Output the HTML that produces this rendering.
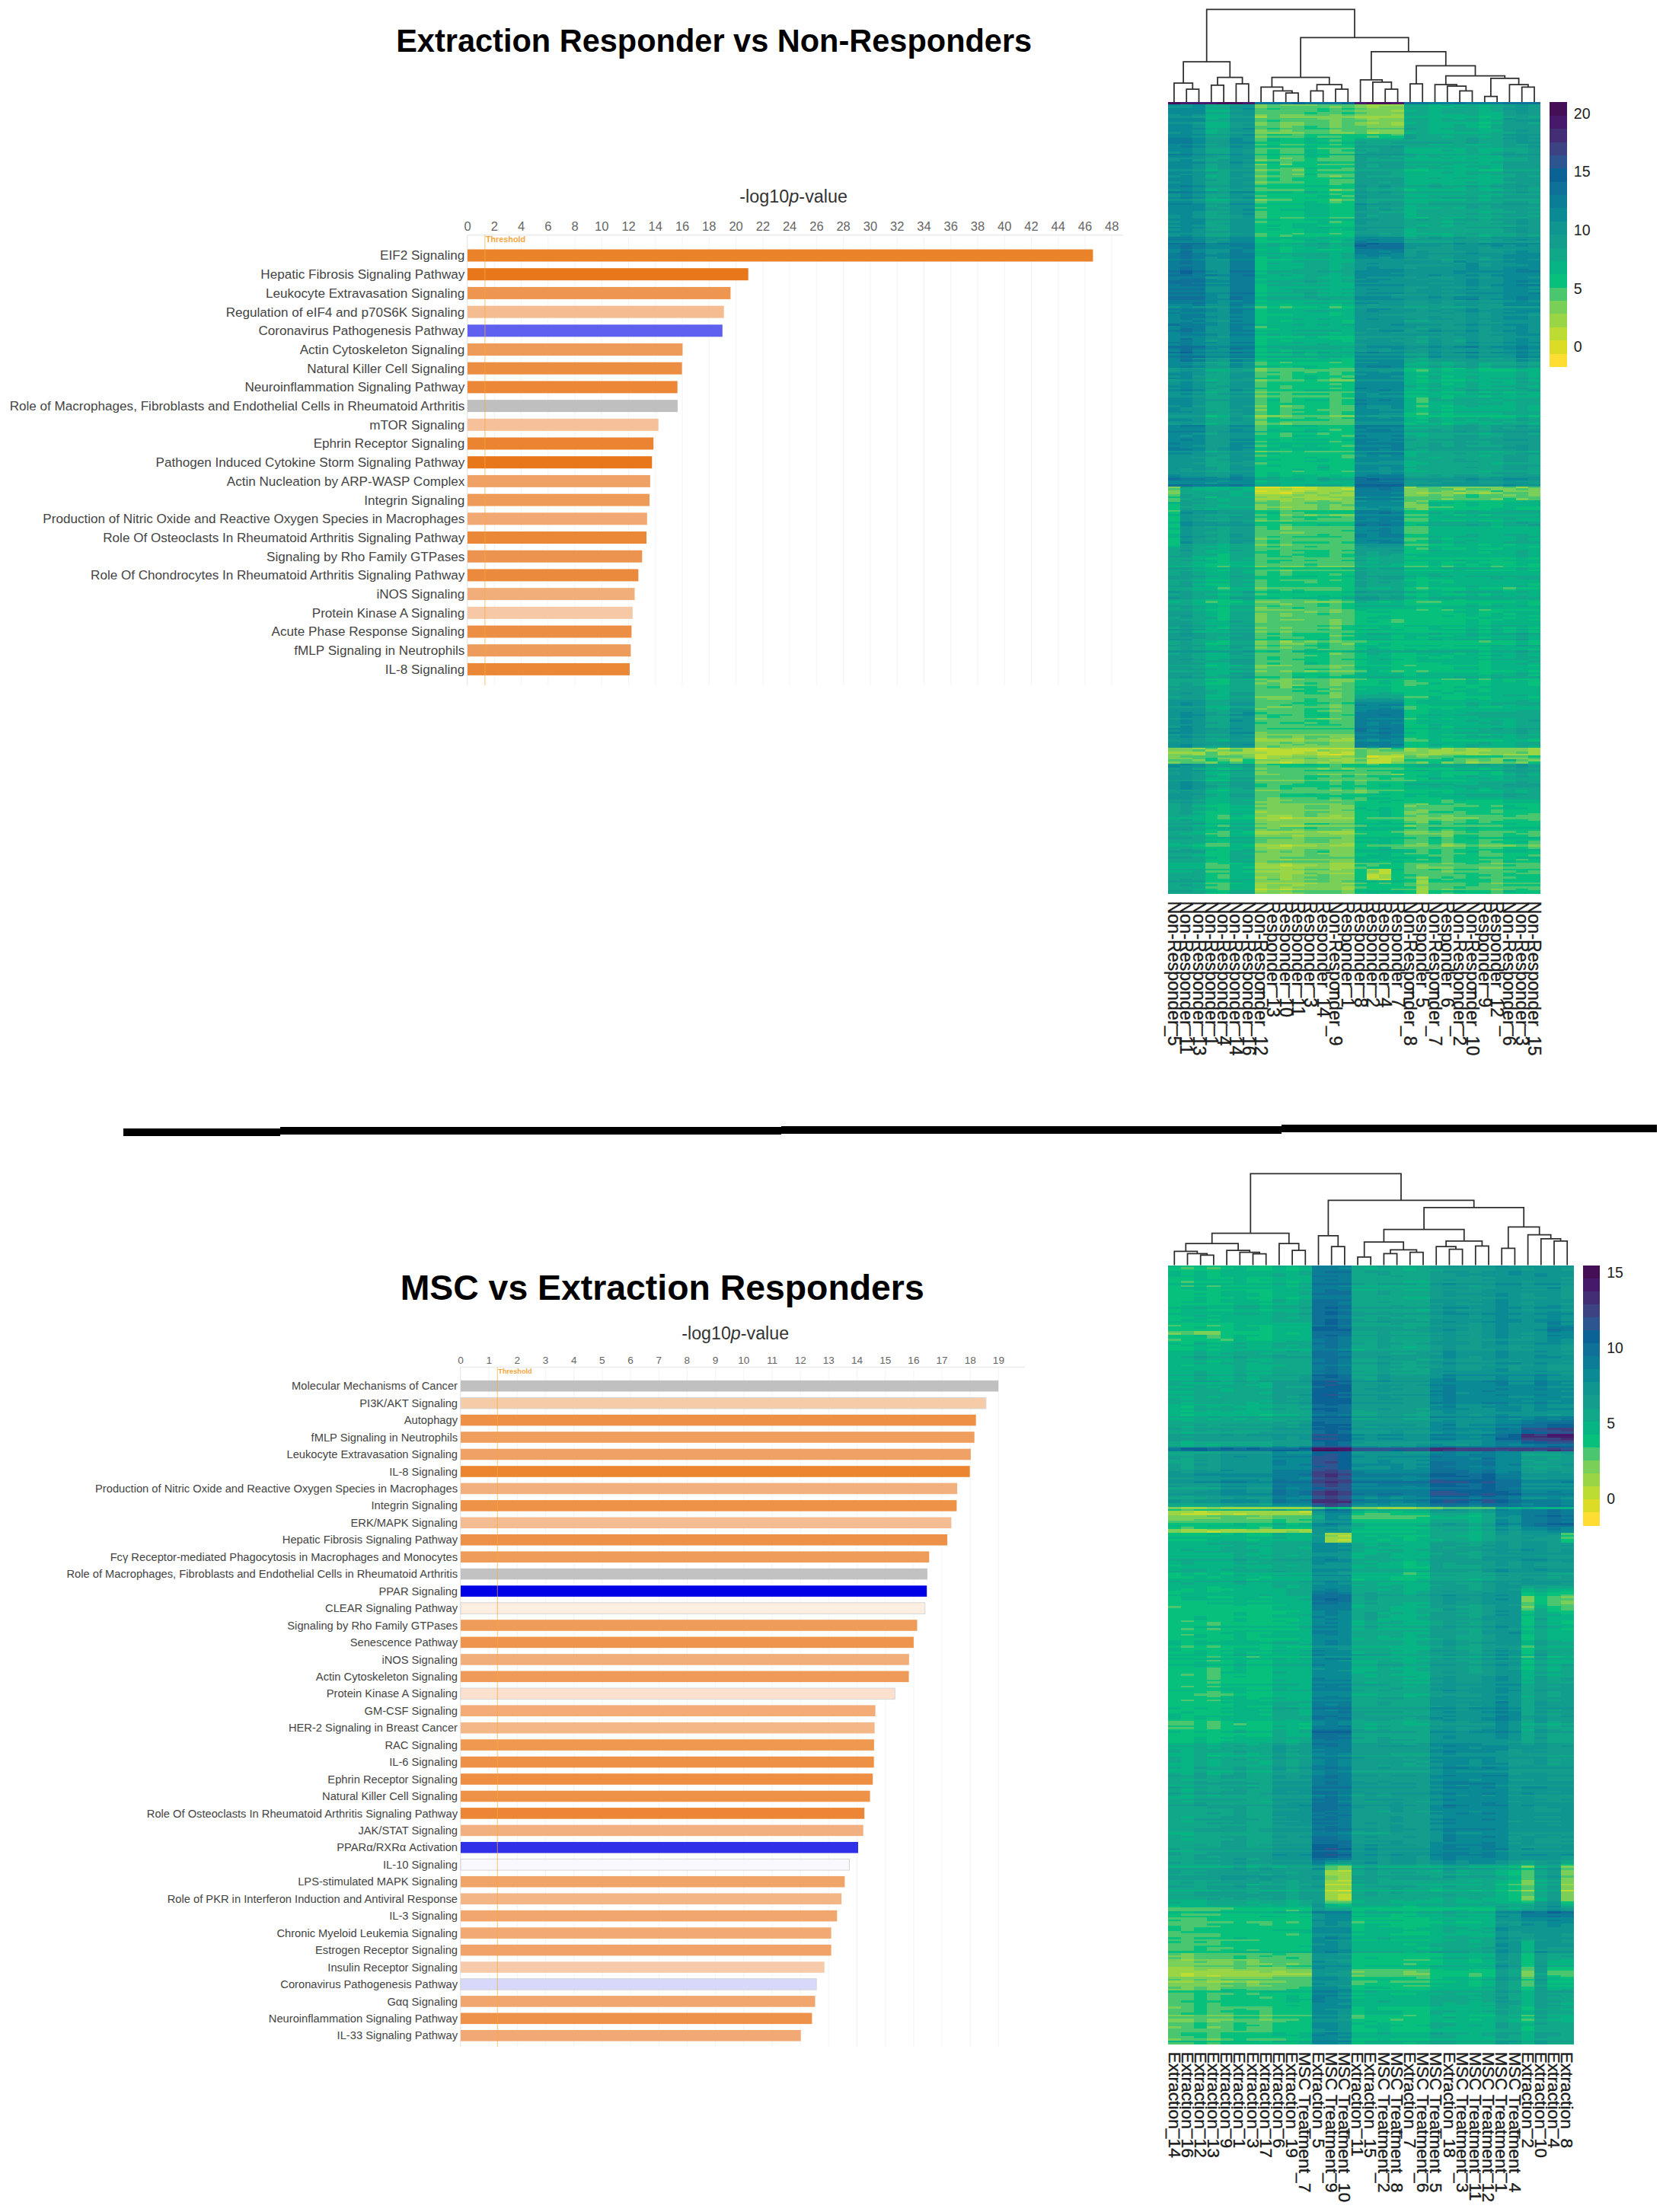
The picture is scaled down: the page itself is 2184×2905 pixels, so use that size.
<!DOCTYPE html><html><head><meta charset="utf-8"><title>Figure</title><style>html,body{margin:0;padding:0;background:#fff}svg{display:block}text{font-family:'Liberation Sans', sans-serif}</style></head><body><svg width="2184" height="2905" viewBox="0 0 2184 2905"><rect width="2184" height="2905" fill="#fff"/><line x1="614.0" y1="308.8" x2="614.0" y2="900.0" stroke="#f5f5f5" stroke-width="1.2"/><line x1="649.3" y1="308.8" x2="649.3" y2="900.0" stroke="#f5f5f5" stroke-width="1.2"/><line x1="684.5" y1="308.8" x2="684.5" y2="900.0" stroke="#f5f5f5" stroke-width="1.2"/><line x1="719.8" y1="308.8" x2="719.8" y2="900.0" stroke="#f5f5f5" stroke-width="1.2"/><line x1="755.0" y1="308.8" x2="755.0" y2="900.0" stroke="#f5f5f5" stroke-width="1.2"/><line x1="790.3" y1="308.8" x2="790.3" y2="900.0" stroke="#f5f5f5" stroke-width="1.2"/><line x1="825.6" y1="308.8" x2="825.6" y2="900.0" stroke="#f5f5f5" stroke-width="1.2"/><line x1="860.8" y1="308.8" x2="860.8" y2="900.0" stroke="#f5f5f5" stroke-width="1.2"/><line x1="896.1" y1="308.8" x2="896.1" y2="900.0" stroke="#f5f5f5" stroke-width="1.2"/><line x1="931.3" y1="308.8" x2="931.3" y2="900.0" stroke="#f5f5f5" stroke-width="1.2"/><line x1="966.6" y1="308.8" x2="966.6" y2="900.0" stroke="#f5f5f5" stroke-width="1.2"/><line x1="1001.9" y1="308.8" x2="1001.9" y2="900.0" stroke="#f5f5f5" stroke-width="1.2"/><line x1="1037.1" y1="308.8" x2="1037.1" y2="900.0" stroke="#f5f5f5" stroke-width="1.2"/><line x1="1072.4" y1="308.8" x2="1072.4" y2="900.0" stroke="#f5f5f5" stroke-width="1.2"/><line x1="1107.6" y1="308.8" x2="1107.6" y2="900.0" stroke="#f5f5f5" stroke-width="1.2"/><line x1="1142.9" y1="308.8" x2="1142.9" y2="900.0" stroke="#f5f5f5" stroke-width="1.2"/><line x1="1178.2" y1="308.8" x2="1178.2" y2="900.0" stroke="#f5f5f5" stroke-width="1.2"/><line x1="1213.4" y1="308.8" x2="1213.4" y2="900.0" stroke="#f5f5f5" stroke-width="1.2"/><line x1="1248.7" y1="308.8" x2="1248.7" y2="900.0" stroke="#f5f5f5" stroke-width="1.2"/><line x1="1283.9" y1="308.8" x2="1283.9" y2="900.0" stroke="#f5f5f5" stroke-width="1.2"/><line x1="1319.2" y1="308.8" x2="1319.2" y2="900.0" stroke="#f5f5f5" stroke-width="1.2"/><line x1="1354.5" y1="308.8" x2="1354.5" y2="900.0" stroke="#f5f5f5" stroke-width="1.2"/><line x1="1389.7" y1="308.8" x2="1389.7" y2="900.0" stroke="#f5f5f5" stroke-width="1.2"/><line x1="1425.0" y1="308.8" x2="1425.0" y2="900.0" stroke="#f5f5f5" stroke-width="1.2"/><line x1="1460.2" y1="308.8" x2="1460.2" y2="900.0" stroke="#f5f5f5" stroke-width="1.2"/><line x1="613.0" y1="308.8" x2="1475.0" y2="308.8" stroke="#ebebeb" stroke-width="1.5"/><line x1="613.5" y1="308.8" x2="613.5" y2="900.0" stroke="#e8e8e8" stroke-width="1.2"/><rect x="614.0" y="327.5" width="821.4" height="16.0" fill="#E98229"/><rect x="614.0" y="352.2" width="368.7" height="16.0" fill="#E8761A"/><rect x="614.0" y="376.9" width="345.4" height="16.0" fill="#EE9550"/><rect x="614.0" y="401.6" width="336.7" height="16.0" fill="#F4BC90"/><rect x="614.0" y="426.3" width="334.8" height="16.0" fill="#6060F0"/><rect x="614.0" y="451.0" width="282.4" height="16.0" fill="#EE9A58"/><rect x="614.0" y="475.7" width="281.6" height="16.0" fill="#EC8E42"/><rect x="614.0" y="500.4" width="275.7" height="16.0" fill="#EB8736"/><rect x="614.0" y="525.1" width="275.9" height="16.0" fill="#BFBFBF"/><rect x="614.0" y="549.8" width="250.7" height="16.0" fill="#F5C09A"/><rect x="614.0" y="574.5" width="244.2" height="16.0" fill="#EA8430"/><rect x="614.0" y="599.2" width="242.3" height="16.0" fill="#E8771C"/><rect x="614.0" y="623.9" width="239.9" height="16.0" fill="#F0A266"/><rect x="614.0" y="648.6" width="239.0" height="16.0" fill="#EE9A58"/><rect x="614.0" y="673.3" width="235.8" height="16.0" fill="#F1A872"/><rect x="614.0" y="698.0" width="235.0" height="16.0" fill="#EA8838"/><rect x="614.0" y="722.7" width="229.3" height="16.0" fill="#ED9350"/><rect x="614.0" y="747.4" width="224.4" height="16.0" fill="#EB8A3C"/><rect x="614.0" y="772.1" width="219.5" height="16.0" fill="#F2AE7A"/><rect x="614.0" y="796.8" width="216.8" height="16.0" fill="#F6C8A6"/><rect x="614.0" y="821.5" width="215.4" height="16.0" fill="#EC8E44"/><rect x="614.0" y="846.2" width="214.4" height="16.0" fill="#EE9C5C"/><rect x="614.0" y="870.9" width="213.0" height="16.0" fill="#EB8838"/><line x1="636.9" y1="308.8" x2="636.9" y2="900.0" stroke="#f7a93b" stroke-width="1.2" opacity="0.6"/><text x="637.9" y="318.4" font-size="10.8" font-weight="bold" fill="#f5a742">Threshold</text><g font-size="17.10" fill="#444" text-anchor="end"><text x="610.3" y="341.4">EIF2 Signaling</text><text x="610.3" y="366.1">Hepatic Fibrosis Signaling Pathway</text><text x="610.3" y="390.8">Leukocyte Extravasation Signaling</text><text x="610.3" y="415.5">Regulation of eIF4 and p70S6K Signaling</text><text x="610.3" y="440.2">Coronavirus Pathogenesis Pathway</text><text x="610.3" y="464.9">Actin Cytoskeleton Signaling</text><text x="610.3" y="489.6">Natural Killer Cell Signaling</text><text x="610.3" y="514.3">Neuroinflammation Signaling Pathway</text><text x="610.3" y="539.0">Role of Macrophages, Fibroblasts and Endothelial Cells in Rheumatoid Arthritis</text><text x="610.3" y="563.7">mTOR Signaling</text><text x="610.3" y="588.4">Ephrin Receptor Signaling</text><text x="610.3" y="613.1">Pathogen Induced Cytokine Storm Signaling Pathway</text><text x="610.3" y="637.8">Actin Nucleation by ARP-WASP Complex</text><text x="610.3" y="662.5">Integrin Signaling</text><text x="610.3" y="687.2">Production of Nitric Oxide and Reactive Oxygen Species in Macrophages</text><text x="610.3" y="711.9">Role Of Osteoclasts In Rheumatoid Arthritis Signaling Pathway</text><text x="610.3" y="736.6">Signaling by Rho Family GTPases</text><text x="610.3" y="761.3">Role Of Chondrocytes In Rheumatoid Arthritis Signaling Pathway</text><text x="610.3" y="786.0">iNOS Signaling</text><text x="610.3" y="810.7">Protein Kinase A Signaling</text><text x="610.3" y="835.4">Acute Phase Response Signaling</text><text x="610.3" y="860.1">fMLP Signaling in Neutrophils</text><text x="610.3" y="884.8">IL-8 Signaling</text></g><g font-size="16.50" fill="#666" text-anchor="middle"><text x="614.0" y="302.5">0</text><text x="649.3" y="302.5">2</text><text x="684.5" y="302.5">4</text><text x="719.8" y="302.5">6</text><text x="755.0" y="302.5">8</text><text x="790.3" y="302.5">10</text><text x="825.6" y="302.5">12</text><text x="860.8" y="302.5">14</text><text x="896.1" y="302.5">16</text><text x="931.3" y="302.5">18</text><text x="966.6" y="302.5">20</text><text x="1001.9" y="302.5">22</text><text x="1037.1" y="302.5">24</text><text x="1072.4" y="302.5">26</text><text x="1107.6" y="302.5">28</text><text x="1142.9" y="302.5">30</text><text x="1178.2" y="302.5">32</text><text x="1213.4" y="302.5">34</text><text x="1248.7" y="302.5">36</text><text x="1283.9" y="302.5">38</text><text x="1319.2" y="302.5">40</text><text x="1354.5" y="302.5">42</text><text x="1389.7" y="302.5">44</text><text x="1425.0" y="302.5">46</text><text x="1460.2" y="302.5">48</text></g><text x="971.3" y="265.9" font-size="23.0" fill="#333" textLength="141.8" lengthAdjust="spacingAndGlyphs">-log10<tspan font-style="italic">p</tspan>-value</text><text x="520.2" y="68.4" font-size="42.0" font-weight="bold" fill="#000" textLength="835.0" lengthAdjust="spacingAndGlyphs">Extraction Responder vs Non-Responders</text><line x1="605.0" y1="1795.6" x2="605.0" y2="2688.0" stroke="#f5f5f5" stroke-width="1.2"/><line x1="642.2" y1="1795.6" x2="642.2" y2="2688.0" stroke="#f5f5f5" stroke-width="1.2"/><line x1="679.4" y1="1795.6" x2="679.4" y2="2688.0" stroke="#f5f5f5" stroke-width="1.2"/><line x1="716.5" y1="1795.6" x2="716.5" y2="2688.0" stroke="#f5f5f5" stroke-width="1.2"/><line x1="753.7" y1="1795.6" x2="753.7" y2="2688.0" stroke="#f5f5f5" stroke-width="1.2"/><line x1="790.9" y1="1795.6" x2="790.9" y2="2688.0" stroke="#f5f5f5" stroke-width="1.2"/><line x1="828.1" y1="1795.6" x2="828.1" y2="2688.0" stroke="#f5f5f5" stroke-width="1.2"/><line x1="865.3" y1="1795.6" x2="865.3" y2="2688.0" stroke="#f5f5f5" stroke-width="1.2"/><line x1="902.4" y1="1795.6" x2="902.4" y2="2688.0" stroke="#f5f5f5" stroke-width="1.2"/><line x1="939.6" y1="1795.6" x2="939.6" y2="2688.0" stroke="#f5f5f5" stroke-width="1.2"/><line x1="976.8" y1="1795.6" x2="976.8" y2="2688.0" stroke="#f5f5f5" stroke-width="1.2"/><line x1="1014.0" y1="1795.6" x2="1014.0" y2="2688.0" stroke="#f5f5f5" stroke-width="1.2"/><line x1="1051.2" y1="1795.6" x2="1051.2" y2="2688.0" stroke="#f5f5f5" stroke-width="1.2"/><line x1="1088.3" y1="1795.6" x2="1088.3" y2="2688.0" stroke="#f5f5f5" stroke-width="1.2"/><line x1="1125.5" y1="1795.6" x2="1125.5" y2="2688.0" stroke="#f5f5f5" stroke-width="1.2"/><line x1="1162.7" y1="1795.6" x2="1162.7" y2="2688.0" stroke="#f5f5f5" stroke-width="1.2"/><line x1="1199.9" y1="1795.6" x2="1199.9" y2="2688.0" stroke="#f5f5f5" stroke-width="1.2"/><line x1="1237.1" y1="1795.6" x2="1237.1" y2="2688.0" stroke="#f5f5f5" stroke-width="1.2"/><line x1="1274.2" y1="1795.6" x2="1274.2" y2="2688.0" stroke="#f5f5f5" stroke-width="1.2"/><line x1="1311.4" y1="1795.6" x2="1311.4" y2="2688.0" stroke="#f5f5f5" stroke-width="1.2"/><line x1="604.0" y1="1795.6" x2="1346.0" y2="1795.6" stroke="#ebebeb" stroke-width="1.5"/><line x1="604.5" y1="1795.6" x2="604.5" y2="2688.0" stroke="#e8e8e8" stroke-width="1.2"/><rect x="605.0" y="1812.9" width="706.2" height="14.6" fill="#C0C0C0"/><rect x="605.0" y="1835.4" width="689.9" height="14.6" fill="#F6CBA8" stroke="#d6d6d6" stroke-width="1"/><rect x="605.0" y="1857.8" width="676.7" height="14.6" fill="#EE9045"/><rect x="605.0" y="1880.2" width="674.7" height="14.6" fill="#EF9E5E"/><rect x="605.0" y="1902.7" width="669.9" height="14.6" fill="#F0A266"/><rect x="605.0" y="1925.2" width="668.7" height="14.6" fill="#EC8530"/><rect x="605.0" y="1947.6" width="652.1" height="14.6" fill="#F2B07E"/><rect x="605.0" y="1970.1" width="651.4" height="14.6" fill="#EE9248"/><rect x="605.0" y="1992.5" width="644.4" height="14.6" fill="#F4BC92"/><rect x="605.0" y="2015.0" width="639.1" height="14.6" fill="#EE9148"/><rect x="605.0" y="2037.4" width="615.3" height="14.6" fill="#EF9C5A"/><rect x="605.0" y="2059.8" width="612.9" height="14.6" fill="#C2C2C2"/><rect x="605.0" y="2082.3" width="612.2" height="14.6" fill="#0000E6"/><rect x="605.0" y="2104.8" width="609.8" height="14.6" fill="#FDEEE2" stroke="#d6d6d6" stroke-width="1"/><rect x="605.0" y="2127.2" width="599.5" height="14.6" fill="#EF9C5A"/><rect x="605.0" y="2149.6" width="594.9" height="14.6" fill="#EE944C"/><rect x="605.0" y="2172.1" width="588.9" height="14.6" fill="#F2AE7A"/><rect x="605.0" y="2194.5" width="588.6" height="14.6" fill="#EF9A58"/><rect x="605.0" y="2217.0" width="570.3" height="14.6" fill="#FBE0CE" stroke="#d6d6d6" stroke-width="1"/><rect x="605.0" y="2239.4" width="544.6" height="14.6" fill="#F3AC78"/><rect x="605.0" y="2261.9" width="543.6" height="14.6" fill="#F4B888"/><rect x="605.0" y="2284.3" width="542.9" height="14.6" fill="#EF9850"/><rect x="605.0" y="2306.8" width="542.7" height="14.6" fill="#EE9045"/><rect x="605.0" y="2329.2" width="541.2" height="14.6" fill="#EE8E42"/><rect x="605.0" y="2351.7" width="537.6" height="14.6" fill="#EE9248"/><rect x="605.0" y="2374.1" width="530.2" height="14.6" fill="#EC8636"/><rect x="605.0" y="2396.6" width="528.7" height="14.6" fill="#F2B080"/><rect x="605.0" y="2419.0" width="522.0" height="14.6" fill="#3030E8"/><rect x="605.0" y="2441.5" width="510.5" height="14.6" fill="#F8F8FE" stroke="#d6d6d6" stroke-width="1"/><rect x="605.0" y="2463.9" width="504.4" height="14.6" fill="#F0A468"/><rect x="605.0" y="2486.4" width="500.1" height="14.6" fill="#F3B486"/><rect x="605.0" y="2508.8" width="494.3" height="14.6" fill="#F0A66C"/><rect x="605.0" y="2531.3" width="486.6" height="14.6" fill="#F1AA74"/><rect x="605.0" y="2553.8" width="486.6" height="14.6" fill="#F0A268"/><rect x="605.0" y="2576.2" width="477.7" height="14.6" fill="#F7CBAA"/><rect x="605.0" y="2598.6" width="467.2" height="14.6" fill="#D8D8FA" stroke="#d6d6d6" stroke-width="1"/><rect x="605.0" y="2621.1" width="465.5" height="14.6" fill="#F0A66C"/><rect x="605.0" y="2643.5" width="461.4" height="14.6" fill="#EE924A"/><rect x="605.0" y="2666.0" width="446.7" height="14.6" fill="#F1A874"/><line x1="653.3" y1="1795.6" x2="653.3" y2="2688.0" stroke="#f7a93b" stroke-width="1.2" opacity="0.6"/><text x="654.3" y="1803.6" font-size="9.2" font-weight="bold" fill="#f5a742">Threshold</text><g font-size="14.70" fill="#444" text-anchor="end"><text x="601.0" y="1825.3">Molecular Mechanisms of Cancer</text><text x="601.0" y="1847.7">PI3K/AKT Signaling</text><text x="601.0" y="1870.2">Autophagy</text><text x="601.0" y="1892.6">fMLP Signaling in Neutrophils</text><text x="601.0" y="1915.1">Leukocyte Extravasation Signaling</text><text x="601.0" y="1937.5">IL-8 Signaling</text><text x="601.0" y="1960.0">Production of Nitric Oxide and Reactive Oxygen Species in Macrophages</text><text x="601.0" y="1982.4">Integrin Signaling</text><text x="601.0" y="2004.9">ERK/MAPK Signaling</text><text x="601.0" y="2027.3">Hepatic Fibrosis Signaling Pathway</text><text x="601.0" y="2049.8">Fcγ Receptor-mediated Phagocytosis in Macrophages and Monocytes</text><text x="601.0" y="2072.2">Role of Macrophages, Fibroblasts and Endothelial Cells in Rheumatoid Arthritis</text><text x="601.0" y="2094.7">PPAR Signaling</text><text x="601.0" y="2117.1">CLEAR Signaling Pathway</text><text x="601.0" y="2139.6">Signaling by Rho Family GTPases</text><text x="601.0" y="2162.0">Senescence Pathway</text><text x="601.0" y="2184.5">iNOS Signaling</text><text x="601.0" y="2206.9">Actin Cytoskeleton Signaling</text><text x="601.0" y="2229.4">Protein Kinase A Signaling</text><text x="601.0" y="2251.8">GM-CSF Signaling</text><text x="601.0" y="2274.3">HER-2 Signaling in Breast Cancer</text><text x="601.0" y="2296.7">RAC Signaling</text><text x="601.0" y="2319.2">IL-6 Signaling</text><text x="601.0" y="2341.6">Ephrin Receptor Signaling</text><text x="601.0" y="2364.1">Natural Killer Cell Signaling</text><text x="601.0" y="2386.5">Role Of Osteoclasts In Rheumatoid Arthritis Signaling Pathway</text><text x="601.0" y="2409.0">JAK/STAT Signaling</text><text x="601.0" y="2431.4">PPARα/RXRα Activation</text><text x="601.0" y="2453.9">IL-10 Signaling</text><text x="601.0" y="2476.3">LPS-stimulated MAPK Signaling</text><text x="601.0" y="2498.8">Role of PKR in Interferon Induction and Antiviral Response</text><text x="601.0" y="2521.2">IL-3 Signaling</text><text x="601.0" y="2543.7">Chronic Myeloid Leukemia Signaling</text><text x="601.0" y="2566.1">Estrogen Receptor Signaling</text><text x="601.0" y="2588.6">Insulin Receptor Signaling</text><text x="601.0" y="2611.0">Coronavirus Pathogenesis Pathway</text><text x="601.0" y="2633.5">Gαq Signaling</text><text x="601.0" y="2655.9">Neuroinflammation Signaling Pathway</text><text x="601.0" y="2678.4">IL-33 Signaling Pathway</text></g><g font-size="13.60" fill="#666" text-anchor="middle"><text x="605.0" y="1790.9">0</text><text x="642.2" y="1790.9">1</text><text x="679.4" y="1790.9">2</text><text x="716.5" y="1790.9">3</text><text x="753.7" y="1790.9">4</text><text x="790.9" y="1790.9">5</text><text x="828.1" y="1790.9">6</text><text x="865.3" y="1790.9">7</text><text x="902.4" y="1790.9">8</text><text x="939.6" y="1790.9">9</text><text x="976.8" y="1790.9">10</text><text x="1014.0" y="1790.9">11</text><text x="1051.2" y="1790.9">12</text><text x="1088.3" y="1790.9">13</text><text x="1125.5" y="1790.9">14</text><text x="1162.7" y="1790.9">15</text><text x="1199.9" y="1790.9">16</text><text x="1237.1" y="1790.9">17</text><text x="1274.2" y="1790.9">18</text><text x="1311.4" y="1790.9">19</text></g><text x="895.3" y="1759.3" font-size="23.0" fill="#333" textLength="140.8" lengthAdjust="spacingAndGlyphs">-log10<tspan font-style="italic">p</tspan>-value</text><text x="525.7" y="1706.8" font-size="46.5" font-weight="bold" fill="#000" textLength="688.0" lengthAdjust="spacingAndGlyphs">MSC vs Extraction Responders</text><rect x="162" y="1482" width="206" height="10" fill="#000"/><rect x="368" y="1480" width="658" height="10" fill="#000"/><rect x="1026" y="1479" width="657" height="10" fill="#000"/><rect x="1683" y="1477" width="493" height="10" fill="#000"/><g shape-rendering="crispEdges"><rect x="1533.7" y="134" width="489.5" height="1040.3" fill="#10A888"/><path fill="#440F57" d="M1533.7 134h16.3v2.6h-16.3zM1794.8 134h32.6v2.6h-32.6zM1599 134h32.6v2.6h-32.6z"/><path fill="#46196A" d="M1778.5 134h16.3v2.6h-16.3zM1827.4 134h16.3v2.6h-16.3zM1631.6 134h16.3v2.6h-16.3zM1550 134h49v2.6h-49z"/><path fill="#0A6295" d="M1762.1 134h16.4v2.6h-16.4zM1696.9 134h16.3v2.6h-16.3zM1794.8 318.7h16.3v2.6h-16.3zM1778.5 321.3h16.3v2.6h-16.3zM1550 355.1h16.3v5.2h-16.3zM1550 461.7h16.3v2.6h-16.3zM1794.8 628.1h16.3v2.6h-16.3zM1778.5 635.9h65.2v2.6h-65.2z"/><path fill="#0F7098" d="M1843.7 134h32.6v2.6h-32.6zM1909 134h16.3v2.6h-16.3zM1647.9 134h49v2.6h-49zM1713.2 134h48.9v2.6h-48.9zM1974.2 134h49v2.6h-49zM1533.7 318.7h49v2.6h-49zM1811.1 318.7h32.6v2.6h-32.6zM1778.5 318.7h16.3v2.6h-16.3zM1794.8 321.3h48.9v2.6h-48.9zM1550 321.3h16.3v5.2h-16.3zM1778.5 323.9h65.2v2.6h-65.2zM1550 329.1h16.3v10.4h-16.3zM1550 342.1h16.3v5.2h-16.3zM1550 349.9h16.3v5.2h-16.3zM1615.3 355.1h32.6v2.6h-32.6zM1566.3 355.1h16.4v2.6h-16.4zM1533.7 355.1h16.3v2.6h-16.3zM1631.6 360.3h16.3v2.6h-16.3zM1533.7 360.3h32.6v2.6h-32.6zM1550 365.5h32.7v2.6h-32.7zM1533.7 368.1h49v2.6h-49zM1533.7 370.7h32.6v2.6h-32.6zM1550 373.3h32.7v2.6h-32.7zM1533.7 378.5h49v2.6h-49zM1615.3 383.7h32.6v2.6h-32.6zM1533.7 383.7h49v2.6h-49zM1533.7 388.9h49v5.2h-49zM1615.3 388.9h16.3v5.2h-16.3zM1566.3 396.7h16.4v2.6h-16.4zM1533.7 425.3h16.3v2.6h-16.3zM1550 430.5h16.3v5.2h-16.3zM1550 443.5h16.3v2.6h-16.3zM1533.7 453.9h49v2.6h-49zM1615.3 456.5h16.3v2.6h-16.3zM1550 456.5h16.3v5.2h-16.3zM1533.7 461.7h16.3v2.6h-16.3zM1615.3 461.7h16.3v2.6h-16.3zM1550 466.9h32.7v2.6h-32.7zM1550 472.1h16.3v2.6h-16.3zM1778.5 625.5h16.3v5.2h-16.3zM1533.7 628.1h16.3v2.6h-16.3zM1811.1 628.1h32.6v2.6h-32.6zM1778.5 630.7h32.6v2.6h-32.6zM1778.5 633.3h65.2v2.6h-65.2zM1533.7 635.9h32.6v2.6h-32.6zM1615.3 635.9h16.3v2.6h-16.3zM1778.5 638.5h48.9v2.6h-48.9zM1811.1 641.1h16.3v2.6h-16.3zM1811.1 672.4h16.3v2.6h-16.3zM1778.5 688h16.3v2.6h-16.3zM1811.1 688h16.3v2.6h-16.3zM1811.1 937.6h16.3v2.6h-16.3zM1811.1 955.8h16.3v2.6h-16.3zM1778.5 955.8h16.3v5.2h-16.3zM1811.1 961h16.3v2.6h-16.3z"/><path fill="#0C7D96" d="M1876.3 134h32.7v2.6h-32.7zM1925.3 134h48.9v2.6h-48.9zM1533.7 180.8h32.6v7.8h-32.6zM1550 191.2h16.3v2.6h-16.3zM1533.7 201.6h32.6v2.6h-32.6zM1550 243.2h16.3v2.6h-16.3zM1533.7 251h32.6v2.6h-32.6zM1550 258.8h16.3v2.6h-16.3zM1533.7 266.6h32.6v2.6h-32.6zM1533.7 310.9h32.6v5.2h-32.6zM1794.8 313.5h16.3v2.6h-16.3zM1778.5 316.1h16.3v2.6h-16.3zM1599 318.7h48.9v2.6h-48.9zM1615.3 321.3h32.6v2.6h-32.6zM1533.7 321.3h16.3v5.2h-16.3zM1566.3 321.3h16.4v5.2h-16.4zM1631.6 323.9h16.3v2.6h-16.3zM1550 326.5h16.3v2.6h-16.3zM1778.5 326.5h65.2v2.6h-65.2zM1615.3 326.5h16.3v5.2h-16.3zM1778.5 329.1h32.6v2.6h-32.6zM1827.4 329.1h16.3v2.6h-16.3zM1778.5 331.7h48.9v2.6h-48.9zM1794.8 334.3h16.3v2.6h-16.3zM1533.7 331.7h16.3v7.8h-16.3zM1615.3 331.7h32.6v7.8h-32.6zM1566.3 331.7h16.4v7.8h-16.4zM1550 339.5h16.3v2.6h-16.3zM1533.7 342.1h16.3v5.2h-16.3zM1566.3 342.1h16.4v5.2h-16.4zM1533.7 347.3h49v2.6h-49zM1615.3 342.1h32.6v13h-32.6zM1533.7 349.9h16.3v5.2h-16.3zM1566.3 349.9h16.4v5.2h-16.4zM1990.6 352.5h16.3v2.6h-16.3zM1990.6 355.1h32.6v2.6h-32.6zM1533.7 357.7h16.3v2.6h-16.3zM1615.3 357.7h32.6v2.6h-32.6zM1566.3 357.7h16.4v2.6h-16.4zM1566.3 360.3h32.7v2.6h-32.7zM1615.3 360.3h16.3v2.6h-16.3zM1533.7 362.9h49v2.6h-49zM1533.7 365.5h16.3v2.6h-16.3zM1990.6 368.1h16.3v2.6h-16.3zM1566.3 370.7h16.4v2.6h-16.4zM1990.6 373.3h32.6v2.6h-32.6zM1533.7 373.3h16.3v2.6h-16.3zM1533.7 375.9h49v2.6h-49zM1615.3 362.9h32.6v20.8h-32.6zM1533.7 381.1h49v2.6h-49zM2006.9 383.7h16.3v2.6h-16.3zM1533.7 386.3h49v2.6h-49zM1615.3 386.3h32.6v2.6h-32.6zM1990.6 388.9h16.3v5.2h-16.3zM1925.3 391.5h16.3v2.6h-16.3zM1631.6 388.9h16.3v7.8h-16.3zM1533.7 394.1h49v2.6h-49zM1533.7 396.7h32.6v2.6h-32.6zM1615.3 396.7h32.6v2.6h-32.6zM1615.3 399.3h16.3v2.6h-16.3zM1566.3 399.3h16.4v2.6h-16.4zM1533.7 404.5h49v2.6h-49zM1615.3 404.5h32.6v2.6h-32.6zM1550 407.1h32.7v2.6h-32.7zM1615.3 407.1h16.3v5.2h-16.3zM1533.7 409.7h16.3v2.6h-16.3zM1550 412.3h32.7v5.2h-32.7zM1615.3 414.9h16.3v2.6h-16.3zM1550 417.5h16.3v2.6h-16.3zM1615.3 420.1h16.3v2.6h-16.3zM1566.3 420.1h16.4v2.6h-16.4zM1550 422.7h16.3v2.6h-16.3zM1615.3 425.3h32.6v2.6h-32.6zM1550 425.3h32.7v5.2h-32.7zM1615.3 427.9h16.3v5.2h-16.3zM1566.3 430.5h16.4v5.2h-16.4zM1533.7 433.1h16.3v2.6h-16.3zM1615.3 433.1h32.6v2.6h-32.6zM1550 435.7h16.3v2.6h-16.3zM1550 438.3h32.7v2.6h-32.7zM1615.3 438.3h32.6v2.6h-32.6zM1550 446.1h16.3v2.6h-16.3zM1533.7 448.7h32.6v2.6h-32.6zM1615.3 448.7h32.6v2.6h-32.6zM1550 451.3h16.3v2.6h-16.3zM1925.3 453.9h16.3v2.6h-16.3zM1615.3 453.9h32.6v2.6h-32.6zM1990.6 453.9h16.3v5.2h-16.3zM1631.6 456.5h16.3v2.6h-16.3zM1533.7 456.5h16.3v2.6h-16.3zM1566.3 456.5h16.4v2.6h-16.4zM1990.6 461.7h16.3v2.6h-16.3zM1925.3 461.7h16.3v2.6h-16.3zM1794.8 461.7h16.3v2.6h-16.3zM1631.6 461.7h16.3v2.6h-16.3zM1566.3 461.7h16.4v2.6h-16.4zM1550 464.3h16.3v2.6h-16.3zM1990.6 466.9h16.3v2.6h-16.3zM1533.7 466.9h16.3v2.6h-16.3zM1615.3 466.9h32.6v2.6h-32.6zM1550 469.5h16.3v2.6h-16.3zM1566.3 472.1h16.4v2.6h-16.4zM1615.3 472.1h16.3v2.6h-16.3zM1550 479.9h16.3v2.6h-16.3zM1794.8 479.9h32.6v2.6h-32.6zM1778.5 508.5h16.3v2.6h-16.3zM1811.1 511.1h16.3v2.6h-16.3zM1550 511.1h16.3v2.6h-16.3zM1811.1 524.1h16.3v2.6h-16.3zM1778.5 524.1h16.3v2.6h-16.3zM1778.5 529.3h16.3v2.6h-16.3zM1550 557.9h32.7v2.6h-32.7zM1778.5 557.9h65.2v2.6h-65.2zM1778.5 560.5h16.3v2.6h-16.3zM1794.8 563.1h32.6v2.6h-32.6zM1533.7 565.7h49v2.6h-49zM1778.5 565.7h65.2v2.6h-65.2zM1827.4 570.9h16.3v2.6h-16.3zM1778.5 570.9h16.3v2.6h-16.3zM1778.5 576.1h32.6v2.6h-32.6zM1550 576.1h16.3v2.6h-16.3zM1827.4 576.1h16.3v2.6h-16.3zM1778.5 578.7h16.3v2.6h-16.3zM1533.7 581.3h16.3v2.6h-16.3zM1778.5 581.3h65.2v2.6h-65.2zM1827.4 583.9h16.3v2.6h-16.3zM1533.7 586.5h16.3v2.6h-16.3zM1778.5 586.5h65.2v2.6h-65.2zM1778.5 589.1h32.6v2.6h-32.6zM1533.7 589.1h32.6v2.6h-32.6zM1827.4 589.1h16.3v2.6h-16.3zM1794.8 594.3h48.9v2.6h-48.9zM1794.8 622.9h48.9v5.2h-48.9zM1533.7 625.5h16.3v2.6h-16.3zM1615.3 625.5h16.3v5.2h-16.3zM1550 628.1h32.7v2.6h-32.7zM1811.1 630.7h32.6v2.6h-32.6zM1566.3 635.9h49v2.6h-49zM1631.6 635.9h16.3v2.6h-16.3zM1827.4 638.5h16.3v5.2h-16.3zM1778.5 641.1h32.6v2.6h-32.6zM1778.5 643.7h65.2v2.6h-65.2zM1778.5 646.3h48.9v2.6h-48.9zM1778.5 648.9h65.2v2.6h-65.2zM1778.5 654.1h65.2v2.7h-65.2zM1778.5 669.8h48.9v2.6h-48.9zM1827.4 672.4h16.3v2.6h-16.3zM1778.5 672.4h32.6v2.6h-32.6zM1778.5 677.6h65.2v2.6h-65.2zM1811.1 680.2h32.6v2.6h-32.6zM1778.5 680.2h16.3v2.6h-16.3zM1811.1 682.8h16.3v2.6h-16.3zM1778.5 685.4h65.2v2.6h-65.2zM1794.8 688h16.3v2.6h-16.3zM1827.4 688h16.3v2.6h-16.3zM1811.1 693.2h16.3v2.6h-16.3zM1794.8 695.8h32.6v2.6h-32.6zM1811.1 698.4h16.3v2.6h-16.3zM1811.1 701h32.6v5.2h-32.6zM1778.5 701h16.3v5.2h-16.3zM1794.8 708.8h32.6v2.6h-32.6zM1811.1 711.4h32.6v2.6h-32.6zM1811.1 924.6h32.6v2.6h-32.6zM1778.5 924.6h16.3v2.6h-16.3zM1811.1 929.8h16.3v2.6h-16.3zM1794.8 932.4h48.9v2.6h-48.9zM1778.5 935h65.2v2.6h-65.2zM1778.5 937.6h32.6v2.6h-32.6zM1827.4 937.6h16.3v2.6h-16.3zM1778.5 940.2h65.2v2.6h-65.2zM1778.5 942.8h16.3v2.6h-16.3zM1778.5 945.4h65.2v2.6h-65.2zM1811.1 948h16.3v2.6h-16.3zM1778.5 948h16.3v5.2h-16.3zM1811.1 950.6h32.6v2.6h-32.6zM1778.5 953.2h65.2v2.6h-65.2zM1794.8 955.8h16.3v2.6h-16.3zM1827.4 955.8h16.3v2.6h-16.3zM1811.1 958.4h32.6v2.6h-32.6zM1827.4 961h16.3v2.6h-16.3zM1778.5 961h32.6v2.6h-32.6zM1811.1 963.6h16.3v2.6h-16.3zM1778.5 966.2h65.2v2.6h-65.2zM1811.1 968.8h16.3v2.6h-16.3zM1778.5 968.8h16.3v2.6h-16.3zM1778.5 974h48.9v2.6h-48.9zM1778.5 976.6h65.2v2.6h-65.2zM1811.1 979.2h16.3v2.6h-16.3zM1778.5 979.2h16.3v2.6h-16.3z"/><path fill="#0A8A94" d="M1533.7 136.6h16.3v2.6h-16.3zM1566.3 136.6h16.4v5.2h-16.4zM1631.6 141.8h16.3v2.6h-16.3zM1533.7 141.8h49v7.8h-49zM1550 149.6h16.3v2.6h-16.3zM1533.7 154.8h49v5.2h-49zM1533.7 162.6h32.6v5.2h-32.6zM1631.6 167.8h16.3v2.6h-16.3zM1533.7 167.8h49v2.6h-49zM1533.7 170.4h32.6v2.6h-32.6zM1550 173h16.3v2.6h-16.3zM1631.6 175.6h16.3v2.6h-16.3zM1533.7 175.6h49v2.6h-49zM1533.7 178.2h32.6v2.6h-32.6zM1615.3 180.8h16.3v5.2h-16.3zM1566.3 180.8h16.4v7.8h-16.4zM1615.3 186h32.6v2.6h-32.6zM1533.7 188.6h32.6v2.6h-32.6zM1615.3 191.2h16.3v2.6h-16.3zM1566.3 191.2h16.4v2.6h-16.4zM1533.7 191.2h16.3v2.6h-16.3zM1533.7 193.8h32.6v5.2h-32.6zM1550 199h16.3v2.6h-16.3zM1615.3 201.6h16.3v2.6h-16.3zM1566.3 201.6h16.4v2.6h-16.4zM1533.7 204.2h32.6v2.6h-32.6zM1550 209.4h16.3v2.6h-16.3zM1615.3 212h16.3v2.6h-16.3zM1533.7 212h49v2.6h-49zM1533.7 214.6h32.6v7.8h-32.6zM1533.7 225h32.6v2.6h-32.6zM1533.7 227.6h16.3v2.6h-16.3zM1550 230.2h16.3v2.6h-16.3zM1533.7 232.8h32.6v5.2h-32.6zM1550 238h16.3v2.6h-16.3zM1533.7 240.6h32.6v2.6h-32.6zM1533.7 243.2h16.3v2.6h-16.3zM1566.3 243.2h16.4v2.6h-16.4zM1533.7 245.8h32.6v2.6h-32.6zM1550 248.4h16.3v2.6h-16.3zM1615.3 251h32.6v2.6h-32.6zM1566.3 251h16.4v2.6h-16.4zM1550 253.6h16.3v5.2h-16.3zM1631.6 258.8h16.3v2.6h-16.3zM1566.3 258.8h16.4v2.6h-16.4zM1533.7 258.8h16.3v2.6h-16.3zM1533.7 264h32.6v2.6h-32.6zM1778.5 266.6h16.3v2.6h-16.3zM1615.3 266.6h32.6v2.6h-32.6zM1566.3 266.6h16.4v2.6h-16.4zM1533.7 269.2h49v7.8h-49zM1631.6 274.4h16.3v2.6h-16.3zM1533.7 277h32.6v5.2h-32.6zM1631.6 279.6h16.3v2.6h-16.3zM1550 282.2h16.3v5.2h-16.3zM1533.7 287.4h49v2.6h-49zM1550 290h32.7v2.6h-32.7zM1533.7 292.6h49v2.6h-49zM1550 295.2h16.3v2.6h-16.3zM1533.7 297.8h49v2.6h-49zM1550 300.4h16.3v2.6h-16.3zM1533.7 303h32.6v2.6h-32.6zM1550 308.3h16.3v2.6h-16.3zM1778.5 310.9h65.2v2.6h-65.2zM1566.3 310.9h16.4v5.2h-16.4zM1778.5 313.5h16.3v2.6h-16.3zM1990.6 313.5h16.3v2.6h-16.3zM1811.1 313.5h32.6v2.6h-32.6zM1615.3 310.9h32.6v7.8h-32.6zM1794.8 316.1h48.9v2.6h-48.9zM1533.7 316.1h49v2.6h-49zM1941.6 318.7h81.6v2.6h-81.6zM1582.7 318.7h16.3v2.6h-16.3zM1909 318.7h16.3v2.6h-16.3zM1582.7 321.3h32.6v2.6h-32.6zM1990.6 321.3h16.3v2.6h-16.3zM1957.9 321.3h16.3v2.6h-16.3zM1582.7 323.9h48.9v2.6h-48.9zM1631.6 326.5h16.3v5.2h-16.3zM1566.3 326.5h16.4v5.2h-16.4zM1533.7 326.5h16.3v5.2h-16.3zM1811.1 329.1h16.3v2.6h-16.3zM1990.6 329.1h16.3v2.6h-16.3zM1599 331.7h16.3v2.6h-16.3zM1925.3 331.7h16.3v2.6h-16.3zM1827.4 331.7h16.3v2.6h-16.3zM1990.6 331.7h32.6v2.6h-32.6zM1778.5 334.3h16.3v2.6h-16.3zM1811.1 334.3h32.6v2.6h-32.6zM1582.7 334.3h32.6v2.6h-32.6zM1974.2 334.3h49v5.2h-49zM1827.4 336.9h16.3v2.6h-16.3zM1599 336.9h16.3v2.6h-16.3zM1778.5 336.9h32.6v2.6h-32.6zM1615.3 339.5h32.6v2.6h-32.6zM1566.3 339.5h16.4v2.6h-16.4zM1990.6 339.5h16.3v2.6h-16.3zM1533.7 339.5h16.3v2.6h-16.3zM1909 342.1h16.3v2.6h-16.3zM1974.2 342.1h49v2.6h-49zM1990.6 344.7h32.6v2.6h-32.6zM1794.8 344.7h16.3v2.6h-16.3zM2006.9 347.3h16.3v2.6h-16.3zM1794.8 349.9h16.3v2.6h-16.3zM1974.2 349.9h49v2.6h-49zM1925.3 344.7h16.3v10.4h-16.3zM2006.9 352.5h16.3v2.6h-16.3zM1974.2 352.5h16.4v2.6h-16.4zM1794.8 352.5h48.9v2.6h-48.9zM1778.5 355.1h65.2v2.6h-65.2zM1582.7 355.1h16.3v2.6h-16.3zM1909 355.1h81.6v2.6h-81.6zM1778.5 357.7h48.9v2.6h-48.9zM1974.2 357.7h49v2.6h-49zM1909 357.7h16.3v2.6h-16.3zM1599 360.3h16.3v2.6h-16.3zM1925.3 360.3h16.3v2.6h-16.3zM1778.5 360.3h65.2v2.6h-65.2zM1876.3 360.3h16.4v2.6h-16.4zM1957.9 360.3h65.3v2.6h-65.3zM1778.5 362.9h16.3v2.6h-16.3zM1974.2 362.9h32.7v2.6h-32.7zM1974.2 365.5h49v2.6h-49zM1794.8 365.5h32.6v2.6h-32.6zM1582.7 365.5h16.3v2.6h-16.3zM1974.2 368.1h16.4v2.6h-16.4zM1582.7 368.1h32.6v2.6h-32.6zM1778.5 368.1h32.6v2.6h-32.6zM2006.9 368.1h16.3v2.6h-16.3zM1974.2 370.7h32.7v2.6h-32.7zM1925.3 365.5h16.3v10.4h-16.3zM1778.5 373.3h65.2v2.6h-65.2zM1582.7 373.3h32.6v2.6h-32.6zM1957.9 373.3h32.7v2.6h-32.7zM1974.2 375.9h32.7v2.6h-32.7zM1925.3 378.5h16.3v2.6h-16.3zM1794.8 378.5h16.3v2.6h-16.3zM1974.2 378.5h49v2.6h-49zM1974.2 381.1h32.7v2.6h-32.7zM1925.3 383.7h81.6v2.6h-81.6zM1582.7 383.7h32.6v2.6h-32.6zM1794.8 383.7h48.9v2.6h-48.9zM1974.2 386.3h49v2.6h-49zM1582.7 386.3h16.3v5.2h-16.3zM1974.2 388.9h16.4v2.6h-16.4zM1778.5 388.9h48.9v2.6h-48.9zM1909 388.9h32.6v2.6h-32.6zM1876.3 388.9h16.4v2.6h-16.4zM2006.9 388.9h16.3v5.2h-16.3zM1957.9 391.5h32.7v2.6h-32.7zM1778.5 391.5h65.2v2.6h-65.2zM1582.7 391.5h32.6v2.6h-32.6zM1909 391.5h16.3v2.6h-16.3zM1615.3 394.1h16.3v2.6h-16.3zM1990.6 394.1h16.3v2.6h-16.3zM1582.7 394.1h16.3v5.2h-16.3zM1778.5 396.7h32.6v2.6h-32.6zM1974.2 396.7h49v5.2h-49zM1631.6 399.3h16.3v2.6h-16.3zM1533.7 399.3h32.6v2.6h-32.6zM1615.3 401.9h16.3v2.6h-16.3zM1550 401.9h16.3v2.6h-16.3zM1794.8 404.5h32.6v2.6h-32.6zM1974.2 404.5h49v2.6h-49zM1925.3 404.5h16.3v5.2h-16.3zM1582.7 404.5h16.3v5.2h-16.3zM1990.6 407.1h32.6v2.6h-32.6zM1533.7 407.1h16.3v2.6h-16.3zM1794.8 407.1h16.3v2.6h-16.3zM1631.6 407.1h16.3v5.2h-16.3zM1550 409.7h32.7v2.6h-32.7zM1974.2 409.7h32.7v2.6h-32.7zM1615.3 412.3h32.6v2.6h-32.6zM1631.6 414.9h16.3v2.6h-16.3zM1582.7 414.9h16.3v2.6h-16.3zM1533.7 412.3h16.3v7.8h-16.3zM1974.2 414.9h32.7v5.2h-32.7zM1615.3 417.5h32.6v2.6h-32.6zM1566.3 417.5h16.4v2.6h-16.4zM1794.8 417.5h16.3v2.6h-16.3zM1631.6 420.1h16.3v2.6h-16.3zM1533.7 420.1h32.6v2.6h-32.6zM1566.3 422.7h32.7v2.6h-32.7zM1615.3 422.7h32.6v2.6h-32.6zM1533.7 422.7h16.3v2.6h-16.3zM1827.4 425.3h16.3v2.6h-16.3zM1974.2 425.3h32.7v2.6h-32.7zM1925.3 425.3h16.3v2.6h-16.3zM1582.7 425.3h16.3v2.6h-16.3zM1631.6 427.9h16.3v5.2h-16.3zM1990.6 427.9h16.3v5.2h-16.3zM1533.7 427.9h16.3v5.2h-16.3zM1876.3 433.1h16.4v2.6h-16.4zM1974.2 433.1h32.7v2.6h-32.7zM1925.3 433.1h16.3v2.6h-16.3zM1811.1 433.1h32.6v2.6h-32.6zM1615.3 435.7h32.6v2.6h-32.6zM1566.3 435.7h16.4v2.6h-16.4zM1990.6 435.7h16.3v2.6h-16.3zM1533.7 435.7h16.3v5.2h-16.3zM1582.7 438.3h16.3v2.6h-16.3zM1990.6 438.3h32.6v2.6h-32.6zM1533.7 440.9h49v2.6h-49zM1615.3 440.9h32.6v7.8h-32.6zM1566.3 443.5h16.4v5.2h-16.4zM1990.6 443.5h16.3v5.2h-16.3zM1533.7 443.5h16.3v5.2h-16.3zM1925.3 448.7h16.3v2.6h-16.3zM1566.3 448.7h32.7v2.6h-32.7zM1974.2 448.7h49v2.6h-49zM1533.7 451.3h16.3v2.6h-16.3zM1615.3 451.3h32.6v2.6h-32.6zM1566.3 451.3h16.4v2.6h-16.4zM1990.6 451.3h16.3v2.6h-16.3zM1957.9 453.9h32.7v2.6h-32.7zM1876.3 453.9h16.4v2.6h-16.4zM1582.7 453.9h32.6v2.6h-32.6zM1794.8 453.9h48.9v2.6h-48.9zM1909 453.9h16.3v2.6h-16.3zM2006.9 453.9h16.3v5.2h-16.3zM1974.2 456.5h16.4v2.6h-16.4zM1827.4 456.5h16.3v2.6h-16.3zM1582.7 456.5h16.3v2.6h-16.3zM1533.7 459.1h16.3v2.6h-16.3zM1615.3 459.1h32.6v2.6h-32.6zM1566.3 459.1h16.4v2.6h-16.4zM1990.6 459.1h16.3v2.6h-16.3zM1876.3 461.7h16.4v2.6h-16.4zM1582.7 461.7h32.6v2.6h-32.6zM1957.9 461.7h32.7v2.6h-32.7zM1909 461.7h16.3v2.6h-16.3zM1778.5 461.7h16.3v2.6h-16.3zM1811.1 461.7h32.6v2.6h-32.6zM2006.9 461.7h16.3v2.6h-16.3zM1615.3 464.3h32.6v2.6h-32.6zM1566.3 464.3h16.4v2.6h-16.4zM1990.6 464.3h16.3v2.6h-16.3zM1533.7 464.3h16.3v2.6h-16.3zM1925.3 466.9h16.3v2.6h-16.3zM1778.5 466.9h65.2v2.6h-65.2zM1876.3 466.9h16.4v2.6h-16.4zM1582.7 466.9h32.6v2.6h-32.6zM2006.9 466.9h16.3v2.6h-16.3zM1533.7 469.5h16.3v5.2h-16.3zM1778.5 472.1h65.2v2.6h-65.2zM1631.6 472.1h16.3v2.6h-16.3zM1990.6 472.1h16.3v2.6h-16.3zM1811.1 474.7h32.6v2.6h-32.6zM1533.7 474.7h32.6v5.2h-32.6zM1778.5 477.3h65.2v2.6h-65.2zM1615.3 477.3h16.3v5.2h-16.3zM1827.4 479.9h16.3v2.6h-16.3zM1533.7 479.9h16.3v2.6h-16.3zM1778.5 479.9h16.3v2.6h-16.3zM1566.3 479.9h16.4v2.6h-16.4zM1550 487.7h16.3v2.6h-16.3zM1827.4 487.7h16.3v2.6h-16.3zM1778.5 487.7h32.6v2.6h-32.6zM1794.8 490.3h48.9v2.6h-48.9zM1533.7 490.3h32.6v2.6h-32.6zM1550 492.9h16.3v2.6h-16.3zM1778.5 492.9h48.9v2.6h-48.9zM1778.5 495.5h65.2v2.6h-65.2zM1533.7 495.5h32.6v2.6h-32.6zM1550 500.7h16.3v5.2h-16.3zM1778.5 500.7h65.2v7.8h-65.2zM1533.7 505.9h32.6v2.6h-32.6zM1794.8 508.5h48.9v2.6h-48.9zM1550 508.5h16.3v2.6h-16.3zM1615.3 511.1h16.3v2.6h-16.3zM1827.4 511.1h16.3v2.6h-16.3zM1533.7 511.1h16.3v2.6h-16.3zM1566.3 511.1h16.4v2.6h-16.4zM1778.5 511.1h32.6v2.6h-32.6zM1794.8 513.7h16.3v2.6h-16.3zM1550 516.3h16.3v2.6h-16.3zM1811.1 516.3h32.6v2.6h-32.6zM1778.5 516.3h16.3v5.2h-16.3zM1778.5 521.5h65.2v2.6h-65.2zM1827.4 524.1h16.3v2.6h-16.3zM1794.8 524.1h16.3v2.6h-16.3zM1778.5 526.7h65.2v2.6h-65.2zM1533.7 521.5h32.6v10.4h-32.6zM1794.8 529.3h48.9v2.6h-48.9zM1550 531.9h16.3v2.6h-16.3zM1827.4 531.9h16.3v5.2h-16.3zM1778.5 531.9h16.3v5.2h-16.3zM1533.7 534.5h16.3v5.2h-16.3zM1778.5 537.1h32.6v2.6h-32.6zM1778.5 539.7h65.2v2.6h-65.2zM1533.7 539.7h32.6v2.6h-32.6zM1778.5 542.3h32.6v2.6h-32.6zM1827.4 547.5h16.3v2.6h-16.3zM1778.5 547.5h32.6v2.6h-32.6zM1778.5 550.1h65.2v2.6h-65.2zM1533.7 550.1h32.6v2.6h-32.6zM1615.3 557.9h32.6v2.6h-32.6zM1533.7 557.9h16.3v2.6h-16.3zM1794.8 560.5h48.9v2.6h-48.9zM1533.7 560.5h49v5.2h-49zM1615.3 563.1h16.3v2.6h-16.3zM1827.4 563.1h16.3v2.6h-16.3zM1778.5 563.1h16.3v2.6h-16.3zM1615.3 565.7h32.6v2.6h-32.6zM1778.5 568.3h65.2v2.6h-65.2zM1533.7 568.3h32.6v2.6h-32.6zM1533.7 570.9h16.3v2.6h-16.3zM1794.8 570.9h32.6v2.6h-32.6zM1566.3 570.9h16.4v2.6h-16.4zM1778.5 573.5h65.2v2.6h-65.2zM1533.7 573.5h49v2.6h-49zM1811.1 576.1h16.3v2.6h-16.3zM1533.7 576.1h16.3v2.6h-16.3zM1615.3 576.1h32.6v2.6h-32.6zM1566.3 576.1h16.4v2.6h-16.4zM1533.7 578.7h49v2.6h-49zM1794.8 578.7h48.9v2.6h-48.9zM1550 581.3h32.7v2.6h-32.7zM1615.3 581.3h32.6v2.6h-32.6zM1615.3 583.9h16.3v2.6h-16.3zM1533.7 583.9h32.6v2.6h-32.6zM1778.5 583.9h48.9v2.6h-48.9zM1550 586.5h32.7v2.6h-32.7zM1615.3 586.5h32.6v2.6h-32.6zM1615.3 589.1h16.3v2.6h-16.3zM1811.1 589.1h16.3v2.6h-16.3zM1566.3 589.1h16.4v2.6h-16.4zM1778.5 594.3h16.3v2.6h-16.3zM1533.7 594.3h32.6v2.6h-32.6zM1827.4 596.9h16.3v2.6h-16.3zM1794.8 596.9h16.3v2.6h-16.3zM1778.5 599.5h65.2v5.2h-65.2zM1778.5 604.7h32.6v2.6h-32.6zM1778.5 609.9h65.2v2.6h-65.2zM1827.4 612.5h16.3v5.2h-16.3zM1778.5 612.5h32.6v5.2h-32.6zM1827.4 620.3h16.3v2.6h-16.3zM1778.5 620.3h32.6v2.6h-32.6zM1615.3 622.9h16.3v2.6h-16.3zM1533.7 622.9h16.3v2.6h-16.3zM1778.5 622.9h16.3v2.6h-16.3zM1550 625.5h49v2.6h-49zM1631.6 625.5h16.3v5.2h-16.3zM1582.7 628.1h32.6v2.6h-32.6zM1974.2 628.1h32.7v2.6h-32.7zM1925.3 628.1h16.3v2.6h-16.3zM1533.7 630.7h65.3v2.6h-65.3zM1615.3 630.7h32.6v2.6h-32.6zM1599 633.3h48.9v2.6h-48.9zM1533.7 633.3h49v2.6h-49zM1974.2 635.9h16.4v2.6h-16.4zM1827.4 646.3h16.3v2.6h-16.3zM1794.8 651.5h32.6v2.6h-32.6zM1794.8 656.8h32.6v2.6h-32.6zM1778.5 659.4h65.2v5.2h-65.2zM1794.8 664.6h16.3v2.6h-16.3zM1811.1 667.2h16.3v2.6h-16.3zM1827.4 669.8h16.3v2.6h-16.3zM1550 672.4h16.3v2.6h-16.3zM1778.5 675h65.2v2.6h-65.2zM1794.8 680.2h16.3v2.6h-16.3zM1827.4 682.8h16.3v2.6h-16.3zM1778.5 682.8h32.6v2.6h-32.6zM1550 685.4h16.3v5.2h-16.3zM1778.5 690.6h65.2v2.6h-65.2zM1778.5 693.2h32.6v2.6h-32.6zM1778.5 695.8h16.3v2.6h-16.3zM1827.4 693.2h16.3v7.8h-16.3zM1778.5 698.4h32.6v2.6h-32.6zM1794.8 701h16.3v5.2h-16.3zM1550 703.6h16.3v2.6h-16.3zM1778.5 706.2h65.2v2.6h-65.2zM1827.4 708.8h16.3v2.6h-16.3zM1778.5 708.8h16.3v2.6h-16.3zM1550 711.4h16.3v2.6h-16.3zM1778.5 711.4h32.6v2.6h-32.6zM1778.5 922h65.2v2.6h-65.2zM1550 922h16.3v5.2h-16.3zM1794.8 924.6h16.3v2.6h-16.3zM1778.5 927.2h48.9v2.6h-48.9zM1827.4 929.8h16.3v2.6h-16.3zM1778.5 929.8h32.6v2.6h-32.6zM1778.5 932.4h16.3v2.6h-16.3zM1631.6 935h16.3v2.6h-16.3zM1550 935h16.3v2.6h-16.3zM1550 937.6h32.7v2.6h-32.7zM1615.3 937.6h32.6v2.6h-32.6zM1550 940.2h16.3v2.6h-16.3zM1794.8 942.8h48.9v2.6h-48.9zM1615.3 945.4h16.3v2.6h-16.3zM1550 945.4h16.3v5.2h-16.3zM1827.4 948h16.3v2.6h-16.3zM1794.8 948h16.3v5.2h-16.3zM1550 953.2h16.3v2.6h-16.3zM1615.3 955.8h16.3v2.6h-16.3zM1533.7 955.8h32.6v2.6h-32.6zM1550 958.4h16.3v2.6h-16.3zM1794.8 958.4h16.3v2.6h-16.3zM1615.3 961h32.6v2.6h-32.6zM1533.7 961h32.6v2.6h-32.6zM1827.4 963.6h16.3v2.6h-16.3zM1778.5 963.6h32.6v2.6h-32.6zM1550 966.2h16.3v2.6h-16.3zM1827.4 968.8h16.3v2.6h-16.3zM1794.8 968.8h16.3v2.6h-16.3zM1778.5 971.4h16.3v2.6h-16.3zM1811.1 971.4h32.6v2.6h-32.6zM1827.4 974h16.3v2.6h-16.3zM1631.6 976.6h16.3v2.6h-16.3zM1550 976.6h16.3v5.2h-16.3zM1827.4 979.2h16.3v2.6h-16.3zM1794.8 979.2h16.3v2.6h-16.3zM1550 1002.7h16.3v2.6h-16.3zM1533.7 1005.3h16.3v2.6h-16.3zM1550 1026.1h16.3v10.4h-16.3z"/><path fill="#0F9690" d="M1631.6 136.6h16.3v2.6h-16.3zM1550 136.6h16.3v2.6h-16.3zM1990.6 136.6h16.3v5.2h-16.3zM1615.3 139.2h32.6v2.6h-32.6zM1533.7 139.2h32.6v2.6h-32.6zM1974.2 141.8h32.7v2.6h-32.7zM1615.3 141.8h16.3v2.6h-16.3zM1631.6 144.4h16.3v2.6h-16.3zM1990.6 144.4h16.3v5.2h-16.3zM1615.3 147h32.6v2.6h-32.6zM1631.6 149.6h16.3v2.6h-16.3zM1533.7 149.6h16.3v2.6h-16.3zM1566.3 149.6h16.4v2.6h-16.4zM1533.7 152.2h32.6v2.6h-32.6zM1974.2 154.8h16.4v2.6h-16.4zM1615.3 154.8h32.6v5.2h-32.6zM1990.6 157.4h32.6v2.6h-32.6zM1533.7 160h32.6v2.6h-32.6zM1631.6 162.6h16.3v2.6h-16.3zM1566.3 162.6h16.4v5.2h-16.4zM1615.3 167.8h16.3v2.6h-16.3zM1615.3 170.4h32.6v2.6h-32.6zM1990.6 170.4h16.3v2.6h-16.3zM1566.3 170.4h16.4v5.2h-16.4zM1533.7 173h16.3v2.6h-16.3zM1974.2 175.6h49v2.6h-49zM1615.3 175.6h16.3v2.6h-16.3zM1566.3 178.2h16.4v2.6h-16.4zM1615.3 178.2h32.6v2.6h-32.6zM1990.6 178.2h16.3v2.6h-16.3zM1974.2 180.8h49v2.6h-49zM1631.6 180.8h16.3v5.2h-16.3zM1990.6 183.4h16.3v2.6h-16.3zM1990.6 186h32.6v2.6h-32.6zM1566.3 188.6h16.4v2.6h-16.4zM1615.3 188.6h32.6v2.6h-32.6zM1631.6 191.2h16.3v2.6h-16.3zM1827.4 191.2h16.3v2.6h-16.3zM2006.9 191.2h16.3v2.6h-16.3zM1615.3 193.8h32.6v2.6h-32.6zM1566.3 193.8h16.4v7.8h-16.4zM1615.3 196.4h16.3v5.2h-16.3zM1533.7 199h16.3v2.6h-16.3zM1631.6 201.6h16.3v2.6h-16.3zM1778.5 201.6h65.2v2.6h-65.2zM1582.7 201.6h32.6v2.6h-32.6zM1974.2 201.6h49v2.6h-49zM1566.3 204.2h16.4v2.6h-16.4zM1615.3 204.2h32.6v5.2h-32.6zM1533.7 206.8h49v2.6h-49zM1615.3 209.4h16.3v2.6h-16.3zM1533.7 209.4h16.3v2.6h-16.3zM1631.6 212h16.3v2.6h-16.3zM1615.3 214.6h16.3v5.2h-16.3zM1566.3 214.6h16.4v7.8h-16.4zM1615.3 219.8h32.6v2.6h-32.6zM1533.7 222.4h32.6v2.6h-32.6zM1566.3 225h16.4v2.6h-16.4zM1615.3 225h32.6v2.6h-32.6zM1550 227.6h32.7v2.6h-32.7zM1615.3 227.6h16.3v5.2h-16.3zM1533.7 230.2h16.3v2.6h-16.3zM1631.6 232.8h16.3v2.6h-16.3zM1615.3 235.4h32.6v2.6h-32.6zM1533.7 238h16.3v2.6h-16.3zM1566.3 230.2h16.4v13h-16.4zM1615.3 238h16.3v5.2h-16.3zM1778.5 243.2h16.3v2.6h-16.3zM1615.3 243.2h32.6v2.6h-32.6zM1990.6 243.2h16.3v2.6h-16.3zM1811.1 243.2h16.3v2.6h-16.3zM1615.3 245.8h16.3v2.6h-16.3zM1566.3 245.8h16.4v5.2h-16.4zM1533.7 248.4h16.3v2.6h-16.3zM1778.5 251h16.3v2.6h-16.3zM1990.6 251h16.3v2.6h-16.3zM1582.7 251h16.3v2.6h-16.3zM1811.1 251h16.3v2.6h-16.3zM1615.3 253.6h16.3v2.6h-16.3zM1566.3 253.6h16.4v5.2h-16.4zM1533.7 253.6h16.3v5.2h-16.3zM1615.3 256.2h32.6v2.6h-32.6zM1778.5 256.2h16.3v5.2h-16.3zM1615.3 258.8h16.3v2.6h-16.3zM1533.7 261.4h32.6v2.6h-32.6zM1566.3 264h16.4v2.6h-16.4zM1615.3 264h32.6v2.6h-32.6zM1794.8 266.6h32.6v2.6h-32.6zM1974.2 266.6h32.7v2.6h-32.7zM1615.3 269.2h32.6v5.2h-32.6zM1778.5 269.2h16.3v7.8h-16.3zM1615.3 274.4h16.3v2.6h-16.3zM1811.1 274.4h16.3v2.6h-16.3zM1615.3 277h32.6v2.6h-32.6zM1615.3 279.6h16.3v2.6h-16.3zM1778.5 279.6h16.3v5.2h-16.3zM1566.3 277h16.4v10.4h-16.4zM1631.6 282.2h16.3v5.2h-16.3zM1533.7 282.2h16.3v5.2h-16.3zM1778.5 287.4h32.6v2.6h-32.6zM1533.7 290h16.3v2.6h-16.3zM1990.6 287.4h16.3v7.8h-16.3zM1778.5 290h16.3v5.2h-16.3zM1566.3 295.2h16.4v2.6h-16.4zM1533.7 295.2h16.3v2.6h-16.3zM1778.5 297.8h65.2v2.6h-65.2zM1974.2 297.8h32.7v2.6h-32.7zM1533.7 300.4h16.3v2.6h-16.3zM1778.5 300.4h16.3v2.6h-16.3zM1615.3 287.4h32.6v18.2h-32.6zM1566.3 300.4h16.4v5.2h-16.4zM1990.6 300.4h16.3v5.2h-16.3zM1631.6 305.6h16.3v2.7h-16.3zM1533.7 305.6h49v2.7h-49zM1533.7 308.3h16.3v2.6h-16.3zM1566.3 308.3h16.4v2.6h-16.4zM1615.3 308.3h32.6v2.6h-32.6zM1778.5 308.3h32.6v2.6h-32.6zM1876.3 310.9h16.4v2.6h-16.4zM1582.7 310.9h32.6v2.6h-32.6zM1957.9 310.9h65.3v2.6h-65.3zM1909 310.9h16.3v2.6h-16.3zM1582.7 313.5h16.3v2.6h-16.3zM2006.9 313.5h16.3v2.6h-16.3zM1974.2 313.5h16.4v2.6h-16.4zM1599 316.1h16.3v2.6h-16.3zM1843.7 318.7h65.3v2.6h-65.3zM1925.3 318.7h16.3v2.6h-16.3zM1843.7 321.3h49v2.6h-49zM1909 321.3h48.9v2.6h-48.9zM2006.9 321.3h16.3v2.6h-16.3zM1974.2 321.3h16.4v2.6h-16.4zM1843.7 323.9h16.3v2.6h-16.3zM1957.9 323.9h65.3v2.6h-65.3zM1909 323.9h32.6v5.2h-32.6zM1990.6 326.5h32.6v2.6h-32.6zM1582.7 326.5h32.6v5.2h-32.6zM1860 329.1h16.3v2.6h-16.3zM1925.3 329.1h16.3v2.6h-16.3zM2006.9 329.1h16.3v2.6h-16.3zM1974.2 329.1h16.4v2.6h-16.4zM1582.7 331.7h16.3v2.6h-16.3zM1941.6 331.7h49v2.6h-49zM1860 331.7h65.3v2.6h-65.3zM1860 334.3h16.3v2.6h-16.3zM1909 334.3h65.2v2.6h-65.2zM1957.9 336.9h16.3v2.6h-16.3zM1909 336.9h32.6v2.6h-32.6zM1843.7 336.9h32.6v2.6h-32.6zM1811.1 336.9h16.3v2.6h-16.3zM1582.7 336.9h16.3v5.2h-16.3zM1974.2 339.5h16.4v2.6h-16.4zM1778.5 339.5h65.2v2.6h-65.2zM2006.9 339.5h16.3v2.6h-16.3zM1925.3 339.5h16.3v2.6h-16.3zM1925.3 342.1h48.9v2.6h-48.9zM1778.5 342.1h114.2v2.6h-114.2zM1957.9 344.7h32.7v2.6h-32.7zM1778.5 344.7h16.3v2.6h-16.3zM1811.1 344.7h97.9v2.6h-97.9zM1778.5 347.3h65.2v2.6h-65.2zM1957.9 347.3h49v2.6h-49zM1909 347.3h16.3v2.6h-16.3zM1811.1 349.9h32.6v2.6h-32.6zM1860 349.9h65.3v2.6h-65.3zM1582.7 342.1h32.6v13h-32.6zM1941.6 349.9h32.6v5.2h-32.6zM1778.5 349.9h16.3v5.2h-16.3zM1843.7 352.5h81.6v2.6h-81.6zM1843.7 355.1h65.3v2.6h-65.3zM1599 355.1h16.3v2.6h-16.3zM1925.3 357.7h48.9v2.6h-48.9zM1582.7 357.7h32.6v2.6h-32.6zM1827.4 357.7h81.6v2.6h-81.6zM1892.7 360.3h32.6v2.6h-32.6zM1843.7 360.3h32.6v2.6h-32.6zM1941.6 360.3h16.3v2.6h-16.3zM1909 362.9h32.6v2.6h-32.6zM1794.8 362.9h48.9v2.6h-48.9zM2006.9 362.9h16.3v2.6h-16.3zM1860 362.9h16.3v2.6h-16.3zM1957.9 362.9h16.3v2.6h-16.3zM1599 362.9h16.3v5.2h-16.3zM1909 365.5h16.3v2.6h-16.3zM1778.5 365.5h16.3v2.6h-16.3zM1827.4 365.5h32.6v2.6h-32.6zM1876.3 365.5h16.4v2.6h-16.4zM1811.1 368.1h114.2v2.6h-114.2zM1941.6 365.5h32.6v7.8h-32.6zM2006.9 370.7h16.3v2.6h-16.3zM1778.5 370.7h97.8v2.6h-97.8zM1582.7 370.7h32.6v2.6h-32.6zM1909 370.7h16.3v2.6h-16.3zM1843.7 373.3h81.6v2.6h-81.6zM1941.6 373.3h16.3v2.6h-16.3zM1778.5 375.9h65.2v2.6h-65.2zM2006.9 375.9h16.3v2.6h-16.3zM1876.3 375.9h16.4v2.6h-16.4zM1925.3 375.9h16.3v2.6h-16.3zM1957.9 375.9h16.3v2.6h-16.3zM1811.1 378.5h32.6v2.6h-32.6zM1941.6 378.5h32.6v2.6h-32.6zM1860 378.5h65.3v2.6h-65.3zM1778.5 378.5h16.3v2.6h-16.3zM1582.7 375.9h32.6v7.8h-32.6zM1778.5 381.1h65.2v2.6h-65.2zM2006.9 381.1h16.3v2.6h-16.3zM1860 381.1h32.7v2.6h-32.7zM1909 381.1h65.2v2.6h-65.2zM1843.7 383.7h81.6v2.6h-81.6zM1778.5 383.7h16.3v2.6h-16.3zM1778.5 386.3h48.9v2.6h-48.9zM1925.3 386.3h48.9v2.6h-48.9zM1876.3 386.3h16.4v2.6h-16.4zM1599 386.3h16.3v5.2h-16.3zM1827.4 388.9h48.9v2.6h-48.9zM1892.7 388.9h16.3v2.6h-16.3zM1941.6 388.9h32.6v2.6h-32.6zM1843.7 391.5h65.3v2.6h-65.3zM1941.6 391.5h16.3v2.6h-16.3zM1974.2 394.1h16.4v2.6h-16.4zM1778.5 394.1h65.2v2.6h-65.2zM2006.9 394.1h16.3v2.6h-16.3zM1925.3 394.1h16.3v2.6h-16.3zM1876.3 394.1h16.4v5.2h-16.4zM1599 394.1h16.3v5.2h-16.3zM1909 396.7h65.2v2.6h-65.2zM1811.1 396.7h32.6v5.2h-32.6zM1909 399.3h32.6v2.6h-32.6zM1582.7 399.3h32.6v2.6h-32.6zM1778.5 399.3h16.3v2.6h-16.3zM1631.6 401.9h16.3v2.6h-16.3zM1566.3 401.9h16.4v2.6h-16.4zM1533.7 401.9h16.3v2.6h-16.3zM1892.7 404.5h32.6v2.6h-32.6zM1827.4 404.5h32.6v2.6h-32.6zM1957.9 404.5h16.3v2.6h-16.3zM1599 404.5h16.3v5.2h-16.3zM1778.5 404.5h16.3v5.2h-16.3zM1941.6 407.1h49v2.6h-49zM1909 407.1h16.3v2.6h-16.3zM1876.3 407.1h16.4v2.6h-16.4zM1811.1 407.1h48.9v2.6h-48.9zM1778.5 409.7h65.2v2.6h-65.2zM2006.9 409.7h16.3v2.6h-16.3zM1892.7 409.7h16.3v2.6h-16.3zM1957.9 409.7h16.3v2.6h-16.3zM1582.7 409.7h32.6v5.2h-32.6zM1778.5 412.3h32.6v2.6h-32.6zM1957.9 412.3h49v2.6h-49zM1925.3 409.7h16.3v7.8h-16.3zM1778.5 414.9h65.2v2.6h-65.2zM1876.3 414.9h16.4v2.6h-16.4zM1599 414.9h16.3v2.6h-16.3zM1957.9 414.9h16.3v2.6h-16.3zM2006.9 414.9h16.3v5.2h-16.3zM1582.7 417.5h32.6v2.6h-32.6zM1778.5 417.5h16.3v2.6h-16.3zM1925.3 417.5h48.9v2.6h-48.9zM1876.3 417.5h32.7v2.6h-32.7zM1811.1 417.5h48.9v2.6h-48.9zM1582.7 420.1h16.3v2.6h-16.3zM1957.9 420.1h65.3v2.6h-65.3zM1778.5 420.1h65.2v5.2h-65.2zM1925.3 420.1h16.3v5.2h-16.3zM1974.2 422.7h49v2.6h-49zM1599 422.7h16.3v5.2h-16.3zM1843.7 425.3h49v2.6h-49zM1909 425.3h16.3v2.6h-16.3zM1778.5 425.3h48.9v2.6h-48.9zM1941.6 425.3h32.6v2.6h-32.6zM1778.5 427.9h81.5v2.6h-81.5zM1957.9 427.9h32.7v5.2h-32.7zM1925.3 427.9h16.3v5.2h-16.3zM1778.5 430.5h16.3v2.6h-16.3zM1811.1 430.5h32.6v2.6h-32.6zM1876.3 430.5h16.4v2.6h-16.4zM1892.7 433.1h32.6v2.6h-32.6zM1860 433.1h16.3v2.6h-16.3zM1957.9 433.1h16.3v2.6h-16.3zM1778.5 433.1h32.6v2.6h-32.6zM2006.9 425.3h16.3v13h-16.3zM1582.7 427.9h32.6v10.4h-32.6zM1794.8 435.7h32.6v2.6h-32.6zM1974.2 435.7h16.4v2.6h-16.4zM1925.3 435.7h16.3v2.6h-16.3zM1909 438.3h32.6v2.6h-32.6zM1778.5 438.3h114.2v2.6h-114.2zM1957.9 438.3h32.7v2.6h-32.7zM1599 438.3h16.3v2.6h-16.3zM1582.7 440.9h16.3v2.6h-16.3zM1974.2 440.9h49v2.6h-49zM1582.7 443.5h32.6v2.6h-32.6zM1794.8 443.5h48.9v2.6h-48.9zM1925.3 440.9h16.3v7.8h-16.3zM2006.9 443.5h16.3v5.2h-16.3zM1974.2 443.5h16.4v5.2h-16.4zM1778.5 446.1h48.9v2.6h-48.9zM1599 446.1h16.3v5.2h-16.3zM1778.5 448.7h65.2v2.6h-65.2zM1941.6 448.7h32.6v2.6h-32.6zM1876.3 443.5h16.4v10.4h-16.4zM1582.7 451.3h32.6v2.6h-32.6zM1925.3 451.3h16.3v2.6h-16.3zM2006.9 451.3h16.3v2.6h-16.3zM1974.2 451.3h16.4v2.6h-16.4zM1794.8 451.3h48.9v2.6h-48.9zM1892.7 453.9h16.3v2.6h-16.3zM1843.7 453.9h32.6v2.6h-32.6zM1941.6 453.9h16.3v2.6h-16.3zM1778.5 453.9h16.3v2.6h-16.3zM1843.7 456.5h16.3v2.6h-16.3zM1599 456.5h16.3v2.6h-16.3zM1778.5 456.5h48.9v2.6h-48.9zM1876.3 456.5h97.9v2.6h-97.9zM1827.4 459.1h16.3v2.6h-16.3zM1582.7 459.1h32.6v2.6h-32.6zM1925.3 459.1h16.3v2.6h-16.3zM2006.9 459.1h16.3v2.6h-16.3zM1794.8 459.1h16.3v2.6h-16.3zM1974.2 459.1h16.4v2.6h-16.4zM1876.3 459.1h16.4v2.6h-16.4zM1843.7 461.7h16.3v2.6h-16.3zM1892.7 461.7h16.3v2.6h-16.3zM1941.6 461.7h16.3v2.6h-16.3zM1974.2 464.3h16.4v2.6h-16.4zM1778.5 464.3h65.2v2.6h-65.2zM2006.9 464.3h16.3v2.6h-16.3zM1876.3 464.3h16.4v2.6h-16.4zM1582.7 464.3h32.6v2.6h-32.6zM1925.3 464.3h16.3v2.6h-16.3zM1892.7 466.9h32.6v2.6h-32.6zM1941.6 466.9h49v2.6h-49zM1843.7 466.9h16.3v2.6h-16.3zM1566.3 469.5h16.4v2.6h-16.4zM1615.3 469.5h32.6v2.6h-32.6zM1778.5 469.5h65.2v2.6h-65.2zM1990.6 469.5h16.3v2.6h-16.3zM1925.3 469.5h16.3v2.6h-16.3zM1582.7 472.1h16.3v2.6h-16.3zM2006.9 472.1h16.3v2.6h-16.3zM1778.5 474.7h32.6v2.6h-32.6zM1615.3 474.7h16.3v2.6h-16.3zM1566.3 474.7h16.4v5.2h-16.4zM1631.6 477.3h16.3v5.2h-16.3zM1990.6 479.9h16.3v2.6h-16.3zM1778.5 482.5h65.2v2.6h-65.2zM1550 482.5h16.3v2.6h-16.3zM1778.5 485.1h32.6v2.6h-32.6zM1550 485.1h32.7v2.6h-32.7zM1631.6 487.7h16.3v2.6h-16.3zM1533.7 487.7h16.3v2.6h-16.3zM1811.1 487.7h16.3v2.6h-16.3zM1566.3 487.7h16.4v5.2h-16.4zM1778.5 490.3h16.3v2.6h-16.3zM1615.3 490.3h32.6v5.2h-32.6zM1827.4 492.9h16.3v2.6h-16.3zM1533.7 492.9h16.3v2.6h-16.3zM1566.3 495.5h16.4v2.6h-16.4zM1615.3 495.5h16.3v2.6h-16.3zM1778.5 498.1h65.2v2.6h-65.2zM1550 498.1h16.3v2.6h-16.3zM1533.7 500.7h16.3v5.2h-16.3zM1615.3 500.7h32.6v7.8h-32.6zM1566.3 500.7h16.4v10.4h-16.4zM1533.7 508.5h16.3v2.6h-16.3zM1615.3 508.5h16.3v2.6h-16.3zM1631.6 511.1h16.3v2.6h-16.3zM1778.5 513.7h16.3v2.6h-16.3zM1811.1 513.7h32.6v2.6h-32.6zM1533.7 513.7h32.6v2.6h-32.6zM1533.7 516.3h16.3v2.6h-16.3zM1566.3 516.3h16.4v2.6h-16.4zM1615.3 516.3h32.6v2.6h-32.6zM1794.8 516.3h16.3v2.6h-16.3zM1794.8 518.9h48.9v2.6h-48.9zM1533.7 518.9h32.6v2.6h-32.6zM1566.3 521.5h16.4v10.4h-16.4zM1615.3 521.5h32.6v10.4h-32.6zM1533.7 531.9h16.3v2.6h-16.3zM1615.3 531.9h16.3v2.6h-16.3zM1794.8 531.9h32.6v5.2h-32.6zM1615.3 534.5h32.6v2.6h-32.6zM1550 534.5h32.7v5.2h-32.7zM1631.6 537.1h16.3v2.6h-16.3zM1811.1 537.1h32.6v2.6h-32.6zM1566.3 539.7h16.4v2.6h-16.4zM1615.3 539.7h32.6v2.6h-32.6zM1631.6 542.3h16.3v2.6h-16.3zM1533.7 542.3h49v2.6h-49zM1811.1 542.3h32.6v2.6h-32.6zM1778.5 544.9h16.3v2.6h-16.3zM1533.7 547.5h49v2.6h-49zM1811.1 547.5h16.3v2.6h-16.3zM1615.3 547.5h16.3v5.2h-16.3zM1566.3 550.1h16.4v2.6h-16.4zM1533.7 552.7h49v2.6h-49zM1778.5 552.7h65.2v5.2h-65.2zM1550 555.3h16.3v2.6h-16.3zM1990.6 557.9h16.3v2.6h-16.3zM1615.3 560.5h32.6v2.6h-32.6zM1631.6 563.1h16.3v2.6h-16.3zM1599 565.7h16.3v2.6h-16.3zM1957.9 565.7h65.3v2.6h-65.3zM1909 565.7h16.3v2.6h-16.3zM1566.3 568.3h16.4v2.6h-16.4zM1550 570.9h16.3v2.6h-16.3zM1615.3 568.3h32.6v7.8h-32.6zM1974.2 576.1h32.7v2.6h-32.7zM1615.3 578.7h32.6v2.6h-32.6zM1631.6 583.9h16.3v2.6h-16.3zM1566.3 583.9h16.4v2.6h-16.4zM1990.6 583.9h16.3v2.6h-16.3zM1974.2 586.5h32.7v2.6h-32.7zM1599 586.5h16.3v5.2h-16.3zM1631.6 589.1h16.3v2.6h-16.3zM1990.6 589.1h16.3v2.6h-16.3zM1778.5 591.7h65.2v2.6h-65.2zM1533.7 591.7h49v2.6h-49zM1566.3 594.3h16.4v2.6h-16.4zM1615.3 594.3h32.6v2.6h-32.6zM1615.3 596.9h16.3v2.6h-16.3zM1811.1 596.9h16.3v2.6h-16.3zM1533.7 596.9h49v2.6h-49zM1778.5 596.9h16.3v2.6h-16.3zM1533.7 599.5h32.6v2.6h-32.6zM1615.3 599.5h32.6v5.2h-32.6zM1533.7 602.1h49v5.2h-49zM1615.3 604.7h16.3v2.6h-16.3zM1811.1 604.7h32.6v2.6h-32.6zM1778.5 607.3h65.2v2.6h-65.2zM1533.7 607.3h32.6v2.6h-32.6zM1615.3 609.9h16.3v2.6h-16.3zM1533.7 609.9h49v5.2h-49zM1811.1 612.5h16.3v5.2h-16.3zM1615.3 612.5h32.6v5.2h-32.6zM1566.3 615.1h16.4v2.6h-16.4zM1533.7 615.1h16.3v5.2h-16.3zM1778.5 617.7h65.2v2.6h-65.2zM1811.1 620.3h16.3v2.6h-16.3zM1615.3 620.3h32.6v2.6h-32.6zM1533.7 620.3h49v2.6h-49zM1631.6 622.9h16.3v2.6h-16.3zM1550 622.9h32.7v2.6h-32.7zM1909 625.5h32.6v2.6h-32.6zM1599 625.5h16.3v2.6h-16.3zM1957.9 625.5h65.3v2.6h-65.3zM1843.7 628.1h81.6v2.6h-81.6zM1941.6 628.1h32.6v2.6h-32.6zM2006.9 628.1h16.3v2.6h-16.3zM1974.2 630.7h16.4v2.6h-16.4zM1876.3 630.7h16.4v2.6h-16.4zM1599 630.7h16.3v2.6h-16.3zM1925.3 630.7h16.3v2.6h-16.3zM1892.7 633.3h48.9v2.6h-48.9zM1582.7 633.3h16.3v2.6h-16.3zM1974.2 633.3h32.7v2.6h-32.7zM1860 635.9h114.2v2.6h-114.2zM1990.6 635.9h32.6v2.6h-32.6zM1827.4 651.5h16.3v2.6h-16.3zM1778.5 651.5h16.3v2.6h-16.3zM1827.4 656.8h16.3v2.6h-16.3zM1778.5 656.8h16.3v2.6h-16.3zM1811.1 664.6h32.6v2.6h-32.6zM1778.5 664.6h16.3v2.6h-16.3zM1827.4 667.2h16.3v2.6h-16.3zM1778.5 667.2h32.6v2.6h-32.6zM1550 669.8h49v2.6h-49zM1566.3 672.4h32.7v2.6h-32.7zM1550 675h16.3v2.6h-16.3zM1615.3 677.6h16.3v2.6h-16.3zM1550 677.6h32.7v2.6h-32.7zM1550 680.2h16.3v5.2h-16.3zM1615.3 685.4h16.3v2.6h-16.3zM1566.3 685.4h32.7v2.6h-32.7zM1566.3 688h81.6v2.6h-81.6zM1550 690.6h16.3v13h-16.3zM1615.3 701h16.3v5.2h-16.3zM1566.3 703.6h16.4v2.6h-16.4zM1550 706.2h16.3v5.2h-16.3zM1615.3 708.8h32.6v2.6h-32.6zM1615.3 711.4h16.3v2.6h-16.3zM1778.5 714h65.2v2.6h-65.2zM1794.8 716.6h48.9v2.6h-48.9zM1827.4 721.8h16.3v2.6h-16.3zM1550 721.8h16.3v2.6h-16.3zM1533.7 776.4h16.3v2.6h-16.3zM1778.5 776.4h16.3v2.6h-16.3zM1778.5 784.2h32.6v2.6h-32.6zM1533.7 784.2h16.3v2.6h-16.3zM1550 807.6h16.3v2.6h-16.3zM1550 820.6h16.3v2.6h-16.3zM1533.7 825.8h32.6v2.6h-32.6zM1550 831h16.3v5.2h-16.3zM1533.7 838.8h32.6v2.6h-32.6zM1631.6 854.4h16.3v2.6h-16.3zM1533.7 854.4h49v2.6h-49zM1550 864.8h16.3v2.6h-16.3zM1631.6 888.2h16.3v2.6h-16.3zM1550 888.2h16.3v2.6h-16.3zM1550 909h16.3v2.6h-16.3zM1794.8 916.8h32.6v2.6h-32.6zM1778.5 919.4h65.2v2.6h-65.2zM1533.7 919.4h49v2.6h-49zM1566.3 922h16.4v5.2h-16.4zM1615.3 922h32.6v5.2h-32.6zM1533.7 922h16.3v5.2h-16.3zM1827.4 927.2h16.3v2.6h-16.3zM1615.3 929.8h16.3v2.6h-16.3zM1533.7 929.8h49v5.2h-49zM1615.3 932.4h32.6v2.6h-32.6zM1566.3 935h16.4v2.6h-16.4zM1533.7 935h16.3v7.8h-16.3zM1631.6 940.2h16.3v2.6h-16.3zM1566.3 940.2h16.4v2.6h-16.4zM1615.3 942.8h32.6v2.6h-32.6zM1550 942.8h32.7v2.6h-32.7zM1631.6 945.4h16.3v2.6h-16.3zM1566.3 945.4h16.4v5.2h-16.4zM1533.7 945.4h16.3v5.2h-16.3zM1533.7 950.6h49v2.6h-49zM1615.3 948h32.6v7.8h-32.6zM1566.3 953.2h16.4v2.6h-16.4zM1631.6 955.8h16.3v2.6h-16.3zM1566.3 955.8h32.7v2.6h-32.7zM1615.3 958.4h32.6v2.6h-32.6zM1533.7 958.4h16.3v2.6h-16.3zM1566.3 958.4h16.4v5.2h-16.4zM1615.3 963.6h16.3v2.6h-16.3zM1550 963.6h16.3v2.6h-16.3zM1566.3 966.2h16.4v2.6h-16.4zM1615.3 966.2h32.6v2.6h-32.6zM1533.7 966.2h16.3v2.6h-16.3zM1533.7 968.8h32.6v2.6h-32.6zM1615.3 968.8h16.3v2.6h-16.3zM1550 971.4h16.3v2.6h-16.3zM1794.8 971.4h16.3v2.6h-16.3zM1615.3 974h32.6v2.6h-32.6zM1533.7 974h32.6v2.6h-32.6zM1615.3 976.6h16.3v2.6h-16.3zM1566.3 976.6h16.4v2.6h-16.4zM1533.7 976.6h16.3v5.2h-16.3zM1615.3 979.2h32.6v2.6h-32.6zM1533.7 1002.7h16.3v2.6h-16.3zM1566.3 1002.7h16.4v2.6h-16.4zM1990.6 1002.7h16.3v5.2h-16.3zM1550 1005.3h32.7v2.6h-32.7zM1550 1007.9h16.3v2.6h-16.3zM1533.7 1010.5h49v2.6h-49zM1550 1013.1h16.3v5.2h-16.3zM1533.7 1018.3h32.6v5.2h-32.6zM1566.3 1026.1h16.4v10.4h-16.4zM1533.7 1026.1h16.3v10.4h-16.3zM1550 1039.1h16.3v2.6h-16.3zM1533.7 1041.7h49v2.6h-49zM1533.7 1044.3h32.6v5.2h-32.6zM1550 1052.1h16.3v2.6h-16.3z"/><path fill="#129D8C" d="M1615.3 136.6h16.3v2.6h-16.3zM1974.2 136.6h16.4v5.2h-16.4zM1615.3 144.4h16.3v2.6h-16.3zM2006.9 136.6h16.3v13h-16.3zM1974.2 144.4h16.4v5.2h-16.4zM1615.3 149.6h16.3v2.6h-16.3zM1974.2 149.6h49v2.6h-49zM1990.6 152.2h16.3v2.6h-16.3zM1615.3 152.2h32.6v2.6h-32.6zM1566.3 152.2h16.4v2.6h-16.4zM1990.6 154.8h32.6v2.6h-32.6zM1974.2 157.4h16.4v2.6h-16.4zM1974.2 160h32.7v2.6h-32.7zM1615.3 160h32.6v2.6h-32.6zM1566.3 160h16.4v2.6h-16.4zM1615.3 162.6h16.3v2.6h-16.3zM1615.3 165.2h32.6v2.6h-32.6zM1974.2 162.6h49v7.8h-49zM1843.7 167.8h16.3v2.6h-16.3zM2006.9 170.4h16.3v2.6h-16.3zM1974.2 170.4h16.4v2.6h-16.4zM1990.6 173h32.6v2.6h-32.6zM1615.3 173h32.6v2.6h-32.6zM1582.7 175.6h32.6v2.6h-32.6zM2006.9 178.2h16.3v2.6h-16.3zM1974.2 178.2h16.4v2.6h-16.4zM1843.7 175.6h16.3v7.8h-16.3zM2006.9 183.4h16.3v2.6h-16.3zM1925.3 180.8h16.3v7.8h-16.3zM1582.7 180.8h32.6v7.8h-32.6zM1778.5 186h16.3v2.6h-16.3zM1827.4 186h81.6v2.6h-81.6zM1974.2 183.4h16.4v7.8h-16.4zM2006.9 188.6h16.3v2.6h-16.3zM1599 188.6h16.3v2.6h-16.3zM1778.5 191.2h48.9v2.6h-48.9zM1974.2 191.2h32.7v2.6h-32.7zM1582.7 191.2h32.6v2.6h-32.6zM1811.1 193.8h32.6v5.2h-32.6zM1778.5 196.4h16.3v2.6h-16.3zM2006.9 193.8h16.3v7.8h-16.3zM1631.6 196.4h16.3v5.2h-16.3zM1974.2 199h16.4v2.6h-16.4zM1794.8 199h48.9v2.6h-48.9zM1843.7 201.6h16.3v2.6h-16.3zM1957.9 201.6h16.3v2.6h-16.3zM1582.7 204.2h16.3v2.6h-16.3zM1974.2 204.2h49v2.6h-49zM1778.5 204.2h48.9v2.6h-48.9zM1811.1 206.8h32.6v2.6h-32.6zM2006.9 206.8h16.3v5.2h-16.3zM1778.5 206.8h16.3v5.2h-16.3zM1631.6 209.4h16.3v2.6h-16.3zM1599 209.4h16.3v2.6h-16.3zM1566.3 209.4h16.4v2.6h-16.4zM1778.5 212h65.2v2.6h-65.2zM1582.7 212h32.6v2.6h-32.6zM1778.5 214.6h16.3v5.2h-16.3zM1811.1 214.6h32.6v5.2h-32.6zM1631.6 214.6h16.3v5.2h-16.3zM1974.2 212h49v10.4h-49zM1599 214.6h16.3v7.8h-16.3zM1778.5 219.8h65.2v2.6h-65.2zM1615.3 222.4h32.6v2.6h-32.6zM1566.3 222.4h16.4v2.6h-16.4zM1582.7 225h16.3v2.6h-16.3zM1974.2 225h49v2.6h-49zM1778.5 225h48.9v5.2h-48.9zM1990.6 227.6h32.6v2.6h-32.6zM1631.6 227.6h16.3v5.2h-16.3zM1778.5 230.2h16.3v2.6h-16.3zM1990.6 230.2h16.3v2.6h-16.3zM1615.3 232.8h16.3v2.6h-16.3zM1974.2 232.8h49v5.2h-49zM1778.5 232.8h65.2v5.2h-65.2zM1582.7 235.4h16.3v2.6h-16.3zM1778.5 238h32.6v2.6h-32.6zM1827.4 238h16.3v2.6h-16.3zM1990.6 238h32.6v2.6h-32.6zM1631.6 238h16.3v5.2h-16.3zM1974.2 240.6h49v2.6h-49zM1778.5 240.6h65.2v2.6h-65.2zM1925.3 243.2h16.3v2.6h-16.3zM2006.9 243.2h16.3v2.6h-16.3zM1794.8 243.2h16.3v2.6h-16.3zM1876.3 243.2h16.4v2.6h-16.4zM1827.4 243.2h16.3v2.6h-16.3zM1582.7 243.2h32.6v2.6h-32.6zM1957.9 243.2h32.7v2.6h-32.7zM1811.1 245.8h16.3v2.6h-16.3zM1631.6 245.8h16.3v2.6h-16.3zM1974.2 245.8h32.7v2.6h-32.7zM1778.5 245.8h16.3v5.2h-16.3zM1615.3 248.4h32.6v2.6h-32.6zM1990.6 248.4h16.3v2.6h-16.3zM2006.9 251h16.3v2.6h-16.3zM1794.8 251h16.3v2.6h-16.3zM1827.4 251h16.3v2.6h-16.3zM1957.9 251h32.7v2.6h-32.7zM1599 251h16.3v2.6h-16.3zM1631.6 253.6h16.3v2.6h-16.3zM1778.5 253.6h48.9v2.6h-48.9zM1974.2 256.2h49v2.6h-49zM1794.8 256.2h48.9v5.2h-48.9zM1599 258.8h16.3v2.6h-16.3zM1957.9 258.8h65.3v2.6h-65.3zM1892.7 258.8h48.9v2.6h-48.9zM1615.3 261.4h32.6v2.6h-32.6zM1566.3 261.4h16.4v2.6h-16.4zM1778.5 261.4h16.3v5.2h-16.3zM1811.1 264h32.6v2.6h-32.6zM1974.2 264h32.7v2.6h-32.7zM1876.3 266.6h97.9v2.6h-97.9zM2006.9 266.6h16.3v2.6h-16.3zM1827.4 266.6h16.3v2.6h-16.3zM1582.7 266.6h32.6v2.6h-32.6zM1794.8 269.2h48.9v2.6h-48.9zM1599 269.2h16.3v2.6h-16.3zM1957.9 269.2h65.3v2.6h-65.3zM1925.3 269.2h16.3v5.2h-16.3zM1582.7 271.8h16.3v2.6h-16.3zM1957.9 271.8h49v2.6h-49zM1811.1 271.8h16.3v2.6h-16.3zM1974.2 274.4h49v2.6h-49zM1794.8 274.4h16.3v2.6h-16.3zM1827.4 274.4h16.3v2.6h-16.3zM1582.7 274.4h32.6v2.6h-32.6zM1778.5 277h32.6v2.6h-32.6zM1990.6 277h16.3v2.6h-16.3zM1794.8 279.6h48.9v2.6h-48.9zM1599 279.6h16.3v2.6h-16.3zM1925.3 279.6h16.3v2.6h-16.3zM1957.9 279.6h65.3v2.6h-65.3zM1811.1 282.2h32.6v2.6h-32.6zM1974.2 282.2h32.7v2.6h-32.7zM1615.3 282.2h16.3v5.2h-16.3zM1778.5 284.8h65.2v2.6h-65.2zM1860 287.4h16.3v2.6h-16.3zM1957.9 287.4h32.7v2.6h-32.7zM1811.1 287.4h32.6v2.6h-32.6zM1909 287.4h32.6v2.6h-32.6zM1582.7 287.4h32.6v2.6h-32.6zM1974.2 290h16.4v2.6h-16.4zM2006.9 284.8h16.3v10.4h-16.3zM1794.8 290h48.9v5.2h-48.9zM1909 292.6h16.3v2.6h-16.3zM1957.9 292.6h32.7v2.6h-32.7zM1599 292.6h16.3v2.6h-16.3zM1778.5 295.2h65.2v2.6h-65.2zM1990.6 295.2h32.6v2.6h-32.6zM1925.3 297.8h48.9v2.6h-48.9zM1582.7 297.8h16.3v2.6h-16.3zM1860 297.8h16.3v2.6h-16.3zM1794.8 300.4h48.9v2.6h-48.9zM2006.9 297.8h16.3v7.8h-16.3zM1974.2 300.4h16.4v5.2h-16.4zM1778.5 303h65.2v2.6h-65.2zM1582.7 303h32.6v2.6h-32.6zM1778.5 305.6h32.6v2.7h-32.6zM1925.3 305.6h16.3v2.7h-16.3zM1827.4 305.6h16.3v2.7h-16.3zM1615.3 305.6h16.3v2.7h-16.3zM1990.6 305.6h32.6v2.7h-32.6zM1811.1 308.3h32.6v2.6h-32.6zM1990.6 308.3h16.3v2.6h-16.3zM1860 310.9h16.3v2.6h-16.3zM1925.3 310.9h32.6v2.6h-32.6zM1892.7 310.9h16.3v2.6h-16.3zM1843.7 313.5h130.5v2.6h-130.5zM1599 313.5h16.3v2.6h-16.3zM1582.7 316.1h16.3v2.6h-16.3zM1957.9 316.1h65.3v2.6h-65.3zM1909 316.1h32.6v2.6h-32.6zM1729.5 318.7h16.3v2.6h-16.3zM1892.7 321.3h16.3v2.6h-16.3zM1860 323.9h49v2.6h-49zM1941.6 323.9h16.3v2.6h-16.3zM1843.7 326.5h65.3v2.6h-65.3zM1941.6 326.5h49v2.6h-49zM1941.6 329.1h32.6v2.6h-32.6zM1876.3 329.1h49v2.6h-49zM1843.7 329.1h16.3v7.8h-16.3zM1876.3 334.3h32.7v5.2h-32.7zM1941.6 336.9h16.3v2.6h-16.3zM1909 339.5h16.3v2.6h-16.3zM1599 339.5h16.3v2.6h-16.3zM1843.7 339.5h49v2.6h-49zM1957.9 339.5h16.3v2.6h-16.3zM1892.7 342.1h16.3v2.6h-16.3zM1909 344.7h16.3v2.6h-16.3zM1941.6 344.7h16.3v5.2h-16.3zM1843.7 347.3h65.3v2.6h-65.3zM1843.7 349.9h16.3v2.6h-16.3zM1729.5 355.1h16.3v2.6h-16.3zM1582.7 362.9h16.3v2.6h-16.3zM1843.7 362.9h16.3v2.6h-16.3zM1941.6 362.9h16.3v2.6h-16.3zM1876.3 362.9h32.7v2.6h-32.7zM1860 365.5h16.3v2.6h-16.3zM1892.7 365.5h16.3v2.6h-16.3zM1713.2 368.1h16.3v2.6h-16.3zM1876.3 370.7h32.7v2.6h-32.7zM1892.7 375.9h32.6v2.6h-32.6zM1941.6 375.9h16.3v2.6h-16.3zM1843.7 375.9h32.6v2.6h-32.6zM1843.7 378.5h16.3v5.2h-16.3zM1892.7 381.1h16.3v2.6h-16.3zM1713.2 383.7h16.3v2.6h-16.3zM1892.7 386.3h32.6v2.6h-32.6zM1827.4 386.3h48.9v2.6h-48.9zM1713.2 388.9h16.3v2.6h-16.3zM1729.5 391.5h16.3v2.6h-16.3zM1892.7 394.1h32.6v2.6h-32.6zM1941.6 394.1h32.6v2.6h-32.6zM1843.7 394.1h32.6v5.2h-32.6zM1892.7 396.7h16.3v2.6h-16.3zM1843.7 399.3h65.3v2.6h-65.3zM1941.6 399.3h32.6v2.6h-32.6zM1794.8 399.3h16.3v2.6h-16.3zM1876.3 401.9h16.4v2.6h-16.4zM1925.3 401.9h97.9v2.6h-97.9zM1778.5 401.9h65.2v2.6h-65.2zM1582.7 401.9h32.6v2.6h-32.6zM1941.6 404.5h16.3v2.6h-16.3zM1860 404.5h32.7v2.6h-32.7zM1860 407.1h16.3v2.6h-16.3zM1892.7 407.1h16.3v2.6h-16.3zM1909 409.7h16.3v2.6h-16.3zM1843.7 409.7h49v2.6h-49zM2006.9 412.3h16.3v2.6h-16.3zM1811.1 412.3h114.2v2.6h-114.2zM1941.6 409.7h16.3v7.8h-16.3zM1892.7 414.9h32.6v2.6h-32.6zM1843.7 414.9h32.6v2.6h-32.6zM1860 417.5h16.3v2.6h-16.3zM1909 417.5h16.3v2.6h-16.3zM1941.6 420.1h16.3v2.6h-16.3zM1599 420.1h16.3v2.6h-16.3zM1876.3 420.1h49v2.6h-49zM1843.7 422.7h81.6v2.6h-81.6zM1941.6 422.7h32.6v2.6h-32.6zM1892.7 425.3h16.3v2.6h-16.3zM1860 427.9h65.3v2.6h-65.3zM1794.8 430.5h16.3v2.6h-16.3zM1892.7 430.5h32.6v2.6h-32.6zM1941.6 427.9h16.3v7.8h-16.3zM1843.7 430.5h16.3v5.2h-16.3zM1827.4 435.7h97.9v2.6h-97.9zM1941.6 435.7h32.6v2.6h-32.6zM1778.5 435.7h16.3v2.6h-16.3zM1941.6 438.3h16.3v2.6h-16.3zM1892.7 438.3h16.3v2.6h-16.3zM1599 440.9h16.3v2.6h-16.3zM1876.3 440.9h49v2.6h-49zM1778.5 440.9h81.5v2.6h-81.5zM1892.7 443.5h32.6v2.6h-32.6zM1843.7 443.5h32.6v2.6h-32.6zM1778.5 443.5h16.3v2.6h-16.3zM1941.6 440.9h32.6v7.8h-32.6zM1827.4 446.1h32.6v2.6h-32.6zM1892.7 446.1h16.3v2.6h-16.3zM1582.7 446.1h16.3v2.6h-16.3zM1843.7 448.7h16.3v2.6h-16.3zM1892.7 448.7h32.6v5.2h-32.6zM1941.6 451.3h32.6v2.6h-32.6zM1843.7 451.3h32.6v2.6h-32.6zM1778.5 451.3h16.3v2.6h-16.3zM1860 456.5h16.3v2.6h-16.3zM1941.6 459.1h32.6v2.6h-32.6zM1843.7 459.1h32.6v2.6h-32.6zM1811.1 459.1h16.3v2.6h-16.3zM1892.7 459.1h32.6v2.6h-32.6zM1778.5 459.1h16.3v2.6h-16.3zM1860 461.7h16.3v2.6h-16.3zM1729.5 461.7h16.3v2.6h-16.3zM1696.9 461.7h16.3v2.6h-16.3zM1892.7 464.3h32.6v2.6h-32.6zM1941.6 464.3h32.6v2.6h-32.6zM1860 466.9h16.3v2.6h-16.3zM2006.9 469.5h16.3v2.6h-16.3zM1974.2 469.5h16.4v2.6h-16.4zM1876.3 469.5h49v2.6h-49zM1582.7 469.5h32.6v2.6h-32.6zM1876.3 472.1h114.3v2.6h-114.3zM1599 472.1h16.3v2.6h-16.3zM1631.6 474.7h16.3v2.6h-16.3zM1925.3 474.7h16.3v5.2h-16.3zM1990.6 474.7h16.3v5.2h-16.3zM1582.7 477.3h16.3v2.6h-16.3zM1909 479.9h32.6v2.6h-32.6zM2006.9 479.9h16.3v2.6h-16.3zM1876.3 479.9h16.4v2.6h-16.4zM1582.7 479.9h32.6v2.6h-32.6zM1957.9 479.9h32.7v2.6h-32.7zM1615.3 482.5h32.6v2.6h-32.6zM1566.3 482.5h16.4v2.6h-16.4zM1533.7 482.5h16.3v5.2h-16.3zM1811.1 485.1h32.6v2.6h-32.6zM1615.3 485.1h16.3v5.2h-16.3zM1582.7 487.7h16.3v2.6h-16.3zM1566.3 492.9h16.4v2.6h-16.4zM1631.6 495.5h16.3v2.6h-16.3zM1990.6 495.5h16.3v2.6h-16.3zM1566.3 498.1h16.4v2.6h-16.4zM1533.7 498.1h16.3v2.6h-16.3zM1615.3 498.1h32.6v2.6h-32.6zM1582.7 500.7h16.3v2.6h-16.3zM1990.6 500.7h16.3v2.6h-16.3zM1599 505.9h16.3v2.6h-16.3zM1582.7 508.5h16.3v2.6h-16.3zM1631.6 508.5h16.3v2.6h-16.3zM1990.6 508.5h16.3v2.6h-16.3zM1925.3 511.1h16.3v2.6h-16.3zM2006.9 511.1h16.3v2.6h-16.3zM1615.3 513.7h16.3v2.6h-16.3zM1566.3 513.7h16.4v2.6h-16.4zM1599 516.3h16.3v2.6h-16.3zM1615.3 518.9h32.6v2.6h-32.6zM1566.3 518.9h16.4v2.6h-16.4zM1582.7 524.1h32.6v2.6h-32.6zM1631.6 531.9h16.3v2.6h-16.3zM1566.3 531.9h16.4v2.6h-16.4zM1615.3 537.1h16.3v2.6h-16.3zM1582.7 539.7h16.3v2.6h-16.3zM1615.3 542.3h16.3v5.2h-16.3zM1794.8 544.9h48.9v2.6h-48.9zM1533.7 544.9h49v2.6h-49zM1631.6 547.5h16.3v5.2h-16.3zM1990.6 547.5h16.3v5.2h-16.3zM1615.3 552.7h32.6v5.2h-32.6zM1533.7 555.3h16.3v2.6h-16.3zM1566.3 555.3h16.4v2.6h-16.4zM2006.9 557.9h16.3v2.6h-16.3zM1957.9 557.9h32.7v2.6h-32.7zM1957.9 560.5h16.3v2.6h-16.3zM1990.6 560.5h16.3v2.6h-16.3zM1909 557.9h32.6v7.8h-32.6zM1582.7 557.9h32.6v7.8h-32.6zM1876.3 563.1h16.4v2.6h-16.4zM1957.9 563.1h65.3v2.6h-65.3zM1843.7 565.7h65.3v2.6h-65.3zM1582.7 565.7h16.3v2.6h-16.3zM1925.3 565.7h32.6v2.6h-32.6zM1599 568.3h16.3v2.6h-16.3zM1974.2 568.3h32.7v2.6h-32.7zM1974.2 570.9h49v2.6h-49zM1909 570.9h32.6v5.2h-32.6zM1957.9 573.5h65.3v2.6h-65.3zM2006.9 576.1h16.3v2.6h-16.3zM1876.3 576.1h97.9v2.6h-97.9zM1843.7 576.1h16.3v2.6h-16.3zM1909 578.7h16.3v2.6h-16.3zM1957.9 578.7h65.3v5.2h-65.3zM1909 581.3h32.6v2.6h-32.6zM1582.7 570.9h32.6v15.6h-32.6zM1876.3 581.3h16.4v5.2h-16.4zM1974.2 583.9h16.4v2.6h-16.4zM1909 583.9h16.3v2.6h-16.3zM1860 586.5h114.2v2.6h-114.2zM2006.9 583.9h16.3v7.8h-16.3zM1582.7 586.5h16.3v5.2h-16.3zM1843.7 589.1h16.3v2.6h-16.3zM1876.3 589.1h114.3v2.6h-114.3zM1615.3 591.7h32.6v2.6h-32.6zM1909 594.3h16.3v2.6h-16.3zM1582.7 594.3h32.6v2.6h-32.6zM1990.6 594.3h32.6v2.6h-32.6zM1582.7 596.9h16.3v2.6h-16.3zM1631.6 596.9h16.3v2.6h-16.3zM1566.3 599.5h16.4v2.6h-16.4zM1909 602.1h16.3v2.6h-16.3zM1599 602.1h16.3v2.6h-16.3zM1974.2 596.9h32.7v10.4h-32.7zM1909 604.7h32.6v2.6h-32.6zM1631.6 604.7h16.3v2.6h-16.3zM1615.3 607.3h32.6v2.6h-32.6zM1566.3 607.3h16.4v2.6h-16.4zM1974.2 609.9h49v2.6h-49zM1631.6 609.9h16.3v2.6h-16.3zM1925.3 612.5h16.3v2.6h-16.3zM1582.7 612.5h16.3v5.2h-16.3zM1974.2 612.5h32.7v5.2h-32.7zM1550 615.1h16.3v2.6h-16.3zM1550 617.7h32.7v2.6h-32.7zM1615.3 617.7h32.6v2.6h-32.6zM1957.9 620.3h49v2.6h-49zM1582.7 620.3h32.6v5.2h-32.6zM1909 622.9h32.6v2.6h-32.6zM1876.3 622.9h16.4v2.6h-16.4zM1974.2 622.9h49v2.6h-49zM1843.7 625.5h65.3v2.6h-65.3zM1941.6 625.5h16.3v2.6h-16.3zM1729.5 628.1h16.3v2.6h-16.3zM1892.7 630.7h32.6v2.6h-32.6zM1843.7 630.7h32.6v2.6h-32.6zM1990.6 630.7h32.6v2.6h-32.6zM1941.6 630.7h32.6v5.2h-32.6zM2006.9 633.3h16.3v2.6h-16.3zM1843.7 633.3h49v2.6h-49zM1843.7 635.9h16.3v2.6h-16.3zM1550 638.5h16.3v2.6h-16.3zM1550 648.9h16.3v5.2h-16.3zM1566.3 654.1h16.4v2.7h-16.4zM1550 656.8h16.3v2.6h-16.3zM1550 659.4h32.7v2.6h-32.7zM1550 662h16.3v2.6h-16.3zM1550 667.2h16.3v2.6h-16.3zM1599 669.8h48.9v5.2h-48.9zM1566.3 675h16.4v2.6h-16.4zM1631.6 675h16.3v5.2h-16.3zM1582.7 677.6h32.6v2.6h-32.6zM1566.3 680.2h32.7v2.6h-32.7zM1615.3 680.2h32.6v2.6h-32.6zM1615.3 682.8h16.3v2.6h-16.3zM1566.3 682.8h16.4v2.6h-16.4zM1631.6 685.4h16.3v2.6h-16.3zM1599 685.4h16.3v2.6h-16.3zM1990.6 685.4h16.3v2.6h-16.3zM1925.3 688h16.3v2.6h-16.3zM2006.9 688h16.3v2.6h-16.3zM1566.3 690.6h16.4v2.6h-16.4zM1566.3 693.2h32.7v5.2h-32.7zM1615.3 690.6h32.6v10.4h-32.6zM1566.3 698.4h16.4v2.6h-16.4zM1566.3 701h32.7v2.6h-32.7zM1631.6 701h16.3v5.2h-16.3zM1582.7 703.6h16.3v2.6h-16.3zM1615.3 706.2h32.6v2.6h-32.6zM1566.3 706.2h16.4v2.6h-16.4zM1566.3 708.8h32.7v5.2h-32.7zM1631.6 711.4h16.3v2.6h-16.3zM1778.5 716.6h16.3v2.6h-16.3zM1550 714h16.3v7.8h-16.3zM1778.5 719.2h65.2v2.6h-65.2zM1615.3 721.8h16.3v2.6h-16.3zM1778.5 721.8h48.9v2.6h-48.9zM1811.1 724.4h32.6v2.6h-32.6zM1550 724.4h16.3v5.2h-16.3zM1778.5 724.4h16.3v5.2h-16.3zM1811.1 727h16.3v2.6h-16.3zM1533.7 729.6h32.6v2.6h-32.6zM1550 734.8h16.3v2.6h-16.3zM1778.5 734.8h16.3v2.6h-16.3zM1533.7 745.2h32.6v2.6h-32.6zM1778.5 745.2h16.3v2.6h-16.3zM1811.1 745.2h32.6v2.6h-32.6zM1550 750.4h16.3v5.2h-16.3zM1778.5 750.4h16.3v5.2h-16.3zM1533.7 755.6h49v2.6h-49zM1615.3 755.6h16.3v2.6h-16.3zM1778.5 755.6h65.2v2.6h-65.2zM1533.7 758.2h32.6v2.6h-32.6zM1778.5 758.2h16.3v2.6h-16.3zM1811.1 758.2h32.6v2.6h-32.6zM1811.1 763.4h16.3v2.6h-16.3zM1550 763.4h16.3v5.2h-16.3zM1778.5 763.4h16.3v7.8h-16.3zM1533.7 768.6h32.6v2.6h-32.6zM1794.8 776.4h48.9v2.6h-48.9zM1631.6 776.4h16.3v2.6h-16.3zM1550 776.4h16.3v5.2h-16.3zM1778.5 781.6h32.6v2.6h-32.6zM1533.7 781.6h32.6v2.6h-32.6zM1827.4 781.6h16.3v2.6h-16.3zM1550 784.2h16.3v2.6h-16.3zM1811.1 784.2h32.6v2.6h-32.6zM1615.3 784.2h32.6v2.6h-32.6zM1778.5 786.8h32.6v2.6h-32.6zM1533.7 794.6h32.6v2.6h-32.6zM1550 797.2h16.3v2.6h-16.3zM1533.7 802.4h32.6v5.2h-32.6zM1533.7 807.6h16.3v2.6h-16.3zM1550 810.2h16.3v2.6h-16.3zM1533.7 812.8h16.3v2.6h-16.3zM1615.3 815.4h16.3v2.6h-16.3zM1533.7 815.4h32.6v5.2h-32.6zM1533.7 820.6h16.3v2.6h-16.3zM1566.3 820.6h16.4v2.6h-16.4zM1615.3 820.6h32.6v2.6h-32.6zM1550 823.2h16.3v2.6h-16.3zM1615.3 825.8h32.6v2.6h-32.6zM1566.3 825.8h16.4v2.6h-16.4zM1550 828.4h16.3v2.6h-16.3zM1990.6 831h16.3v2.6h-16.3zM1615.3 831h32.6v2.6h-32.6zM1533.7 831h16.3v5.2h-16.3zM1566.3 831h16.4v5.2h-16.4zM1631.6 833.6h16.3v2.6h-16.3zM1533.7 836.2h49v2.6h-49zM1615.3 836.2h32.6v5.2h-32.6zM1990.6 838.8h16.3v2.6h-16.3zM1550 841.4h16.3v5.2h-16.3zM1533.7 846.6h49v2.6h-49zM1615.3 846.6h32.6v2.6h-32.6zM1990.6 846.6h16.3v2.6h-16.3zM1615.3 849.2h16.3v2.6h-16.3zM1550 849.2h16.3v5.2h-16.3zM1582.7 854.4h48.9v2.6h-48.9zM1990.6 854.4h16.3v2.6h-16.3zM1615.3 857h16.3v2.6h-16.3zM1550 857h16.3v2.6h-16.3zM1631.6 859.6h16.3v2.6h-16.3zM1533.7 859.6h32.6v5.2h-32.6zM1533.7 864.8h16.3v2.6h-16.3zM1566.3 864.8h16.4v2.6h-16.4zM1533.7 867.4h32.6v2.6h-32.6zM1615.3 864.8h32.6v7.8h-32.6zM1533.7 870h49v2.6h-49zM1533.7 875.2h32.6v2.6h-32.6zM1533.7 877.8h49v2.6h-49zM1615.3 877.8h32.6v2.6h-32.6zM1533.7 883h49v2.6h-49zM1615.3 883h32.6v2.6h-32.6zM1533.7 885.6h32.6v2.6h-32.6zM1631.6 885.6h16.3v2.6h-16.3zM1533.7 888.2h16.3v2.6h-16.3zM1615.3 888.2h16.3v2.6h-16.3zM1566.3 888.2h16.4v2.6h-16.4zM1550 896h16.3v5.2h-16.3zM1533.7 901.2h49v2.6h-49zM1550 903.8h32.7v2.6h-32.7zM1533.7 906.4h49v2.6h-49zM1533.7 909h16.3v2.6h-16.3zM1566.3 909h16.4v2.6h-16.4zM1615.3 909h32.6v5.2h-32.6zM1533.7 911.6h49v2.6h-49zM1550 914.2h32.7v2.6h-32.7zM1533.7 916.8h49v2.6h-49zM1778.5 916.8h16.3v2.6h-16.3zM1827.4 916.8h16.3v2.6h-16.3zM1615.3 916.8h32.6v5.2h-32.6zM1533.7 927.2h49v2.6h-49zM1631.6 929.8h16.3v2.6h-16.3zM1582.7 935h16.3v2.6h-16.3zM1615.3 935h16.3v2.6h-16.3zM1582.7 937.6h32.6v2.6h-32.6zM1615.3 940.2h16.3v2.6h-16.3zM1533.7 942.8h16.3v2.6h-16.3zM2006.9 945.4h16.3v2.6h-16.3zM1582.7 948h16.3v2.6h-16.3zM1533.7 953.2h16.3v2.6h-16.3zM1599 955.8h16.3v2.6h-16.3zM1957.9 955.8h16.3v2.6h-16.3zM1990.6 955.8h32.6v2.6h-32.6zM1990.6 958.4h16.3v5.2h-16.3zM1582.7 958.4h32.6v5.2h-32.6zM1533.7 963.6h16.3v2.6h-16.3zM1631.6 963.6h16.3v2.6h-16.3zM1566.3 963.6h16.4v2.6h-16.4zM1582.7 966.2h32.6v2.6h-32.6zM1631.6 968.8h16.3v2.6h-16.3zM1566.3 968.8h16.4v5.2h-16.4zM1533.7 971.4h16.3v2.6h-16.3zM1615.3 971.4h32.6v2.6h-32.6zM1566.3 974h49v2.6h-49zM1582.7 976.6h32.6v2.6h-32.6zM1566.3 979.2h16.4v2.6h-16.4zM1941.6 1002.7h16.3v2.6h-16.3zM1615.3 1002.7h32.6v2.6h-32.6zM2006.9 1005.3h16.3v2.6h-16.3zM1631.6 1005.3h16.3v2.6h-16.3zM1974.2 1005.3h16.4v2.6h-16.4zM1533.7 1007.9h16.3v2.6h-16.3zM1990.6 1007.9h16.3v2.6h-16.3zM1974.2 1010.5h49v2.6h-49zM1615.3 1010.5h32.6v2.6h-32.6zM1990.6 1013.1h16.3v2.6h-16.3zM1533.7 1013.1h16.3v5.2h-16.3zM1990.6 1018.3h16.3v2.6h-16.3zM1566.3 1013.1h16.4v10.4h-16.4zM1615.3 1020.9h32.6v2.6h-32.6zM1533.7 1023.5h32.6v2.6h-32.6zM1990.6 1026.1h16.3v2.6h-16.3zM1615.3 1026.1h32.6v7.8h-32.6zM1974.2 1028.7h49v5.2h-49zM1582.7 1031.3h16.3v2.6h-16.3zM1631.6 1033.9h16.3v2.6h-16.3zM1533.7 1036.5h49v2.6h-49zM1533.7 1039.1h16.3v2.6h-16.3zM1566.3 1039.1h16.4v2.6h-16.4zM1974.2 1041.7h32.7v2.6h-32.7zM1615.3 1041.7h32.6v5.2h-32.6zM1974.2 1044.3h16.4v2.6h-16.4zM1566.3 1044.3h16.4v5.2h-16.4zM1533.7 1049.5h32.6v2.6h-32.6zM1533.7 1052.1h16.3v2.6h-16.3zM1566.3 1052.1h16.4v2.6h-16.4zM1550 1054.7h16.3v15.6h-16.3zM1550 1075.5h16.3v2.6h-16.3zM1533.7 1080.7h49v2.6h-49zM1533.7 1085.9h32.6v5.2h-32.6zM1533.7 1098.9h32.6v2.6h-32.6zM1550 1114.5h16.3v2.6h-16.3zM1533.7 1117.1h49v2.6h-49zM1533.7 1124.9h32.6v2.6h-32.6zM1550 1153.5h16.3v2.6h-16.3zM1533.7 1156.1h49v2.6h-49zM1550 1161.3h16.3v2.6h-16.3zM1533.7 1169.1h32.6v2.6h-32.6z"/><path fill="#10A888" d="M1925.3 136.6h16.3v2.6h-16.3zM1892.7 136.6h16.3v2.6h-16.3zM1909 139.2h32.6v2.6h-32.6zM1582.7 136.6h32.6v7.8h-32.6zM1843.7 136.6h32.6v7.8h-32.6zM1957.9 136.6h16.3v10.4h-16.3zM1860 144.4h16.3v2.6h-16.3zM1892.7 141.8h48.9v7.8h-48.9zM1582.7 147h32.6v2.6h-32.6zM1843.7 147h32.6v5.2h-32.6zM1925.3 149.6h16.3v2.6h-16.3zM1974.2 152.2h16.4v2.6h-16.4zM2006.9 152.2h16.3v2.6h-16.3zM1925.3 154.8h16.3v2.6h-16.3zM1892.7 154.8h16.3v2.6h-16.3zM1599 154.8h16.3v2.6h-16.3zM1843.7 154.8h32.6v5.2h-32.6zM1957.9 157.4h16.3v2.6h-16.3zM1892.7 157.4h48.9v2.6h-48.9zM1582.7 157.4h32.6v2.6h-32.6zM1860 160h16.3v2.6h-16.3zM2006.9 160h16.3v2.6h-16.3zM1909 162.6h16.3v5.2h-16.3zM1843.7 162.6h32.6v5.2h-32.6zM1957.9 162.6h16.3v7.8h-16.3zM1892.7 167.8h48.9v2.6h-48.9zM1582.7 167.8h32.6v2.6h-32.6zM1860 167.8h16.3v2.6h-16.3zM1909 170.4h32.6v2.6h-32.6zM1843.7 170.4h32.6v2.6h-32.6zM1599 170.4h16.3v5.2h-16.3zM1957.9 173h32.7v2.6h-32.7zM1860 173h16.3v2.6h-16.3zM1860 175.6h114.2v2.6h-114.2zM1860 178.2h32.7v2.6h-32.7zM1582.7 178.2h32.6v2.6h-32.6zM1957.9 178.2h16.3v2.6h-16.3zM1909 178.2h32.6v2.6h-32.6zM1860 180.8h65.3v2.6h-65.3zM1778.5 183.4h146.8v2.6h-146.8zM1941.6 180.8h32.6v7.8h-32.6zM1794.8 186h32.6v2.6h-32.6zM1909 186h16.3v5.2h-16.3zM1778.5 188.6h97.8v2.6h-97.8zM1990.6 188.6h16.3v2.6h-16.3zM1957.9 188.6h16.3v2.6h-16.3zM1582.7 188.6h16.3v2.6h-16.3zM1843.7 191.2h130.5v2.6h-130.5zM1778.5 193.8h32.6v2.6h-32.6zM1974.2 193.8h32.7v5.2h-32.7zM1794.8 196.4h16.3v2.6h-16.3zM1892.7 196.4h16.3v2.6h-16.3zM1925.3 193.8h16.3v7.8h-16.3zM1582.7 193.8h32.6v7.8h-32.6zM1778.5 199h16.3v2.6h-16.3zM1990.6 199h16.3v2.6h-16.3zM1957.9 199h16.3v2.6h-16.3zM1860 201.6h97.9v2.6h-97.9zM1876.3 204.2h16.4v2.6h-16.4zM1827.4 204.2h32.6v2.6h-32.6zM1599 204.2h16.3v2.6h-16.3zM1794.8 206.8h16.3v2.6h-16.3zM1582.7 206.8h32.6v2.6h-32.6zM1925.3 206.8h16.3v2.6h-16.3zM1892.7 206.8h16.3v2.6h-16.3zM1974.2 206.8h32.7v5.2h-32.7zM1582.7 209.4h16.3v2.6h-16.3zM1794.8 209.4h48.9v2.6h-48.9zM1843.7 212h97.9v2.6h-97.9zM1957.9 212h16.3v2.6h-16.3zM1892.7 214.6h16.3v2.6h-16.3zM1794.8 214.6h16.3v5.2h-16.3zM1925.3 217.2h32.6v2.6h-32.6zM1843.7 217.2h49v2.6h-49zM1582.7 214.6h16.3v7.8h-16.3zM1941.6 219.8h16.3v2.6h-16.3zM1843.7 219.8h16.3v2.6h-16.3zM1876.3 219.8h32.7v2.6h-32.7zM1974.2 222.4h49v2.6h-49zM1778.5 222.4h65.2v2.6h-65.2zM1599 222.4h16.3v5.2h-16.3zM1892.7 225h16.3v2.6h-16.3zM1925.3 225h48.9v2.6h-48.9zM1827.4 225h16.3v5.2h-16.3zM1925.3 227.6h16.3v2.6h-16.3zM1582.7 227.6h32.6v2.6h-32.6zM1957.9 227.6h32.7v2.6h-32.7zM1974.2 230.2h16.4v2.6h-16.4zM1794.8 230.2h48.9v2.6h-48.9zM1599 230.2h16.3v2.6h-16.3zM2006.9 230.2h16.3v2.6h-16.3zM1957.9 232.8h16.3v2.6h-16.3zM1909 232.8h32.6v2.6h-32.6zM1582.7 232.8h32.6v2.6h-32.6zM1876.3 232.8h16.4v2.6h-16.4zM1599 235.4h16.3v2.6h-16.3zM1925.3 238h16.3v2.6h-16.3zM1974.2 238h16.4v2.6h-16.4zM1811.1 238h16.3v2.6h-16.3zM1582.7 238h32.6v5.2h-32.6zM1957.9 240.6h16.3v2.6h-16.3zM1876.3 240.6h16.4v2.6h-16.4zM1941.6 243.2h16.3v2.6h-16.3zM1892.7 243.2h32.6v2.6h-32.6zM1843.7 243.2h32.6v2.6h-32.6zM1794.8 245.8h16.3v2.6h-16.3zM1827.4 245.8h16.3v2.6h-16.3zM1582.7 245.8h32.6v2.6h-32.6zM1957.9 245.8h16.3v2.6h-16.3zM1876.3 245.8h32.7v2.6h-32.7zM1925.3 245.8h16.3v5.2h-16.3zM2006.9 245.8h16.3v5.2h-16.3zM1974.2 248.4h16.4v2.6h-16.4zM1794.8 248.4h48.9v2.6h-48.9zM1599 248.4h16.3v2.6h-16.3zM1843.7 251h114.2v2.6h-114.2zM1713.2 251h16.3v2.6h-16.3zM1974.2 253.6h49v2.6h-49zM1827.4 253.6h16.3v2.6h-16.3zM1925.3 253.6h32.6v2.6h-32.6zM1582.7 253.6h32.6v5.2h-32.6zM1957.9 256.2h16.3v2.6h-16.3zM1876.3 256.2h65.3v2.6h-65.3zM1843.7 258.8h49v2.6h-49zM1941.6 258.8h16.3v2.6h-16.3zM1582.7 258.8h16.3v2.6h-16.3zM1957.9 261.4h65.3v2.6h-65.3zM1925.3 261.4h16.3v2.6h-16.3zM1794.8 261.4h48.9v2.6h-48.9zM1794.8 264h16.3v2.6h-16.3zM2006.9 264h16.3v2.6h-16.3zM1876.3 264h97.9v2.6h-97.9zM1582.7 264h32.6v2.6h-32.6zM1843.7 266.6h32.6v2.6h-32.6zM1860 269.2h65.3v2.6h-65.3zM1582.7 269.2h16.3v2.6h-16.3zM1941.6 269.2h16.3v5.2h-16.3zM1794.8 271.8h16.3v2.6h-16.3zM1827.4 271.8h16.3v2.6h-16.3zM1599 271.8h16.3v2.6h-16.3zM1892.7 271.8h16.3v2.6h-16.3zM2006.9 271.8h16.3v2.6h-16.3zM1860 274.4h114.2v2.6h-114.2zM1811.1 277h32.6v2.6h-32.6zM1957.9 277h32.7v2.6h-32.7zM2006.9 277h16.3v2.6h-16.3zM1582.7 277h32.6v2.6h-32.6zM1860 277h81.6v2.6h-81.6zM1941.6 279.6h16.3v2.6h-16.3zM1860 279.6h65.3v2.6h-65.3zM1582.7 279.6h16.3v2.6h-16.3zM1794.8 282.2h16.3v2.6h-16.3zM1860 282.2h114.2v2.6h-114.2zM2006.9 282.2h16.3v2.6h-16.3zM1582.7 282.2h32.6v5.2h-32.6zM1876.3 284.8h16.4v2.6h-16.4zM1925.3 284.8h16.3v2.6h-16.3zM1957.9 284.8h49v2.6h-49zM1941.6 287.4h16.3v2.6h-16.3zM1876.3 287.4h32.7v2.6h-32.7zM1843.7 287.4h16.3v2.6h-16.3zM1843.7 290h49v2.6h-49zM1909 290h65.2v2.6h-65.2zM1582.7 290h32.6v2.6h-32.6zM1925.3 292.6h32.6v2.6h-32.6zM1843.7 292.6h65.3v2.6h-65.3zM1582.7 292.6h16.3v2.6h-16.3zM1909 295.2h81.6v2.6h-81.6zM1582.7 295.2h32.6v2.6h-32.6zM1876.3 295.2h16.4v2.6h-16.4zM1843.7 295.2h16.3v5.2h-16.3zM1876.3 297.8h49v2.6h-49zM1729.5 297.8h16.3v2.6h-16.3zM1599 297.8h16.3v2.6h-16.3zM1582.7 300.4h32.6v2.6h-32.6zM1860 300.4h114.2v5.2h-114.2zM1909 305.6h16.3v2.7h-16.3zM1811.1 305.6h16.3v2.7h-16.3zM1941.6 305.6h49v2.7h-49zM1582.7 305.6h32.6v5.3h-32.6zM1860 308.3h32.7v2.6h-32.7zM1957.9 308.3h32.7v2.6h-32.7zM1909 308.3h32.6v2.6h-32.6zM2006.9 308.3h16.3v2.6h-16.3zM1729.5 310.9h16.3v2.6h-16.3zM1843.7 310.9h16.3v2.6h-16.3zM1762.1 313.5h16.4v2.6h-16.4zM1713.2 313.5h16.3v2.6h-16.3zM1941.6 316.1h16.3v2.6h-16.3zM1843.7 316.1h65.3v2.6h-65.3zM1745.8 318.7h32.7v2.6h-32.7zM1696.9 318.7h32.6v2.6h-32.6zM1664.2 318.7h16.3v5.2h-16.3zM1762.1 321.3h16.4v2.6h-16.4zM1713.2 321.3h32.6v2.6h-32.6zM1729.5 323.9h16.3v2.6h-16.3zM1664.2 331.7h81.6v2.6h-81.6zM1696.9 334.3h48.9v2.6h-48.9zM1762.1 331.7h16.4v7.8h-16.4zM1664.2 336.9h16.3v2.6h-16.3zM1713.2 336.9h32.6v2.6h-32.6zM1892.7 339.5h16.3v2.6h-16.3zM1941.6 339.5h16.3v2.6h-16.3zM1696.9 342.1h48.9v2.6h-48.9zM1664.2 344.7h16.3v2.6h-16.3zM1713.2 344.7h32.6v7.8h-32.6zM1762.1 344.7h16.4v10.4h-16.4zM1696.9 352.5h48.9v2.6h-48.9zM1745.8 355.1h32.7v2.6h-32.7zM1664.2 355.1h65.3v2.6h-65.3zM1664.2 357.7h16.3v2.6h-16.3zM1696.9 357.7h48.9v2.6h-48.9zM1762.1 357.7h16.4v5.2h-16.4zM1713.2 360.3h32.6v2.6h-32.6zM1680.5 360.3h16.4v2.6h-16.4zM1713.2 362.9h16.3v2.6h-16.3zM1696.9 365.5h48.9v2.6h-48.9zM1762.1 365.5h16.4v5.2h-16.4zM1664.2 368.1h49v2.6h-49zM1729.5 368.1h16.3v2.6h-16.3zM1713.2 370.7h16.3v2.6h-16.3zM1680.5 370.7h16.4v2.6h-16.4zM1664.2 373.3h81.6v2.6h-81.6zM1762.1 378.5h16.4v2.6h-16.4zM1680.5 378.5h65.3v2.6h-65.3zM1696.9 381.1h32.6v2.6h-32.6zM1664.2 383.7h49v2.6h-49zM1762.1 383.7h16.4v2.6h-16.4zM1729.5 383.7h16.3v2.6h-16.3zM1713.2 386.3h16.3v2.6h-16.3zM1664.2 388.9h49v2.6h-49zM1729.5 388.9h49v2.6h-49zM1745.8 391.5h32.7v2.6h-32.7zM1664.2 391.5h65.3v2.6h-65.3zM1762.1 396.7h16.4v2.6h-16.4zM1713.2 396.7h32.6v2.6h-32.6zM1843.7 401.9h32.6v2.6h-32.6zM1892.7 401.9h32.6v2.6h-32.6zM1713.2 407.1h32.6v2.6h-32.6zM1696.9 417.5h16.3v2.6h-16.3zM1729.5 417.5h16.3v2.6h-16.3zM1843.7 420.1h32.6v2.6h-32.6zM1762.1 425.3h16.4v2.6h-16.4zM1696.9 425.3h16.3v2.6h-16.3zM1729.5 425.3h16.3v2.6h-16.3zM1860 430.5h16.3v2.6h-16.3zM1696.9 433.1h65.2v2.6h-65.2zM1664.2 438.3h16.3v2.6h-16.3zM1696.9 438.3h48.9v2.6h-48.9zM1860 440.9h16.3v2.6h-16.3zM1909 446.1h16.3v2.6h-16.3zM1860 446.1h16.3v5.2h-16.3zM1696.9 448.7h16.3v2.6h-16.3zM1729.5 451.3h16.3v2.6h-16.3zM1664.2 453.9h114.3v2.6h-114.3zM1680.5 456.5h81.6v2.6h-81.6zM1664.2 461.7h32.7v2.6h-32.7zM1745.8 461.7h32.7v2.6h-32.7zM1713.2 461.7h16.3v2.6h-16.3zM1843.7 464.3h32.6v2.6h-32.6zM1664.2 466.9h97.9v2.6h-97.9zM1941.6 469.5h32.6v2.6h-32.6zM1843.7 469.5h16.3v2.6h-16.3zM1843.7 472.1h32.6v2.6h-32.6zM1941.6 474.7h49v2.6h-49zM1582.7 474.7h32.6v2.6h-32.6zM1843.7 474.7h16.3v2.6h-16.3zM1876.3 474.7h16.4v5.2h-16.4zM1909 474.7h16.3v5.2h-16.3zM2006.9 474.7h16.3v5.2h-16.3zM1957.9 477.3h32.7v2.6h-32.7zM1599 477.3h16.3v2.6h-16.3zM1941.6 479.9h16.3v2.6h-16.3zM1892.7 479.9h16.3v2.6h-16.3zM1843.7 479.9h32.6v2.6h-32.6zM1582.7 482.5h32.6v2.6h-32.6zM1925.3 482.5h16.3v2.6h-16.3zM1990.6 482.5h16.3v2.6h-16.3zM1631.6 485.1h16.3v2.6h-16.3zM1876.3 487.7h16.4v2.6h-16.4zM1599 487.7h16.3v2.6h-16.3zM1925.3 487.7h16.3v2.6h-16.3zM1990.6 487.7h16.3v7.8h-16.3zM1582.7 490.3h32.6v7.8h-32.6zM1876.3 492.9h16.4v5.2h-16.4zM1925.3 492.9h16.3v5.2h-16.3zM1957.9 495.5h32.7v2.6h-32.7zM2006.9 495.5h16.3v2.6h-16.3zM1990.6 498.1h16.3v2.6h-16.3zM1599 498.1h16.3v5.2h-16.3zM1957.9 500.7h16.3v2.6h-16.3zM2006.9 500.7h16.3v2.6h-16.3zM1990.6 503.3h32.6v2.6h-32.6zM1582.7 503.3h32.6v2.6h-32.6zM1925.3 500.7h16.3v7.8h-16.3zM1876.3 503.3h16.4v5.2h-16.4zM1582.7 505.9h16.3v2.6h-16.3zM1843.7 505.9h16.3v2.6h-16.3zM1957.9 505.9h49v2.6h-49zM1599 508.5h16.3v2.6h-16.3zM1909 508.5h32.6v2.6h-32.6zM2006.9 508.5h16.3v2.6h-16.3zM1876.3 511.1h16.4v2.6h-16.4zM1582.7 511.1h32.6v2.6h-32.6zM1909 511.1h16.3v2.6h-16.3zM1941.6 511.1h65.3v2.6h-65.3zM1631.6 513.7h16.3v2.6h-16.3zM1599 513.7h16.3v2.6h-16.3zM1925.3 516.3h48.9v2.6h-48.9zM1990.6 516.3h16.3v2.6h-16.3zM1582.7 516.3h16.3v2.6h-16.3zM1582.7 518.9h32.6v5.2h-32.6zM1909 521.5h65.2v2.6h-65.2zM1876.3 521.5h16.4v2.6h-16.4zM1990.6 521.5h32.6v2.6h-32.6zM1974.2 524.1h49v2.6h-49zM1876.3 524.1h81.6v2.6h-81.6zM1957.9 526.7h16.3v2.6h-16.3zM1909 526.7h32.6v2.6h-32.6zM1990.6 526.7h32.6v5.2h-32.6zM1909 529.3h65.2v2.6h-65.2zM1925.3 531.9h16.3v2.6h-16.3zM1582.7 526.7h32.6v13h-32.6zM1990.6 531.9h16.3v7.8h-16.3zM1909 539.7h114.2v2.6h-114.2zM1876.3 539.7h16.4v2.6h-16.4zM1599 539.7h16.3v2.6h-16.3zM1974.2 542.3h49v2.6h-49zM1582.7 542.3h32.6v2.6h-32.6zM1631.6 544.9h16.3v2.6h-16.3zM1909 547.5h48.9v2.6h-48.9zM2006.9 547.5h16.3v5.2h-16.3zM1909 550.1h16.3v2.6h-16.3zM1941.6 550.1h49v2.6h-49zM1876.3 547.5h16.4v7.8h-16.4zM1582.7 547.5h32.6v7.8h-32.6zM1957.9 552.7h16.3v2.6h-16.3zM1990.6 552.7h32.6v2.6h-32.6zM1599 555.3h16.3v2.6h-16.3zM1974.2 555.3h32.7v2.6h-32.7zM1925.3 555.3h16.3v2.6h-16.3zM1843.7 557.9h65.3v2.6h-65.3zM1876.3 560.5h32.7v2.6h-32.7zM1974.2 560.5h16.4v2.6h-16.4zM2006.9 560.5h16.3v2.6h-16.3zM1941.6 557.9h16.3v7.8h-16.3zM1892.7 563.1h16.3v2.6h-16.3zM1843.7 563.1h32.6v2.6h-32.6zM1713.2 565.7h16.3v2.6h-16.3zM1957.9 568.3h16.3v2.6h-16.3zM2006.9 568.3h16.3v2.6h-16.3zM1876.3 568.3h65.3v2.6h-65.3zM1582.7 568.3h16.3v2.6h-16.3zM1843.7 570.9h16.3v2.6h-16.3zM1941.6 570.9h32.6v2.6h-32.6zM1876.3 570.9h32.7v2.6h-32.7zM1941.6 573.5h16.3v2.6h-16.3zM1843.7 573.5h65.3v2.6h-65.3zM1860 576.1h16.3v2.6h-16.3zM1925.3 578.7h32.6v2.6h-32.6zM1843.7 578.7h65.3v2.6h-65.3zM1941.6 581.3h16.3v2.6h-16.3zM1892.7 581.3h16.3v5.2h-16.3zM1843.7 581.3h32.6v5.2h-32.6zM1925.3 583.9h48.9v2.6h-48.9zM1843.7 586.5h16.3v2.6h-16.3zM1860 589.1h16.3v2.6h-16.3zM1974.2 591.7h32.7v2.6h-32.7zM1876.3 591.7h65.3v2.6h-65.3zM1599 591.7h16.3v2.6h-16.3zM1860 594.3h49v2.6h-49zM1925.3 594.3h65.3v2.6h-65.3zM1860 596.9h81.6v2.6h-81.6zM1957.9 596.9h16.3v2.6h-16.3zM1599 596.9h16.3v2.6h-16.3zM1892.7 599.5h81.5v2.6h-81.5zM1582.7 599.5h32.6v2.6h-32.6zM1843.7 599.5h32.6v2.6h-32.6zM1843.7 602.1h65.3v2.6h-65.3zM1582.7 602.1h16.3v2.6h-16.3zM1925.3 602.1h48.9v2.6h-48.9zM2006.9 596.9h16.3v10.4h-16.3zM1941.6 604.7h32.6v2.6h-32.6zM1860 604.7h49v2.6h-49zM1974.2 607.3h49v2.6h-49zM1876.3 607.3h81.6v2.6h-81.6zM1582.7 604.7h32.6v7.8h-32.6zM1860 609.9h114.2v2.6h-114.2zM1941.6 612.5h32.6v2.6h-32.6zM1843.7 612.5h81.6v2.6h-81.6zM1729.5 612.5h16.3v2.6h-16.3zM2006.9 612.5h16.3v5.2h-16.3zM1599 612.5h16.3v5.2h-16.3zM1860 615.1h114.2v2.6h-114.2zM1957.9 617.7h65.3v2.6h-65.3zM1582.7 617.7h32.6v2.6h-32.6zM1876.3 617.7h65.3v2.6h-65.3zM1843.7 620.3h114.2v2.6h-114.2zM2006.9 620.3h16.3v2.6h-16.3zM1941.6 622.9h32.6v2.6h-32.6zM1892.7 622.9h16.3v2.6h-16.3zM1843.7 622.9h32.6v2.6h-32.6zM1664.2 625.5h16.3v2.6h-16.3zM1729.5 625.5h16.3v2.6h-16.3zM1696.9 628.1h16.3v2.6h-16.3zM1647.9 628.1h32.6v2.6h-32.6zM1745.8 628.1h32.7v2.6h-32.7zM1729.5 630.7h16.3v2.6h-16.3zM1664.2 633.3h16.3v2.6h-16.3zM1713.2 635.9h48.9v2.6h-48.9zM1647.9 635.9h32.6v2.6h-32.6zM1566.3 638.5h16.4v2.6h-16.4zM1615.3 641.1h16.3v2.6h-16.3zM1550 641.1h16.3v2.6h-16.3zM1550 643.7h32.7v2.6h-32.7zM1599 643.7h16.3v2.6h-16.3zM1550 646.3h65.3v2.6h-65.3zM1631.6 646.3h16.3v5.2h-16.3zM1566.3 648.9h49v2.6h-49zM1599 651.5h32.6v2.6h-32.6zM1566.3 651.5h16.4v2.6h-16.4zM1550 654.1h16.3v2.7h-16.3zM1582.7 654.1h16.3v2.7h-16.3zM1615.3 654.1h32.6v5.3h-32.6zM1566.3 656.8h32.7v2.6h-32.7zM1582.7 659.4h65.2v2.6h-65.2zM1566.3 662h32.7v2.6h-32.7zM1615.3 662h32.6v2.6h-32.6zM1550 664.6h49v2.6h-49zM1599 667.2h48.9v2.6h-48.9zM1566.3 667.2h16.4v2.6h-16.4zM1974.2 669.8h49v2.6h-49zM1925.3 669.8h16.3v2.6h-16.3zM1909 672.4h114.2v2.6h-114.2zM1876.3 672.4h16.4v2.6h-16.4zM1582.7 675h48.9v2.6h-48.9zM1892.7 677.6h130.5v2.6h-130.5zM1974.2 680.2h16.4v2.6h-16.4zM1599 680.2h16.3v2.6h-16.3zM1631.6 682.8h16.3v2.6h-16.3zM1582.7 682.8h32.6v2.6h-32.6zM1974.2 685.4h16.4v2.6h-16.4zM2006.9 685.4h16.3v2.6h-16.3zM1876.3 685.4h81.6v2.6h-81.6zM1941.6 688h16.3v2.6h-16.3zM1876.3 688h49v2.6h-49zM1974.2 688h32.7v2.6h-32.7zM1582.7 690.6h32.6v2.6h-32.6zM1599 693.2h16.3v5.2h-16.3zM1582.7 698.4h32.6v2.6h-32.6zM1925.3 701h16.3v2.6h-16.3zM1974.2 701h32.7v2.6h-32.7zM1599 701h16.3v5.2h-16.3zM1876.3 703.6h16.4v2.6h-16.4zM1990.6 703.6h32.6v2.6h-32.6zM1909 703.6h32.6v2.6h-32.6zM1582.7 706.2h32.6v2.6h-32.6zM1990.6 706.2h16.3v5.2h-16.3zM1925.3 708.8h16.3v2.6h-16.3zM1876.3 708.8h16.4v5.2h-16.4zM1599 708.8h16.3v5.2h-16.3zM1974.2 711.4h49v2.6h-49zM1909 711.4h16.3v2.6h-16.3zM1566.3 714h32.7v2.6h-32.7zM1566.3 716.6h16.4v2.6h-16.4zM1615.3 714h32.6v7.8h-32.6zM1566.3 719.2h32.7v2.6h-32.7zM1876.3 721.8h16.4v2.6h-16.4zM1631.6 721.8h16.3v2.6h-16.3zM1566.3 721.8h16.4v5.2h-16.4zM1533.7 719.2h16.3v10.4h-16.3zM1794.8 724.4h16.3v5.2h-16.3zM1566.3 727h32.7v2.6h-32.7zM1827.4 727h16.3v2.6h-16.3zM1990.6 721.8h16.3v10.4h-16.3zM1615.3 724.4h32.6v7.8h-32.6zM1778.5 729.6h65.2v2.6h-65.2zM1778.5 732.2h16.3v2.6h-16.3zM1811.1 732.2h32.6v2.6h-32.6zM1615.3 732.2h16.3v2.6h-16.3zM1533.7 732.2h32.6v2.6h-32.6zM1794.8 734.8h48.9v2.6h-48.9zM1533.7 734.8h16.3v2.6h-16.3zM1909 734.8h16.3v2.6h-16.3zM1566.3 734.8h16.4v2.6h-16.4zM1615.3 734.8h32.6v2.6h-32.6zM1778.5 737.4h16.3v2.6h-16.3zM1811.1 737.4h32.6v2.6h-32.6zM1533.7 737.4h32.6v5.2h-32.6zM1778.5 740h48.9v2.6h-48.9zM1794.8 745.2h16.3v2.6h-16.3zM1566.3 745.2h16.4v2.6h-16.4zM1615.3 745.2h32.6v2.6h-32.6zM1990.6 745.2h16.3v2.6h-16.3zM1892.7 745.2h65.2v2.6h-65.2zM1778.5 747.8h65.2v2.6h-65.2zM1533.7 747.8h32.6v2.6h-32.6zM1615.3 747.8h16.3v5.2h-16.3zM1566.3 750.4h16.4v5.2h-16.4zM1794.8 750.4h48.9v5.2h-48.9zM1533.7 750.4h16.3v5.2h-16.3zM1615.3 753h32.6v2.6h-32.6zM1876.3 753h16.4v2.6h-16.4zM1925.3 755.6h97.9v2.6h-97.9zM1876.3 755.6h32.7v2.6h-32.7zM1631.6 755.6h16.3v2.6h-16.3zM1582.7 755.6h16.3v2.6h-16.3zM1843.7 755.6h16.3v2.6h-16.3zM1794.8 758.2h16.3v2.6h-16.3zM1957.9 758.2h16.3v2.6h-16.3zM1566.3 758.2h16.4v2.6h-16.4zM1615.3 758.2h32.6v2.6h-32.6zM1990.6 758.2h32.6v2.6h-32.6zM1615.3 760.8h16.3v2.6h-16.3zM1778.5 760.8h65.2v2.6h-65.2zM1533.7 760.8h32.6v2.6h-32.6zM1794.8 763.4h16.3v2.6h-16.3zM1827.4 763.4h16.3v2.6h-16.3zM1566.3 763.4h16.4v2.6h-16.4zM1615.3 763.4h32.6v2.6h-32.6zM1533.7 763.4h16.3v5.2h-16.3zM1615.3 766h16.3v2.6h-16.3zM1794.8 766h48.9v5.2h-48.9zM1925.3 768.6h16.3v2.6h-16.3zM1566.3 768.6h16.4v2.6h-16.4zM1615.3 768.6h32.6v2.6h-32.6zM1990.6 768.6h16.3v2.6h-16.3zM1778.5 771.2h16.3v2.6h-16.3zM1827.4 771.2h16.3v2.6h-16.3zM1533.7 771.2h32.6v5.2h-32.6zM1778.5 773.8h65.2v2.6h-65.2zM1909 776.4h65.2v2.6h-65.2zM1615.3 776.4h16.3v2.6h-16.3zM1566.3 776.4h32.7v2.6h-32.7zM1843.7 776.4h16.3v2.6h-16.3zM1990.6 776.4h16.3v2.6h-16.3zM1631.6 779h16.3v2.6h-16.3zM1566.3 779h16.4v2.6h-16.4zM1778.5 779h65.2v2.6h-65.2zM1533.7 779h16.3v2.6h-16.3zM1811.1 781.6h16.3v2.6h-16.3zM1615.3 781.6h32.6v2.6h-32.6zM1990.6 781.6h16.3v2.6h-16.3zM1925.3 781.6h16.3v2.6h-16.3zM1957.9 781.6h16.3v2.6h-16.3zM1566.3 781.6h32.7v5.2h-32.7zM1762.1 784.2h16.4v2.6h-16.4zM1876.3 784.2h146.9v2.6h-146.9zM1843.7 784.2h16.3v2.6h-16.3zM1811.1 786.8h32.6v2.6h-32.6zM1631.6 786.8h16.3v2.6h-16.3zM1533.7 786.8h32.6v2.6h-32.6zM1550 789.4h16.3v2.6h-16.3zM1778.5 789.4h16.3v2.6h-16.3zM1533.7 792h32.6v2.6h-32.6zM1925.3 794.6h16.3v2.6h-16.3zM1957.9 794.6h16.3v2.6h-16.3zM1778.5 794.6h65.2v2.6h-65.2zM1990.6 794.6h16.3v2.6h-16.3zM1566.3 794.6h16.4v5.2h-16.4zM1615.3 794.6h32.6v5.2h-32.6zM1533.7 797.2h16.3v2.6h-16.3zM1533.7 799.8h32.6v2.6h-32.6zM1566.3 802.4h16.4v7.8h-16.4zM1566.3 810.2h32.7v2.6h-32.7zM1533.7 810.2h16.3v2.6h-16.3zM1615.3 802.4h32.6v13h-32.6zM1550 812.8h32.7v2.6h-32.7zM1631.6 815.4h16.3v2.6h-16.3zM1566.3 815.4h16.4v5.2h-16.4zM1615.3 818h32.6v2.6h-32.6zM1582.7 820.6h16.3v2.6h-16.3zM1957.9 820.6h49v2.6h-49zM1533.7 823.2h16.3v2.6h-16.3zM1566.3 823.2h16.4v2.6h-16.4zM1615.3 823.2h32.6v2.6h-32.6zM1794.8 825.8h16.3v2.6h-16.3zM1599 825.8h16.3v2.6h-16.3zM1990.6 825.8h16.3v2.6h-16.3zM1925.3 825.8h16.3v2.6h-16.3zM1957.9 825.8h16.3v2.6h-16.3zM1615.3 828.4h32.6v2.6h-32.6zM1533.7 828.4h16.3v2.6h-16.3zM1876.3 831h16.4v2.6h-16.4zM1582.7 831h32.6v2.6h-32.6zM1957.9 831h32.7v2.6h-32.7zM1794.8 831h32.6v2.6h-32.6zM2006.9 831h16.3v2.6h-16.3zM1925.3 831h16.3v5.2h-16.3zM1582.7 833.6h48.9v2.6h-48.9zM1990.6 833.6h16.3v5.2h-16.3zM1582.7 836.2h16.3v2.6h-16.3zM1794.8 838.8h32.6v2.6h-32.6zM1566.3 838.8h49v2.6h-49zM1876.3 838.8h16.4v2.6h-16.4zM1909 838.8h81.6v2.6h-81.6zM1533.7 841.4h16.3v5.2h-16.3zM1566.3 841.4h16.4v5.2h-16.4zM1615.3 841.4h32.6v5.2h-32.6zM1599 846.6h16.3v2.6h-16.3zM1957.9 846.6h16.3v2.6h-16.3zM2006.9 846.6h16.3v2.6h-16.3zM1631.6 849.2h16.3v2.6h-16.3zM1566.3 849.2h16.4v5.2h-16.4zM1533.7 849.2h16.3v5.2h-16.3zM1794.8 851.8h16.3v2.6h-16.3zM1615.3 851.8h32.6v2.6h-32.6zM1778.5 854.4h163.1v2.6h-163.1zM2006.9 854.4h16.3v2.6h-16.3zM1957.9 854.4h32.7v2.6h-32.7zM1794.8 857h16.3v2.6h-16.3zM1631.6 857h16.3v2.6h-16.3zM1533.7 857h16.3v2.6h-16.3zM1990.6 857h16.3v5.2h-16.3zM1957.9 859.6h16.3v2.6h-16.3zM1615.3 859.6h16.3v2.6h-16.3zM1566.3 857h16.4v7.8h-16.4zM1990.6 862.2h32.6v2.6h-32.6zM1615.3 862.2h32.6v2.6h-32.6zM1811.1 864.8h16.3v2.6h-16.3zM1599 864.8h16.3v2.6h-16.3zM1957.9 864.8h49v2.6h-49zM1566.3 867.4h49v2.6h-49zM2006.9 867.4h16.3v2.6h-16.3zM1990.6 870h16.3v2.6h-16.3zM1533.7 872.6h49v2.6h-49zM1631.6 872.6h16.3v2.6h-16.3zM1566.3 875.2h16.4v2.6h-16.4zM1615.3 875.2h32.6v2.6h-32.6zM1582.7 877.8h16.3v2.6h-16.3zM1631.6 880.4h16.3v2.6h-16.3zM1533.7 880.4h49v2.6h-49zM1990.6 883h16.3v5.2h-16.3zM1957.9 885.6h16.3v2.6h-16.3zM1599 885.6h32.6v2.6h-32.6zM1566.3 885.6h16.4v2.6h-16.4zM1957.9 888.2h65.3v2.6h-65.3zM1909 888.2h32.6v2.6h-32.6zM1582.7 888.2h32.6v2.6h-32.6zM1794.8 888.2h48.9v2.6h-48.9zM1615.3 890.8h16.3v2.6h-16.3zM1533.7 890.8h49v5.2h-49zM1533.7 896h16.3v5.2h-16.3zM1566.3 896h16.4v5.2h-16.4zM1533.7 903.8h16.3v2.6h-16.3zM1615.3 893.4h32.6v15.6h-32.6zM1582.7 906.4h16.3v5.2h-16.3zM1811.1 909h16.3v2.6h-16.3zM1974.2 911.6h32.7v2.6h-32.7zM1778.5 911.6h65.2v5.2h-65.2zM1615.3 914.2h32.6v2.6h-32.6zM1533.7 914.2h16.3v2.6h-16.3zM1990.6 919.4h16.3v2.6h-16.3zM1957.9 922h65.3v2.6h-65.3zM1582.7 919.4h32.6v7.8h-32.6zM1925.3 922h16.3v5.2h-16.3zM1990.6 924.6h32.6v2.6h-32.6zM1957.9 924.6h16.3v2.6h-16.3zM1615.3 927.2h32.6v2.6h-32.6zM1582.7 929.8h16.3v2.6h-16.3zM1582.7 932.4h32.6v2.6h-32.6zM1990.6 932.4h32.6v2.6h-32.6zM1925.3 935h97.9v2.6h-97.9zM1599 935h16.3v2.6h-16.3zM1876.3 937.6h16.4v2.6h-16.4zM1909 937.6h114.2v2.6h-114.2zM1941.6 940.2h81.6v2.6h-81.6zM1990.6 942.8h32.6v2.6h-32.6zM1582.7 940.2h32.6v7.8h-32.6zM1925.3 945.4h16.3v2.6h-16.3zM1957.9 945.4h16.3v2.6h-16.3zM1990.6 945.4h16.3v2.6h-16.3zM1599 948h16.3v2.6h-16.3zM1941.6 948h32.6v2.6h-32.6zM1957.9 950.6h16.3v2.6h-16.3zM1876.3 950.6h16.4v2.6h-16.4zM1990.6 948h32.6v7.8h-32.6zM1582.7 950.6h32.6v5.2h-32.6zM1909 955.8h48.9v2.6h-48.9zM1974.2 955.8h16.4v2.6h-16.4zM1876.3 955.8h16.4v2.6h-16.4zM1941.6 958.4h49v2.6h-49zM2006.9 958.4h16.3v5.2h-16.3zM1909 961h81.6v2.6h-81.6zM1582.7 963.6h32.6v2.6h-32.6zM1990.6 963.6h16.3v2.6h-16.3zM1925.3 966.2h48.9v2.6h-48.9zM1990.6 966.2h32.6v2.6h-32.6zM1582.7 968.8h32.6v2.6h-32.6zM1990.6 968.8h16.3v2.6h-16.3zM1582.7 971.4h16.3v2.6h-16.3zM1941.6 974h16.3v2.6h-16.3zM1990.6 974h32.6v5.2h-32.6zM1925.3 976.6h32.6v2.6h-32.6zM1876.3 976.6h16.4v2.6h-16.4zM1582.7 979.2h32.6v2.6h-32.6zM1990.6 979.2h16.3v2.6h-16.3zM1925.3 979.2h16.3v2.6h-16.3zM1876.3 1002.7h16.4v2.6h-16.4zM1582.7 1002.7h32.6v2.6h-32.6zM1957.9 1002.7h32.7v2.6h-32.7zM1909 1002.7h32.6v2.6h-32.6zM2006.9 1002.7h16.3v2.6h-16.3zM1860 1005.3h114.2v2.6h-114.2zM1582.7 1005.3h48.9v2.6h-48.9zM1974.2 1007.9h16.4v2.6h-16.4zM1631.6 1007.9h16.3v2.6h-16.3zM1566.3 1007.9h16.4v2.6h-16.4zM2006.9 1007.9h16.3v2.6h-16.3zM1909 1010.5h65.2v2.6h-65.2zM1582.7 1010.5h32.6v2.6h-32.6zM1860 1010.5h16.3v2.6h-16.3zM1974.2 1013.1h16.4v2.6h-16.4zM2006.9 1013.1h16.3v2.6h-16.3zM1990.6 1015.7h16.3v2.6h-16.3zM1615.3 1013.1h32.6v7.8h-32.6zM1974.2 1018.3h16.4v2.6h-16.4zM1925.3 1018.3h16.3v2.6h-16.3zM1582.7 1018.3h16.3v2.6h-16.3zM2006.9 1018.3h16.3v2.6h-16.3zM1974.2 1020.9h49v2.6h-49zM1876.3 1020.9h16.4v2.6h-16.4zM1941.6 1020.9h16.3v2.6h-16.3zM1566.3 1023.5h16.4v2.6h-16.4zM1615.3 1023.5h32.6v2.6h-32.6zM1990.6 1023.5h32.6v2.6h-32.6zM1941.6 1026.1h49v2.6h-49zM1582.7 1026.1h32.6v2.6h-32.6zM2006.9 1026.1h16.3v2.6h-16.3zM1843.7 1028.7h65.3v2.6h-65.3zM1941.6 1028.7h32.6v2.6h-32.6zM1582.7 1028.7h16.3v2.6h-16.3zM1909 1031.3h65.2v2.6h-65.2zM1876.3 1031.3h16.4v2.6h-16.4zM1599 1031.3h16.3v2.6h-16.3zM1615.3 1033.9h16.3v2.6h-16.3zM1957.9 1033.9h65.3v2.6h-65.3zM1925.3 1033.9h16.3v2.6h-16.3zM1582.7 1033.9h16.3v2.6h-16.3zM1974.2 1036.5h16.4v5.2h-16.4zM1615.3 1036.5h32.6v5.2h-32.6zM2006.9 1036.5h16.3v7.8h-16.3zM1909 1041.7h65.2v2.6h-65.2zM1582.7 1041.7h16.3v5.2h-16.3zM1925.3 1044.3h48.9v2.6h-48.9zM1990.6 1044.3h32.6v2.6h-32.6zM1974.2 1046.9h49v2.6h-49zM1615.3 1046.9h32.6v2.6h-32.6zM1615.3 1049.5h16.3v2.6h-16.3zM1566.3 1049.5h16.4v2.6h-16.4zM1615.3 1052.1h32.6v5.2h-32.6zM1566.3 1054.7h16.4v2.6h-16.4zM1566.3 1059.9h16.4v5.2h-16.4zM1533.7 1054.7h16.3v15.6h-16.3zM1615.3 1067.7h16.3v2.6h-16.3zM1566.3 1067.7h16.4v2.6h-16.4zM1533.7 1070.3h32.6v2.6h-32.6zM1533.7 1075.5h16.3v2.6h-16.3zM1533.7 1078.1h49v2.6h-49zM1615.3 1080.7h32.6v2.6h-32.6zM1533.7 1083.3h32.6v2.6h-32.6zM1615.3 1085.9h32.6v2.6h-32.6zM1566.3 1085.9h16.4v5.2h-16.4zM1631.6 1088.5h16.3v2.6h-16.3zM1533.7 1091.1h32.6v2.6h-32.6zM1533.7 1093.7h16.3v2.6h-16.3zM1533.7 1096.3h49v2.6h-49zM1566.3 1098.9h16.4v2.6h-16.4zM1615.3 1098.9h32.6v2.6h-32.6zM1533.7 1101.5h49v5.2h-49zM1615.3 1104.1h32.6v2.6h-32.6zM1550 1106.7h16.3v2.6h-16.3zM1533.7 1111.9h32.6v2.6h-32.6zM1811.1 1114.5h16.3v2.6h-16.3zM1631.6 1114.5h16.3v2.6h-16.3zM1533.7 1114.5h16.3v2.6h-16.3zM1566.3 1114.5h16.4v2.6h-16.4zM1615.3 1117.1h32.6v2.6h-32.6zM1533.7 1119.7h49v2.6h-49zM1615.3 1119.7h16.3v2.6h-16.3zM1533.7 1122.3h32.6v2.6h-32.6zM1615.3 1122.3h32.6v5.2h-32.6zM1566.3 1124.9h16.4v2.6h-16.4zM1615.3 1127.5h16.3v2.6h-16.3zM1533.7 1127.5h49v5.2h-49zM1615.3 1130.1h32.6v2.6h-32.6zM1631.6 1140.5h16.3v2.6h-16.3zM1533.7 1140.5h49v2.6h-49zM1566.3 1143.1h16.4v2.6h-16.4zM1533.7 1145.7h49v7.8h-49zM1631.6 1153.5h16.3v2.6h-16.3zM1533.7 1153.5h16.3v2.6h-16.3zM1566.3 1153.5h16.4v2.6h-16.4zM1615.3 1156.1h16.3v2.6h-16.3zM1533.7 1158.7h32.6v2.6h-32.6zM1566.3 1161.3h16.4v2.6h-16.4zM1533.7 1161.3h16.3v2.6h-16.3zM1533.7 1163.9h49v2.6h-49zM1533.7 1166.5h32.6v2.6h-32.6zM1566.3 1169.1h16.4v2.6h-16.4zM1615.3 1169.1h32.6v5.2h-32.6zM1533.7 1171.7h49v2.6h-49z"/><path fill="#06B583" d="M1909 136.6h16.3v2.6h-16.3zM1876.3 136.6h16.4v2.6h-16.4zM1876.3 139.2h32.7v2.6h-32.7zM1941.6 136.6h16.3v10.4h-16.3zM1582.7 144.4h32.6v2.6h-32.6zM1843.7 144.4h16.3v2.6h-16.3zM1876.3 141.8h16.4v7.8h-16.4zM1941.6 147h32.6v5.2h-32.6zM1876.3 149.6h49v2.6h-49zM1582.7 149.6h32.6v5.2h-32.6zM1957.9 152.2h16.3v2.6h-16.3zM1843.7 152.2h97.9v2.6h-97.9zM1582.7 154.8h16.3v2.6h-16.3zM1941.6 154.8h32.6v2.6h-32.6zM1909 154.8h16.3v2.6h-16.3zM1876.3 154.8h16.4v5.2h-16.4zM1941.6 157.4h16.3v2.6h-16.3zM1843.7 160h16.3v2.6h-16.3zM1957.9 160h16.3v2.6h-16.3zM1876.3 160h65.3v2.6h-65.3zM1925.3 162.6h32.6v2.6h-32.6zM1582.7 160h32.6v7.8h-32.6zM1876.3 162.6h32.7v5.2h-32.7zM1925.3 165.2h16.3v2.6h-16.3zM1876.3 167.8h16.4v2.6h-16.4zM1941.6 167.8h16.3v2.6h-16.3zM1941.6 170.4h32.6v2.6h-32.6zM1876.3 170.4h32.7v2.6h-32.7zM1582.7 170.4h16.3v5.2h-16.3zM1876.3 173h81.6v2.6h-81.6zM1843.7 173h16.3v2.6h-16.3zM1892.7 178.2h16.3v2.6h-16.3zM1941.6 178.2h16.3v2.6h-16.3zM1778.5 180.8h65.2v2.6h-65.2zM1713.2 180.8h32.6v2.6h-32.6zM1664.2 180.8h16.3v5.2h-16.3zM1713.2 183.4h16.3v2.6h-16.3zM1713.2 186h32.6v2.6h-32.6zM1762.1 186h16.4v2.6h-16.4zM1876.3 188.6h32.7v2.6h-32.7zM1925.3 188.6h32.6v2.6h-32.6zM1664.2 191.2h16.3v2.6h-16.3zM1713.2 191.2h16.3v2.6h-16.3zM1843.7 193.8h81.6v2.6h-81.6zM1941.6 193.8h32.6v5.2h-32.6zM1843.7 196.4h49v2.6h-49zM1909 196.4h16.3v2.6h-16.3zM1713.2 196.4h16.3v5.2h-16.3zM1843.7 199h81.6v2.6h-81.6zM1941.6 199h16.3v2.6h-16.3zM1664.2 201.6h16.3v2.6h-16.3zM1713.2 201.6h65.3v2.6h-65.3zM1713.2 204.2h16.3v2.6h-16.3zM1892.7 204.2h81.5v2.6h-81.5zM1860 204.2h16.3v2.6h-16.3zM1843.7 206.8h49v2.6h-49zM1909 206.8h16.3v2.6h-16.3zM1941.6 206.8h32.6v2.6h-32.6zM1843.7 209.4h130.5v2.6h-130.5zM1664.2 212h16.3v2.6h-16.3zM1941.6 212h16.3v2.6h-16.3zM1729.5 212h16.3v2.6h-16.3zM1843.7 214.6h49v2.6h-49zM1909 214.6h65.2v2.6h-65.2zM1892.7 217.2h32.6v2.6h-32.6zM1957.9 217.2h16.3v5.2h-16.3zM1860 219.8h16.3v2.6h-16.3zM1909 219.8h32.6v2.6h-32.6zM1713.2 219.8h16.3v2.6h-16.3zM1876.3 222.4h65.3v2.6h-65.3zM1582.7 222.4h16.3v2.6h-16.3zM1843.7 225h49v2.6h-49zM1909 225h16.3v2.6h-16.3zM1713.2 227.6h16.3v2.6h-16.3zM1843.7 227.6h81.6v2.6h-81.6zM1941.6 227.6h16.3v2.6h-16.3zM1582.7 230.2h16.3v2.6h-16.3zM1843.7 230.2h130.5v2.6h-130.5zM1892.7 232.8h16.3v2.6h-16.3zM1941.6 232.8h16.3v2.6h-16.3zM1843.7 232.8h32.6v2.6h-32.6zM1843.7 235.4h130.5v2.6h-130.5zM1843.7 238h81.6v2.6h-81.6zM1941.6 238h32.6v2.6h-32.6zM1892.7 240.6h65.2v2.6h-65.2zM1843.7 240.6h32.6v2.6h-32.6zM1713.2 243.2h32.6v2.6h-32.6zM1909 245.8h16.3v2.6h-16.3zM1843.7 245.8h32.6v2.6h-32.6zM1941.6 245.8h16.3v2.6h-16.3zM1941.6 248.4h32.6v2.6h-32.6zM1582.7 248.4h16.3v2.6h-16.3zM1860 248.4h65.3v2.6h-65.3zM1664.2 251h32.7v2.6h-32.7zM1729.5 251h16.3v2.6h-16.3zM1957.9 253.6h16.3v2.6h-16.3zM1843.7 253.6h81.6v2.6h-81.6zM1941.6 256.2h16.3v2.6h-16.3zM1729.5 256.2h16.3v2.6h-16.3zM1843.7 256.2h32.6v2.6h-32.6zM1713.2 258.8h32.6v2.6h-32.6zM1843.7 261.4h81.6v2.6h-81.6zM1582.7 261.4h32.6v2.6h-32.6zM1941.6 261.4h16.3v2.6h-16.3zM1713.2 264h16.3v2.6h-16.3zM1843.7 264h32.6v2.6h-32.6zM1664.2 266.6h81.6v2.6h-81.6zM1843.7 269.2h16.3v2.6h-16.3zM1713.2 269.2h32.6v5.2h-32.6zM1843.7 271.8h49v2.6h-49zM1909 271.8h16.3v2.6h-16.3zM1680.5 274.4h65.3v2.6h-65.3zM1941.6 277h16.3v2.6h-16.3zM1713.2 277h32.6v7.8h-32.6zM1843.7 274.4h16.3v13h-16.3zM1892.7 284.8h32.6v2.6h-32.6zM1941.6 284.8h16.3v2.6h-16.3zM1664.2 287.4h16.3v2.6h-16.3zM1713.2 287.4h65.3v2.6h-65.3zM1892.7 290h16.3v2.6h-16.3zM1729.5 290h16.3v2.6h-16.3zM1696.9 292.6h48.9v2.6h-48.9zM1664.2 295.2h16.3v2.6h-16.3zM1892.7 295.2h16.3v2.6h-16.3zM1860 295.2h16.3v2.6h-16.3zM1696.9 295.2h32.6v5.2h-32.6zM1745.8 297.8h32.7v2.6h-32.7zM1664.2 300.4h16.3v2.6h-16.3zM1762.1 300.4h16.4v2.6h-16.4zM1713.2 300.4h32.6v5.2h-32.6zM1843.7 300.4h16.3v5.2h-16.3zM1843.7 305.6h65.3v2.7h-65.3zM1843.7 308.3h16.3v2.6h-16.3zM1892.7 308.3h16.3v2.6h-16.3zM1941.6 308.3h16.3v2.6h-16.3zM1664.2 310.9h65.3v2.6h-65.3zM1745.8 310.9h32.7v2.6h-32.7zM1696.9 313.5h16.3v2.6h-16.3zM1729.5 313.5h32.6v2.6h-32.6zM1664.2 313.5h16.3v2.6h-16.3zM1713.2 316.1h32.6v2.6h-32.6zM1762.1 316.1h16.4v2.6h-16.4zM1680.5 318.7h16.4v2.6h-16.4zM1647.9 318.7h16.3v5.2h-16.3zM1680.5 321.3h32.7v2.6h-32.7zM1745.8 321.3h16.3v2.6h-16.3zM1647.9 323.9h32.6v2.6h-32.6zM1745.8 323.9h32.7v2.6h-32.7zM1696.9 323.9h32.6v5.2h-32.6zM1664.2 326.5h16.3v2.6h-16.3zM1762.1 326.5h16.4v2.6h-16.4zM1647.9 329.1h32.6v2.6h-32.6zM1696.9 329.1h81.6v2.6h-81.6zM1647.9 331.7h16.3v2.6h-16.3zM1647.9 334.3h49v2.6h-49zM1745.8 331.7h16.3v7.8h-16.3zM1680.5 336.9h32.7v2.6h-32.7zM1696.9 339.5h81.6v2.6h-81.6zM1664.2 342.1h32.7v2.6h-32.7zM1745.8 342.1h32.7v2.6h-32.7zM1680.5 344.7h32.7v2.6h-32.7zM1664.2 347.3h49v5.2h-49zM1745.8 344.7h16.3v10.4h-16.3zM1664.2 352.5h32.7v2.6h-32.7zM1647.9 355.1h16.3v2.6h-16.3zM1680.5 357.7h16.4v2.6h-16.4zM1745.8 357.7h16.3v5.2h-16.3zM1696.9 360.3h16.3v2.6h-16.3zM1647.9 360.3h32.6v2.6h-32.6zM1729.5 362.9h49v2.6h-49zM1647.9 362.9h65.3v2.6h-65.3zM1664.2 365.5h32.7v2.6h-32.7zM1745.8 365.5h16.3v5.2h-16.3zM1647.9 368.1h16.3v2.6h-16.3zM1729.5 370.7h49v2.6h-49zM1696.9 370.7h16.3v2.6h-16.3zM1647.9 370.7h32.6v2.6h-32.6zM1745.8 373.3h32.7v2.6h-32.7zM1664.2 375.9h114.3v2.6h-114.3zM1664.2 378.5h16.3v2.6h-16.3zM1745.8 378.5h16.3v2.6h-16.3zM1664.2 381.1h32.7v2.6h-32.7zM1729.5 381.1h49v2.6h-49zM1745.8 383.7h16.3v2.6h-16.3zM1647.9 383.7h16.3v2.6h-16.3zM1729.5 386.3h49v2.6h-49zM1664.2 386.3h49v2.6h-49zM1647.9 388.9h16.3v5.2h-16.3zM1664.2 394.1h114.3v2.6h-114.3zM1647.9 396.7h65.3v2.6h-65.3zM1745.8 396.7h16.3v2.6h-16.3zM1664.2 399.3h16.3v2.6h-16.3zM1696.9 399.3h48.9v2.6h-48.9zM1762.1 399.3h16.4v2.6h-16.4zM1729.5 401.9h16.3v2.6h-16.3zM1664.2 404.5h114.3v2.6h-114.3zM1745.8 407.1h32.7v2.6h-32.7zM1664.2 407.1h49v2.6h-49zM1664.2 409.7h81.6v2.6h-81.6zM1762.1 409.7h16.4v5.2h-16.4zM1696.9 412.3h48.9v2.6h-48.9zM1664.2 414.9h114.3v2.6h-114.3zM1664.2 417.5h32.7v2.6h-32.7zM1745.8 417.5h32.7v2.6h-32.7zM1713.2 417.5h16.3v2.6h-16.3zM1664.2 420.1h16.3v2.6h-16.3zM1696.9 420.1h65.2v2.6h-65.2zM1664.2 422.7h97.9v2.6h-97.9zM1713.2 425.3h16.3v2.6h-16.3zM1647.9 425.3h49v2.6h-49zM1745.8 425.3h16.3v2.6h-16.3zM1664.2 427.9h114.3v2.6h-114.3zM1680.5 430.5h98v2.6h-98zM1647.9 433.1h49v2.6h-49zM1762.1 433.1h16.4v5.2h-16.4zM1664.2 435.7h81.6v2.6h-81.6zM1680.5 438.3h16.4v2.6h-16.4zM1745.8 438.3h32.7v2.6h-32.7zM1647.9 438.3h16.3v2.6h-16.3zM1713.2 440.9h16.3v2.6h-16.3zM1664.2 443.5h81.6v2.6h-81.6zM1696.9 446.1h65.2v2.6h-65.2zM1664.2 446.1h16.3v2.6h-16.3zM1664.2 448.7h32.7v2.6h-32.7zM1713.2 448.7h65.3v2.6h-65.3zM1664.2 451.3h65.3v2.6h-65.3zM1745.8 451.3h32.7v2.6h-32.7zM1647.9 453.9h16.3v2.6h-16.3zM1762.1 456.5h16.4v2.6h-16.4zM1664.2 456.5h16.3v5.2h-16.3zM1696.9 459.1h81.6v2.6h-81.6zM1647.9 461.7h16.3v2.6h-16.3zM1729.5 464.3h49v2.6h-49zM1696.9 464.3h16.3v2.6h-16.3zM1762.1 466.9h16.4v2.6h-16.4zM1647.9 466.9h16.3v2.6h-16.3zM1729.5 469.5h16.3v2.6h-16.3zM1860 469.5h16.3v2.6h-16.3zM1664.2 472.1h97.9v2.6h-97.9zM1860 474.7h16.3v2.6h-16.3zM1892.7 474.7h16.3v5.2h-16.3zM1941.6 477.3h16.3v2.6h-16.3zM1843.7 477.3h32.6v2.6h-32.6zM1696.9 479.9h32.6v2.6h-32.6zM1664.2 479.9h16.3v2.6h-16.3zM2006.9 482.5h16.3v2.6h-16.3zM1957.9 482.5h32.7v2.6h-32.7zM1876.3 482.5h16.4v5.2h-16.4zM1909 485.1h32.6v2.6h-32.6zM1582.7 485.1h32.6v2.6h-32.6zM1990.6 485.1h32.6v2.6h-32.6zM1941.6 487.7h49v2.6h-49zM1892.7 487.7h32.6v2.6h-32.6zM1843.7 487.7h16.3v2.6h-16.3zM1843.7 490.3h146.9v2.6h-146.9zM2006.9 487.7h16.3v7.8h-16.3zM1941.6 492.9h49v2.6h-49zM1843.7 492.9h16.3v2.6h-16.3zM1909 492.9h16.3v2.6h-16.3zM1713.2 492.9h16.3v5.2h-16.3zM1892.7 495.5h32.6v2.6h-32.6zM1843.7 495.5h32.6v2.6h-32.6zM1941.6 495.5h16.3v2.6h-16.3zM1925.3 498.1h65.3v2.6h-65.3zM1582.7 498.1h16.3v2.6h-16.3zM2006.9 498.1h16.3v2.6h-16.3zM1876.3 498.1h16.4v2.6h-16.4zM1843.7 498.1h16.3v5.2h-16.3zM1876.3 500.7h49v2.6h-49zM1941.6 500.7h16.3v2.6h-16.3zM1974.2 500.7h16.4v2.6h-16.4zM1941.6 503.3h49v2.6h-49zM1843.7 503.3h32.6v2.6h-32.6zM1909 503.3h16.3v2.6h-16.3zM1892.7 505.9h32.6v2.6h-32.6zM2006.9 505.9h16.3v2.6h-16.3zM1941.6 505.9h16.3v2.6h-16.3zM1860 505.9h16.3v2.6h-16.3zM1941.6 508.5h49v2.6h-49zM1843.7 508.5h16.3v2.6h-16.3zM1876.3 508.5h32.7v2.6h-32.7zM1713.2 511.1h32.6v2.6h-32.6zM1892.7 511.1h16.3v2.6h-16.3zM1843.7 511.1h32.6v2.6h-32.6zM1925.3 513.7h16.3v2.6h-16.3zM1957.9 513.7h16.3v2.6h-16.3zM1582.7 513.7h16.3v2.6h-16.3zM1876.3 513.7h16.4v2.6h-16.4zM1990.6 513.7h32.6v2.6h-32.6zM1843.7 516.3h81.6v2.6h-81.6zM2006.9 516.3h16.3v2.6h-16.3zM1974.2 516.3h16.4v2.6h-16.4zM1909 518.9h32.6v2.6h-32.6zM1876.3 518.9h16.4v2.6h-16.4zM1957.9 518.9h65.3v2.6h-65.3zM1974.2 521.5h16.4v2.6h-16.4zM1713.2 524.1h32.6v2.6h-32.6zM1957.9 524.1h16.3v2.6h-16.3zM1664.2 524.1h16.3v2.6h-16.3zM1941.6 526.7h16.3v2.6h-16.3zM1876.3 526.7h32.7v5.2h-32.7zM1974.2 526.7h16.4v5.2h-16.4zM1941.6 531.9h49v2.6h-49zM1909 531.9h16.3v2.6h-16.3zM1876.3 531.9h16.4v2.6h-16.4zM1876.3 534.5h114.3v2.6h-114.3zM2006.9 531.9h16.3v7.8h-16.3zM1909 537.1h81.6v2.6h-81.6zM1876.3 537.1h16.4v2.6h-16.4zM1843.7 521.5h16.3v20.8h-16.3zM1892.7 539.7h16.3v2.6h-16.3zM1876.3 542.3h16.4v2.6h-16.4zM1909 542.3h65.2v2.6h-65.2zM1990.6 544.9h16.3v2.6h-16.3zM1599 544.9h16.3v2.6h-16.3zM1843.7 547.5h16.3v2.6h-16.3zM1957.9 547.5h32.7v2.6h-32.7zM1892.7 547.5h16.3v5.2h-16.3zM1843.7 550.1h32.6v2.6h-32.6zM1925.3 550.1h16.3v2.6h-16.3zM1892.7 552.7h65.2v2.6h-65.2zM1843.7 552.7h16.3v2.6h-16.3zM1974.2 552.7h16.4v2.6h-16.4zM1909 555.3h16.3v2.6h-16.3zM1941.6 555.3h32.6v2.6h-32.6zM1582.7 555.3h16.3v2.6h-16.3zM2006.9 555.3h16.3v2.6h-16.3zM1860 555.3h32.7v2.6h-32.7zM1696.9 557.9h32.6v2.6h-32.6zM1843.7 560.5h32.6v2.6h-32.6zM1713.2 563.1h16.3v2.6h-16.3zM1664.2 563.1h16.3v2.6h-16.3zM1729.5 565.7h16.3v2.6h-16.3zM1647.9 565.7h65.3v2.6h-65.3zM1941.6 568.3h16.3v2.6h-16.3zM1843.7 568.3h32.6v2.6h-32.6zM1860 570.9h16.3v2.6h-16.3zM1696.9 570.9h32.6v2.6h-32.6zM1696.9 576.1h48.9v2.6h-48.9zM1664.2 576.1h16.3v2.6h-16.3zM1762.1 576.1h16.4v2.6h-16.4zM1664.2 581.3h81.6v2.6h-81.6zM1680.5 583.9h16.4v2.6h-16.4zM1713.2 583.9h16.3v2.6h-16.3zM1664.2 586.5h81.6v2.6h-81.6zM1696.9 589.1h48.9v2.6h-48.9zM1664.2 589.1h16.3v2.6h-16.3zM1582.7 591.7h16.3v2.6h-16.3zM2006.9 591.7h16.3v2.6h-16.3zM1941.6 591.7h32.6v2.6h-32.6zM1843.7 591.7h32.6v2.6h-32.6zM1664.2 594.3h16.3v2.6h-16.3zM1843.7 594.3h16.3v5.2h-16.3zM1941.6 596.9h16.3v2.6h-16.3zM1713.2 599.5h16.3v2.6h-16.3zM1876.3 599.5h16.4v2.6h-16.4zM1664.2 602.1h16.3v2.6h-16.3zM1729.5 602.1h16.3v2.6h-16.3zM1713.2 604.7h32.6v2.6h-32.6zM1843.7 604.7h16.3v2.6h-16.3zM1647.9 604.7h16.3v2.6h-16.3zM1957.9 607.3h16.3v2.6h-16.3zM1843.7 607.3h32.6v2.6h-32.6zM1664.2 609.9h16.3v2.6h-16.3zM1729.5 609.9h16.3v2.6h-16.3zM1843.7 609.9h16.3v2.6h-16.3zM1696.9 615.1h16.3v2.6h-16.3zM1729.5 615.1h16.3v2.6h-16.3zM1843.7 615.1h16.3v2.6h-16.3zM1941.6 617.7h16.3v2.6h-16.3zM1843.7 617.7h32.6v2.6h-32.6zM1664.2 620.3h16.3v5.2h-16.3zM1696.9 622.9h32.6v2.6h-32.6zM1745.8 622.9h16.3v2.6h-16.3zM1680.5 625.5h49v2.6h-49zM1745.8 625.5h32.7v2.6h-32.7zM1647.9 625.5h16.3v2.6h-16.3zM1680.5 628.1h16.4v2.6h-16.4zM1713.2 628.1h16.3v2.6h-16.3zM1664.2 630.7h65.3v2.6h-65.3zM1745.8 630.7h32.7v2.6h-32.7zM1680.5 633.3h98v2.6h-98zM1647.9 633.3h16.3v2.6h-16.3zM1762.1 635.9h16.4v2.6h-16.4zM1680.5 635.9h32.7v2.6h-32.7zM1582.7 638.5h65.2v2.6h-65.2zM1631.6 641.1h16.3v2.6h-16.3zM1566.3 641.1h49v2.6h-49zM1615.3 643.7h32.6v2.6h-32.6zM1582.7 643.7h16.3v2.6h-16.3zM1615.3 646.3h16.3v5.2h-16.3zM1631.6 651.5h16.3v2.6h-16.3zM1599 654.1h16.3v5.3h-16.3zM1990.6 656.8h32.6v2.6h-32.6zM1876.3 659.4h32.7v2.6h-32.7zM1533.7 659.4h16.3v2.6h-16.3zM1974.2 659.4h49v5.2h-49zM1925.3 659.4h16.3v5.2h-16.3zM1876.3 662h16.4v2.6h-16.4zM1599 662h16.3v2.6h-16.3zM1974.2 664.6h16.4v2.6h-16.4zM1599 664.6h48.9v2.6h-48.9zM1582.7 667.2h16.3v2.6h-16.3zM1957.9 667.2h32.7v2.6h-32.7zM1876.3 669.8h49v2.6h-49zM1941.6 669.8h32.6v2.6h-32.6zM1664.2 672.4h16.3v2.6h-16.3zM1892.7 672.4h16.3v2.6h-16.3zM1533.7 675h16.3v2.6h-16.3zM1957.9 675h65.3v2.6h-65.3zM1925.3 675h16.3v2.6h-16.3zM1876.3 675h32.7v2.6h-32.7zM1876.3 677.6h16.4v2.6h-16.4zM1876.3 680.2h97.9v2.6h-97.9zM1990.6 680.2h32.6v2.6h-32.6zM1925.3 682.8h16.3v2.6h-16.3zM1876.3 682.8h16.4v2.6h-16.4zM1974.2 682.8h49v2.6h-49zM1533.7 685.4h16.3v2.6h-16.3zM1957.9 685.4h16.3v5.2h-16.3zM1860 688h16.3v2.6h-16.3zM1729.5 688h16.3v2.6h-16.3zM1876.3 690.6h81.6v2.6h-81.6zM1974.2 690.6h49v2.6h-49zM1533.7 693.2h16.3v2.6h-16.3zM1876.3 693.2h146.9v7.8h-146.9zM1876.3 701h49v2.6h-49zM2006.9 701h16.3v2.6h-16.3zM1941.6 701h32.6v2.6h-32.6zM1533.7 701h16.3v5.2h-16.3zM1941.6 703.6h49v2.6h-49zM1892.7 703.6h16.3v2.6h-16.3zM1876.3 706.2h16.4v2.6h-16.4zM1909 706.2h81.6v2.6h-81.6zM2006.9 706.2h16.3v5.2h-16.3zM1941.6 708.8h49v2.6h-49zM1892.7 708.8h32.6v2.6h-32.6zM1925.3 711.4h48.9v2.6h-48.9zM1892.7 711.4h16.3v2.6h-16.3zM1957.9 714h16.3v2.6h-16.3zM1909 714h32.6v2.6h-32.6zM1990.6 714h32.6v2.6h-32.6zM1599 714h16.3v2.6h-16.3zM1876.3 716.6h130.6v2.6h-130.6zM1582.7 716.6h32.6v2.6h-32.6zM1533.7 716.6h16.3v2.6h-16.3zM1925.3 719.2h16.3v2.6h-16.3zM1876.3 719.2h16.4v2.6h-16.4zM1974.2 719.2h49v2.6h-49zM1599 719.2h16.3v2.6h-16.3zM1892.7 721.8h97.9v2.6h-97.9zM1582.7 721.8h32.6v5.2h-32.6zM1876.3 724.4h65.3v2.6h-65.3zM1957.9 724.4h32.7v2.6h-32.7zM1843.7 727h146.9v2.6h-146.9zM2006.9 721.8h16.3v10.4h-16.3zM1860 729.6h130.6v2.6h-130.6zM1566.3 729.6h32.7v2.6h-32.7zM1631.6 732.2h16.3v2.6h-16.3zM1566.3 732.2h16.4v2.6h-16.4zM1990.6 732.2h16.3v2.6h-16.3zM1794.8 732.2h16.3v2.6h-16.3zM1582.7 734.8h16.3v2.6h-16.3zM1925.3 734.8h32.6v2.6h-32.6zM1843.7 734.8h65.3v2.6h-65.3zM1974.2 734.8h49v2.6h-49zM1990.6 737.4h32.6v2.6h-32.6zM1925.3 737.4h16.3v2.6h-16.3zM1794.8 737.4h16.3v2.6h-16.3zM1566.3 737.4h32.7v2.6h-32.7zM1615.3 737.4h32.6v5.2h-32.6zM1876.3 737.4h16.4v5.2h-16.4zM1827.4 740h16.3v2.6h-16.3zM1566.3 740h16.4v2.6h-16.4zM1941.6 740h16.3v2.6h-16.3zM1990.6 740h16.3v2.6h-16.3zM1909 740h16.3v2.6h-16.3zM1778.5 742.6h65.2v2.6h-65.2zM1533.7 742.6h49v2.6h-49zM1615.3 742.6h16.3v2.6h-16.3zM2006.9 745.2h16.3v2.6h-16.3zM1582.7 745.2h32.6v2.6h-32.6zM1957.9 745.2h32.7v2.6h-32.7zM1843.7 745.2h49v2.6h-49zM1762.1 745.2h16.4v2.6h-16.4zM1990.6 747.8h16.3v2.6h-16.3zM1909 747.8h16.3v2.6h-16.3zM1566.3 747.8h32.7v2.6h-32.7zM1631.6 747.8h16.3v5.2h-16.3zM1843.7 750.4h179.5v2.6h-179.5zM1582.7 750.4h32.6v5.2h-32.6zM1892.7 753h130.5v2.6h-130.5zM1843.7 753h32.6v2.6h-32.6zM1762.1 755.6h16.4v2.6h-16.4zM1860 755.6h16.3v2.6h-16.3zM1599 755.6h16.3v2.6h-16.3zM1909 755.6h16.3v2.6h-16.3zM1696.9 755.6h32.6v2.6h-32.6zM1876.3 758.2h81.6v2.6h-81.6zM1582.7 758.2h32.6v2.6h-32.6zM1843.7 758.2h16.3v2.6h-16.3zM1974.2 758.2h16.4v2.6h-16.4zM1631.6 760.8h16.3v2.6h-16.3zM1566.3 760.8h16.4v2.6h-16.4zM1909 760.8h114.2v5.2h-114.2zM1582.7 763.4h32.6v2.6h-32.6zM1876.3 763.4h16.4v2.6h-16.4zM1631.6 766h16.3v2.6h-16.3zM1876.3 766h130.6v2.6h-130.6zM1566.3 766h16.4v2.6h-16.4zM1843.7 763.4h16.3v7.8h-16.3zM1876.3 768.6h49v2.6h-49zM1941.6 768.6h49v2.6h-49zM1582.7 768.6h16.3v2.6h-16.3zM2006.9 768.6h16.3v2.6h-16.3zM1925.3 771.2h16.3v2.6h-16.3zM1794.8 771.2h32.6v2.6h-32.6zM1615.3 771.2h32.6v5.2h-32.6zM1566.3 771.2h32.7v5.2h-32.7zM1925.3 773.8h48.9v2.6h-48.9zM1876.3 773.8h16.4v2.6h-16.4zM1990.6 773.8h32.6v2.6h-32.6zM1696.9 776.4h16.3v2.6h-16.3zM1599 776.4h16.3v2.6h-16.3zM1860 776.4h49v2.6h-49zM2006.9 776.4h16.3v2.6h-16.3zM1974.2 776.4h16.4v2.6h-16.4zM1664.2 776.4h16.3v2.6h-16.3zM1762.1 776.4h16.4v2.6h-16.4zM1582.7 779h16.3v2.6h-16.3zM1876.3 779h16.4v2.6h-16.4zM1925.3 779h16.3v2.6h-16.3zM1957.9 779h65.3v2.6h-65.3zM1615.3 779h16.3v2.6h-16.3zM1876.3 781.6h49v2.6h-49zM1843.7 781.6h16.3v2.6h-16.3zM2006.9 781.6h16.3v2.6h-16.3zM1729.5 781.6h16.3v2.6h-16.3zM1974.2 781.6h16.4v2.6h-16.4zM1941.6 781.6h16.3v2.6h-16.3zM1762.1 781.6h16.4v2.6h-16.4zM1599 781.6h16.3v5.2h-16.3zM1664.2 784.2h16.3v2.6h-16.3zM1696.9 784.2h65.2v2.6h-65.2zM1860 784.2h16.3v2.6h-16.3zM1876.3 786.8h32.7v2.6h-32.7zM1925.3 786.8h97.9v2.6h-97.9zM1615.3 786.8h16.3v2.6h-16.3zM1566.3 786.8h16.4v5.2h-16.4zM1631.6 789.4h16.3v2.6h-16.3zM1827.4 789.4h16.3v2.6h-16.3zM1533.7 789.4h16.3v2.6h-16.3zM1990.6 789.4h16.3v2.6h-16.3zM1794.8 789.4h16.3v2.6h-16.3zM1615.3 792h32.6v2.6h-32.6zM1778.5 792h65.2v2.6h-65.2zM1566.3 792h32.7v2.6h-32.7zM1957.9 792h49v2.6h-49zM1925.3 792h16.3v2.6h-16.3zM2006.9 794.6h16.3v2.6h-16.3zM1843.7 794.6h81.6v2.6h-81.6zM1582.7 794.6h32.6v2.6h-32.6zM1941.6 794.6h16.3v2.6h-16.3zM1974.2 794.6h16.4v2.6h-16.4zM1778.5 797.2h81.5v2.6h-81.5zM1582.7 797.2h16.3v2.6h-16.3zM1892.7 797.2h130.5v2.6h-130.5zM1615.3 799.8h32.6v2.6h-32.6zM1778.5 799.8h16.3v2.6h-16.3zM1566.3 799.8h16.4v2.6h-16.4zM1925.3 799.8h16.3v2.6h-16.3zM1909 802.4h32.6v2.6h-32.6zM1794.8 802.4h32.6v2.6h-32.6zM1974.2 802.4h49v2.6h-49zM1957.9 805h16.3v2.6h-16.3zM1990.6 805h32.6v2.6h-32.6zM1582.7 802.4h16.3v7.8h-16.3zM1925.3 805h16.3v5.2h-16.3zM1892.7 807.6h16.3v2.6h-16.3zM1957.9 807.6h49v2.6h-49zM1811.1 807.6h16.3v2.6h-16.3zM1794.8 810.2h32.6v2.6h-32.6zM1941.6 810.2h32.6v2.6h-32.6zM1990.6 810.2h32.6v2.6h-32.6zM1974.2 812.8h32.7v2.6h-32.7zM1582.7 812.8h16.3v2.6h-16.3zM1794.8 815.4h16.3v2.6h-16.3zM1925.3 812.8h16.3v7.8h-16.3zM1582.7 815.4h32.6v5.2h-32.6zM1957.9 815.4h65.3v5.2h-65.3zM1778.5 820.6h48.9v2.6h-48.9zM2006.9 820.6h16.3v2.6h-16.3zM1843.7 820.6h114.2v2.6h-114.2zM1599 820.6h16.3v2.6h-16.3zM1990.6 823.2h16.3v2.6h-16.3zM1925.3 823.2h16.3v2.6h-16.3zM1957.9 823.2h16.3v2.6h-16.3zM1811.1 823.2h16.3v2.6h-16.3zM1876.3 823.2h16.4v2.6h-16.4zM1582.7 823.2h16.3v5.2h-16.3zM1876.3 825.8h49v2.6h-49zM1778.5 825.8h16.3v2.6h-16.3zM1811.1 825.8h32.6v2.6h-32.6zM2006.9 825.8h16.3v2.6h-16.3zM1974.2 825.8h16.4v2.6h-16.4zM1941.6 825.8h16.3v2.6h-16.3zM1957.9 828.4h16.3v2.6h-16.3zM1990.6 828.4h16.3v2.6h-16.3zM1925.3 828.4h16.3v2.6h-16.3zM1566.3 828.4h49v2.6h-49zM1827.4 831h48.9v2.6h-48.9zM1892.7 831h32.6v2.6h-32.6zM1778.5 831h16.3v2.6h-16.3zM1941.6 831h16.3v2.6h-16.3zM1941.6 833.6h49v2.6h-49zM1843.7 833.6h32.6v2.6h-32.6zM1909 833.6h16.3v2.6h-16.3zM1778.5 833.6h48.9v5.2h-48.9zM1843.7 836.2h16.3v2.6h-16.3zM1957.9 836.2h32.7v2.6h-32.7zM1599 836.2h16.3v2.6h-16.3zM1876.3 836.2h65.3v2.6h-65.3zM2006.9 833.6h16.3v7.8h-16.3zM1778.5 838.8h16.3v2.6h-16.3zM1827.4 838.8h48.9v2.6h-48.9zM1892.7 838.8h16.3v2.6h-16.3zM1729.5 838.8h16.3v2.6h-16.3zM1582.7 841.4h16.3v2.6h-16.3zM1990.6 841.4h16.3v5.2h-16.3zM1811.1 844h16.3v2.6h-16.3zM1909 846.6h48.9v2.6h-48.9zM1843.7 846.6h49v2.6h-49zM1778.5 846.6h48.9v2.6h-48.9zM1582.7 846.6h16.3v2.6h-16.3zM1729.5 846.6h16.3v2.6h-16.3zM1974.2 846.6h16.4v2.6h-16.4zM1957.9 849.2h65.3v2.6h-65.3zM1794.8 849.2h16.3v2.6h-16.3zM1582.7 849.2h32.6v5.2h-32.6zM1811.1 851.8h16.3v2.6h-16.3zM1876.3 851.8h65.3v2.6h-65.3zM1957.9 851.8h49v2.6h-49zM1843.7 851.8h16.3v2.6h-16.3zM1664.2 854.4h16.3v2.6h-16.3zM1696.9 854.4h48.9v2.6h-48.9zM1941.6 854.4h16.3v2.6h-16.3zM1762.1 854.4h16.4v2.6h-16.4zM1957.9 857h32.7v2.6h-32.7zM1925.3 857h16.3v2.6h-16.3zM1860 857h49v2.6h-49zM1811.1 857h16.3v2.6h-16.3zM2006.9 857h16.3v5.2h-16.3zM1876.3 859.6h16.4v2.6h-16.4zM1909 859.6h48.9v2.6h-48.9zM1974.2 859.6h16.4v2.6h-16.4zM1582.7 857h32.6v7.8h-32.6zM1794.8 859.6h32.6v5.2h-32.6zM1909 862.2h32.6v2.6h-32.6zM1860 862.2h16.3v2.6h-16.3zM1957.9 862.2h32.7v2.6h-32.7zM1827.4 864.8h16.3v2.6h-16.3zM1860 864.8h97.9v2.6h-97.9zM1778.5 864.8h32.6v2.6h-32.6zM1582.7 864.8h16.3v2.6h-16.3zM2006.9 864.8h16.3v2.6h-16.3zM1957.9 867.4h49v2.6h-49zM1860 867.4h81.6v2.6h-81.6zM1794.8 867.4h32.6v5.2h-32.6zM1892.7 870h48.9v2.6h-48.9zM1713.2 870h16.3v2.6h-16.3zM2006.9 870h16.3v2.6h-16.3zM1582.7 870h32.6v2.6h-32.6zM1957.9 870h32.7v2.6h-32.7zM1599 872.6h32.6v2.6h-32.6zM1957.9 872.6h49v2.6h-49zM1778.5 875.2h48.9v2.6h-48.9zM1582.7 875.2h32.6v2.6h-32.6zM1909 875.2h32.6v5.2h-32.6zM1957.9 875.2h65.3v5.2h-65.3zM1599 877.8h16.3v2.6h-16.3zM1794.8 877.8h32.6v2.6h-32.6zM1990.6 880.4h16.3v2.6h-16.3zM1582.7 880.4h48.9v2.6h-48.9zM1794.8 880.4h16.3v2.6h-16.3zM2006.9 883h16.3v2.6h-16.3zM1582.7 883h32.6v2.6h-32.6zM1860 883h81.6v2.6h-81.6zM1957.9 883h32.7v2.6h-32.7zM1778.5 883h65.2v5.2h-65.2zM1582.7 885.6h16.3v2.6h-16.3zM1860 885.6h97.9v2.6h-97.9zM1974.2 885.6h16.4v2.6h-16.4zM1696.9 888.2h16.3v2.6h-16.3zM1843.7 888.2h65.3v2.6h-65.3zM1941.6 888.2h16.3v2.6h-16.3zM1729.5 888.2h16.3v2.6h-16.3zM1762.1 888.2h32.7v2.6h-32.7zM1631.6 890.8h16.3v2.6h-16.3zM1957.9 890.8h16.3v5.2h-16.3zM1990.6 893.4h16.3v2.6h-16.3zM1582.7 893.4h16.3v2.6h-16.3zM1925.3 893.4h16.3v5.2h-16.3zM1811.1 893.4h16.3v5.2h-16.3zM1876.3 896h16.4v2.6h-16.4zM1957.9 896h49v5.2h-49zM1778.5 901.2h48.9v2.6h-48.9zM1909 901.2h16.3v2.6h-16.3zM1941.6 901.2h81.6v2.6h-81.6zM1582.7 898.6h32.6v7.8h-32.6zM1794.8 903.8h32.6v2.6h-32.6zM1925.3 903.8h16.3v2.6h-16.3zM1957.9 903.8h65.3v5.2h-65.3zM1778.5 906.4h48.9v2.6h-48.9zM1909 906.4h32.6v2.6h-32.6zM1876.3 906.4h16.4v2.6h-16.4zM1599 906.4h16.3v5.2h-16.3zM1827.4 909h16.3v2.6h-16.3zM1892.7 909h16.3v2.6h-16.3zM1778.5 909h32.6v2.6h-32.6zM1925.3 909h97.9v2.6h-97.9zM1925.3 911.6h48.9v2.6h-48.9zM2006.9 911.6h16.3v2.6h-16.3zM1957.9 914.2h49v2.6h-49zM1582.7 911.6h32.6v7.8h-32.6zM1876.3 914.2h16.4v5.2h-16.4zM1925.3 916.8h16.3v2.6h-16.3zM1957.9 916.8h65.3v2.6h-65.3zM2006.9 919.4h16.3v2.6h-16.3zM1860 919.4h130.6v2.6h-130.6zM1860 922h65.3v2.6h-65.3zM1941.6 922h16.3v5.2h-16.3zM1876.3 924.6h49v2.6h-49zM1974.2 924.6h16.4v2.6h-16.4zM1582.7 927.2h32.6v2.6h-32.6zM1974.2 927.2h49v2.6h-49zM1925.3 927.2h16.3v2.6h-16.3zM1876.3 929.8h16.4v2.6h-16.4zM1599 929.8h16.3v2.6h-16.3zM1909 929.8h114.2v2.6h-114.2zM1876.3 932.4h114.3v2.6h-114.3zM1876.3 935h49v2.6h-49zM1860 937.6h16.3v2.6h-16.3zM1892.7 937.6h16.3v2.6h-16.3zM1729.5 937.6h16.3v2.6h-16.3zM1860 940.2h81.6v2.6h-81.6zM1876.3 942.8h16.4v2.6h-16.4zM1909 942.8h81.6v2.6h-81.6zM1941.6 945.4h16.3v2.6h-16.3zM1860 945.4h65.3v2.6h-65.3zM1860 948h81.6v2.6h-81.6zM1974.2 945.4h16.4v7.8h-16.4zM1892.7 950.6h65.2v2.6h-65.2zM1876.3 953.2h16.4v2.6h-16.4zM1909 953.2h81.6v2.6h-81.6zM1892.7 955.8h16.3v2.6h-16.3zM1843.7 955.8h32.6v2.6h-32.6zM1876.3 958.4h65.3v2.6h-65.3zM1876.3 961h32.7v2.6h-32.7zM1843.7 961h16.3v2.6h-16.3zM1925.3 963.6h16.3v2.6h-16.3zM2006.9 963.6h16.3v2.6h-16.3zM1876.3 963.6h16.4v2.6h-16.4zM1957.9 963.6h32.7v2.6h-32.7zM1876.3 966.2h49v2.6h-49zM1974.2 966.2h16.4v2.6h-16.4zM1909 968.8h81.6v2.6h-81.6zM2006.9 968.8h16.3v2.6h-16.3zM1876.3 968.8h16.4v5.2h-16.4zM1974.2 971.4h32.7v2.6h-32.7zM1599 971.4h16.3v2.6h-16.3zM1876.3 974h65.3v2.6h-65.3zM1957.9 974h32.7v5.2h-32.7zM1892.7 976.6h32.6v2.6h-32.6zM1941.6 979.2h49v2.6h-49zM1909 979.2h16.3v2.6h-16.3zM2006.9 979.2h16.3v2.6h-16.3zM1876.3 979.2h16.4v2.6h-16.4zM1892.7 997.4h16.3v2.6h-16.3zM1974.2 997.4h16.4v2.6h-16.4zM1713.2 1002.7h16.3v2.6h-16.3zM1892.7 1002.7h16.3v2.6h-16.3zM1843.7 1002.7h32.6v2.6h-32.6zM1843.7 1005.3h16.3v2.6h-16.3zM1957.9 1007.9h16.3v2.6h-16.3zM1909 1007.9h32.6v2.6h-32.6zM1582.7 1007.9h16.3v2.6h-16.3zM1615.3 1007.9h16.3v2.6h-16.3zM1876.3 1010.5h32.7v2.6h-32.7zM1843.7 1010.5h16.3v2.6h-16.3zM1582.7 1013.1h32.6v2.6h-32.6zM1876.3 1013.1h16.4v5.2h-16.4zM1941.6 1013.1h16.3v5.2h-16.3zM1582.7 1015.7h16.3v2.6h-16.3zM2006.9 1015.7h16.3v2.6h-16.3zM1974.2 1015.7h16.4v2.6h-16.4zM1599 1018.3h16.3v2.6h-16.3zM1909 1018.3h16.3v2.6h-16.3zM1941.6 1018.3h32.6v2.6h-32.6zM1860 1018.3h32.7v2.6h-32.7zM1892.7 1020.9h48.9v2.6h-48.9zM1957.9 1020.9h16.3v2.6h-16.3zM1582.7 1020.9h32.6v2.6h-32.6zM1925.3 1023.5h65.3v2.6h-65.3zM1843.7 1026.1h97.9v2.6h-97.9zM1599 1028.7h16.3v2.6h-16.3zM1909 1028.7h32.6v2.6h-32.6zM1811.1 1028.7h16.3v5.2h-16.3zM1892.7 1031.3h16.3v2.6h-16.3zM1843.7 1031.3h32.6v2.6h-32.6zM1599 1033.9h16.3v2.6h-16.3zM1843.7 1033.9h81.6v2.6h-81.6zM1941.6 1033.9h16.3v2.6h-16.3zM1957.9 1036.5h16.3v2.6h-16.3zM1909 1036.5h32.6v2.6h-32.6zM1582.7 1036.5h16.3v2.6h-16.3zM1990.6 1036.5h16.3v5.2h-16.3zM1876.3 1039.1h16.4v2.6h-16.4zM1582.7 1039.1h32.6v2.6h-32.6zM1909 1039.1h65.2v2.6h-65.2zM1713.2 1041.7h16.3v2.6h-16.3zM1843.7 1041.7h65.3v2.6h-65.3zM1794.8 1041.7h32.6v2.6h-32.6zM1599 1041.7h16.3v5.2h-16.3zM1876.3 1044.3h49v2.6h-49zM1843.7 1044.3h16.3v2.6h-16.3zM1892.7 1046.9h81.5v2.6h-81.5zM1794.8 1046.9h32.6v2.6h-32.6zM1631.6 1049.5h16.3v2.6h-16.3zM1827.4 1049.5h16.3v2.6h-16.3zM1909 1049.5h16.3v2.6h-16.3zM1582.7 1046.9h32.6v7.8h-32.6zM1974.2 1049.5h49v5.2h-49zM1811.1 1052.1h16.3v2.6h-16.3zM1582.7 1054.7h16.3v2.6h-16.3zM1566.3 1057.3h16.4v2.6h-16.4zM1974.2 1057.3h16.4v2.6h-16.4zM1974.2 1059.9h32.7v2.6h-32.7zM1778.5 1059.9h16.3v2.6h-16.3zM1811.1 1059.9h16.3v2.6h-16.3zM1582.7 1059.9h16.3v5.2h-16.3zM1794.8 1062.5h32.6v2.6h-32.6zM1615.3 1057.3h32.6v10.4h-32.6zM1566.3 1065.1h16.4v2.6h-16.4zM1631.6 1067.7h16.3v2.6h-16.3zM1811.1 1065.1h16.3v7.8h-16.3zM1566.3 1070.3h16.4v2.6h-16.4zM1615.3 1070.3h16.3v2.6h-16.3zM1533.7 1072.9h49v2.6h-49zM1566.3 1075.5h16.4v2.6h-16.4zM1615.3 1075.5h32.6v5.2h-32.6zM1811.1 1078.1h16.3v2.6h-16.3zM1778.5 1080.7h65.2v2.6h-65.2zM1876.3 1080.7h16.4v2.6h-16.4zM1582.7 1080.7h32.6v2.6h-32.6zM1925.3 1080.7h16.3v2.6h-16.3zM1974.2 1080.7h16.4v2.6h-16.4zM1615.3 1083.3h32.6v2.6h-32.6zM1566.3 1083.3h16.4v2.6h-16.4zM1582.7 1085.9h32.6v2.6h-32.6zM1876.3 1085.9h16.4v2.6h-16.4zM1974.2 1085.9h49v2.6h-49zM1778.5 1085.9h65.2v5.2h-65.2zM1925.3 1085.9h16.3v5.2h-16.3zM1599 1088.5h32.6v2.6h-32.6zM1566.3 1091.1h16.4v2.6h-16.4zM1615.3 1091.1h16.3v5.2h-16.3zM1550 1093.7h32.7v2.6h-32.7zM1615.3 1096.3h32.6v2.6h-32.6zM1778.5 1098.9h65.2v2.6h-65.2zM1582.7 1098.9h32.6v2.6h-32.6zM1876.3 1098.9h16.4v2.6h-16.4zM1974.2 1098.9h49v2.6h-49zM1925.3 1098.9h16.3v2.6h-16.3zM1615.3 1101.5h32.6v2.6h-32.6zM1811.1 1101.5h16.3v2.6h-16.3zM1778.5 1104.1h48.9v2.6h-48.9zM1582.7 1104.1h16.3v2.6h-16.3zM1990.6 1104.1h16.3v2.6h-16.3zM1533.7 1106.7h16.3v2.6h-16.3zM1615.3 1106.7h32.6v2.6h-32.6zM1566.3 1106.7h16.4v2.6h-16.4zM1811.1 1106.7h16.3v2.6h-16.3zM1533.7 1109.3h32.6v2.6h-32.6zM1615.3 1109.3h16.3v2.6h-16.3zM1615.3 1111.9h32.6v2.6h-32.6zM1811.1 1111.9h16.3v2.6h-16.3zM1566.3 1111.9h16.4v2.6h-16.4zM1827.4 1114.5h16.3v2.6h-16.3zM1778.5 1114.5h32.6v2.6h-32.6zM1582.7 1114.5h16.3v2.6h-16.3zM1615.3 1114.5h16.3v2.6h-16.3zM1974.2 1114.5h49v2.6h-49zM1974.2 1117.1h32.7v2.6h-32.7zM1778.5 1117.1h81.5v2.6h-81.5zM1925.3 1117.1h16.3v2.6h-16.3zM1631.6 1119.7h16.3v2.6h-16.3zM1811.1 1119.7h16.3v2.6h-16.3zM1566.3 1122.3h16.4v2.6h-16.4zM1794.8 1122.3h32.6v2.6h-32.6zM1778.5 1124.9h81.5v2.6h-81.5zM1582.7 1124.9h16.3v2.6h-16.3zM1876.3 1124.9h16.4v2.6h-16.4zM1990.6 1124.9h32.6v2.6h-32.6zM1631.6 1127.5h16.3v2.6h-16.3zM1778.5 1127.5h16.3v2.6h-16.3zM1811.1 1127.5h16.3v2.6h-16.3zM1827.4 1130.1h16.3v2.6h-16.3zM1778.5 1130.1h32.6v2.6h-32.6zM1974.2 1130.1h16.4v2.6h-16.4zM1631.6 1132.7h16.3v2.6h-16.3zM1615.3 1135.3h32.6v2.6h-32.6zM1533.7 1132.7h49v7.8h-49zM1827.4 1140.5h16.3v2.6h-16.3zM1615.3 1137.9h16.3v7.8h-16.3zM1533.7 1143.1h32.6v2.6h-32.6zM1615.3 1145.7h32.6v7.8h-32.6zM1615.3 1153.5h16.3v2.6h-16.3zM1778.5 1156.1h65.2v2.6h-65.2zM1631.6 1156.1h16.3v5.2h-16.3zM1566.3 1158.7h16.4v2.6h-16.4zM1615.3 1161.3h32.6v7.8h-32.6zM1566.3 1166.5h16.4v2.6h-16.4zM1778.5 1169.1h65.2v2.6h-65.2zM1582.7 1169.1h16.3v2.6h-16.3zM1909 1169.1h16.3v2.6h-16.3zM1974.2 1169.1h16.4v2.6h-16.4zM1827.4 1171.7h16.3v2.6h-16.3zM1794.8 1171.7h16.3v2.6h-16.3z"/><path fill="#07C07C" d="M1664.2 141.8h16.3v2.6h-16.3zM1762.1 141.8h16.4v2.6h-16.4zM1729.5 141.8h16.3v5.2h-16.3zM1762.1 147h16.4v2.6h-16.4zM1713.2 147h16.3v2.6h-16.3zM1941.6 152.2h16.3v2.6h-16.3zM1664.2 157.4h16.3v2.6h-16.3zM1941.6 160h16.3v2.6h-16.3zM1713.2 165.2h16.3v2.6h-16.3zM1941.6 165.2h16.3v2.6h-16.3zM1664.2 167.8h16.3v2.6h-16.3zM1713.2 167.8h32.6v2.6h-32.6zM1664.2 175.6h32.7v2.6h-32.7zM1713.2 175.6h114.2v2.6h-114.2zM1762.1 178.2h32.7v2.6h-32.7zM1811.1 178.2h32.6v2.6h-32.6zM1713.2 178.2h16.3v2.6h-16.3zM1745.8 180.8h32.7v2.6h-32.7zM1680.5 180.8h32.7v5.2h-32.7zM1729.5 183.4h16.3v2.6h-16.3zM1762.1 183.4h16.4v2.6h-16.4zM1745.8 186h16.3v2.6h-16.3zM1647.9 186h65.3v2.6h-65.3zM1664.2 188.6h16.3v2.6h-16.3zM1762.1 188.6h16.4v2.6h-16.4zM1713.2 188.6h32.6v2.6h-32.6zM1729.5 191.2h49v2.6h-49zM1680.5 191.2h32.7v2.6h-32.7zM1647.9 191.2h16.3v2.6h-16.3zM1713.2 193.8h16.3v2.6h-16.3zM1762.1 196.4h16.4v2.6h-16.4zM1729.5 196.4h16.3v5.2h-16.3zM1664.2 196.4h16.3v5.2h-16.3zM1680.5 201.6h32.7v2.6h-32.7zM1647.9 201.6h16.3v2.6h-16.3zM1729.5 204.2h16.3v2.6h-16.3zM1664.2 204.2h16.3v5.2h-16.3zM1713.2 206.8h16.3v5.2h-16.3zM1745.8 212h32.7v2.6h-32.7zM1647.9 212h16.3v2.6h-16.3zM1696.9 212h32.6v5.2h-32.6zM1664.2 214.6h16.3v2.6h-16.3zM1664.2 217.2h114.3v2.6h-114.3zM1664.2 219.8h16.3v2.6h-16.3zM1729.5 219.8h32.6v2.6h-32.6zM1713.2 222.4h16.3v2.6h-16.3zM1843.7 222.4h32.6v2.6h-32.6zM1941.6 222.4h32.6v2.6h-32.6zM1713.2 225h65.3v2.6h-65.3zM1664.2 225h16.3v5.2h-16.3zM1713.2 230.2h16.3v2.6h-16.3zM1696.9 232.8h81.6v2.6h-81.6zM1664.2 232.8h16.3v5.2h-16.3zM1696.9 235.4h48.9v2.6h-48.9zM1713.2 238h32.6v2.6h-32.6zM1762.1 240.6h16.4v2.6h-16.4zM1664.2 240.6h81.6v2.6h-81.6zM1745.8 243.2h32.7v2.6h-32.7zM1647.9 243.2h65.3v2.6h-65.3zM1664.2 245.8h114.3v2.6h-114.3zM1713.2 248.4h32.6v2.6h-32.6zM1843.7 248.4h16.3v2.6h-16.3zM1745.8 251h32.7v2.6h-32.7zM1647.9 251h16.3v2.6h-16.3zM1696.9 251h16.3v2.6h-16.3zM1647.9 253.6h97.9v2.6h-97.9zM1762.1 253.6h16.4v2.6h-16.4zM1745.8 256.2h16.3v2.6h-16.3zM1664.2 256.2h65.3v2.6h-65.3zM1745.8 258.8h32.7v2.6h-32.7zM1647.9 258.8h65.3v2.6h-65.3zM1696.9 261.4h48.9v2.6h-48.9zM1664.2 264h49v2.6h-49zM1729.5 264h16.3v2.6h-16.3zM1762.1 264h16.4v2.6h-16.4zM1647.9 266.6h16.3v2.6h-16.3zM1647.9 269.2h65.3v2.6h-65.3zM1664.2 271.8h49v2.6h-49zM1647.9 274.4h32.6v2.6h-32.6zM1745.8 266.6h32.7v18.2h-32.7zM1664.2 277h49v7.8h-49zM1860 284.8h16.3v2.6h-16.3zM1664.2 284.8h16.3v2.6h-16.3zM1713.2 284.8h32.6v2.6h-32.6zM1680.5 287.4h32.7v2.6h-32.7zM1647.9 287.4h16.3v2.6h-16.3zM1762.1 290h16.4v2.6h-16.4zM1664.2 290h65.3v2.6h-65.3zM1647.9 292.6h49v2.6h-49zM1745.8 292.6h32.7v2.6h-32.7zM1729.5 295.2h49v2.6h-49zM1680.5 295.2h16.4v2.6h-16.4zM1647.9 295.2h16.3v2.6h-16.3zM1647.9 297.8h49v2.6h-49zM1745.8 300.4h16.3v2.6h-16.3zM1680.5 300.4h32.7v2.6h-32.7zM1647.9 300.4h16.3v2.6h-16.3zM1745.8 303h32.7v2.6h-32.7zM1647.9 303h65.3v2.6h-65.3zM1664.2 305.6h32.7v2.7h-32.7zM1762.1 305.6h16.4v2.7h-16.4zM1713.2 305.6h32.6v2.7h-32.6zM1664.2 308.3h16.3v2.6h-16.3zM1696.9 308.3h81.6v2.6h-81.6zM1647.9 310.9h16.3v5.2h-16.3zM1680.5 313.5h16.4v2.6h-16.4zM1745.8 316.1h16.3v2.6h-16.3zM1647.9 316.1h65.3v2.6h-65.3zM1647.9 326.5h16.3v2.6h-16.3zM1729.5 326.5h32.6v2.6h-32.6zM1680.5 323.9h16.4v7.8h-16.4zM1647.9 336.9h16.3v2.6h-16.3zM1647.9 339.5h49v2.6h-49zM1647.9 342.1h16.3v13h-16.3zM1647.9 357.7h16.3v2.6h-16.3zM1647.9 365.5h16.3v2.6h-16.3zM1647.9 373.3h16.3v10.4h-16.3zM1647.9 386.3h16.3v2.6h-16.3zM1647.9 394.1h16.3v2.6h-16.3zM1680.5 399.3h16.4v2.6h-16.4zM1745.8 399.3h16.3v2.6h-16.3zM1647.9 399.3h16.3v2.6h-16.3zM1696.9 401.9h32.6v2.6h-32.6zM1664.2 401.9h16.3v2.6h-16.3zM1762.1 401.9h16.4v2.6h-16.4zM1647.9 404.5h16.3v7.8h-16.3zM1745.8 409.7h16.3v5.2h-16.3zM1647.9 412.3h49v2.6h-49zM1680.5 420.1h16.4v2.6h-16.4zM1647.9 414.9h16.3v10.4h-16.3zM1762.1 420.1h16.4v5.2h-16.4zM1647.9 430.5h32.6v2.6h-32.6zM1745.8 435.7h16.3v2.6h-16.3zM1647.9 435.7h16.3v2.6h-16.3zM1729.5 440.9h49v2.6h-49zM1647.9 440.9h65.3v2.6h-65.3zM1745.8 443.5h32.7v2.6h-32.7zM1680.5 446.1h16.4v2.6h-16.4zM1762.1 446.1h16.4v2.6h-16.4zM1647.9 443.5h16.3v10.4h-16.3zM1647.9 456.5h16.3v5.2h-16.3zM1680.5 459.1h16.4v2.6h-16.4zM1647.9 464.3h49v2.6h-49zM1713.2 464.3h16.3v2.6h-16.3zM1745.8 469.5h32.7v2.6h-32.7zM1647.9 469.5h81.6v2.6h-81.6zM1647.9 472.1h16.3v2.6h-16.3zM1762.1 472.1h16.4v5.2h-16.4zM1664.2 474.7h16.3v2.6h-16.3zM1696.9 474.7h48.9v2.6h-48.9zM1664.2 477.3h114.3v2.6h-114.3zM1680.5 479.9h16.4v2.6h-16.4zM1647.9 479.9h16.3v2.6h-16.3zM1729.5 479.9h49v2.6h-49zM1843.7 482.5h32.6v2.6h-32.6zM1892.7 482.5h32.6v2.6h-32.6zM1941.6 482.5h16.3v2.6h-16.3zM1713.2 482.5h32.6v2.6h-32.6zM1941.6 485.1h49v2.6h-49zM1892.7 485.1h16.3v2.6h-16.3zM1843.7 485.1h16.3v2.6h-16.3zM1860 487.7h16.3v2.6h-16.3zM1729.5 487.7h16.3v2.6h-16.3zM1664.2 487.7h16.3v2.6h-16.3zM1696.9 487.7h16.3v2.6h-16.3zM1762.1 487.7h16.4v5.2h-16.4zM1696.9 490.3h48.9v2.6h-48.9zM1860 492.9h16.3v2.6h-16.3zM1892.7 492.9h16.3v2.6h-16.3zM1664.2 492.9h16.3v2.6h-16.3zM1729.5 492.9h32.6v2.6h-32.6zM1696.9 492.9h16.3v5.2h-16.3zM1729.5 495.5h16.3v2.6h-16.3zM1762.1 495.5h16.4v2.6h-16.4zM1647.9 495.5h32.6v2.6h-32.6zM1713.2 498.1h16.3v2.6h-16.3zM1892.7 498.1h32.6v2.6h-32.6zM1860 498.1h16.3v5.2h-16.3zM1664.2 500.7h114.3v2.6h-114.3zM1892.7 503.3h16.3v2.6h-16.3zM1762.1 503.3h16.4v2.6h-16.4zM1664.2 503.3h81.6v2.6h-81.6zM1696.9 505.9h81.6v2.6h-81.6zM1664.2 505.9h16.3v2.6h-16.3zM1860 508.5h16.3v2.6h-16.3zM1762.1 508.5h16.4v2.6h-16.4zM1696.9 508.5h48.9v2.6h-48.9zM1647.9 508.5h32.6v2.6h-32.6zM1745.8 511.1h32.7v2.6h-32.7zM1664.2 511.1h49v2.6h-49zM1843.7 513.7h32.6v2.6h-32.6zM1974.2 513.7h16.4v2.6h-16.4zM1941.6 513.7h16.3v2.6h-16.3zM1892.7 513.7h32.6v2.6h-32.6zM1664.2 516.3h16.3v2.6h-16.3zM1696.9 516.3h48.9v2.6h-48.9zM1762.1 516.3h16.4v5.2h-16.4zM1843.7 518.9h32.6v2.6h-32.6zM1941.6 518.9h16.3v2.6h-16.3zM1892.7 518.9h16.3v5.2h-16.3zM1696.9 521.5h48.9v2.6h-48.9zM1664.2 521.5h16.3v2.6h-16.3zM1696.9 524.1h16.3v2.6h-16.3zM1664.2 526.7h16.3v2.6h-16.3zM1696.9 526.7h48.9v2.6h-48.9zM1762.1 524.1h16.4v7.8h-16.4zM1860 529.3h16.3v2.6h-16.3zM1664.2 529.3h81.6v2.6h-81.6zM1892.7 531.9h16.3v2.6h-16.3zM1713.2 531.9h32.6v5.2h-32.6zM1696.9 537.1h32.6v2.6h-32.6zM1892.7 537.1h16.3v2.6h-16.3zM1860 534.5h16.3v7.8h-16.3zM1713.2 539.7h32.6v2.6h-32.6zM1664.2 531.9h16.3v13h-16.3zM1762.1 539.7h16.4v5.2h-16.4zM1696.9 542.3h48.9v2.6h-48.9zM1892.7 542.3h16.3v2.6h-16.3zM1843.7 542.3h16.3v2.6h-16.3zM1843.7 544.9h146.9v2.6h-146.9zM2006.9 544.9h16.3v2.6h-16.3zM1582.7 544.9h16.3v2.6h-16.3zM1860 547.5h16.3v2.6h-16.3zM1713.2 547.5h16.3v2.6h-16.3zM1664.2 547.5h16.3v2.6h-16.3zM1762.1 547.5h16.4v2.6h-16.4zM1664.2 550.1h81.6v2.6h-81.6zM1860 552.7h16.3v2.6h-16.3zM1664.2 552.7h16.3v2.6h-16.3zM1892.7 555.3h16.3v2.6h-16.3zM1843.7 555.3h16.3v2.6h-16.3zM1729.5 557.9h49v2.6h-49zM1664.2 557.9h32.7v2.6h-32.7zM1664.2 560.5h114.3v2.6h-114.3zM1729.5 563.1h16.3v2.6h-16.3zM1680.5 563.1h32.7v2.6h-32.7zM1762.1 563.1h16.4v2.6h-16.4zM1745.8 565.7h32.7v5.2h-32.7zM1696.9 568.3h32.6v2.6h-32.6zM1664.2 568.3h16.3v2.6h-16.3zM1647.9 570.9h32.6v2.6h-32.6zM1729.5 570.9h32.6v2.6h-32.6zM1647.9 573.5h130.6v2.6h-130.6zM1680.5 576.1h16.4v2.6h-16.4zM1647.9 576.1h16.3v2.6h-16.3zM1745.8 576.1h16.3v2.6h-16.3zM1762.1 578.7h16.4v2.6h-16.4zM1664.2 578.7h81.6v2.6h-81.6zM1745.8 581.3h32.7v2.6h-32.7zM1647.9 581.3h16.3v2.6h-16.3zM1664.2 583.9h16.3v2.6h-16.3zM1696.9 583.9h16.3v2.6h-16.3zM1729.5 583.9h32.6v2.6h-32.6zM1745.8 586.5h32.7v5.2h-32.7zM1647.9 586.5h16.3v5.2h-16.3zM1680.5 589.1h16.4v2.6h-16.4zM1696.9 591.7h16.3v2.6h-16.3zM1680.5 594.3h98v2.6h-98zM1647.9 594.3h16.3v2.6h-16.3zM1664.2 596.9h97.9v2.6h-97.9zM1647.9 599.5h65.3v2.6h-65.3zM1729.5 599.5h32.6v2.6h-32.6zM1680.5 602.1h49v2.6h-49zM1647.9 602.1h16.3v2.6h-16.3zM1745.8 602.1h32.7v5.2h-32.7zM1664.2 604.7h49v2.6h-49zM1664.2 607.3h114.3v2.6h-114.3zM1680.5 609.9h49v2.6h-49zM1647.9 609.9h16.3v2.6h-16.3zM1647.9 612.5h81.6v2.6h-81.6zM1745.8 609.9h32.7v7.8h-32.7zM1713.2 615.1h16.3v2.6h-16.3zM1647.9 615.1h49v5.2h-49zM1713.2 617.7h48.9v2.6h-48.9zM1680.5 620.3h98v2.6h-98zM1647.9 620.3h16.3v5.2h-16.3zM1680.5 622.9h16.4v2.6h-16.4zM1729.5 622.9h16.3v2.6h-16.3zM1762.1 622.9h16.4v2.6h-16.4zM1647.9 630.7h16.3v2.6h-16.3zM1957.9 643.7h16.3v2.6h-16.3zM1925.3 648.9h16.3v5.2h-16.3zM1533.7 651.5h16.3v2.6h-16.3zM1582.7 651.5h16.3v2.6h-16.3zM1974.2 654.1h16.4v2.7h-16.4zM1876.3 656.8h114.3v2.6h-114.3zM1909 659.4h16.3v2.6h-16.3zM1941.6 659.4h32.6v5.2h-32.6zM1892.7 662h32.6v2.6h-32.6zM1909 664.6h65.2v2.6h-65.2zM1533.7 662h16.3v7.8h-16.3zM1990.6 664.6h32.6v5.2h-32.6zM1876.3 667.2h81.6v2.6h-81.6zM1647.9 669.8h32.6v2.6h-32.6zM1696.9 669.8h81.6v2.6h-81.6zM1843.7 669.8h32.6v5.2h-32.6zM1533.7 672.4h16.3v2.6h-16.3zM1647.9 672.4h16.3v2.6h-16.3zM1713.2 672.4h65.3v2.6h-65.3zM1664.2 675h16.3v2.6h-16.3zM1941.6 675h16.3v2.6h-16.3zM1909 675h16.3v2.6h-16.3zM1843.7 677.6h32.6v2.6h-32.6zM1696.9 677.6h65.2v2.6h-65.2zM1647.9 677.6h32.6v2.6h-32.6zM1713.2 680.2h16.3v2.6h-16.3zM1664.2 680.2h16.3v2.6h-16.3zM1533.7 677.6h16.3v7.8h-16.3zM1941.6 682.8h32.6v2.6h-32.6zM1892.7 682.8h32.6v2.6h-32.6zM1647.9 685.4h130.6v2.6h-130.6zM1843.7 685.4h32.6v2.6h-32.6zM1745.8 688h32.7v2.6h-32.7zM1696.9 688h32.6v2.6h-32.6zM1647.9 688h32.6v2.6h-32.6zM1843.7 688h16.3v2.6h-16.3zM1533.7 688h16.3v5.2h-16.3zM1957.9 690.6h16.3v2.6h-16.3zM1664.2 690.6h16.3v5.2h-16.3zM1762.1 695.8h16.4v2.6h-16.4zM1533.7 695.8h16.3v5.2h-16.3zM1729.5 701h16.3v2.6h-16.3zM1843.7 701h32.6v5.2h-32.6zM1696.9 703.6h65.2v2.6h-65.2zM1664.2 703.6h16.3v2.6h-16.3zM1892.7 706.2h16.3v2.6h-16.3zM1860 708.8h16.3v2.6h-16.3zM1664.2 708.8h16.3v5.2h-16.3zM1843.7 711.4h32.6v2.6h-32.6zM1762.1 711.4h16.4v2.6h-16.4zM1696.9 711.4h48.9v2.6h-48.9zM1533.7 706.2h16.3v10.4h-16.3zM1941.6 714h16.3v2.6h-16.3zM1974.2 714h16.4v2.6h-16.4zM1876.3 714h32.7v2.6h-32.7zM1843.7 716.6h32.6v2.6h-32.6zM2006.9 716.6h16.3v2.6h-16.3zM1664.2 716.6h16.3v2.6h-16.3zM1713.2 716.6h16.3v2.6h-16.3zM1892.7 719.2h32.6v2.6h-32.6zM1843.7 719.2h16.3v2.6h-16.3zM1941.6 719.2h32.6v2.6h-32.6zM1664.2 721.8h16.3v2.6h-16.3zM1762.1 721.8h16.4v2.6h-16.4zM1696.9 721.8h48.9v2.6h-48.9zM1843.7 721.8h32.6v5.2h-32.6zM1647.9 724.4h32.6v2.6h-32.6zM1941.6 724.4h16.3v2.6h-16.3zM1713.2 724.4h32.6v2.6h-32.6zM1696.9 727h48.9v2.6h-48.9zM1664.2 727h16.3v2.6h-16.3zM1599 727h16.3v5.2h-16.3zM1762.1 727h16.4v5.2h-16.4zM1843.7 729.6h16.3v2.6h-16.3zM1664.2 729.6h32.7v2.6h-32.7zM1713.2 729.6h32.6v2.6h-32.6zM1582.7 732.2h32.6v2.6h-32.6zM1843.7 732.2h146.9v2.6h-146.9zM2006.9 732.2h16.3v2.6h-16.3zM1957.9 734.8h16.3v2.6h-16.3zM1713.2 734.8h16.3v2.6h-16.3zM1762.1 734.8h16.4v2.6h-16.4zM1664.2 734.8h32.7v2.6h-32.7zM1599 734.8h16.3v5.2h-16.3zM1941.6 737.4h49v2.6h-49zM1892.7 737.4h32.6v2.6h-32.6zM1664.2 737.4h16.3v2.6h-16.3zM1843.7 737.4h32.6v5.2h-32.6zM1582.7 740h32.6v2.6h-32.6zM1892.7 740h16.3v2.6h-16.3zM1957.9 740h32.7v2.6h-32.7zM2006.9 740h16.3v2.6h-16.3zM1925.3 740h16.3v2.6h-16.3zM1713.2 740h16.3v2.6h-16.3zM1876.3 742.6h16.4v2.6h-16.4zM1974.2 742.6h49v2.6h-49zM1909 742.6h48.9v2.6h-48.9zM1582.7 742.6h16.3v2.6h-16.3zM1631.6 742.6h16.3v2.6h-16.3zM1647.9 745.2h114.2v2.6h-114.2zM1843.7 747.8h65.3v2.6h-65.3zM2006.9 747.8h16.3v2.6h-16.3zM1599 747.8h16.3v2.6h-16.3zM1925.3 747.8h65.3v2.6h-65.3zM1696.9 750.4h81.6v2.6h-81.6zM1664.2 750.4h16.3v5.2h-16.3zM1696.9 753h48.9v2.6h-48.9zM1762.1 753h16.4v2.6h-16.4zM1647.9 755.6h49v2.6h-49zM1729.5 755.6h32.6v2.6h-32.6zM1860 758.2h16.3v2.6h-16.3zM1647.9 758.2h130.6v2.6h-130.6zM1582.7 760.8h32.6v2.6h-32.6zM1843.7 760.8h65.3v2.6h-65.3zM1729.5 760.8h16.3v2.6h-16.3zM1664.2 760.8h16.3v2.6h-16.3zM1762.1 760.8h16.4v2.6h-16.4zM1729.5 763.4h49v2.6h-49zM1892.7 763.4h16.3v2.6h-16.3zM1664.2 763.4h49v2.6h-49zM1582.7 766h32.6v2.6h-32.6zM2006.9 766h16.3v2.6h-16.3zM1860 763.4h16.3v7.8h-16.3zM1664.2 766h114.3v5.2h-114.3zM1599 768.6h16.3v2.6h-16.3zM1990.6 771.2h32.6v2.6h-32.6zM1843.7 771.2h16.3v2.6h-16.3zM1941.6 771.2h32.6v2.6h-32.6zM1876.3 771.2h49v2.6h-49zM1762.1 771.2h16.4v5.2h-16.4zM1892.7 773.8h32.6v2.6h-32.6zM1843.7 773.8h32.6v2.6h-32.6zM1696.9 773.8h16.3v2.6h-16.3zM1974.2 773.8h16.4v2.6h-16.4zM1599 773.8h16.3v2.6h-16.3zM1664.2 773.8h16.3v2.6h-16.3zM1680.5 776.4h16.4v2.6h-16.4zM1647.9 776.4h16.3v2.6h-16.3zM1713.2 776.4h48.9v2.6h-48.9zM1843.7 779h32.6v2.6h-32.6zM1892.7 779h32.6v2.6h-32.6zM1941.6 779h16.3v2.6h-16.3zM1599 779h16.3v2.6h-16.3zM1664.2 779h114.3v2.6h-114.3zM1860 781.6h16.3v2.6h-16.3zM1647.9 781.6h81.6v2.6h-81.6zM1745.8 781.6h16.3v2.6h-16.3zM1680.5 784.2h16.4v2.6h-16.4zM1647.9 784.2h16.3v2.6h-16.3zM1582.7 786.8h32.6v2.6h-32.6zM1843.7 786.8h32.6v2.6h-32.6zM1729.5 786.8h16.3v2.6h-16.3zM1909 786.8h16.3v2.6h-16.3zM1762.1 786.8h16.4v2.6h-16.4zM1892.7 789.4h97.9v2.6h-97.9zM1599 789.4h32.6v2.6h-32.6zM1811.1 789.4h16.3v2.6h-16.3zM1843.7 789.4h16.3v2.6h-16.3zM2006.9 789.4h16.3v5.2h-16.3zM1843.7 792h81.6v2.6h-81.6zM1941.6 792h16.3v2.6h-16.3zM1599 792h16.3v2.6h-16.3zM1729.5 792h16.3v5.2h-16.3zM1664.2 794.6h16.3v2.6h-16.3zM1762.1 792h16.4v7.8h-16.4zM1860 797.2h32.7v2.6h-32.7zM1599 797.2h16.3v2.6h-16.3zM1696.9 797.2h16.3v2.6h-16.3zM1876.3 799.8h16.4v2.6h-16.4zM1582.7 799.8h32.6v2.6h-32.6zM1957.9 799.8h65.3v2.6h-65.3zM1909 799.8h16.3v2.6h-16.3zM1794.8 799.8h65.2v2.6h-65.2zM1941.6 802.4h32.6v2.6h-32.6zM1827.4 802.4h81.6v2.6h-81.6zM1778.5 802.4h16.3v2.6h-16.3zM1729.5 805h16.3v2.6h-16.3zM1974.2 805h16.4v2.6h-16.4zM1778.5 805h146.8v2.6h-146.8zM1941.6 805h16.3v5.2h-16.3zM1827.4 807.6h65.3v2.6h-65.3zM1778.5 807.6h32.6v2.6h-32.6zM2006.9 807.6h16.3v2.6h-16.3zM1909 807.6h16.3v2.6h-16.3zM1827.4 810.2h114.2v2.6h-114.2zM1778.5 810.2h16.3v2.6h-16.3zM1974.2 810.2h16.4v2.6h-16.4zM1599 802.4h16.3v13h-16.3zM2006.9 812.8h16.3v2.6h-16.3zM1941.6 812.8h32.6v2.6h-32.6zM1778.5 812.8h48.9v2.6h-48.9zM1843.7 812.8h81.6v5.2h-81.6zM1811.1 815.4h16.3v2.6h-16.3zM1778.5 815.4h16.3v2.6h-16.3zM1941.6 815.4h16.3v5.2h-16.3zM1778.5 818h146.8v2.6h-146.8zM1729.5 820.6h16.3v2.6h-16.3zM1762.1 820.6h16.4v2.6h-16.4zM1827.4 820.6h16.3v2.6h-16.3zM2006.9 823.2h16.3v2.6h-16.3zM1974.2 823.2h16.4v2.6h-16.4zM1941.6 823.2h16.3v2.6h-16.3zM1762.1 823.2h49v2.6h-49zM1827.4 823.2h48.9v2.6h-48.9zM1892.7 823.2h32.6v2.6h-32.6zM1599 823.2h16.3v2.6h-16.3zM1843.7 825.8h32.6v2.6h-32.6zM1729.5 825.8h16.3v2.6h-16.3zM1762.1 825.8h16.4v2.6h-16.4zM2006.9 828.4h16.3v2.6h-16.3zM1941.6 828.4h16.3v2.6h-16.3zM1974.2 828.4h16.4v2.6h-16.4zM1778.5 828.4h146.8v2.6h-146.8zM1664.2 831h16.3v2.6h-16.3zM1762.1 831h16.4v2.6h-16.4zM1696.9 831h48.9v5.2h-48.9zM1876.3 833.6h32.7v2.6h-32.7zM1827.4 833.6h16.3v5.2h-16.3zM1860 836.2h16.3v2.6h-16.3zM1664.2 836.2h16.3v2.6h-16.3zM1941.6 836.2h16.3v2.6h-16.3zM1713.2 836.2h32.6v2.6h-32.6zM1762.1 836.2h16.4v5.2h-16.4zM1647.9 838.8h81.6v2.6h-81.6zM1794.8 841.4h146.8v2.6h-146.8zM1957.9 841.4h32.7v2.6h-32.7zM1599 841.4h16.3v2.6h-16.3zM2006.9 841.4h16.3v5.2h-16.3zM1827.4 844h163.2v2.6h-163.2zM1582.7 844h32.6v2.6h-32.6zM1778.5 844h32.6v2.6h-32.6zM1729.5 844h16.3v2.6h-16.3zM1713.2 846.6h16.3v2.6h-16.3zM1892.7 846.6h16.3v2.6h-16.3zM1664.2 846.6h16.3v2.6h-16.3zM1827.4 846.6h16.3v2.6h-16.3zM1729.5 849.2h16.3v2.6h-16.3zM1811.1 849.2h146.8v2.6h-146.8zM1778.5 849.2h16.3v5.2h-16.3zM2006.9 851.8h16.3v2.6h-16.3zM1860 851.8h16.3v2.6h-16.3zM1941.6 851.8h16.3v2.6h-16.3zM1713.2 851.8h16.3v2.6h-16.3zM1827.4 851.8h16.3v2.6h-16.3zM1745.8 854.4h16.3v2.6h-16.3zM1647.9 854.4h16.3v2.6h-16.3zM1827.4 857h32.6v2.6h-32.6zM1941.6 857h16.3v2.6h-16.3zM1713.2 857h32.6v2.6h-32.6zM1909 857h16.3v2.6h-16.3zM1892.7 859.6h16.3v2.6h-16.3zM1729.5 859.6h16.3v2.6h-16.3zM1827.4 859.6h48.9v2.6h-48.9zM1778.5 857h16.3v7.8h-16.3zM1827.4 862.2h32.6v2.6h-32.6zM1941.6 862.2h16.3v2.6h-16.3zM1876.3 862.2h32.7v2.6h-32.7zM1713.2 862.2h32.6v2.6h-32.6zM1664.2 862.2h16.3v5.2h-16.3zM1762.1 864.8h16.4v2.6h-16.4zM1696.9 864.8h48.9v2.6h-48.9zM1843.7 864.8h16.3v2.6h-16.3zM1827.4 867.4h32.6v2.6h-32.6zM1713.2 867.4h32.6v2.6h-32.6zM1941.6 867.4h16.3v5.2h-16.3zM1778.5 867.4h16.3v5.2h-16.3zM1729.5 870h16.3v2.6h-16.3zM1664.2 870h16.3v2.6h-16.3zM1827.4 870h65.3v2.6h-65.3zM2006.9 872.6h16.3v2.6h-16.3zM1860 872.6h97.9v2.6h-97.9zM1778.5 872.6h65.2v2.6h-65.2zM1582.7 872.6h16.3v2.6h-16.3zM1941.6 875.2h16.3v5.2h-16.3zM1827.4 875.2h81.6v5.2h-81.6zM1778.5 877.8h16.3v2.6h-16.3zM1713.2 877.8h32.6v2.6h-32.6zM2006.9 880.4h16.3v2.6h-16.3zM1811.1 880.4h16.3v2.6h-16.3zM1876.3 880.4h114.3v2.6h-114.3zM1941.6 883h16.3v2.6h-16.3zM1843.7 880.4h16.3v7.8h-16.3zM1696.9 883h48.9v5.2h-48.9zM2006.9 885.6h16.3v2.6h-16.3zM1762.1 885.6h16.4v2.6h-16.4zM1713.2 888.2h16.3v2.6h-16.3zM1745.8 888.2h16.3v2.6h-16.3zM1647.9 888.2h32.6v2.6h-32.6zM1582.7 890.8h32.6v2.6h-32.6zM1794.8 890.8h97.9v2.6h-97.9zM1974.2 890.8h49v2.6h-49zM1925.3 890.8h16.3v2.6h-16.3zM1974.2 893.4h16.4v2.6h-16.4zM1860 893.4h65.3v2.6h-65.3zM1599 893.4h16.3v2.6h-16.3zM1778.5 893.4h32.6v5.2h-32.6zM1941.6 893.4h16.3v5.2h-16.3zM1827.4 893.4h16.3v5.2h-16.3zM1713.2 896h16.3v2.6h-16.3zM1582.7 896h32.6v2.6h-32.6zM1892.7 896h32.6v2.6h-32.6zM2006.9 893.4h16.3v7.8h-16.3zM1860 898.6h97.9v2.6h-97.9zM1778.5 898.6h65.2v2.6h-65.2zM1696.9 901.2h32.6v2.6h-32.6zM1664.2 901.2h16.3v2.6h-16.3zM1827.4 901.2h81.6v2.6h-81.6zM1925.3 901.2h16.3v2.6h-16.3zM1827.4 903.8h97.9v2.6h-97.9zM1778.5 903.8h16.3v2.6h-16.3zM1713.2 903.8h32.6v2.6h-32.6zM1941.6 903.8h16.3v5.2h-16.3zM1892.7 906.4h16.3v2.6h-16.3zM1696.9 906.4h32.6v2.6h-32.6zM1827.4 906.4h48.9v2.6h-48.9zM1843.7 909h49v2.6h-49zM1909 909h16.3v2.6h-16.3zM1713.2 909h32.6v2.6h-32.6zM1843.7 911.6h81.6v2.6h-81.6zM2006.9 914.2h16.3v2.6h-16.3zM1892.7 914.2h65.2v2.6h-65.2zM1892.7 916.8h32.6v2.6h-32.6zM1843.7 916.8h32.6v2.6h-32.6zM1941.6 916.8h16.3v2.6h-16.3zM1713.2 916.8h16.3v5.2h-16.3zM1843.7 919.4h16.3v5.2h-16.3zM1696.9 922h48.9v2.6h-48.9zM1762.1 922h16.4v2.6h-16.4zM1680.5 924.6h16.4v2.6h-16.4zM1713.2 924.6h16.3v2.6h-16.3zM1843.7 924.6h32.6v2.6h-32.6zM1941.6 927.2h32.6v2.6h-32.6zM1860 927.2h65.3v2.6h-65.3zM1892.7 929.8h16.3v2.6h-16.3zM1860 929.8h16.3v2.6h-16.3zM1713.2 929.8h32.6v2.6h-32.6zM1713.2 932.4h16.3v2.6h-16.3zM1843.7 932.4h32.6v5.2h-32.6zM1713.2 935h32.6v2.6h-32.6zM1647.9 935h16.3v2.6h-16.3zM1713.2 937.6h16.3v2.6h-16.3zM1762.1 937.6h16.4v2.6h-16.4zM1664.2 937.6h32.7v2.6h-32.7zM1843.7 937.6h16.3v5.2h-16.3zM1713.2 940.2h32.6v2.6h-32.6zM1664.2 940.2h16.3v2.6h-16.3zM1892.7 942.8h16.3v2.6h-16.3zM1860 942.8h16.3v2.6h-16.3zM1713.2 945.4h32.6v2.6h-32.6zM1843.7 945.4h16.3v5.2h-16.3zM1647.9 948h16.3v2.6h-16.3zM1729.5 948h16.3v2.6h-16.3zM1680.5 948h32.7v2.6h-32.7zM1713.2 950.6h48.9v2.6h-48.9zM1843.7 950.6h32.6v5.2h-32.6zM1892.7 953.2h16.3v2.6h-16.3zM1664.2 955.8h114.3v2.6h-114.3zM1843.7 958.4h32.6v2.6h-32.6zM1860 961h16.3v2.6h-16.3zM1892.7 963.6h32.6v2.6h-32.6zM1941.6 963.6h16.3v2.6h-16.3zM1843.7 963.6h32.6v5.2h-32.6zM1860 968.8h16.3v2.6h-16.3zM1892.7 968.8h16.3v2.6h-16.3zM2006.9 971.4h16.3v2.6h-16.3zM1892.7 971.4h81.5v2.6h-81.5zM1843.7 974h32.6v7.8h-32.6zM1892.7 979.2h16.3v2.6h-16.3zM1827.4 981.8h16.3v2.6h-16.3zM2006.9 992.2h16.3v2.6h-16.3zM1909 992.2h65.2v2.6h-65.2zM1892.7 994.8h16.3v2.6h-16.3zM1582.7 994.8h16.3v5.2h-16.3zM1843.7 997.4h49v2.6h-49zM1631.6 997.4h16.3v5.3h-16.3zM2006.9 1000h16.3v2.7h-16.3zM1876.3 1000h16.4v2.7h-16.4zM1599 1000h16.3v2.7h-16.3zM1762.1 1002.7h32.7v2.6h-32.7zM1811.1 1002.7h32.6v2.6h-32.6zM1729.5 1002.7h16.3v2.6h-16.3zM1664.2 1002.7h49v2.6h-49zM1680.5 1005.3h65.3v2.6h-65.3zM1762.1 1005.3h81.6v2.6h-81.6zM1843.7 1007.9h65.3v2.6h-65.3zM1941.6 1007.9h16.3v2.6h-16.3zM1599 1007.9h16.3v2.6h-16.3zM1794.8 1010.5h48.9v2.6h-48.9zM1713.2 1010.5h65.3v2.6h-65.3zM1827.4 1013.1h48.9v2.6h-48.9zM1957.9 1013.1h16.3v5.2h-16.3zM1892.7 1013.1h48.9v5.2h-48.9zM1843.7 1015.7h32.6v2.6h-32.6zM1599 1015.7h16.3v2.6h-16.3zM1892.7 1018.3h16.3v2.6h-16.3zM1762.1 1018.3h16.4v2.6h-16.4zM1713.2 1018.3h32.6v2.6h-32.6zM1794.8 1018.3h65.2v2.6h-65.2zM1811.1 1020.9h16.3v2.6h-16.3zM1713.2 1020.9h16.3v2.6h-16.3zM1843.7 1020.9h32.6v2.6h-32.6zM1582.7 1023.5h32.6v2.6h-32.6zM1860 1023.5h65.3v2.6h-65.3zM1794.8 1026.1h48.9v2.6h-48.9zM1713.2 1026.1h32.6v2.6h-32.6zM1762.1 1026.1h16.4v5.2h-16.4zM1794.8 1028.7h16.3v2.6h-16.3zM1696.9 1028.7h48.9v2.6h-48.9zM1647.9 1028.7h16.3v5.2h-16.3zM1827.4 1028.7h16.3v5.2h-16.3zM1680.5 1031.3h130.6v2.6h-130.6zM1680.5 1033.9h16.4v2.6h-16.4zM1729.5 1033.9h16.3v2.6h-16.3zM1794.8 1033.9h48.9v2.6h-48.9zM1762.1 1033.9h16.4v2.6h-16.4zM1843.7 1036.5h65.3v2.6h-65.3zM1941.6 1036.5h16.3v2.6h-16.3zM1599 1036.5h16.3v2.6h-16.3zM1892.7 1039.1h16.3v2.6h-16.3zM1811.1 1039.1h65.2v2.6h-65.2zM1729.5 1041.7h16.3v2.6h-16.3zM1680.5 1041.7h32.7v2.6h-32.7zM1762.1 1041.7h32.7v2.6h-32.7zM1827.4 1041.7h16.3v2.6h-16.3zM1680.5 1044.3h163.2v2.6h-163.2zM1860 1044.3h16.3v2.6h-16.3zM1827.4 1046.9h65.3v2.6h-65.3zM1729.5 1046.9h16.3v2.6h-16.3zM1762.1 1046.9h16.4v2.6h-16.4zM1843.7 1049.5h49v2.6h-49zM1794.8 1049.5h32.6v2.6h-32.6zM1925.3 1049.5h48.9v2.6h-48.9zM1778.5 1052.1h32.6v2.6h-32.6zM1909 1052.1h65.2v2.6h-65.2zM1827.4 1052.1h65.3v2.6h-65.3zM1599 1054.7h16.3v2.6h-16.3zM1925.3 1054.7h97.9v2.6h-97.9zM1876.3 1054.7h32.7v2.6h-32.7zM1778.5 1054.7h65.2v5.2h-65.2zM1582.7 1057.3h32.6v2.6h-32.6zM1990.6 1057.3h32.6v2.6h-32.6zM1941.6 1057.3h16.3v2.6h-16.3zM2006.9 1059.9h16.3v2.6h-16.3zM1794.8 1059.9h16.3v2.6h-16.3zM1909 1059.9h65.2v2.6h-65.2zM1599 1059.9h16.3v5.2h-16.3zM1909 1062.5h48.9v2.6h-48.9zM1778.5 1062.5h16.3v2.6h-16.3zM1974.2 1062.5h49v5.2h-49zM1876.3 1065.1h32.7v2.6h-32.7zM1925.3 1065.1h32.6v2.6h-32.6zM1582.7 1065.1h32.6v5.2h-32.6zM1925.3 1067.7h81.6v2.6h-81.6zM1827.4 1059.9h16.3v13h-16.3zM1778.5 1065.1h32.6v7.8h-32.6zM1974.2 1070.3h16.4v2.6h-16.4zM1631.6 1070.3h16.3v2.6h-16.3zM1582.7 1070.3h16.3v5.2h-16.3zM1778.5 1072.9h16.3v2.6h-16.3zM1615.3 1072.9h32.6v2.6h-32.6zM1974.2 1075.5h32.7v2.6h-32.7zM1778.5 1075.5h65.2v2.6h-65.2zM1582.7 1075.5h32.6v5.2h-32.6zM1925.3 1075.5h16.3v5.2h-16.3zM1876.3 1078.1h16.4v2.6h-16.4zM1778.5 1078.1h32.6v2.6h-32.6zM1957.9 1078.1h65.3v2.6h-65.3zM1827.4 1078.1h16.3v2.6h-16.3zM1990.6 1080.7h32.6v2.6h-32.6zM1843.7 1080.7h16.3v2.6h-16.3zM1909 1080.7h16.3v2.6h-16.3zM1941.6 1080.7h32.6v2.6h-32.6zM1713.2 1080.7h32.6v2.6h-32.6zM1794.8 1083.3h48.9v2.6h-48.9zM1974.2 1083.3h49v2.6h-49zM1582.7 1083.3h16.3v2.6h-16.3zM1892.7 1085.9h32.6v2.6h-32.6zM1843.7 1085.9h16.3v2.6h-16.3zM1941.6 1085.9h32.6v2.6h-32.6zM1713.2 1085.9h16.3v2.6h-16.3zM1876.3 1088.5h16.4v2.6h-16.4zM1909 1088.5h16.3v2.6h-16.3zM1941.6 1088.5h81.6v2.6h-81.6zM1582.7 1088.5h16.3v5.2h-16.3zM1990.6 1091.1h16.3v2.6h-16.3zM1925.3 1091.1h16.3v2.6h-16.3zM1778.5 1091.1h48.9v2.6h-48.9zM1631.6 1091.1h16.3v5.2h-16.3zM1794.8 1093.7h48.9v2.6h-48.9zM1974.2 1093.7h16.4v2.6h-16.4zM1974.2 1096.3h32.7v2.6h-32.7zM1778.5 1096.3h65.2v2.6h-65.2zM1909 1096.3h32.6v2.6h-32.6zM1582.7 1096.3h16.3v2.6h-16.3zM1843.7 1098.9h16.3v2.6h-16.3zM1909 1098.9h16.3v2.6h-16.3zM1941.6 1098.9h32.6v2.6h-32.6zM1582.7 1101.5h32.6v2.6h-32.6zM1778.5 1101.5h32.6v2.6h-32.6zM1974.2 1101.5h49v2.6h-49zM1909 1101.5h32.6v5.2h-32.6zM1957.9 1104.1h32.7v2.6h-32.7zM1599 1104.1h16.3v2.6h-16.3zM1876.3 1101.5h16.4v7.8h-16.4zM1827.4 1101.5h16.3v7.8h-16.3zM1925.3 1106.7h16.3v2.6h-16.3zM1778.5 1106.7h32.6v2.6h-32.6zM1974.2 1106.7h32.7v2.6h-32.7zM1566.3 1109.3h16.4v2.6h-16.4zM1631.6 1109.3h16.3v2.6h-16.3zM1778.5 1109.3h16.3v2.6h-16.3zM1582.7 1111.9h32.6v2.6h-32.6zM1778.5 1111.9h32.6v2.6h-32.6zM1925.3 1111.9h16.3v2.6h-16.3zM1974.2 1111.9h32.7v2.6h-32.7zM1909 1114.5h65.2v2.6h-65.2zM1843.7 1114.5h16.3v2.6h-16.3zM1599 1114.5h16.3v2.6h-16.3zM1957.9 1117.1h16.3v2.6h-16.3zM2006.9 1117.1h16.3v2.6h-16.3zM1729.5 1117.1h16.3v2.6h-16.3zM1909 1117.1h16.3v2.6h-16.3zM1876.3 1114.5h16.4v7.8h-16.4zM1778.5 1119.7h32.6v2.6h-32.6zM1974.2 1119.7h49v2.6h-49zM1925.3 1119.7h16.3v2.6h-16.3zM1827.4 1119.7h16.3v2.6h-16.3zM1582.7 1117.1h32.6v7.8h-32.6zM1909 1122.3h32.6v2.6h-32.6zM1778.5 1122.3h16.3v2.6h-16.3zM1974.2 1122.3h32.7v2.6h-32.7zM1827.4 1122.3h48.9v2.6h-48.9zM1909 1124.9h81.6v2.6h-81.6zM1860 1124.9h16.3v2.6h-16.3zM1599 1124.9h16.3v2.6h-16.3zM1827.4 1127.5h32.6v2.6h-32.6zM1909 1127.5h32.6v2.6h-32.6zM2006.9 1127.5h16.3v2.6h-16.3zM1794.8 1127.5h16.3v2.6h-16.3zM1974.2 1127.5h16.4v2.6h-16.4zM1876.3 1127.5h16.4v2.6h-16.4zM1582.7 1127.5h32.6v5.2h-32.6zM1811.1 1130.1h16.3v2.6h-16.3zM1990.6 1130.1h32.6v2.6h-32.6zM1843.7 1130.1h49v2.6h-49zM1909 1130.1h48.9v2.6h-48.9zM1925.3 1132.7h16.3v2.6h-16.3zM1827.4 1132.7h16.3v2.6h-16.3zM1599 1132.7h32.6v2.6h-32.6zM1974.2 1135.3h16.4v2.6h-16.4zM1778.5 1135.3h16.3v2.6h-16.3zM1811.1 1135.3h32.6v2.6h-32.6zM1794.8 1137.9h48.9v2.6h-48.9zM1631.6 1137.9h16.3v2.6h-16.3zM1909 1140.5h32.6v2.6h-32.6zM1876.3 1140.5h16.4v2.6h-16.4zM1974.2 1140.5h49v2.6h-49zM1582.7 1140.5h32.6v2.6h-32.6zM1990.6 1143.1h16.3v2.6h-16.3zM1631.6 1143.1h16.3v2.6h-16.3zM1827.4 1143.1h16.3v5.2h-16.3zM1582.7 1145.7h32.6v2.6h-32.6zM1974.2 1145.7h16.4v2.6h-16.4zM1909 1145.7h32.6v2.6h-32.6zM1827.4 1148.3h32.6v2.6h-32.6zM1974.2 1148.3h49v2.6h-49zM1925.3 1148.3h32.6v2.6h-32.6zM1582.7 1148.3h16.3v5.2h-16.3zM1925.3 1150.9h16.3v2.6h-16.3zM1892.7 1150.9h16.3v2.6h-16.3zM1990.6 1150.9h32.6v2.6h-32.6zM1827.4 1150.9h16.3v2.6h-16.3zM1778.5 1140.5h16.3v15.6h-16.3zM1827.4 1153.5h32.6v2.6h-32.6zM1876.3 1153.5h16.4v2.6h-16.4zM1909 1153.5h48.9v2.6h-48.9zM1974.2 1153.5h49v5.2h-49zM1582.7 1153.5h32.6v5.2h-32.6zM1843.7 1156.1h16.3v2.6h-16.3zM1876.3 1156.1h81.6v2.6h-81.6zM1794.8 1158.7h16.3v2.6h-16.3zM1615.3 1158.7h16.3v2.6h-16.3zM1827.4 1158.7h16.3v2.6h-16.3zM1925.3 1158.7h16.3v5.2h-16.3zM1974.2 1161.3h49v2.6h-49zM1778.5 1161.3h65.2v2.6h-65.2zM1582.7 1161.3h16.3v2.6h-16.3zM1909 1163.9h16.3v2.6h-16.3zM1794.8 1163.9h65.2v2.6h-65.2zM1990.6 1166.5h16.3v2.6h-16.3zM1582.7 1166.5h16.3v2.6h-16.3zM1778.5 1166.5h48.9v2.6h-48.9zM1990.6 1169.1h32.6v2.6h-32.6zM1599 1169.1h16.3v2.6h-16.3zM1876.3 1169.1h32.7v2.6h-32.7zM1925.3 1169.1h32.6v2.6h-32.6zM1843.7 1169.1h16.3v5.2h-16.3zM1811.1 1171.7h16.3v2.6h-16.3zM1876.3 1171.7h16.4v2.6h-16.4zM1974.2 1171.7h49v2.6h-49zM1582.7 1171.7h32.6v2.6h-32.6zM1909 1171.7h48.9v2.6h-48.9zM1778.5 1171.7h16.3v2.6h-16.3z"/><path fill="#4AC76E" d="M1664.2 136.6h16.3v2.6h-16.3zM1729.5 136.6h49v2.6h-49zM1664.2 139.2h81.6v2.6h-81.6zM1762.1 139.2h16.4v2.6h-16.4zM1745.8 141.8h16.3v2.6h-16.3zM1778.5 141.8h16.3v2.6h-16.3zM1680.5 141.8h49v2.6h-49zM1647.9 141.8h16.3v2.6h-16.3zM1647.9 144.4h81.6v2.6h-81.6zM1745.8 144.4h32.7v2.6h-32.7zM1647.9 147h65.3v2.6h-65.3zM1778.5 147h16.3v2.6h-16.3zM1729.5 147h32.6v2.6h-32.6zM1762.1 149.6h16.4v2.6h-16.4zM1713.2 149.6h32.6v2.6h-32.6zM1664.2 149.6h16.3v5.2h-16.3zM1647.9 154.8h81.6v2.6h-81.6zM1762.1 154.8h16.4v2.6h-16.4zM1647.9 157.4h16.3v2.6h-16.3zM1762.1 157.4h32.7v2.6h-32.7zM1680.5 157.4h65.3v2.6h-65.3zM1664.2 160h16.3v5.2h-16.3zM1762.1 160h16.4v5.2h-16.4zM1713.2 160h32.6v5.2h-32.6zM1696.9 165.2h16.3v2.6h-16.3zM1647.9 165.2h32.6v2.6h-32.6zM1762.1 165.2h32.7v2.6h-32.7zM1729.5 165.2h16.3v2.6h-16.3zM1745.8 167.8h97.9v2.6h-97.9zM1647.9 167.8h16.3v2.6h-16.3zM1680.5 167.8h32.7v2.6h-32.7zM1664.2 170.4h16.3v2.6h-16.3zM1696.9 170.4h48.9v2.6h-48.9zM1762.1 170.4h32.7v2.6h-32.7zM1778.5 173h16.3v2.6h-16.3zM1713.2 173h32.6v2.6h-32.6zM1647.9 175.6h16.3v2.6h-16.3zM1827.4 175.6h16.3v2.6h-16.3zM1696.9 175.6h16.3v2.6h-16.3zM1794.8 178.2h16.3v2.6h-16.3zM1664.2 178.2h49v2.6h-49zM1729.5 178.2h32.6v2.6h-32.6zM1647.9 180.8h16.3v5.2h-16.3zM1745.8 183.4h16.3v2.6h-16.3zM1680.5 188.6h32.7v2.6h-32.7zM1745.8 188.6h16.3v2.6h-16.3zM1647.9 188.6h16.3v2.6h-16.3zM1647.9 193.8h65.3v2.6h-65.3zM1729.5 193.8h49v2.6h-49zM1745.8 196.4h16.3v2.6h-16.3zM1680.5 196.4h32.7v5.2h-32.7zM1647.9 196.4h16.3v5.2h-16.3zM1745.8 199h32.7v2.6h-32.7zM1745.8 204.2h32.7v2.6h-32.7zM1680.5 204.2h32.7v2.6h-32.7zM1647.9 204.2h16.3v5.2h-16.3zM1696.9 206.8h16.3v2.6h-16.3zM1729.5 206.8h49v5.2h-49zM1664.2 209.4h49v2.6h-49zM1680.5 212h16.4v2.6h-16.4zM1729.5 214.6h49v2.6h-49zM1647.9 217.2h16.3v5.2h-16.3zM1680.5 219.8h32.7v2.6h-32.7zM1762.1 219.8h16.4v2.6h-16.4zM1664.2 222.4h32.7v2.6h-32.7zM1729.5 222.4h49v2.6h-49zM1680.5 225h32.7v2.6h-32.7zM1647.9 225h16.3v5.2h-16.3zM1680.5 227.6h16.4v2.6h-16.4zM1729.5 227.6h49v2.6h-49zM1664.2 230.2h49v2.6h-49zM1762.1 230.2h16.4v2.6h-16.4zM1729.5 230.2h16.3v2.6h-16.3zM1647.9 232.8h16.3v5.2h-16.3zM1680.5 232.8h16.4v5.2h-16.4zM1745.8 235.4h32.7v5.2h-32.7zM1664.2 238h49v2.6h-49zM1745.8 240.6h16.3v2.6h-16.3zM1647.9 240.6h16.3v2.6h-16.3zM1647.9 245.8h16.3v2.6h-16.3zM1762.1 248.4h16.4v2.6h-16.4zM1647.9 248.4h65.3v2.6h-65.3zM1745.8 253.6h16.3v2.6h-16.3zM1647.9 256.2h16.3v2.6h-16.3zM1762.1 256.2h16.4v2.6h-16.4zM1762.1 261.4h16.4v2.6h-16.4zM1664.2 261.4h32.7v2.6h-32.7zM1745.8 264h16.3v2.6h-16.3zM1647.9 264h16.3v2.6h-16.3zM1647.9 271.8h16.3v2.6h-16.3zM1647.9 277h16.3v10.4h-16.3zM1680.5 284.8h32.7v2.6h-32.7zM1745.8 284.8h32.7v2.6h-32.7zM1745.8 290h16.3v2.6h-16.3zM1647.9 290h16.3v2.6h-16.3zM1745.8 305.6h16.3v2.7h-16.3zM1696.9 305.6h16.3v2.7h-16.3zM1647.9 305.6h16.3v5.3h-16.3zM1680.5 308.3h16.4v2.6h-16.4zM1745.8 401.9h16.3v2.6h-16.3zM1647.9 401.9h16.3v2.6h-16.3zM1680.5 401.9h16.4v2.6h-16.4zM1647.9 427.9h16.3v2.6h-16.3zM1745.8 474.7h16.3v2.6h-16.3zM1680.5 474.7h16.4v2.6h-16.4zM1647.9 474.7h16.3v5.2h-16.3zM1664.2 482.5h49v2.6h-49zM1745.8 482.5h32.7v2.6h-32.7zM1860 485.1h16.3v2.6h-16.3zM1664.2 485.1h114.3v2.6h-114.3zM1680.5 487.7h16.4v2.6h-16.4zM1647.9 487.7h16.3v2.6h-16.3zM1713.2 487.7h16.3v2.6h-16.3zM1745.8 487.7h16.3v5.2h-16.3zM1647.9 490.3h49v2.6h-49zM1762.1 492.9h16.4v2.6h-16.4zM1647.9 492.9h16.3v2.6h-16.3zM1680.5 492.9h16.4v5.2h-16.4zM1745.8 495.5h16.3v2.6h-16.3zM1664.2 498.1h49v2.6h-49zM1729.5 498.1h16.3v2.6h-16.3zM1745.8 503.3h16.3v2.6h-16.3zM1647.9 500.7h16.3v7.8h-16.3zM1680.5 505.9h16.4v5.2h-16.4zM1745.8 508.5h16.3v2.6h-16.3zM1647.9 511.1h16.3v2.6h-16.3zM1664.2 513.7h114.3v2.6h-114.3zM1745.8 516.3h16.3v2.6h-16.3zM1680.5 516.3h16.4v2.6h-16.4zM1647.9 516.3h16.3v2.6h-16.3zM1664.2 518.9h97.9v2.6h-97.9zM1745.8 521.5h32.7v2.6h-32.7zM1860 521.5h16.3v7.8h-16.3zM1680.5 521.5h16.4v7.8h-16.4zM1647.9 521.5h16.3v10.4h-16.3zM1745.8 524.1h16.3v7.8h-16.3zM1696.9 531.9h16.3v2.6h-16.3zM1860 531.9h16.3v2.6h-16.3zM1745.8 531.9h32.7v5.2h-32.7zM1647.9 534.5h16.3v2.6h-16.3zM1680.5 534.5h32.7v2.6h-32.7zM1729.5 537.1h49v2.6h-49zM1680.5 537.1h16.4v2.6h-16.4zM1680.5 539.7h32.7v2.6h-32.7zM1745.8 539.7h16.3v5.2h-16.3zM1647.9 539.7h16.3v5.2h-16.3zM1860 542.3h16.3v2.6h-16.3zM1680.5 542.3h16.4v2.6h-16.4zM1696.9 544.9h48.9v2.6h-48.9zM1680.5 547.5h32.7v2.6h-32.7zM1729.5 547.5h32.6v2.6h-32.6zM1745.8 550.1h32.7v2.6h-32.7zM1647.9 550.1h16.3v2.6h-16.3zM1680.5 552.7h98v2.6h-98zM1664.2 555.3h16.3v2.6h-16.3zM1696.9 555.3h81.6v2.6h-81.6zM1647.9 557.9h16.3v7.8h-16.3zM1745.8 563.1h16.3v2.6h-16.3zM1647.9 568.3h16.3v2.6h-16.3zM1729.5 568.3h16.3v2.6h-16.3zM1680.5 568.3h16.4v5.2h-16.4zM1762.1 570.9h16.4v2.6h-16.4zM1745.8 578.7h16.3v2.6h-16.3zM1647.9 578.7h16.3v2.6h-16.3zM1762.1 583.9h16.4v2.6h-16.4zM1647.9 583.9h16.3v2.6h-16.3zM1664.2 591.7h32.7v2.6h-32.7zM1713.2 591.7h65.3v2.6h-65.3zM1647.9 596.9h16.3v2.6h-16.3zM1762.1 596.9h16.4v5.2h-16.4zM1647.9 607.3h16.3v2.6h-16.3zM1762.1 617.7h16.4v2.6h-16.4zM1696.9 617.7h16.3v2.6h-16.3zM1860 638.5h32.7v2.6h-32.7zM1974.2 638.5h16.4v2.6h-16.4zM2006.9 638.5h16.3v2.6h-16.3zM1925.3 641.1h32.6v2.6h-32.6zM1533.7 641.1h16.3v2.6h-16.3zM1990.6 641.1h16.3v2.6h-16.3zM1876.3 641.1h32.7v2.6h-32.7zM1909 643.7h16.3v2.6h-16.3zM1876.3 643.7h16.4v2.6h-16.4zM1974.2 646.3h32.7v2.6h-32.7zM1876.3 648.9h16.4v2.6h-16.4zM1533.7 648.9h16.3v2.6h-16.3zM1909 648.9h16.3v2.6h-16.3zM1990.6 648.9h16.3v2.6h-16.3zM1941.6 648.9h32.6v2.6h-32.6zM1941.6 651.5h81.6v2.6h-81.6zM1843.7 651.5h81.6v2.6h-81.6zM1843.7 654.1h49v2.7h-49zM1909 654.1h48.9v2.7h-48.9zM2006.9 654.1h16.3v2.7h-16.3zM1533.7 654.1h16.3v5.3h-16.3zM1843.7 656.8h16.3v2.6h-16.3zM1664.2 656.8h16.3v2.6h-16.3zM1729.5 656.8h16.3v2.6h-16.3zM1860 659.4h16.3v2.6h-16.3zM1713.2 659.4h48.9v2.6h-48.9zM1647.9 659.4h32.6v2.6h-32.6zM1762.1 662h16.4v2.6h-16.4zM1664.2 662h16.3v2.6h-16.3zM1876.3 664.6h32.7v2.6h-32.7zM1729.5 662h16.3v7.8h-16.3zM1843.7 667.2h16.3v2.6h-16.3zM1664.2 667.2h16.3v2.6h-16.3zM1533.7 669.8h16.3v2.6h-16.3zM1680.5 669.8h16.4v2.6h-16.4zM1680.5 672.4h32.7v2.6h-32.7zM1696.9 675h16.3v2.6h-16.3zM1647.9 675h16.3v2.6h-16.3zM1729.5 675h16.3v2.6h-16.3zM1843.7 675h32.6v2.6h-32.6zM1762.1 677.6h16.4v2.6h-16.4zM1680.5 677.6h16.4v2.6h-16.4zM1647.9 680.2h16.3v2.6h-16.3zM1680.5 680.2h32.7v2.6h-32.7zM1729.5 680.2h49v2.6h-49zM1843.7 680.2h32.6v5.2h-32.6zM1664.2 682.8h16.3v2.6h-16.3zM1696.9 682.8h81.6v2.6h-81.6zM1680.5 688h16.4v2.6h-16.4zM1696.9 690.6h81.6v5.2h-81.6zM1647.9 690.6h16.3v5.2h-16.3zM1647.9 695.8h114.2v2.6h-114.2zM1843.7 690.6h32.6v10.4h-32.6zM1713.2 698.4h65.3v2.6h-65.3zM1647.9 698.4h32.6v2.6h-32.6zM1647.9 701h81.6v2.6h-81.6zM1745.8 701h32.7v2.6h-32.7zM1762.1 703.6h16.4v2.6h-16.4zM1680.5 703.6h16.4v2.6h-16.4zM1647.9 703.6h16.3v2.6h-16.3zM1664.2 706.2h114.3v2.6h-114.3zM1843.7 706.2h32.6v2.6h-32.6zM1680.5 708.8h98v2.6h-98zM1843.7 708.8h16.3v2.6h-16.3zM1647.9 708.8h16.3v5.2h-16.3zM1745.8 711.4h16.3v2.6h-16.3zM1680.5 711.4h16.4v2.6h-16.4zM1696.9 714h81.6v2.6h-81.6zM1664.2 714h16.3v2.6h-16.3zM1843.7 714h32.6v2.6h-32.6zM1647.9 716.6h16.3v2.6h-16.3zM1680.5 716.6h32.7v2.6h-32.7zM1729.5 716.6h49v2.6h-49zM1860 719.2h16.3v2.6h-16.3zM1647.9 719.2h130.6v2.6h-130.6zM1745.8 721.8h16.3v2.6h-16.3zM1680.5 721.8h16.4v2.6h-16.4zM1647.9 721.8h16.3v2.6h-16.3zM1745.8 724.4h32.7v2.6h-32.7zM1680.5 724.4h32.7v2.6h-32.7zM1680.5 727h16.4v2.6h-16.4zM1745.8 727h16.3v5.2h-16.3zM1647.9 727h16.3v5.2h-16.3zM1696.9 729.6h16.3v2.6h-16.3zM1647.9 732.2h130.6v2.6h-130.6zM1696.9 734.8h16.3v2.6h-16.3zM1729.5 734.8h32.6v2.6h-32.6zM1647.9 734.8h16.3v5.2h-16.3zM1680.5 737.4h98v2.6h-98zM1647.9 740h65.3v2.6h-65.3zM1729.5 740h49v2.6h-49zM1599 742.6h16.3v2.6h-16.3zM1843.7 742.6h32.6v2.6h-32.6zM1957.9 742.6h16.3v2.6h-16.3zM1664.2 742.6h16.3v2.6h-16.3zM1713.2 742.6h16.3v2.6h-16.3zM1892.7 742.6h16.3v2.6h-16.3zM1696.9 747.8h81.6v2.6h-81.6zM1647.9 747.8h32.6v2.6h-32.6zM1647.9 750.4h16.3v5.2h-16.3zM1680.5 750.4h16.4v5.2h-16.4zM1745.8 753h16.3v2.6h-16.3zM1745.8 760.8h16.3v2.6h-16.3zM1680.5 760.8h49v2.6h-49zM1713.2 763.4h16.3v2.6h-16.3zM1647.9 760.8h16.3v10.4h-16.3zM1599 771.2h16.3v2.6h-16.3zM1860 771.2h16.3v2.6h-16.3zM1664.2 771.2h97.9v2.6h-97.9zM1974.2 771.2h16.4v2.6h-16.4zM1713.2 773.8h48.9v2.6h-48.9zM1647.9 773.8h16.3v2.6h-16.3zM1680.5 773.8h16.4v2.6h-16.4zM1647.9 779h16.3v2.6h-16.3zM1745.8 786.8h16.3v2.6h-16.3zM1647.9 786.8h81.6v2.6h-81.6zM1680.5 789.4h32.7v2.6h-32.7zM1860 789.4h32.7v2.6h-32.7zM1762.1 789.4h16.4v2.6h-16.4zM1582.7 789.4h16.3v2.6h-16.3zM1696.9 792h32.6v2.6h-32.6zM1647.9 792h32.6v2.6h-32.6zM1745.8 792h16.3v5.2h-16.3zM1647.9 794.6h16.3v2.6h-16.3zM1680.5 794.6h49v2.6h-49zM1713.2 797.2h48.9v2.6h-48.9zM1664.2 797.2h32.7v2.6h-32.7zM1860 799.8h16.3v2.6h-16.3zM1713.2 799.8h32.6v2.6h-32.6zM1892.7 799.8h16.3v2.6h-16.3zM1941.6 799.8h16.3v2.6h-16.3zM1762.1 799.8h16.4v5.2h-16.4zM1647.9 802.4h65.3v2.6h-65.3zM1729.5 802.4h16.3v2.6h-16.3zM1696.9 805h32.6v2.6h-32.6zM1745.8 805h32.7v2.6h-32.7zM1664.2 805h16.3v5.2h-16.3zM1696.9 807.6h81.6v2.6h-81.6zM1664.2 810.2h114.3v2.6h-114.3zM1664.2 812.8h16.3v2.6h-16.3zM1713.2 812.8h32.6v2.6h-32.6zM1827.4 812.8h16.3v5.2h-16.3zM1664.2 815.4h81.6v2.6h-81.6zM1762.1 812.8h16.4v7.8h-16.4zM1647.9 818h97.9v2.6h-97.9zM1745.8 820.6h16.3v2.6h-16.3zM1647.9 820.6h81.6v2.6h-81.6zM1664.2 823.2h16.3v2.6h-16.3zM1696.9 823.2h48.9v2.6h-48.9zM1647.9 825.8h81.6v2.6h-81.6zM1745.8 825.8h16.3v2.6h-16.3zM1696.9 828.4h81.6v2.6h-81.6zM1664.2 828.4h16.3v2.6h-16.3zM1745.8 831h16.3v2.6h-16.3zM1680.5 831h16.4v2.6h-16.4zM1647.9 831h16.3v2.6h-16.3zM1762.1 833.6h16.4v2.6h-16.4zM1647.9 833.6h49v2.6h-49zM1680.5 836.2h32.7v2.6h-32.7zM1647.9 836.2h16.3v2.6h-16.3zM1745.8 836.2h16.3v5.2h-16.3zM1941.6 841.4h16.3v2.6h-16.3zM1696.9 841.4h16.3v2.6h-16.3zM1762.1 841.4h32.7v2.6h-32.7zM1729.5 841.4h16.3v2.6h-16.3zM1664.2 841.4h16.3v5.2h-16.3zM1745.8 844h16.3v2.6h-16.3zM1713.2 844h16.3v2.6h-16.3zM1680.5 846.6h32.7v2.6h-32.7zM1647.9 846.6h16.3v2.6h-16.3zM1745.8 846.6h32.7v5.2h-32.7zM1696.9 849.2h32.6v2.6h-32.6zM1664.2 849.2h16.3v2.6h-16.3zM1647.9 851.8h65.3v2.6h-65.3zM1729.5 851.8h49v2.6h-49zM1680.5 854.4h16.4v2.6h-16.4zM1762.1 857h16.4v2.6h-16.4zM1647.9 857h65.3v2.6h-65.3zM1647.9 859.6h81.6v2.6h-81.6zM1745.8 859.6h32.7v5.2h-32.7zM1680.5 862.2h32.7v2.6h-32.7zM1647.9 862.2h16.3v5.2h-16.3zM1745.8 864.8h16.3v2.6h-16.3zM1680.5 864.8h16.4v2.6h-16.4zM1647.9 867.4h65.3v2.6h-65.3zM1745.8 867.4h32.7v5.2h-32.7zM1647.9 870h16.3v2.6h-16.3zM1680.5 870h32.7v2.6h-32.7zM1843.7 872.6h16.3v2.6h-16.3zM1696.9 872.6h48.9v2.6h-48.9zM1762.1 875.2h16.4v2.6h-16.4zM1664.2 875.2h81.6v2.6h-81.6zM1647.9 877.8h65.3v2.6h-65.3zM1745.8 877.8h32.7v2.6h-32.7zM1664.2 880.4h16.3v2.6h-16.3zM1827.4 880.4h16.3v2.6h-16.3zM1696.9 880.4h16.3v2.6h-16.3zM1778.5 880.4h16.3v2.6h-16.3zM1860 880.4h16.3v2.6h-16.3zM1729.5 880.4h16.3v2.6h-16.3zM1745.8 883h32.7v2.6h-32.7zM1647.9 883h49v5.2h-49zM1745.8 885.6h16.3v2.6h-16.3zM1680.5 888.2h16.4v2.6h-16.4zM1664.2 890.8h16.3v2.6h-16.3zM1778.5 890.8h16.3v2.6h-16.3zM1892.7 890.8h32.6v2.6h-32.6zM1713.2 890.8h32.6v2.6h-32.6zM1941.6 890.8h16.3v2.6h-16.3zM1843.7 893.4h16.3v2.6h-16.3zM1696.9 893.4h48.9v2.6h-48.9zM1647.9 893.4h16.3v2.6h-16.3zM1664.2 896h16.3v2.6h-16.3zM1696.9 896h16.3v2.6h-16.3zM1729.5 896h16.3v2.6h-16.3zM1843.7 896h32.6v2.6h-32.6zM1762.1 896h16.4v5.2h-16.4zM1843.7 898.6h16.3v2.6h-16.3zM1713.2 898.6h32.6v2.6h-32.6zM1647.9 898.6h32.6v2.6h-32.6zM1647.9 901.2h16.3v2.6h-16.3zM1729.5 901.2h49v2.6h-49zM1647.9 903.8h65.3v2.6h-65.3zM1762.1 903.8h16.4v2.6h-16.4zM1729.5 906.4h49v2.6h-49zM1647.9 906.4h49v2.6h-49zM1647.9 909h65.3v2.6h-65.3zM1647.9 911.6h97.9v2.6h-97.9zM1762.1 909h16.4v7.8h-16.4zM1696.9 914.2h48.9v2.6h-48.9zM1843.7 914.2h32.6v2.6h-32.6zM1647.9 916.8h16.3v2.6h-16.3zM1696.9 916.8h16.3v2.6h-16.3zM1729.5 916.8h49v5.2h-49zM1647.9 919.4h65.3v2.6h-65.3zM1745.8 922h16.3v2.6h-16.3zM1647.9 922h49v2.6h-49zM1696.9 924.6h16.3v2.6h-16.3zM1647.9 924.6h32.6v2.6h-32.6zM1729.5 924.6h16.3v2.6h-16.3zM1762.1 924.6h16.4v5.2h-16.4zM1647.9 927.2h16.3v2.6h-16.3zM1696.9 927.2h48.9v2.6h-48.9zM1843.7 927.2h16.3v5.2h-16.3zM1664.2 929.8h49v2.6h-49zM1745.8 929.8h32.7v2.6h-32.7zM1647.9 932.4h65.3v2.6h-65.3zM1762.1 932.4h16.4v2.6h-16.4zM1729.5 932.4h16.3v2.6h-16.3zM1664.2 935h49v2.6h-49zM1745.8 935h32.7v2.6h-32.7zM1745.8 937.6h16.3v2.6h-16.3zM1696.9 937.6h16.3v2.6h-16.3zM1647.9 937.6h16.3v5.2h-16.3zM1745.8 940.2h32.7v2.6h-32.7zM1680.5 940.2h32.7v2.6h-32.7zM1762.1 942.8h16.4v2.6h-16.4zM1843.7 942.8h16.3v2.6h-16.3zM1664.2 942.8h65.3v2.6h-65.3zM1647.9 945.4h65.3v2.6h-65.3zM1745.8 945.4h32.7v5.2h-32.7zM1664.2 948h16.3v2.6h-16.3zM1713.2 948h16.3v2.6h-16.3zM1647.9 950.6h65.3v2.6h-65.3zM1762.1 950.6h16.4v2.6h-16.4zM1647.9 953.2h130.6v2.6h-130.6zM1647.9 955.8h16.3v2.6h-16.3zM1647.9 958.4h130.6v2.6h-130.6zM1664.2 961h114.3v2.6h-114.3zM1664.2 966.2h32.7v2.6h-32.7zM1713.2 966.2h32.6v2.6h-32.6zM1843.7 968.8h16.3v2.6h-16.3zM1713.2 968.8h16.3v2.6h-16.3zM1843.7 971.4h32.6v2.6h-32.6zM1713.2 974h32.6v2.6h-32.6zM1680.5 974h16.4v2.6h-16.4zM1696.9 976.6h16.3v2.6h-16.3zM1729.5 976.6h16.3v2.6h-16.3zM1664.2 979.2h16.3v2.6h-16.3zM1794.8 981.8h16.3v2.6h-16.3zM1876.3 981.8h16.4v2.6h-16.4zM1582.7 981.8h16.3v2.6h-16.3zM1615.3 984.4h16.3v2.6h-16.3zM1566.3 984.4h16.4v2.6h-16.4zM1811.1 984.4h32.6v2.6h-32.6zM1990.6 987h16.3v2.6h-16.3zM1582.7 987h16.3v5.2h-16.3zM1778.5 984.4h16.3v10.4h-16.3zM1876.3 992.2h32.7v2.6h-32.7zM1974.2 992.2h32.7v2.6h-32.7zM1550 992.2h81.6v2.6h-81.6zM1843.7 992.2h16.3v2.6h-16.3zM1631.6 994.8h16.3v2.6h-16.3zM1843.7 994.8h49v2.6h-49zM1909 994.8h48.9v2.6h-48.9zM1566.3 994.8h16.4v2.6h-16.4zM1713.2 994.8h16.3v2.6h-16.3zM2006.9 994.8h16.3v2.6h-16.3zM1941.6 997.4h16.3v2.6h-16.3zM1599 997.4h16.3v2.6h-16.3zM1778.5 997.4h16.3v2.6h-16.3zM1990.6 997.4h16.3v2.6h-16.3zM1533.7 997.4h32.6v2.6h-32.6zM1909 997.4h16.3v5.3h-16.3zM1974.2 1000h16.4v2.7h-16.4zM1615.3 1000h16.3v2.7h-16.3zM1843.7 1000h16.3v2.7h-16.3zM1550 1000h32.7v2.7h-32.7zM1794.8 1002.7h16.3v2.6h-16.3zM1647.9 1002.7h16.3v2.6h-16.3zM1647.9 1005.3h32.6v2.6h-32.6zM1745.8 1002.7h16.3v7.8h-16.3zM1778.5 1007.9h65.2v2.6h-65.2zM1664.2 1007.9h65.3v2.6h-65.3zM1647.9 1010.5h65.3v2.6h-65.3zM1778.5 1010.5h16.3v2.6h-16.3zM1664.2 1013.1h163.2v2.6h-163.2zM1762.1 1015.7h16.4v2.6h-16.4zM1794.8 1015.7h32.6v2.6h-32.6zM1680.5 1015.7h49v2.6h-49zM1745.8 1018.3h16.3v2.6h-16.3zM1778.5 1018.3h16.3v2.6h-16.3zM1647.9 1018.3h65.3v5.2h-65.3zM1827.4 1020.9h16.3v2.6h-16.3zM1729.5 1020.9h81.6v2.6h-81.6zM1762.1 1023.5h16.4v2.6h-16.4zM1794.8 1023.5h65.2v2.6h-65.2zM1713.2 1023.5h32.6v2.6h-32.6zM1647.9 1026.1h65.3v2.6h-65.3zM1745.8 1026.1h16.3v5.2h-16.3zM1778.5 1026.1h16.3v5.2h-16.3zM1664.2 1028.7h32.7v2.6h-32.7zM1664.2 1031.3h16.3v2.6h-16.3zM1745.8 1033.9h16.3v2.6h-16.3zM1647.9 1033.9h32.6v2.6h-32.6zM1778.5 1033.9h16.3v2.6h-16.3zM1696.9 1033.9h32.6v2.6h-32.6zM1762.1 1036.5h16.4v2.6h-16.4zM1794.8 1036.5h48.9v2.6h-48.9zM1680.5 1036.5h65.3v2.6h-65.3zM1794.8 1039.1h16.3v2.6h-16.3zM1647.9 1039.1h130.6v2.6h-130.6zM1745.8 1041.7h16.3v2.6h-16.3zM1647.9 1041.7h32.6v5.2h-32.6zM1745.8 1046.9h16.3v2.6h-16.3zM1778.5 1046.9h16.3v2.6h-16.3zM1680.5 1046.9h49v2.6h-49zM1647.9 1046.9h16.3v5.2h-16.3zM1762.1 1049.5h32.7v2.6h-32.7zM1696.9 1049.5h48.9v2.6h-48.9zM1892.7 1049.5h16.3v5.2h-16.3zM1680.5 1052.1h98v2.6h-98zM1909 1054.7h16.3v2.6h-16.3zM1647.9 1054.7h16.3v2.6h-16.3zM1762.1 1054.7h16.4v2.6h-16.4zM1843.7 1054.7h16.3v2.6h-16.3zM1957.9 1057.3h16.3v2.6h-16.3zM1860 1057.3h81.6v2.6h-81.6zM1713.2 1057.3h32.6v5.2h-32.6zM1647.9 1059.9h16.3v2.6h-16.3zM1843.7 1059.9h65.3v2.6h-65.3zM1762.1 1062.5h16.4v2.6h-16.4zM1843.7 1062.5h16.3v2.6h-16.3zM1876.3 1062.5h32.7v2.6h-32.7zM1957.9 1062.5h16.3v5.2h-16.3zM1909 1065.1h16.3v2.6h-16.3zM1713.2 1065.1h32.6v2.6h-32.6zM1860 1067.7h65.3v2.6h-65.3zM2006.9 1067.7h16.3v2.6h-16.3zM1713.2 1067.7h16.3v5.2h-16.3zM1909 1070.3h65.2v2.6h-65.2zM1876.3 1070.3h16.4v2.6h-16.4zM1990.6 1070.3h32.6v2.6h-32.6zM1843.7 1070.3h16.3v2.6h-16.3zM1599 1070.3h16.3v5.2h-16.3zM1941.6 1072.9h81.6v2.6h-81.6zM1794.8 1072.9h48.9v2.6h-48.9zM1909 1075.5h16.3v2.6h-16.3zM2006.9 1075.5h16.3v2.6h-16.3zM1876.3 1075.5h16.4v2.6h-16.4zM1941.6 1075.5h32.6v2.6h-32.6zM1892.7 1078.1h32.6v2.6h-32.6zM1941.6 1078.1h16.3v2.6h-16.3zM1843.7 1078.1h16.3v2.6h-16.3zM1860 1080.7h16.3v2.6h-16.3zM1745.8 1080.7h32.7v2.6h-32.7zM1647.9 1080.7h16.3v2.6h-16.3zM1892.7 1080.7h16.3v2.6h-16.3zM1599 1083.3h16.3v2.6h-16.3zM1860 1083.3h114.2v2.6h-114.2zM1778.5 1083.3h16.3v2.6h-16.3zM1860 1085.9h16.3v2.6h-16.3zM1647.9 1085.9h16.3v2.6h-16.3zM1680.5 1085.9h32.7v2.6h-32.7zM1729.5 1085.9h49v2.6h-49zM1713.2 1088.5h48.9v2.6h-48.9zM1843.7 1088.5h32.6v2.6h-32.6zM1664.2 1088.5h32.7v2.6h-32.7zM1892.7 1088.5h16.3v2.6h-16.3zM1876.3 1091.1h16.4v2.6h-16.4zM1827.4 1091.1h16.3v2.6h-16.3zM1941.6 1091.1h49v2.6h-49zM1599 1091.1h16.3v2.6h-16.3zM1909 1091.1h16.3v2.6h-16.3zM2006.9 1091.1h16.3v2.6h-16.3zM1778.5 1093.7h16.3v2.6h-16.3zM1909 1093.7h65.2v2.6h-65.2zM1582.7 1093.7h32.6v2.6h-32.6zM1990.6 1093.7h32.6v2.6h-32.6zM1599 1096.3h16.3v2.6h-16.3zM1843.7 1096.3h49v2.6h-49zM2006.9 1096.3h16.3v2.6h-16.3zM1941.6 1096.3h32.6v2.6h-32.6zM1860 1098.9h16.3v2.6h-16.3zM1713.2 1098.9h48.9v2.6h-48.9zM1647.9 1098.9h49v2.6h-49zM1941.6 1101.5h32.6v2.6h-32.6zM1892.7 1098.9h16.3v7.8h-16.3zM1647.9 1101.5h16.3v5.2h-16.3zM1713.2 1101.5h32.6v5.2h-32.6zM1843.7 1101.5h32.6v5.2h-32.6zM1941.6 1104.1h16.3v2.6h-16.3zM2006.9 1104.1h16.3v5.2h-16.3zM1843.7 1106.7h16.3v2.6h-16.3zM1909 1106.7h16.3v2.6h-16.3zM1941.6 1106.7h32.6v2.6h-32.6zM1582.7 1106.7h32.6v5.2h-32.6zM1876.3 1109.3h16.4v2.6h-16.4zM1794.8 1109.3h48.9v2.6h-48.9zM1990.6 1109.3h16.3v2.6h-16.3zM1925.3 1109.3h16.3v2.6h-16.3zM1827.4 1111.9h97.9v2.6h-97.9zM2006.9 1111.9h16.3v2.6h-16.3zM1941.6 1111.9h32.6v2.6h-32.6zM1713.2 1114.5h32.6v2.6h-32.6zM1860 1114.5h16.3v5.2h-16.3zM1892.7 1114.5h16.3v5.2h-16.3zM1941.6 1117.1h16.3v2.6h-16.3zM1680.5 1117.1h16.4v2.6h-16.4zM1647.9 1117.1h16.3v2.6h-16.3zM1713.2 1117.1h16.3v5.2h-16.3zM1892.7 1119.7h32.6v2.6h-32.6zM1843.7 1119.7h32.6v2.6h-32.6zM1941.6 1119.7h32.6v5.2h-32.6zM1876.3 1122.3h32.7v2.6h-32.7zM1713.2 1122.3h32.6v2.6h-32.6zM2006.9 1122.3h16.3v2.6h-16.3zM1680.5 1124.9h98v2.6h-98zM1990.6 1127.5h16.3v2.6h-16.3zM1941.6 1127.5h32.6v2.6h-32.6zM1860 1127.5h16.3v2.6h-16.3zM1892.7 1124.9h16.3v7.8h-16.3zM1957.9 1130.1h16.3v2.6h-16.3zM1664.2 1130.1h81.6v2.6h-81.6zM1843.7 1132.7h49v2.6h-49zM1909 1132.7h16.3v2.6h-16.3zM1974.2 1132.7h49v2.6h-49zM1778.5 1132.7h48.9v2.6h-48.9zM1582.7 1132.7h16.3v2.6h-16.3zM1941.6 1132.7h16.3v2.6h-16.3zM1794.8 1135.3h16.3v2.6h-16.3zM1876.3 1135.3h97.9v2.6h-97.9zM1990.6 1135.3h32.6v2.6h-32.6zM1582.7 1135.3h32.6v5.2h-32.6zM1843.7 1135.3h16.3v5.2h-16.3zM1974.2 1137.9h49v2.6h-49zM1778.5 1137.9h16.3v2.6h-16.3zM1909 1137.9h32.6v2.6h-32.6zM1713.2 1140.5h32.6v2.6h-32.6zM1941.6 1140.5h32.6v2.6h-32.6zM1892.7 1140.5h16.3v2.6h-16.3zM1843.7 1140.5h32.6v2.6h-32.6zM1909 1143.1h81.6v2.6h-81.6zM1843.7 1143.1h49v2.6h-49zM2006.9 1143.1h16.3v2.6h-16.3zM1582.7 1143.1h32.6v2.6h-32.6zM1713.2 1145.7h16.3v2.6h-16.3zM1843.7 1145.7h65.3v2.6h-65.3zM1990.6 1145.7h32.6v2.6h-32.6zM1941.6 1145.7h32.6v2.6h-32.6zM1860 1148.3h65.3v2.6h-65.3zM1957.9 1148.3h16.3v2.6h-16.3zM1729.5 1148.3h16.3v2.6h-16.3zM1599 1148.3h16.3v5.2h-16.3zM1876.3 1150.9h16.4v2.6h-16.4zM1713.2 1150.9h32.6v2.6h-32.6zM1941.6 1150.9h49v2.6h-49zM1843.7 1150.9h16.3v2.6h-16.3zM1909 1150.9h16.3v2.6h-16.3zM1664.2 1153.5h16.3v2.6h-16.3zM1892.7 1153.5h16.3v2.6h-16.3zM1729.5 1153.5h16.3v2.6h-16.3zM1957.9 1153.5h16.3v5.2h-16.3zM1762.1 1156.1h16.4v2.6h-16.4zM1713.2 1156.1h32.6v2.6h-32.6zM1811.1 1158.7h16.3v2.6h-16.3zM1941.6 1158.7h16.3v2.6h-16.3zM1974.2 1158.7h49v2.6h-49zM1582.7 1158.7h32.6v2.6h-32.6zM1778.5 1158.7h16.3v2.6h-16.3zM1876.3 1158.7h49v5.2h-49zM1843.7 1158.7h16.3v5.2h-16.3zM1599 1161.3h16.3v2.6h-16.3zM1941.6 1161.3h32.6v2.6h-32.6zM1925.3 1163.9h97.9v2.6h-97.9zM1778.5 1163.9h16.3v2.6h-16.3zM1876.3 1163.9h32.7v2.6h-32.7zM1582.7 1163.9h32.6v2.6h-32.6zM1974.2 1166.5h16.4v2.6h-16.4zM1876.3 1166.5h16.4v2.6h-16.4zM1599 1166.5h16.3v2.6h-16.3zM1909 1166.5h48.9v2.6h-48.9zM1827.4 1166.5h32.6v2.6h-32.6zM2006.9 1166.5h16.3v2.6h-16.3zM1696.9 1169.1h65.2v2.6h-65.2zM1957.9 1169.1h16.3v5.2h-16.3zM1713.2 1171.7h48.9v2.6h-48.9zM1892.7 1171.7h16.3v2.6h-16.3z"/><path fill="#7ACF58" d="M1680.5 136.6h49v2.6h-49zM1778.5 136.6h16.3v5.2h-16.3zM1647.9 136.6h16.3v5.2h-16.3zM1811.1 139.2h32.6v2.6h-32.6zM1745.8 139.2h16.3v2.6h-16.3zM1794.8 141.8h48.9v2.6h-48.9zM1778.5 144.4h48.9v2.6h-48.9zM1794.8 147h48.9v2.6h-48.9zM1778.5 149.6h48.9v2.6h-48.9zM1647.9 149.6h16.3v2.6h-16.3zM1680.5 149.6h32.7v2.6h-32.7zM1745.8 149.6h16.3v2.6h-16.3zM1680.5 152.2h98v2.6h-98zM1729.5 154.8h32.6v2.6h-32.6zM1811.1 154.8h32.6v2.6h-32.6zM1778.5 154.8h16.3v2.6h-16.3zM1794.8 157.4h48.9v2.6h-48.9zM1778.5 160h16.3v2.6h-16.3zM1811.1 160h16.3v2.6h-16.3zM1647.9 160h16.3v5.2h-16.3zM1680.5 160h32.7v5.2h-32.7zM1778.5 162.6h48.9v2.6h-48.9zM1745.8 157.4h16.3v10.4h-16.3zM1680.5 165.2h16.4v2.6h-16.4zM1794.8 165.2h48.9v2.6h-48.9zM1680.5 170.4h16.4v2.6h-16.4zM1647.9 170.4h16.3v2.6h-16.3zM1745.8 170.4h16.3v2.6h-16.3zM1794.8 170.4h48.9v2.6h-48.9zM1745.8 173h32.7v2.6h-32.7zM1647.9 173h65.3v2.6h-65.3zM1811.1 173h32.6v2.6h-32.6zM1647.9 178.2h16.3v2.6h-16.3zM1680.5 206.8h16.4v2.6h-16.4zM1647.9 209.4h16.3v2.6h-16.3zM1647.9 214.6h16.3v2.6h-16.3zM1680.5 214.6h16.4v2.6h-16.4zM1647.9 222.4h16.3v2.6h-16.3zM1696.9 222.4h16.3v2.6h-16.3zM1696.9 227.6h16.3v2.6h-16.3zM1647.9 230.2h16.3v2.6h-16.3zM1745.8 230.2h16.3v2.6h-16.3zM1647.9 238h16.3v2.6h-16.3zM1745.8 248.4h16.3v2.6h-16.3zM1647.9 261.4h16.3v2.6h-16.3zM1745.8 261.4h16.3v2.6h-16.3zM1647.9 482.5h16.3v5.2h-16.3zM1745.8 498.1h32.7v2.6h-32.7zM1647.9 498.1h16.3v2.6h-16.3zM1647.9 513.7h16.3v2.6h-16.3zM1647.9 518.9h16.3v2.6h-16.3zM1680.5 531.9h16.4v2.6h-16.4zM1647.9 531.9h16.3v2.6h-16.3zM1647.9 537.1h16.3v2.6h-16.3zM1745.8 544.9h32.7v2.6h-32.7zM1664.2 544.9h32.7v2.6h-32.7zM1647.9 547.5h16.3v2.6h-16.3zM1647.9 552.7h16.3v5.2h-16.3zM1680.5 555.3h16.4v2.6h-16.4zM1647.9 591.7h16.3v2.6h-16.3zM1892.7 638.5h81.5v2.6h-81.5zM1533.7 638.5h16.3v2.6h-16.3zM1957.9 641.1h32.7v2.6h-32.7zM2006.9 641.1h16.3v2.6h-16.3zM1843.7 641.1h32.6v5.2h-32.6zM1762.1 643.7h16.4v2.6h-16.4zM1892.7 643.7h16.3v2.6h-16.3zM1925.3 643.7h32.6v2.6h-32.6zM1974.2 643.7h49v2.6h-49zM1533.7 643.7h16.3v5.2h-16.3zM1843.7 646.3h16.3v2.6h-16.3zM1925.3 646.3h16.3v2.6h-16.3zM1957.9 646.3h16.3v2.6h-16.3zM1713.2 646.3h16.3v2.6h-16.3zM1876.3 646.3h32.7v2.6h-32.7zM1745.8 646.3h16.3v2.6h-16.3zM2006.9 646.3h16.3v5.2h-16.3zM1696.9 648.9h16.3v2.6h-16.3zM1892.7 648.9h16.3v2.6h-16.3zM1729.5 648.9h16.3v2.6h-16.3zM1843.7 648.9h32.6v2.6h-32.6zM1974.2 648.9h16.4v2.6h-16.4zM1647.9 651.5h16.3v2.6h-16.3zM1680.5 651.5h16.4v2.6h-16.4zM1745.8 651.5h32.7v2.6h-32.7zM1762.1 654.1h16.4v2.7h-16.4zM1957.9 654.1h16.3v2.7h-16.3zM1696.9 654.1h16.3v2.7h-16.3zM1892.7 654.1h16.3v2.7h-16.3zM1990.6 654.1h16.3v2.7h-16.3zM1647.9 656.8h16.3v2.6h-16.3zM1745.8 656.8h32.7v2.6h-32.7zM1860 656.8h16.3v2.6h-16.3zM1696.9 656.8h32.6v2.6h-32.6zM1762.1 659.4h16.4v2.6h-16.4zM1843.7 659.4h16.3v2.6h-16.3zM1680.5 659.4h32.7v2.6h-32.7zM1647.9 662h16.3v2.6h-16.3zM1745.8 662h16.3v2.6h-16.3zM1680.5 662h49v2.6h-49zM1843.7 662h32.6v5.2h-32.6zM1647.9 664.6h32.6v2.6h-32.6zM1696.9 664.6h32.6v2.6h-32.6zM1745.8 664.6h32.7v5.2h-32.7zM1647.9 667.2h16.3v2.6h-16.3zM1860 667.2h16.3v2.6h-16.3zM1680.5 667.2h49v2.6h-49zM1680.5 675h16.4v2.6h-16.4zM1745.8 675h32.7v2.6h-32.7zM1713.2 675h16.3v2.6h-16.3zM1680.5 682.8h16.4v2.6h-16.4zM1647.9 682.8h16.3v2.6h-16.3zM1680.5 690.6h16.4v5.2h-16.4zM1680.5 698.4h32.7v2.6h-32.7zM1647.9 706.2h16.3v2.6h-16.3zM1647.9 714h16.3v2.6h-16.3zM1680.5 714h16.4v2.6h-16.4zM1647.9 742.6h16.3v2.6h-16.3zM1729.5 742.6h49v2.6h-49zM1680.5 742.6h32.7v2.6h-32.7zM1680.5 747.8h16.4v2.6h-16.4zM1647.9 771.2h16.3v2.6h-16.3zM1647.9 789.4h32.6v2.6h-32.6zM1713.2 789.4h48.9v2.6h-48.9zM1680.5 792h16.4v2.6h-16.4zM1647.9 797.2h16.3v2.6h-16.3zM1647.9 799.8h65.3v2.6h-65.3zM1745.8 799.8h16.3v5.2h-16.3zM1713.2 802.4h16.3v2.6h-16.3zM1680.5 805h16.4v5.2h-16.4zM1680.5 812.8h32.7v2.6h-32.7zM1647.9 805h16.3v13h-16.3zM1745.8 812.8h16.3v7.8h-16.3zM1680.5 823.2h16.4v2.6h-16.4zM1647.9 823.2h16.3v2.6h-16.3zM1745.8 823.2h16.3v2.6h-16.3zM1647.9 828.4h16.3v2.6h-16.3zM1680.5 828.4h16.4v2.6h-16.4zM1745.8 833.6h16.3v2.6h-16.3zM1713.2 841.4h16.3v2.6h-16.3zM1745.8 841.4h16.3v2.6h-16.3zM1647.9 841.4h16.3v5.2h-16.3zM1762.1 844h16.4v2.6h-16.4zM1680.5 844h32.7v2.6h-32.7zM1647.9 849.2h16.3v2.6h-16.3zM1680.5 849.2h16.4v2.6h-16.4zM1745.8 857h16.3v2.6h-16.3zM1745.8 872.6h32.7v2.6h-32.7zM1647.9 872.6h49v2.6h-49zM1647.9 875.2h16.3v2.6h-16.3zM1745.8 875.2h16.3v2.6h-16.3zM1680.5 880.4h16.4v2.6h-16.4zM1745.8 880.4h32.7v2.6h-32.7zM1647.9 880.4h16.3v2.6h-16.3zM1713.2 880.4h16.3v2.6h-16.3zM1647.9 890.8h16.3v2.6h-16.3zM1680.5 890.8h32.7v2.6h-32.7zM1745.8 890.8h32.7v5.2h-32.7zM1664.2 893.4h32.7v2.6h-32.7zM1680.5 896h16.4v2.6h-16.4zM1647.9 896h16.3v2.6h-16.3zM1745.8 896h16.3v5.2h-16.3zM1680.5 898.6h32.7v2.6h-32.7zM1680.5 901.2h16.4v2.6h-16.4zM1745.8 903.8h16.3v2.6h-16.3zM1745.8 909h16.3v7.8h-16.3zM1647.9 914.2h49v2.6h-49zM1664.2 916.8h32.7v2.6h-32.7zM1745.8 924.6h16.3v5.2h-16.3zM1664.2 927.2h32.7v2.6h-32.7zM1647.9 929.8h16.3v2.6h-16.3zM1745.8 932.4h16.3v2.6h-16.3zM1647.9 942.8h16.3v2.6h-16.3zM1729.5 942.8h32.6v2.6h-32.6zM1647.9 961h16.3v2.6h-16.3zM1647.9 963.6h130.6v2.6h-130.6zM1647.9 966.2h16.3v2.6h-16.3zM1696.9 966.2h16.3v2.6h-16.3zM1745.8 966.2h32.7v2.6h-32.7zM1664.2 968.8h32.7v2.6h-32.7zM1729.5 968.8h32.6v2.6h-32.6zM1713.2 971.4h32.6v2.6h-32.6zM1696.9 974h16.3v2.6h-16.3zM1647.9 974h32.6v2.6h-32.6zM1745.8 974h32.7v5.2h-32.7zM1713.2 976.6h16.3v2.6h-16.3zM1647.9 976.6h49v2.6h-49zM1680.5 979.2h98v2.6h-98zM1647.9 979.2h16.3v2.6h-16.3zM1778.5 981.8h16.3v2.6h-16.3zM1941.6 981.8h65.3v2.6h-65.3zM1615.3 981.8h16.3v2.6h-16.3zM1811.1 981.8h16.3v2.6h-16.3zM1909 981.8h16.3v5.2h-16.3zM1860 981.8h16.3v5.2h-16.3zM1533.7 981.8h32.6v5.2h-32.6zM1599 984.4h16.3v2.6h-16.3zM1957.9 984.4h49v2.6h-49zM1729.5 984.4h16.3v2.6h-16.3zM1794.8 984.4h16.3v2.6h-16.3zM1941.6 987h49v2.6h-49zM1794.8 987h81.5v2.6h-81.5zM1892.7 989.6h32.6v2.6h-32.6zM1843.7 989.6h16.3v2.6h-16.3zM1794.8 989.6h32.6v2.6h-32.6zM1615.3 989.6h32.6v2.6h-32.6zM1957.9 989.6h16.3v2.6h-16.3zM1533.7 989.6h32.6v2.6h-32.6zM1762.1 992.2h16.4v2.6h-16.4zM1631.6 992.2h16.3v2.6h-16.3zM1696.9 992.2h32.6v2.6h-32.6zM1533.7 992.2h16.3v2.6h-16.3zM1860 992.2h16.3v2.6h-16.3zM1778.5 994.8h16.3v2.6h-16.3zM1729.5 994.8h32.6v2.6h-32.6zM1599 994.8h32.6v2.6h-32.6zM1533.7 994.8h32.6v2.6h-32.6zM1957.9 994.8h49v2.6h-49zM1680.5 994.8h32.7v2.6h-32.7zM1713.2 997.4h32.6v2.6h-32.6zM1647.9 997.4h32.6v2.6h-32.6zM1566.3 997.4h16.4v2.6h-16.4zM1925.3 997.4h16.3v2.6h-16.3zM1957.9 997.4h16.3v2.6h-16.3zM2006.9 997.4h16.3v2.6h-16.3zM1827.4 1000h16.3v2.7h-16.3zM1533.7 1000h16.3v2.7h-16.3zM1778.5 1000h16.3v2.7h-16.3zM1990.6 1000h16.3v2.7h-16.3zM1860 1000h16.3v2.7h-16.3zM1941.6 1000h32.6v2.7h-32.6zM1713.2 1000h16.3v2.7h-16.3zM1582.7 1000h16.3v2.7h-16.3zM1892.7 1000h16.3v2.7h-16.3zM1745.8 1000h16.3v2.7h-16.3zM1762.1 1007.9h16.4v2.6h-16.4zM1647.9 1007.9h16.3v2.6h-16.3zM1729.5 1007.9h16.3v2.6h-16.3zM1647.9 1013.1h16.3v2.6h-16.3zM1827.4 1015.7h16.3v2.6h-16.3zM1647.9 1015.7h32.6v2.6h-32.6zM1778.5 1015.7h16.3v2.6h-16.3zM1729.5 1015.7h32.6v2.6h-32.6zM1745.8 1023.5h16.3v2.6h-16.3zM1647.9 1023.5h65.3v2.6h-65.3zM1778.5 1023.5h16.3v2.6h-16.3zM1745.8 1036.5h16.3v2.6h-16.3zM1647.9 1036.5h32.6v2.6h-32.6zM1778.5 1036.5h16.3v5.2h-16.3zM1664.2 1046.9h16.3v2.6h-16.3zM1664.2 1049.5h32.7v2.6h-32.7zM1745.8 1049.5h16.3v2.6h-16.3zM1647.9 1052.1h32.6v2.6h-32.6zM1860 1054.7h16.3v2.6h-16.3zM1664.2 1054.7h97.9v2.6h-97.9zM1843.7 1057.3h16.3v2.6h-16.3zM1647.9 1057.3h65.3v2.6h-65.3zM1745.8 1057.3h32.7v5.2h-32.7zM1664.2 1059.9h49v2.6h-49zM1647.9 1062.5h114.2v2.6h-114.2zM1860 1062.5h16.3v2.6h-16.3zM1664.2 1065.1h49v2.6h-49zM1745.8 1065.1h32.7v2.6h-32.7zM1843.7 1065.1h32.6v2.6h-32.6zM1729.5 1067.7h49v2.6h-49zM1843.7 1067.7h16.3v2.6h-16.3zM1647.9 1067.7h65.3v2.6h-65.3zM1762.1 1070.3h16.4v2.6h-16.4zM1696.9 1070.3h16.3v2.6h-16.3zM1860 1070.3h16.3v2.6h-16.3zM1647.9 1070.3h16.3v2.6h-16.3zM1892.7 1070.3h16.3v2.6h-16.3zM1729.5 1070.3h16.3v2.6h-16.3zM1843.7 1072.9h97.9v2.6h-97.9zM1647.9 1075.5h16.3v2.6h-16.3zM1892.7 1075.5h16.3v2.6h-16.3zM1680.5 1075.5h98v2.6h-98zM1843.7 1075.5h32.6v2.6h-32.6zM1647.9 1078.1h130.6v2.6h-130.6zM1860 1078.1h16.3v2.6h-16.3zM1664.2 1080.7h49v2.6h-49zM1713.2 1083.3h65.3v2.6h-65.3zM1647.9 1083.3h32.6v2.6h-32.6zM1843.7 1083.3h16.3v2.6h-16.3zM1664.2 1085.9h16.3v2.6h-16.3zM1647.9 1088.5h16.3v2.6h-16.3zM1762.1 1088.5h16.4v2.6h-16.4zM1696.9 1088.5h16.3v2.6h-16.3zM1713.2 1091.1h16.3v2.6h-16.3zM1892.7 1091.1h16.3v2.6h-16.3zM1843.7 1091.1h32.6v2.6h-32.6zM1843.7 1093.7h65.3v2.6h-65.3zM1680.5 1093.7h65.3v2.6h-65.3zM1713.2 1096.3h65.3v2.6h-65.3zM1892.7 1096.3h16.3v2.6h-16.3zM1647.9 1096.3h49v2.6h-49zM1762.1 1098.9h16.4v2.6h-16.4zM1696.9 1098.9h16.3v2.6h-16.3zM1745.8 1101.5h32.7v5.2h-32.7zM1664.2 1101.5h49v5.2h-49zM1860 1106.7h16.3v2.6h-16.3zM1892.7 1106.7h16.3v2.6h-16.3zM1647.9 1106.7h114.2v2.6h-114.2zM1941.6 1109.3h49v2.6h-49zM1909 1109.3h16.3v2.6h-16.3zM2006.9 1109.3h16.3v2.6h-16.3zM1729.5 1109.3h16.3v2.6h-16.3zM1843.7 1109.3h32.6v2.6h-32.6zM1647.9 1111.9h16.3v2.6h-16.3zM1696.9 1111.9h81.6v2.6h-81.6zM1647.9 1114.5h65.3v2.6h-65.3zM1745.8 1114.5h32.7v5.2h-32.7zM1696.9 1117.1h16.3v2.6h-16.3zM1664.2 1117.1h16.3v2.6h-16.3zM1729.5 1119.7h49v2.6h-49zM1647.9 1119.7h65.3v5.2h-65.3zM1745.8 1122.3h32.7v2.6h-32.7zM1647.9 1124.9h32.6v5.2h-32.6zM1696.9 1127.5h81.6v2.6h-81.6zM1647.9 1130.1h16.3v2.6h-16.3zM1745.8 1130.1h32.7v2.6h-32.7zM1892.7 1132.7h16.3v2.6h-16.3zM1696.9 1132.7h48.9v2.6h-48.9zM1957.9 1132.7h16.3v2.6h-16.3zM1664.2 1132.7h16.3v2.6h-16.3zM1729.5 1135.3h16.3v2.6h-16.3zM1860 1135.3h16.3v2.6h-16.3zM1713.2 1137.9h32.6v2.6h-32.6zM1941.6 1137.9h32.6v2.6h-32.6zM1860 1137.9h49v2.6h-49zM1762.1 1140.5h16.4v2.6h-16.4zM1696.9 1140.5h16.3v2.6h-16.3zM1647.9 1140.5h32.6v2.6h-32.6zM1713.2 1143.1h65.3v2.6h-65.3zM1892.7 1143.1h16.3v2.6h-16.3zM1794.8 1143.1h16.3v2.6h-16.3zM1729.5 1145.7h16.3v2.6h-16.3zM1647.9 1145.7h32.6v5.2h-32.6zM1696.9 1148.3h32.6v2.6h-32.6zM1696.9 1150.9h16.3v2.6h-16.3zM1664.2 1150.9h16.3v2.6h-16.3zM1745.8 1148.3h32.7v7.8h-32.7zM1860 1153.5h16.3v2.6h-16.3zM1696.9 1153.5h32.6v2.6h-32.6zM1647.9 1153.5h16.3v2.6h-16.3zM1745.8 1156.1h16.3v2.6h-16.3zM1647.9 1156.1h65.3v2.6h-65.3zM1729.5 1158.7h32.6v2.6h-32.6zM1957.9 1158.7h16.3v2.6h-16.3zM1664.2 1161.3h32.7v2.6h-32.7zM1713.2 1161.3h65.3v2.6h-65.3zM1860 1161.3h16.3v2.6h-16.3zM1696.9 1163.9h65.2v2.6h-65.2zM1664.2 1163.9h16.3v2.6h-16.3zM1957.9 1166.5h16.3v2.6h-16.3zM1892.7 1166.5h16.3v2.6h-16.3zM1713.2 1166.5h48.9v2.6h-48.9zM1664.2 1169.1h32.7v2.6h-32.7zM1762.1 1169.1h16.4v5.2h-16.4zM1696.9 1171.7h16.3v2.6h-16.3zM1647.9 1171.7h32.6v2.6h-32.6z"/><path fill="#9AD546" d="M1794.8 136.6h48.9v2.6h-48.9zM1794.8 139.2h16.3v2.6h-16.3zM1827.4 144.4h16.3v2.6h-16.3zM1827.4 149.6h16.3v2.6h-16.3zM1778.5 152.2h65.2v2.6h-65.2zM1647.9 152.2h16.3v2.6h-16.3zM1794.8 154.8h16.3v2.6h-16.3zM1794.8 160h16.3v2.6h-16.3zM1827.4 160h16.3v5.2h-16.3zM1794.8 173h16.3v2.6h-16.3zM1647.9 544.9h16.3v2.6h-16.3zM1729.5 638.5h49v2.6h-49zM1843.7 638.5h16.3v2.6h-16.3zM1990.6 638.5h16.3v2.6h-16.3zM1680.5 641.1h16.4v2.6h-16.4zM1729.5 641.1h32.6v2.6h-32.6zM1909 641.1h16.3v2.6h-16.3zM1713.2 643.7h48.9v2.6h-48.9zM1860 646.3h16.3v2.6h-16.3zM1729.5 646.3h16.3v2.6h-16.3zM1941.6 646.3h16.3v2.6h-16.3zM1762.1 646.3h16.4v2.6h-16.4zM1696.9 646.3h16.3v2.6h-16.3zM1909 646.3h16.3v2.6h-16.3zM1745.8 648.9h32.7v2.6h-32.7zM1713.2 648.9h16.3v2.6h-16.3zM1647.9 648.9h49v2.6h-49zM1696.9 651.5h48.9v2.6h-48.9zM1664.2 651.5h16.3v2.6h-16.3zM1647.9 654.1h49v2.7h-49zM1713.2 654.1h48.9v2.7h-48.9zM1680.5 656.8h16.4v2.6h-16.4zM1680.5 664.6h16.4v2.6h-16.4zM1680.5 841.4h16.4v2.6h-16.4zM1647.9 968.8h16.3v2.6h-16.3zM1762.1 968.8h16.4v2.6h-16.4zM1696.9 968.8h16.3v2.6h-16.3zM1647.9 971.4h65.3v2.6h-65.3zM1745.8 971.4h32.7v2.6h-32.7zM1680.5 981.8h16.4v2.6h-16.4zM1925.3 981.8h16.3v2.6h-16.3zM1892.7 981.8h16.3v2.6h-16.3zM1566.3 981.8h16.4v2.6h-16.4zM1631.6 981.8h16.3v5.2h-16.3zM1843.7 981.8h16.3v5.2h-16.3zM1745.8 984.4h32.7v2.6h-32.7zM1876.3 984.4h32.7v2.6h-32.7zM1582.7 984.4h16.3v2.6h-16.3zM1925.3 984.4h32.6v2.6h-32.6zM2006.9 981.8h16.3v7.8h-16.3zM1745.8 987h16.3v2.6h-16.3zM1533.7 987h49v2.6h-49zM1599 987h65.2v2.6h-65.2zM1713.2 987h16.3v2.6h-16.3zM1876.3 987h65.3v2.6h-65.3zM1696.9 989.6h32.6v2.6h-32.6zM1925.3 989.6h32.6v2.6h-32.6zM1860 989.6h32.7v2.6h-32.7zM1974.2 989.6h49v2.6h-49zM1827.4 989.6h16.3v2.6h-16.3zM1599 989.6h16.3v2.6h-16.3zM1566.3 989.6h16.4v2.6h-16.4zM1729.5 992.2h32.6v2.6h-32.6zM1664.2 992.2h32.7v2.6h-32.7zM1794.8 994.8h16.3v2.6h-16.3zM1664.2 994.8h16.3v2.6h-16.3zM1762.1 994.8h16.4v2.6h-16.4zM1827.4 994.8h16.3v5.2h-16.3zM1745.8 997.4h32.7v2.6h-32.7zM1680.5 997.4h32.7v2.6h-32.7zM1615.3 997.4h16.3v2.6h-16.3zM1925.3 1000h16.3v2.7h-16.3zM1729.5 1000h16.3v2.7h-16.3zM1762.1 1000h16.4v2.7h-16.4zM1696.9 1000h16.3v2.7h-16.3zM1647.9 1000h32.6v2.7h-32.6zM1647.9 1065.1h16.3v2.6h-16.3zM1745.8 1070.3h16.3v2.6h-16.3zM1664.2 1070.3h32.7v2.6h-32.7zM1647.9 1072.9h32.6v2.6h-32.6zM1696.9 1072.9h81.6v2.6h-81.6zM1664.2 1075.5h16.3v2.6h-16.3zM1680.5 1083.3h32.7v2.6h-32.7zM1729.5 1091.1h49v2.6h-49zM1647.9 1091.1h65.3v2.6h-65.3zM1647.9 1093.7h32.6v2.6h-32.6zM1745.8 1093.7h32.7v2.6h-32.7zM1696.9 1096.3h16.3v2.6h-16.3zM1762.1 1106.7h16.4v2.6h-16.4zM1745.8 1109.3h32.7v2.6h-32.7zM1696.9 1109.3h32.6v2.6h-32.6zM1892.7 1109.3h16.3v2.6h-16.3zM1647.9 1109.3h32.6v2.6h-32.6zM1664.2 1111.9h32.7v2.6h-32.7zM1680.5 1127.5h16.4v2.6h-16.4zM1680.5 1132.7h16.4v2.6h-16.4zM1647.9 1132.7h16.3v2.6h-16.3zM1647.9 1135.3h32.6v2.6h-32.6zM1696.9 1135.3h32.6v2.6h-32.6zM1745.8 1132.7h32.7v7.8h-32.7zM1647.9 1137.9h65.3v2.6h-65.3zM1680.5 1140.5h16.4v2.6h-16.4zM1794.8 1140.5h16.3v2.6h-16.3zM1745.8 1140.5h16.3v2.6h-16.3zM1647.9 1143.1h65.3v2.6h-65.3zM1745.8 1145.7h32.7v2.6h-32.7zM1794.8 1145.7h16.3v2.6h-16.3zM1680.5 1145.7h32.7v2.6h-32.7zM1811.1 1148.3h16.3v5.2h-16.3zM1860 1150.9h16.3v2.6h-16.3zM1647.9 1150.9h16.3v2.6h-16.3zM1680.5 1148.3h16.4v7.8h-16.4zM1794.8 1153.5h16.3v2.6h-16.3zM1860 1156.1h16.3v5.2h-16.3zM1647.9 1158.7h81.6v2.6h-81.6zM1762.1 1158.7h16.4v2.6h-16.4zM1696.9 1161.3h16.3v2.6h-16.3zM1647.9 1161.3h16.3v5.2h-16.3zM1680.5 1163.9h16.4v2.6h-16.4zM1762.1 1163.9h16.4v5.2h-16.4zM1664.2 1166.5h16.3v2.6h-16.3zM1696.9 1166.5h16.3v2.6h-16.3zM1647.9 1169.1h16.3v2.6h-16.3zM1860 1163.9h16.3v10.4h-16.3zM1680.5 1171.7h16.4v2.6h-16.4z"/><path fill="#BCDB33" d="M1713.2 638.5h16.3v2.6h-16.3zM1680.5 638.5h16.4v2.6h-16.4zM1762.1 641.1h16.4v2.6h-16.4zM1647.9 641.1h32.6v2.6h-32.6zM1696.9 641.1h32.6v2.6h-32.6zM1664.2 643.7h49v2.6h-49zM1647.9 646.3h32.6v2.6h-32.6zM1664.2 981.8h16.3v2.6h-16.3zM1696.9 981.8h81.6v2.6h-81.6zM1599 981.8h16.3v2.6h-16.3zM1647.9 984.4h81.6v2.6h-81.6zM1664.2 987h49v2.6h-49zM1729.5 987h16.3v5.2h-16.3zM1762.1 987h16.4v5.2h-16.4zM1647.9 989.6h49v2.6h-49zM1811.1 992.2h32.6v2.6h-32.6zM1647.9 992.2h16.3v5.2h-16.3zM1811.1 994.8h16.3v2.6h-16.3zM1794.8 997.4h32.6v5.3h-32.6zM1680.5 1000h16.4v2.7h-16.4zM1680.5 1072.9h16.4v2.6h-16.4zM1680.5 1109.3h16.4v2.6h-16.4zM1680.5 1135.3h16.4v2.6h-16.4zM1811.1 1140.5h16.3v7.8h-16.3zM1794.8 1148.3h16.3v5.2h-16.3zM1811.1 1153.5h16.3v2.6h-16.3zM1680.5 1166.5h16.4v2.6h-16.4zM1647.9 1166.5h16.3v2.6h-16.3z"/><path fill="#DCDC26" d="M1696.9 638.5h16.3v2.6h-16.3zM1647.9 638.5h32.6v2.6h-32.6zM1647.9 643.7h16.3v2.6h-16.3zM1680.5 646.3h16.4v2.6h-16.4zM1647.9 981.8h16.3v2.6h-16.3zM1745.8 989.6h16.3v2.6h-16.3zM1794.8 992.2h16.3v2.6h-16.3z"/></g><path d="M1558.2 134.0V117.2H1574.5V134.0M1541.9 134.0V109.0H1566.3V117.2M1590.8 134.0V111.9H1607.1V134.0M1623.4 134.0V110.2H1639.8V134.0M1599.0 111.9V101.6H1631.6V110.2M1554.1 109.0V81.0H1615.3V101.6M1688.7 134.0V122.2H1705.0V134.0M1672.4 134.0V119.3H1696.9V122.2M1656.1 134.0V114.3H1684.6V119.3M1721.3 134.0V119.3H1737.7V134.0M1754.0 134.0V117.2H1770.3V134.0M1729.5 119.3V111.1H1762.1V117.2M1670.4 114.3V101.6H1745.8V111.1M1819.2 134.0V117.2H1835.6V134.0M1802.9 134.0V107.8H1827.4V117.2M1786.6 134.0V104.9H1815.2V107.8M1851.9 134.0V110.2H1868.2V134.0M1917.1 134.0V119.3H1933.5V134.0M1900.8 134.0V113.1H1925.3V119.3M1884.5 134.0V111.1H1913.1V113.1M1949.8 134.0V126.7H1966.1V134.0M1998.7 134.0V114.3H2015.0V134.0M1982.4 134.0V111.1H2006.9V114.3M1957.9 126.7V102.8H1994.6V111.1M1898.8 111.1V99.5H1976.3V102.8M1860.0 110.2V86.4H1937.5V99.5M1800.9 104.9V67.9H1898.8V86.4M1708.1 101.6V49.4H1849.8V67.9M1584.7 81.0V12.3H1779.0V49.4" fill="none" stroke="#2e2e2e" stroke-width="1.75" stroke-linejoin="miter"/><g shape-rendering="crispEdges"><rect x="2035.3" y="134.40" width="22.7" height="17.68" fill="#440F57"/><rect x="2035.3" y="151.78" width="22.7" height="17.68" fill="#46196A"/><rect x="2035.3" y="169.16" width="22.7" height="17.68" fill="#432D74"/><rect x="2035.3" y="186.54" width="22.7" height="17.68" fill="#3C4282"/><rect x="2035.3" y="203.92" width="22.7" height="17.68" fill="#2D5690"/><rect x="2035.3" y="221.30" width="22.7" height="17.68" fill="#0A6295"/><rect x="2035.3" y="238.68" width="22.7" height="17.68" fill="#0F7098"/><rect x="2035.3" y="256.06" width="22.7" height="17.68" fill="#0C7D96"/><rect x="2035.3" y="273.44" width="22.7" height="17.68" fill="#0A8A94"/><rect x="2035.3" y="290.82" width="22.7" height="17.68" fill="#0F9690"/><rect x="2035.3" y="308.20" width="22.7" height="17.68" fill="#129D8C"/><rect x="2035.3" y="325.58" width="22.7" height="17.68" fill="#10A888"/><rect x="2035.3" y="342.96" width="22.7" height="17.68" fill="#06B583"/><rect x="2035.3" y="360.34" width="22.7" height="17.68" fill="#07C07C"/><rect x="2035.3" y="377.72" width="22.7" height="17.68" fill="#4AC76E"/><rect x="2035.3" y="395.10" width="22.7" height="17.68" fill="#7ACF58"/><rect x="2035.3" y="412.48" width="22.7" height="17.68" fill="#9AD546"/><rect x="2035.3" y="429.86" width="22.7" height="17.68" fill="#BCDB33"/><rect x="2035.3" y="447.24" width="22.7" height="17.68" fill="#DCDC26"/><rect x="2035.3" y="464.62" width="22.7" height="17.68" fill="#FFDD33"/></g><g font-size="19.6" fill="#222"><text x="2066.8" y="155.8">20</text><text x="2066.8" y="232.4">15</text><text x="2066.8" y="309.0">10</text><text x="2066.8" y="385.6">5</text><text x="2066.8" y="462.2">0</text></g><g font-size="23.26" fill="#1a1a1a" stroke="#1a1a1a" stroke-width="0.35"><text transform="translate(1533.9 1183.5) rotate(90)">Non-Responder_5</text><text transform="translate(1550.2 1183.5) rotate(90)">Non-Responder_11</text><text transform="translate(1566.5 1183.5) rotate(90)">Non-Responder_13</text><text transform="translate(1582.8 1183.5) rotate(90)">Non-Responder_1</text><text transform="translate(1599.1 1183.5) rotate(90)">Non-Responder_4</text><text transform="translate(1615.4 1183.5) rotate(90)">Non-Responder_14</text><text transform="translate(1631.8 1183.5) rotate(90)">Non-Responder_16</text><text transform="translate(1648.1 1183.5) rotate(90)">Non-Responder_12</text><text transform="translate(1664.4 1183.5) rotate(90)">Responder_13</text><text transform="translate(1680.7 1183.5) rotate(90)">Responder_10</text><text transform="translate(1697.0 1183.5) rotate(90)">Responder_11</text><text transform="translate(1713.3 1183.5) rotate(90)">Responder_3</text><text transform="translate(1729.7 1183.5) rotate(90)">Responder_14</text><text transform="translate(1746.0 1183.5) rotate(90)">Non-Responder_9</text><text transform="translate(1762.3 1183.5) rotate(90)">Responder_1</text><text transform="translate(1778.6 1183.5) rotate(90)">Responder_8</text><text transform="translate(1794.9 1183.5) rotate(90)">Responder_2</text><text transform="translate(1811.2 1183.5) rotate(90)">Responder_4</text><text transform="translate(1827.6 1183.5) rotate(90)">Responder_7</text><text transform="translate(1843.9 1183.5) rotate(90)">Non-Responder_8</text><text transform="translate(1860.2 1183.5) rotate(90)">Responder_5</text><text transform="translate(1876.5 1183.5) rotate(90)">Non-Responder_7</text><text transform="translate(1892.8 1183.5) rotate(90)">Responder_6</text><text transform="translate(1909.1 1183.5) rotate(90)">Non-Responder_2</text><text transform="translate(1925.5 1183.5) rotate(90)">Non-Responder_10</text><text transform="translate(1941.8 1183.5) rotate(90)">Responder_9</text><text transform="translate(1958.1 1183.5) rotate(90)">Responder_12</text><text transform="translate(1974.4 1183.5) rotate(90)">Non-Responder_6</text><text transform="translate(1990.7 1183.5) rotate(90)">Non-Responder_3</text><text transform="translate(2007.0 1183.5) rotate(90)">Non-Responder_15</text></g><g shape-rendering="crispEdges"><rect x="1533.7" y="1661.6" width="533.1" height="1023.1" fill="#10A888"/><path fill="#440F57" d="M1722.9 1903.7h34.4v2.6h-34.4z"/><path fill="#46196A" d="M2032.4 1882.9h34.4v5.2h-34.4zM1722.9 1901.1h51.6v2.6h-51.6zM1757.3 1903.7h17.2v2.6h-17.2z"/><path fill="#432D74" d="M1998 1882.9h17.2v2.6h-17.2zM1998 1885.5h34.4v2.6h-34.4zM2049.6 1888.1h17.2v2.6h-17.2zM1877.6 1901.1h34.4v2.6h-34.4zM2032.4 1903.7h17.2v2.6h-17.2zM1877.6 1903.7h17.2v2.6h-17.2zM1740.1 1934.9h17.2v5.3h-17.2zM1740.1 1945.4h17.2v2.6h-17.2zM1740.1 1958.4h17.2v5.2h-17.2zM1722.9 1968.8h34.4v2.6h-34.4zM1722.9 1971.4h51.6v2.6h-51.6z"/><path fill="#3C4282" d="M2032.4 1875.1h34.4v2.6h-34.4zM2049.6 1877.7h17.2v2.6h-17.2zM2015.2 1882.9h17.2v2.6h-17.2zM1998 1888.1h51.6v2.6h-51.6zM2015.2 1890.7h51.6v2.6h-51.6zM1912 1901.1h137.6v2.6h-137.6zM1894.8 1903.7h68.8v2.6h-68.8zM2049.6 1903.7h17.2v2.6h-17.2zM1980.8 1903.7h34.4v2.6h-34.4zM1740.1 1919.3h17.2v2.6h-17.2zM1740.1 1929.7h17.2v2.6h-17.2zM1722.9 1932.3h34.4v2.6h-34.4zM1757.3 1934.9h17.2v2.7h-17.2zM1722.9 1934.9h17.2v5.3h-17.2zM1740.1 1940.2h17.2v2.6h-17.2zM1722.9 1942.8h51.6v2.6h-51.6zM1757.3 1945.4h17.2v2.6h-17.2zM1722.9 1945.4h17.2v2.6h-17.2zM1740.1 1948h17.2v5.2h-17.2zM1740.1 1955.8h17.2v2.6h-17.2zM1757.3 1958.4h17.2v5.2h-17.2zM1722.9 1958.4h17.2v5.2h-17.2zM1740.1 1963.6h17.2v5.2h-17.2zM1757.3 1968.8h17.2v2.6h-17.2zM1740.1 1974h17.2v5.2h-17.2z"/><path fill="#2D5690" d="M1740.1 1812.6h17.2v2.6h-17.2zM1740.1 1817.8h17.2v2.6h-17.2zM1740.1 1830.8h17.2v2.6h-17.2zM1998 1875.1h34.4v2.6h-34.4zM2015.2 1877.7h34.4v2.6h-34.4zM2032.4 1880.3h34.4v2.6h-34.4zM1722.9 1882.9h34.4v2.6h-34.4zM1722.9 1888.1h34.4v2.6h-34.4zM1998 1890.7h17.2v2.6h-17.2zM2032.4 1893.3h34.4v2.6h-34.4zM1722.9 1898.5h51.6v2.6h-51.6zM2049.6 1901.1h17.2v2.6h-17.2zM1774.5 1901.1h103.1v2.6h-103.1zM1843.2 1903.7h34.4v2.6h-34.4zM1963.6 1903.7h17.2v2.6h-17.2zM1774.5 1903.7h51.5v2.6h-51.5zM2015.2 1903.7h17.2v2.6h-17.2zM1740.1 1908.9h17.2v2.6h-17.2zM1722.9 1911.5h34.4v7.8h-34.4zM1722.9 1919.3h17.2v2.6h-17.2zM1722.9 1921.9h34.4v2.6h-34.4zM1740.1 1924.5h17.2v2.6h-17.2zM1722.9 1927.1h34.4v2.6h-34.4zM1722.9 1929.7h17.2v2.6h-17.2zM1757.3 1929.7h17.2v5.2h-17.2zM1757.3 1937.6h17.2v5.2h-17.2zM1722.9 1940.2h17.2v2.6h-17.2zM1877.6 1942.8h17.2v2.6h-17.2zM1877.6 1945.4h51.6v2.6h-51.6zM1946.4 1945.4h17.2v2.6h-17.2zM1757.3 1948h17.2v5.2h-17.2zM1722.9 1948h17.2v5.2h-17.2zM1740.1 1953.2h34.4v2.6h-34.4zM1757.3 1955.8h17.2v2.6h-17.2zM1722.9 1955.8h17.2v2.6h-17.2zM1877.6 1958.4h34.4v2.6h-34.4zM1877.6 1961h51.6v2.6h-51.6zM1946.4 1961h17.2v2.6h-17.2zM1722.9 1963.6h17.2v5.2h-17.2zM1757.3 1963.6h17.2v5.2h-17.2zM1894.8 1968.8h34.4v2.6h-34.4zM1946.4 1968.8h17.2v5.2h-17.2zM1894.8 1971.4h17.2v2.6h-17.2zM1722.9 1974h17.2v2.6h-17.2zM1757.3 1974h17.2v5.2h-17.2zM1740.1 2427h17.2v2.6h-17.2zM1740.1 2434.8h17.2v2.6h-17.2z"/><path fill="#0A6295" d="M1740.1 1716.3h17.2v2.6h-17.2zM1740.1 1721.5h17.2v5.2h-17.2zM1740.1 1731.9h17.2v7.8h-17.2zM1722.9 1742.3h34.4v2.6h-34.4zM1722.9 1744.9h51.6v2.6h-51.6zM1740.1 1752.7h17.2v2.6h-17.2zM1722.9 1804.8h34.4v2.6h-34.4zM1740.1 1807.4h17.2v2.6h-17.2zM1757.3 1812.6h17.2v2.6h-17.2zM1722.9 1812.6h17.2v2.6h-17.2zM1722.9 1815.2h34.4v2.6h-34.4zM1722.9 1817.8h17.2v2.6h-17.2zM1757.3 1817.8h17.2v2.6h-17.2zM1740.1 1820.4h34.4v2.6h-34.4zM1722.9 1823h51.6v5.2h-51.6zM1722.9 1828.2h34.4v2.6h-34.4zM1722.9 1830.8h17.2v2.6h-17.2zM1757.3 1830.8h17.2v2.6h-17.2zM1722.9 1833.4h34.4v2.6h-34.4zM1722.9 1836h51.6v7.8h-51.6zM1740.1 1843.8h17.2v2.6h-17.2zM1722.9 1849h34.4v2.6h-34.4zM1740.1 1851.6h17.2v2.6h-17.2zM1722.9 1859.5h51.6v2.6h-51.6zM1722.9 1867.3h17.2v2.6h-17.2zM1722.9 1869.9h51.6v2.6h-51.6zM2032.4 1869.9h34.4v5.2h-34.4zM1740.1 1872.5h17.2v2.6h-17.2zM1722.9 1875.1h51.6v2.6h-51.6zM1998 1877.7h17.2v2.6h-17.2zM1740.1 1877.7h17.2v5.2h-17.2zM1998 1880.3h34.4v2.6h-34.4zM1757.3 1882.9h17.2v2.6h-17.2zM1980.8 1882.9h17.2v5.2h-17.2zM1722.9 1885.5h51.6v2.6h-51.6zM1963.6 1888.1h34.4v2.6h-34.4zM1757.3 1888.1h17.2v2.6h-17.2zM1722.9 1890.7h51.6v2.6h-51.6zM1998 1893.3h34.4v2.6h-34.4zM1740.1 1893.3h17.2v5.2h-17.2zM2032.4 1898.5h34.4v2.6h-34.4zM1550.9 1901.1h34.4v2.6h-34.4zM1636.9 1901.1h17.2v2.6h-17.2zM1705.7 1901.1h17.2v2.6h-17.2zM1602.5 1901.1h17.2v2.6h-17.2zM1671.3 1903.7h34.4v2.6h-34.4zM1826 1903.7h17.2v2.6h-17.2zM1568.1 1903.7h17.2v2.6h-17.2zM1722.9 1906.3h51.6v2.6h-51.6zM1722.9 1908.9h17.2v2.6h-17.2zM1722.9 1924.5h17.2v2.6h-17.2zM1757.3 1908.9h17.2v20.8h-17.2zM1877.6 1934.9h34.4v2.7h-34.4zM1877.6 1937.6h51.6v2.6h-51.6zM1946.4 1934.9h17.2v7.9h-17.2zM1894.8 1942.8h68.8v2.6h-68.8zM1929.2 1945.4h17.2v2.6h-17.2zM1877.6 1948h34.4v2.6h-34.4zM1877.6 1950.6h51.6v2.6h-51.6zM1946.4 1948h17.2v7.8h-17.2zM1722.9 1953.2h17.2v2.6h-17.2zM1877.6 1955.8h86v2.6h-86zM1912 1958.4h68.8v2.6h-68.8zM1929.2 1961h17.2v2.6h-17.2zM1963.6 1961h34.4v2.6h-34.4zM1877.6 1963.6h51.6v2.6h-51.6zM1946.4 1963.6h17.2v2.6h-17.2zM1929.2 1968.8h17.2v2.6h-17.2zM1963.6 1968.8h17.2v5.2h-17.2zM1877.6 1968.8h17.2v5.2h-17.2zM1912 1971.4h17.2v2.6h-17.2zM1722.9 1976.6h17.2v2.6h-17.2zM1740.1 1981.8h17.2v2.6h-17.2zM2032.4 1989.6h17.2v2.6h-17.2zM2032.4 2000h34.4v2.6h-34.4zM1740.1 2099h17.2v2.6h-17.2zM1722.9 2273.4h51.6v2.6h-51.6zM1722.9 2421.8h34.4v5.2h-34.4zM1722.9 2427h17.2v2.6h-17.2zM1757.3 2427h17.2v2.6h-17.2zM1722.9 2432.2h34.4v2.6h-34.4zM1757.3 2434.8h17.2v2.6h-17.2zM1722.9 2434.8h17.2v2.6h-17.2zM1722.9 2437.4h34.4v2.6h-34.4zM2032.4 2510.3h17.2v2.6h-17.2z"/><path fill="#0F7098" d="M1740.1 1669.4h34.4v2.6h-34.4zM1722.9 1674.6h34.4v2.6h-34.4zM1740.1 1679.8h17.2v2.6h-17.2zM1722.9 1685h51.6v2.6h-51.6zM1740.1 1692.8h17.2v2.6h-17.2zM1740.1 1695.4h34.4v2.6h-34.4zM1722.9 1698h51.6v2.6h-51.6zM1722.9 1705.9h51.6v2.6h-51.6zM1722.9 1708.5h34.4v5.2h-34.4zM1722.9 1713.7h51.6v2.6h-51.6zM1722.9 1716.3h17.2v2.6h-17.2zM1757.3 1716.3h17.2v2.6h-17.2zM1722.9 1718.9h34.4v2.6h-34.4zM1722.9 1721.5h17.2v5.2h-17.2zM1757.3 1721.5h17.2v5.2h-17.2zM1722.9 1726.7h34.4v5.2h-34.4zM1757.3 1731.9h17.2v7.8h-17.2zM1722.9 1731.9h17.2v7.8h-17.2zM1740.1 1739.7h17.2v2.6h-17.2zM1757.3 1742.3h17.2v2.6h-17.2zM2032.4 1744.9h17.2v2.6h-17.2zM1722.9 1747.5h51.6v5.2h-51.6zM1757.3 1752.7h17.2v2.6h-17.2zM1722.9 1752.7h17.2v2.6h-17.2zM1722.9 1755.3h34.4v2.6h-34.4zM1740.1 1757.9h17.2v5.2h-17.2zM1722.9 1763.1h34.4v2.6h-34.4zM1740.1 1765.7h17.2v5.2h-17.2zM1722.9 1773.5h51.6v2.6h-51.6zM1722.9 1776.1h34.4v5.3h-34.4zM1722.9 1781.4h51.6v2.6h-51.6zM1740.1 1784h17.2v5.2h-17.2zM1722.9 1789.2h34.4v2.6h-34.4zM1740.1 1794.4h17.2v5.2h-17.2zM1722.9 1799.6h34.4v2.6h-34.4zM1740.1 1802.2h17.2v2.6h-17.2zM1757.3 1804.8h17.2v5.2h-17.2zM1722.9 1807.4h17.2v2.6h-17.2zM1722.9 1810h51.6v2.6h-51.6zM1757.3 1815.2h17.2v2.6h-17.2zM1722.9 1820.4h17.2v2.6h-17.2zM1757.3 1828.2h17.2v2.6h-17.2zM1757.3 1833.4h17.2v2.6h-17.2zM1757.3 1843.8h17.2v2.6h-17.2zM1722.9 1843.8h17.2v2.6h-17.2zM1722.9 1846.4h51.6v2.6h-51.6zM1757.3 1849h17.2v5.2h-17.2zM1722.9 1851.6h17.2v2.6h-17.2zM1722.9 1854.2h51.6v2.6h-51.6zM1740.1 1856.8h17.2v2.7h-17.2zM1722.9 1862.1h51.6v5.2h-51.6zM2049.6 1864.7h17.2v2.6h-17.2zM1740.1 1867.3h34.4v2.6h-34.4zM2015.2 1867.3h51.6v2.6h-51.6zM1998 1869.9h34.4v5.2h-34.4zM1722.9 1872.5h17.2v2.6h-17.2zM1757.3 1872.5h17.2v2.6h-17.2zM1963.6 1875.1h17.2v2.6h-17.2zM1722.9 1877.7h17.2v5.2h-17.2zM1757.3 1877.7h17.2v5.2h-17.2zM1963.6 1882.9h17.2v5.2h-17.2zM1963.6 1890.7h34.4v2.6h-34.4zM1757.3 1893.3h17.2v5.2h-17.2zM1722.9 1893.3h17.2v5.2h-17.2zM2015.2 1895.9h51.6v2.6h-51.6zM1963.6 1898.5h68.8v2.6h-68.8zM1894.8 1898.5h17.2v2.6h-17.2zM1585.3 1901.1h17.2v2.6h-17.2zM1654.1 1901.1h51.6v2.6h-51.6zM1619.7 1901.1h17.2v2.6h-17.2zM1705.7 1903.7h17.2v2.6h-17.2zM1550.9 1903.7h17.2v2.6h-17.2zM1585.3 1903.7h86v2.6h-86zM1877.6 1911.5h17.2v2.6h-17.2zM1946.4 1914.1h17.2v2.6h-17.2zM1877.6 1919.3h34.4v5.2h-34.4zM1946.4 1919.3h17.2v5.2h-17.2zM1877.6 1924.5h17.2v2.6h-17.2zM1877.6 1927.1h34.4v2.6h-34.4zM1877.6 1929.7h51.6v5.2h-51.6zM1946.4 1929.7h17.2v5.2h-17.2zM1705.7 1934.9h17.2v2.7h-17.2zM1912 1934.9h34.4v2.7h-34.4zM1929.2 1937.6h17.2v2.6h-17.2zM1877.6 1940.2h68.8v2.6h-68.8zM1671.3 1942.8h17.2v2.6h-17.2zM1774.5 1945.4h103.1v2.6h-103.1zM1671.3 1945.4h51.6v2.6h-51.6zM1912 1948h34.4v2.6h-34.4zM1963.6 1942.8h34.4v10.4h-34.4zM1929.2 1950.6h17.2v2.6h-17.2zM1671.3 1950.6h17.2v2.6h-17.2zM1963.6 1953.2h17.2v2.6h-17.2zM1877.6 1953.2h68.8v2.6h-68.8zM1963.6 1955.8h34.4v2.6h-34.4zM1980.8 1958.4h17.2v2.6h-17.2zM1671.3 1955.8h17.2v7.8h-17.2zM1705.7 1958.4h17.2v5.2h-17.2zM1774.5 1961h17.2v2.6h-17.2zM1808.8 1961h34.4v2.6h-34.4zM1929.2 1963.6h17.2v2.6h-17.2zM1963.6 1963.6h17.2v2.6h-17.2zM1877.6 1966.2h51.6v2.6h-51.6zM1946.4 1966.2h34.4v2.6h-34.4zM1705.7 1968.8h17.2v2.6h-17.2zM1860.4 1968.8h17.2v2.6h-17.2zM1774.5 1968.8h17.2v2.6h-17.2zM1980.8 1968.8h17.2v5.2h-17.2zM1671.3 1968.8h17.2v5.2h-17.2zM1929.2 1971.4h17.2v2.6h-17.2zM1877.6 1974h51.6v2.6h-51.6zM1946.4 1974h34.4v2.6h-34.4zM1946.4 1976.6h51.6v2.6h-51.6zM1894.8 1976.6h17.2v2.6h-17.2zM2032.4 1976.6h17.2v2.6h-17.2zM1757.3 1981.8h17.2v2.6h-17.2zM2032.4 1981.8h17.2v7.8h-17.2zM2015.2 1989.6h17.2v2.6h-17.2zM2049.6 1989.6h17.2v2.6h-17.2zM2032.4 1992.2h17.2v2.6h-17.2zM2032.4 1994.8h34.4v2.6h-34.4zM2032.4 1997.4h17.2v2.6h-17.2zM2015.2 2000h17.2v2.6h-17.2zM2015.2 2002.6h51.6v2.6h-51.6zM1740.1 2091.1h17.2v2.6h-17.2zM1722.9 2093.7h51.6v5.3h-51.6zM1757.3 2099h17.2v2.6h-17.2zM1722.9 2099h17.2v2.6h-17.2zM1740.1 2101.6h34.4v2.6h-34.4zM1722.9 2104.2h34.4v2.6h-34.4zM1722.9 2242.1h51.6v2.6h-51.6zM1757.3 2247.3h17.2v2.6h-17.2zM1722.9 2252.6h34.4v2.6h-34.4zM1722.9 2255.2h17.2v2.6h-17.2zM1757.3 2255.2h17.2v2.6h-17.2zM1757.3 2265.6h17.2v2.6h-17.2zM1722.9 2270.8h51.6v2.6h-51.6zM1722.9 2276h51.6v2.6h-51.6zM1722.9 2278.6h34.4v2.6h-34.4zM1722.9 2281.2h51.6v2.6h-51.6zM1740.1 2283.8h17.2v2.6h-17.2zM1722.9 2289h34.4v2.6h-34.4zM1740.1 2291.6h17.2v2.6h-17.2zM1740.1 2320.2h17.2v2.6h-17.2zM1740.1 2330.7h17.2v5.2h-17.2zM1740.1 2338.5h17.2v5.2h-17.2zM1722.9 2346.3h51.6v2.6h-51.6zM1722.9 2351.5h34.4v5.2h-34.4zM1740.1 2359.3h17.2v2.6h-17.2zM1722.9 2361.9h34.4v2.6h-34.4zM1740.1 2364.5h17.2v2.6h-17.2zM1722.9 2367.1h34.4v2.6h-34.4zM1894.8 2369.7h17.2v2.6h-17.2zM1722.9 2369.7h51.6v2.6h-51.6zM1722.9 2372.3h34.4v5.2h-34.4zM1722.9 2377.5h17.2v2.6h-17.2zM1740.1 2380.1h17.2v2.6h-17.2zM1757.3 2382.7h17.2v2.6h-17.2zM1722.9 2382.7h17.2v2.6h-17.2zM1740.1 2385.3h17.2v2.6h-17.2zM1722.9 2387.9h34.4v2.6h-34.4zM1722.9 2393.1h34.4v2.6h-34.4zM1740.1 2398.3h17.2v2.6h-17.2zM1722.9 2400.9h51.6v2.6h-51.6zM1740.1 2403.5h17.2v2.6h-17.2zM1722.9 2411.4h34.4v5.2h-34.4zM1722.9 2416.6h51.6v5.2h-51.6zM1757.3 2421.8h17.2v5.2h-17.2zM1722.9 2429.6h34.4v2.6h-34.4zM1757.3 2432.2h17.2v2.6h-17.2zM1757.3 2437.4h17.2v2.6h-17.2zM1722.9 2440h17.2v2.6h-17.2zM2049.6 2510.3h17.2v2.6h-17.2zM1998 2510.3h17.2v2.6h-17.2zM2032.4 2515.5h17.2v2.6h-17.2z"/><path fill="#0C7D96" d="M1722.9 1661.6h51.6v2.6h-51.6zM1722.9 1664.2h34.4v2.6h-34.4zM1722.9 1666.8h51.6v2.6h-51.6zM1722.9 1669.4h17.2v2.6h-17.2zM1722.9 1672h51.6v2.6h-51.6zM1757.3 1674.6h17.2v2.6h-17.2zM1722.9 1677.2h51.6v2.6h-51.6zM1757.3 1679.8h17.2v2.6h-17.2zM1722.9 1679.8h17.2v2.6h-17.2zM1722.9 1682.4h51.6v2.6h-51.6zM1722.9 1687.6h34.4v2.6h-34.4zM1722.9 1690.2h51.6v2.6h-51.6zM1757.3 1692.8h17.2v2.6h-17.2zM1722.9 1692.8h17.2v5.2h-17.2zM1722.9 1700.6h51.6v5.3h-51.6zM1757.3 1708.5h17.2v5.2h-17.2zM1757.3 1718.9h17.2v2.6h-17.2zM1757.3 1726.7h17.2v5.2h-17.2zM2032.4 1734.5h17.2v5.2h-17.2zM1757.3 1739.7h17.2v2.6h-17.2zM1722.9 1739.7h17.2v2.6h-17.2zM2032.4 1742.3h34.4v2.6h-34.4zM2049.6 1744.9h17.2v2.6h-17.2zM2032.4 1747.5h17.2v2.6h-17.2zM2032.4 1752.7h17.2v2.6h-17.2zM1722.9 1757.9h17.2v5.2h-17.2zM1757.3 1755.3h17.2v15.6h-17.2zM1722.9 1765.7h17.2v5.2h-17.2zM1722.9 1770.9h34.4v2.6h-34.4zM1757.3 1776.1h17.2v5.3h-17.2zM1722.9 1784h17.2v5.2h-17.2zM1757.3 1784h17.2v7.8h-17.2zM1722.9 1791.8h34.4v2.6h-34.4zM1722.9 1794.4h17.2v5.2h-17.2zM1757.3 1794.4h17.2v10.4h-17.2zM1722.9 1802.2h17.2v2.6h-17.2zM1894.8 1804.8h17.2v2.6h-17.2zM2015.2 1804.8h17.2v2.6h-17.2zM1894.8 1810h17.2v5.2h-17.2zM1946.4 1812.6h34.4v2.6h-34.4zM2015.2 1812.6h17.2v7.8h-17.2zM1963.6 1815.2h17.2v5.2h-17.2zM1877.6 1817.8h34.4v2.6h-34.4zM1894.8 1820.4h17.2v5.2h-17.2zM1963.6 1823h17.2v2.6h-17.2zM2015.2 1823h17.2v2.6h-17.2zM1946.4 1825.6h17.2v2.6h-17.2zM1877.6 1825.6h34.4v2.6h-34.4zM1894.8 1828.2h17.2v2.6h-17.2zM2015.2 1830.8h17.2v2.6h-17.2zM1963.6 1830.8h17.2v2.6h-17.2zM1877.6 1830.8h34.4v2.6h-34.4zM1894.8 1833.4h17.2v7.8h-17.2zM2015.2 1841.2h17.2v2.6h-17.2zM1877.6 1841.2h34.4v2.6h-34.4zM1946.4 1841.2h34.4v2.6h-34.4zM1894.8 1846.4h17.2v2.6h-17.2zM1722.9 1856.8h17.2v2.7h-17.2zM1757.3 1856.8h17.2v2.7h-17.2zM1963.6 1859.5h34.4v2.6h-34.4zM2015.2 1859.5h51.6v2.6h-51.6zM1877.6 1859.5h34.4v2.6h-34.4zM2015.2 1862.1h17.2v2.6h-17.2zM2049.6 1862.1h17.2v2.6h-17.2zM1998 1864.7h51.6v2.6h-51.6zM1998 1867.3h17.2v2.6h-17.2zM1894.8 1869.9h17.2v2.6h-17.2zM1963.6 1869.9h34.4v2.6h-34.4zM1894.8 1875.1h17.2v2.6h-17.2zM1980.8 1875.1h17.2v2.6h-17.2zM1963.6 1877.7h34.4v5.2h-34.4zM1946.4 1882.9h17.2v2.6h-17.2zM1877.6 1882.9h34.4v2.6h-34.4zM1877.6 1888.1h34.4v2.6h-34.4zM1963.6 1893.3h34.4v2.6h-34.4zM1998 1895.9h17.2v2.6h-17.2zM1963.6 1895.9h17.2v2.6h-17.2zM1877.6 1898.5h17.2v2.6h-17.2zM1912 1898.5h51.6v2.6h-51.6zM1533.7 1901.1h17.2v5.2h-17.2zM1894.8 1906.3h17.2v2.6h-17.2zM1946.4 1906.3h17.2v2.6h-17.2zM1877.6 1908.9h34.4v2.6h-34.4zM1929.2 1908.9h34.4v2.6h-34.4zM1671.3 1911.5h51.6v2.6h-51.6zM1894.8 1911.5h68.8v2.6h-68.8zM1877.6 1914.1h51.6v2.6h-51.6zM1877.6 1916.7h86v2.6h-86zM1671.3 1916.7h17.2v7.8h-17.2zM1912 1919.3h34.4v5.2h-34.4zM1980.8 1921.9h17.2v2.6h-17.2zM1705.7 1921.9h17.2v2.6h-17.2zM1946.4 1924.5h17.2v2.6h-17.2zM1894.8 1924.5h34.4v2.6h-34.4zM1912 1927.1h51.6v2.6h-51.6zM1671.3 1929.7h51.6v5.2h-51.6zM1929.2 1929.7h17.2v5.2h-17.2zM1774.5 1932.3h17.2v2.6h-17.2zM1980.8 1932.3h17.2v2.6h-17.2zM1671.3 1934.9h34.4v2.7h-34.4zM1774.5 1934.9h103.1v2.7h-103.1zM1860.4 1937.6h17.2v2.6h-17.2zM1774.5 1937.6h68.7v2.6h-68.7zM1671.3 1937.6h51.6v2.6h-51.6zM1963.6 1934.9h34.4v7.9h-34.4zM1671.3 1940.2h34.4v2.6h-34.4zM1860.4 1942.8h17.2v2.6h-17.2zM1774.5 1942.8h68.7v2.6h-68.7zM1688.5 1942.8h34.4v2.6h-34.4zM1602.5 1945.4h34.4v2.6h-34.4zM2049.6 1945.4h17.2v2.6h-17.2zM1671.3 1948h51.6v2.6h-51.6zM1808.8 1948h68.8v2.6h-68.8zM1860.4 1950.6h17.2v2.6h-17.2zM1774.5 1950.6h68.7v2.6h-68.7zM1688.5 1950.6h34.4v2.6h-34.4zM1980.8 1953.2h17.2v2.6h-17.2zM1671.3 1953.2h17.2v2.6h-17.2zM1705.7 1953.2h17.2v2.6h-17.2zM1688.5 1955.8h34.4v2.6h-34.4zM1774.5 1955.8h103.1v5.2h-103.1zM2032.4 1958.4h17.2v2.6h-17.2zM1688.5 1958.4h17.2v5.2h-17.2zM1843.2 1961h34.4v2.6h-34.4zM1998 1961h68.8v2.6h-68.8zM1791.7 1961h17.1v2.6h-17.1zM1808.8 1963.6h17.2v2.6h-17.2zM1860.4 1963.6h17.2v2.6h-17.2zM1671.3 1963.6h34.4v2.6h-34.4zM1980.8 1963.6h17.2v5.2h-17.2zM1671.3 1966.2h17.2v2.6h-17.2zM1929.2 1966.2h17.2v2.6h-17.2zM1791.7 1968.8h68.7v2.6h-68.7zM1688.5 1968.8h17.2v2.6h-17.2zM1998 1968.8h51.6v5.2h-51.6zM1843.2 1971.4h34.4v2.6h-34.4zM1688.5 1971.4h34.4v2.6h-34.4zM1774.5 1971.4h51.5v2.6h-51.5zM1980.8 1974h17.2v2.6h-17.2zM2015.2 1974h34.4v2.6h-34.4zM1929.2 1974h17.2v2.6h-17.2zM1877.6 1976.6h17.2v2.6h-17.2zM1912 1976.6h17.2v2.6h-17.2zM1998 1976.6h34.4v2.6h-34.4zM2049.6 1976.6h17.2v2.6h-17.2zM1722.9 1981.8h17.2v2.6h-17.2zM1963.6 1981.8h17.2v2.6h-17.2zM1740.1 1984.4h34.4v2.6h-34.4zM2049.6 1981.8h17.2v7.8h-17.2zM1998 1981.8h34.4v7.8h-34.4zM1998 1989.6h17.2v2.6h-17.2zM2049.6 1992.2h17.2v2.6h-17.2zM1998 1992.2h34.4v7.8h-34.4zM2049.6 1997.4h17.2v2.6h-17.2zM1740.1 2000h17.2v2.6h-17.2zM1963.6 2000h17.2v2.6h-17.2zM1998 2000h17.2v5.2h-17.2zM2032.4 2005.2h17.2v5.2h-17.2zM1740.1 2046.9h17.2v2.6h-17.2zM1740.1 2075.5h17.2v2.6h-17.2zM1740.1 2085.9h17.2v2.6h-17.2zM1722.9 2088.5h34.4v2.6h-34.4zM1757.3 2091.1h17.2v2.6h-17.2zM1722.9 2091.1h17.2v2.6h-17.2zM1722.9 2101.6h17.2v2.6h-17.2zM1757.3 2104.2h17.2v2.6h-17.2zM1722.9 2106.8h51.6v7.8h-51.6zM1740.1 2114.6h17.2v7.8h-17.2zM1722.9 2122.4h17.2v2.6h-17.2zM1740.1 2125h17.2v2.6h-17.2zM1740.1 2130.2h17.2v2.6h-17.2zM1722.9 2135.4h34.4v2.6h-34.4zM1722.9 2140.6h34.4v5.2h-34.4zM1740.1 2145.8h17.2v2.6h-17.2zM1740.1 2153.6h17.2v7.8h-17.2zM1722.9 2166.6h17.2v2.6h-17.2zM1722.9 2171.8h17.2v2.7h-17.2zM1740.1 2177.1h34.4v2.6h-34.4zM1722.9 2184.9h17.2v2.6h-17.2zM1722.9 2203.1h17.2v2.6h-17.2zM1722.9 2205.7h51.6v2.6h-51.6zM1722.9 2210.9h51.6v2.6h-51.6zM1740.1 2213.5h17.2v2.6h-17.2zM1722.9 2216.1h51.6v5.2h-51.6zM1740.1 2226.5h17.2v2.6h-17.2zM1722.9 2229.1h51.6v2.6h-51.6zM1963.6 2234.3h17.2v2.6h-17.2zM1722.9 2234.3h51.6v2.6h-51.6zM1757.3 2236.9h17.2v2.6h-17.2zM1722.9 2236.9h17.2v2.6h-17.2zM1722.9 2239.5h51.6v2.6h-51.6zM1963.6 2242.1h17.2v2.6h-17.2zM1757.3 2244.7h17.2v2.6h-17.2zM1722.9 2244.7h17.2v2.6h-17.2zM1963.6 2247.3h17.2v2.6h-17.2zM1722.9 2247.3h34.4v2.6h-34.4zM1722.9 2249.9h51.6v2.7h-51.6zM1757.3 2252.6h17.2v2.6h-17.2zM1740.1 2255.2h17.2v2.6h-17.2zM1963.6 2252.6h17.2v7.8h-17.2zM1722.9 2257.8h51.6v2.6h-51.6zM1740.1 2260.4h17.2v5.2h-17.2zM1722.9 2265.6h34.4v2.6h-34.4zM1722.9 2268.2h51.6v2.6h-51.6zM1963.6 2273.4h17.2v2.6h-17.2zM1757.3 2278.6h17.2v2.6h-17.2zM1757.3 2283.8h17.2v2.6h-17.2zM1722.9 2283.8h17.2v2.6h-17.2zM1722.9 2286.4h51.6v2.6h-51.6zM1757.3 2289h17.2v5.2h-17.2zM1894.8 2291.6h17.2v2.6h-17.2zM1722.9 2291.6h17.2v2.6h-17.2zM1722.9 2294.2h51.6v2.6h-51.6zM1740.1 2296.8h34.4v2.6h-34.4zM1894.8 2299.4h17.2v2.6h-17.2zM1722.9 2299.4h51.6v2.6h-51.6zM1740.1 2302h17.2v2.6h-17.2zM1722.9 2307.2h51.6v2.6h-51.6zM1740.1 2309.8h17.2v7.8h-17.2zM1722.9 2317.6h34.4v2.6h-34.4zM1946.4 2320.2h17.2v2.6h-17.2zM1894.8 2320.2h34.4v2.6h-34.4zM1722.9 2320.2h17.2v2.6h-17.2zM1757.3 2320.2h17.2v2.6h-17.2zM1722.9 2322.8h51.6v2.6h-51.6zM1740.1 2325.4h17.2v2.6h-17.2zM1740.1 2328h34.4v2.7h-34.4zM1946.4 2330.7h34.4v2.6h-34.4zM1894.8 2330.7h17.2v2.6h-17.2zM1722.9 2330.7h17.2v5.2h-17.2zM1757.3 2330.7h17.2v5.2h-17.2zM1722.9 2335.9h51.6v2.6h-51.6zM1894.8 2338.5h34.4v2.6h-34.4zM1757.3 2338.5h17.2v5.2h-17.2zM1722.9 2338.5h17.2v5.2h-17.2zM1894.8 2341.1h68.8v2.6h-68.8zM1722.9 2343.7h51.6v2.6h-51.6zM1946.4 2346.3h17.2v2.6h-17.2zM1894.8 2346.3h34.4v2.6h-34.4zM1722.9 2348.9h51.6v2.6h-51.6zM1757.3 2351.5h17.2v5.2h-17.2zM1946.4 2354.1h17.2v2.6h-17.2zM1894.8 2354.1h17.2v2.6h-17.2zM1740.1 2356.7h17.2v2.6h-17.2zM1722.9 2359.3h17.2v2.6h-17.2zM1757.3 2359.3h17.2v5.2h-17.2zM1894.8 2361.9h17.2v2.6h-17.2zM1722.9 2364.5h17.2v2.6h-17.2zM1757.3 2367.1h17.2v2.6h-17.2zM1946.4 2367.1h17.2v2.6h-17.2zM1912 2369.7h17.2v2.6h-17.2zM1946.4 2369.7h34.4v2.6h-34.4zM1894.8 2372.3h17.2v2.6h-17.2zM1757.3 2372.3h17.2v5.2h-17.2zM1740.1 2377.5h34.4v2.6h-34.4zM1757.3 2380.1h17.2v2.6h-17.2zM1946.4 2380.1h17.2v2.6h-17.2zM1722.9 2380.1h17.2v2.6h-17.2zM1912 2380.1h17.2v2.6h-17.2zM1740.1 2382.7h17.2v2.6h-17.2zM1722.9 2385.3h17.2v2.6h-17.2zM1757.3 2385.3h17.2v5.2h-17.2zM1894.8 2387.9h17.2v2.6h-17.2zM1946.4 2387.9h17.2v2.6h-17.2zM1722.9 2390.5h51.6v2.6h-51.6zM1894.8 2393.1h17.2v2.6h-17.2zM1757.3 2393.1h17.2v2.6h-17.2zM1722.9 2395.7h51.6v2.6h-51.6zM1757.3 2398.3h17.2v2.6h-17.2zM1722.9 2398.3h17.2v2.6h-17.2zM1894.8 2400.9h68.8v2.6h-68.8zM1894.8 2403.5h17.2v2.6h-17.2zM1757.3 2403.5h17.2v2.6h-17.2zM1722.9 2403.5h17.2v2.6h-17.2zM1722.9 2406.1h34.4v2.6h-34.4zM1722.9 2408.7h51.6v2.7h-51.6zM1946.4 2411.4h17.2v2.6h-17.2zM1757.3 2411.4h17.2v5.2h-17.2zM1894.8 2408.7h17.2v10.5h-17.2zM1946.4 2419.2h17.2v2.6h-17.2zM1894.8 2421.8h68.8v2.6h-68.8zM1894.8 2424.4h17.2v2.6h-17.2zM1946.4 2424.4h17.2v2.6h-17.2zM1946.4 2427h34.4v2.6h-34.4zM1894.8 2427h34.4v2.6h-34.4zM1757.3 2429.6h17.2v2.6h-17.2zM1946.4 2432.2h17.2v2.6h-17.2zM1894.8 2432.2h34.4v2.6h-34.4zM1877.6 2434.8h86v2.6h-86zM1946.4 2437.4h17.2v2.6h-17.2zM1894.8 2437.4h17.2v5.2h-17.2zM1740.1 2440h34.4v2.6h-34.4zM1722.9 2442.6h17.2v5.2h-17.2zM2015.2 2510.3h17.2v2.6h-17.2zM1722.9 2510.3h51.6v2.6h-51.6zM1998 2512.9h68.8v2.6h-68.8zM1998 2515.5h34.4v2.6h-34.4zM2049.6 2515.5h17.2v2.6h-17.2zM2032.4 2520.7h17.2v2.6h-17.2zM1740.1 2544.1h17.2v2.6h-17.2zM1740.1 2562.3h17.2v2.6h-17.2zM1722.9 2614.4h34.4v2.6h-34.4zM1722.9 2619.6h34.4v2.6h-34.4zM1722.9 2622.2h17.2v7.8h-17.2zM1740.1 2669.1h17.2v2.6h-17.2zM1722.9 2671.7h17.2v2.6h-17.2zM1722.9 2679.5h51.6v2.6h-51.6z"/><path fill="#0A8A94" d="M1963.6 1661.6h17.2v2.6h-17.2zM1757.3 1664.2h17.2v2.6h-17.2zM1980.8 1669.4h17.2v5.2h-17.2zM2015.2 1672h17.2v5.2h-17.2zM1894.8 1685h17.2v2.6h-17.2zM2015.2 1685h34.4v2.6h-34.4zM1963.6 1685h34.4v2.6h-34.4zM1757.3 1687.6h17.2v2.6h-17.2zM2032.4 1690.2h17.2v2.6h-17.2zM1963.6 1698h17.2v5.3h-17.2zM1963.6 1705.9h17.2v10.4h-17.2zM2032.4 1713.7h17.2v2.6h-17.2zM1894.8 1716.3h34.4v2.6h-34.4zM2015.2 1716.3h34.4v2.6h-34.4zM1963.6 1716.3h34.4v2.6h-34.4zM1963.6 1718.9h17.2v5.2h-17.2zM1894.8 1721.5h17.2v2.6h-17.2zM2032.4 1721.5h17.2v2.6h-17.2zM2015.2 1724.1h51.6v2.6h-51.6zM1894.8 1724.1h34.4v2.6h-34.4zM1946.4 1724.1h51.6v2.6h-51.6zM1963.6 1726.7h17.2v5.2h-17.2zM2032.4 1726.7h17.2v5.2h-17.2zM2015.2 1731.9h34.4v2.6h-34.4zM1963.6 1731.9h34.4v2.6h-34.4zM2049.6 1734.5h17.2v2.6h-17.2zM1894.8 1734.5h17.2v2.6h-17.2zM1946.4 1734.5h51.6v2.6h-51.6zM2015.2 1734.5h17.2v2.6h-17.2zM2032.4 1739.7h34.4v2.6h-34.4zM1894.8 1744.9h17.2v2.6h-17.2zM2015.2 1744.9h17.2v2.6h-17.2zM2049.6 1747.5h17.2v2.6h-17.2zM2032.4 1750.1h34.4v2.6h-34.4zM2049.6 1752.7h17.2v2.6h-17.2zM1963.6 1737.1h17.2v20.8h-17.2zM2032.4 1755.3h34.4v2.6h-34.4zM2032.4 1757.9h17.2v5.2h-17.2zM1963.6 1760.5h17.2v5.2h-17.2zM2015.2 1763.1h34.4v2.6h-34.4zM1757.3 1770.9h17.2v2.6h-17.2zM2015.2 1773.5h17.2v2.6h-17.2zM2015.2 1778.7h17.2v2.7h-17.2zM1894.8 1773.5h17.2v10.5h-17.2zM1963.6 1773.5h17.2v10.5h-17.2zM2015.2 1781.4h34.4v2.6h-34.4zM1894.8 1789.2h17.2v2.6h-17.2zM2015.2 1789.2h17.2v2.6h-17.2zM1963.6 1789.2h34.4v2.6h-34.4zM1757.3 1791.8h17.2v2.6h-17.2zM1963.6 1797h17.2v5.2h-17.2zM1894.8 1799.6h17.2v2.6h-17.2zM2015.2 1799.6h17.2v2.6h-17.2zM2032.4 1804.8h17.2v2.6h-17.2zM1912 1804.8h103.2v2.6h-103.2zM1894.8 1807.4h17.2v2.6h-17.2zM1963.6 1807.4h17.2v5.2h-17.2zM2015.2 1807.4h17.2v5.2h-17.2zM1877.6 1810h17.2v5.2h-17.2zM1912 1812.6h34.4v2.6h-34.4zM1980.8 1812.6h34.4v2.6h-34.4zM2032.4 1812.6h34.4v2.6h-34.4zM1808.8 1812.6h17.2v2.6h-17.2zM2032.4 1815.2h17.2v2.6h-17.2zM1877.6 1815.2h86v2.6h-86zM1912 1817.8h51.6v2.6h-51.6zM1980.8 1817.8h34.4v2.6h-34.4zM2032.4 1817.8h34.4v2.6h-34.4zM1912 1820.4h120.4v2.6h-120.4zM1877.6 1820.4h17.2v5.2h-17.2zM2032.4 1823h34.4v2.6h-34.4zM1912 1823h51.6v2.6h-51.6zM1980.8 1823h34.4v2.6h-34.4zM1963.6 1825.6h86v2.6h-86zM1912 1825.6h34.4v2.6h-34.4zM1929.2 1828.2h137.6v2.6h-137.6zM1877.6 1828.2h17.2v2.6h-17.2zM1912 1830.8h51.6v2.6h-51.6zM1980.8 1830.8h34.4v2.6h-34.4zM2032.4 1830.8h34.4v2.6h-34.4zM1912 1833.4h68.8v2.6h-68.8zM2015.2 1833.4h34.4v2.6h-34.4zM1912 1836h154.8v2.6h-154.8zM1877.6 1833.4h17.2v7.8h-17.2zM2049.6 1838.6h17.2v2.6h-17.2zM1912 1838.6h86v2.6h-86zM2015.2 1838.6h17.2v2.6h-17.2zM2032.4 1841.2h34.4v2.6h-34.4zM1980.8 1841.2h34.4v2.6h-34.4zM1912 1841.2h34.4v2.6h-34.4zM1894.8 1843.8h17.2v2.6h-17.2zM1963.6 1843.8h17.2v2.6h-17.2zM2015.2 1843.8h17.2v5.2h-17.2zM1946.4 1846.4h51.6v2.6h-51.6zM1877.6 1846.4h17.2v2.6h-17.2zM2015.2 1849h51.6v2.6h-51.6zM1877.6 1849h51.6v2.6h-51.6zM1963.6 1849h34.4v5.2h-34.4zM2015.2 1851.6h17.2v2.6h-17.2zM1894.8 1851.6h17.2v5.2h-17.2zM1963.6 1856.8h17.2v2.7h-17.2zM1912 1859.5h51.6v2.6h-51.6zM1998 1859.5h17.2v5.2h-17.2zM1963.6 1862.1h17.2v2.6h-17.2zM2032.4 1862.1h17.2v2.6h-17.2zM1894.8 1864.7h17.2v2.6h-17.2zM1963.6 1864.7h34.4v5.2h-34.4zM1877.6 1867.3h34.4v2.6h-34.4zM1929.2 1869.9h34.4v2.6h-34.4zM1877.6 1869.9h17.2v2.6h-17.2zM1877.6 1872.5h34.4v2.6h-34.4zM1963.6 1872.5h34.4v2.6h-34.4zM1912 1875.1h51.6v2.6h-51.6zM1877.6 1875.1h17.2v2.6h-17.2zM1877.6 1877.7h51.6v2.6h-51.6zM1946.4 1877.7h17.2v2.6h-17.2zM1894.8 1880.3h17.2v2.6h-17.2zM1808.8 1882.9h34.4v2.6h-34.4zM1774.5 1882.9h17.2v2.6h-17.2zM1912 1882.9h34.4v2.6h-34.4zM1946.4 1885.5h17.2v2.6h-17.2zM1877.6 1885.5h51.6v2.6h-51.6zM1808.8 1888.1h34.4v2.6h-34.4zM1774.5 1888.1h17.2v2.6h-17.2zM1912 1888.1h51.6v2.6h-51.6zM1877.6 1890.7h34.4v2.6h-34.4zM1946.4 1890.7h17.2v7.8h-17.2zM1877.6 1895.9h17.2v2.6h-17.2zM1980.8 1895.9h17.2v2.6h-17.2zM1671.3 1898.5h17.2v2.6h-17.2zM1826 1898.5h17.2v2.6h-17.2zM1705.7 1898.5h17.2v2.6h-17.2zM1860.4 1898.5h17.2v2.6h-17.2zM1774.5 1898.5h34.3v2.6h-34.3zM1671.3 1906.3h17.2v2.6h-17.2zM1912 1906.3h34.4v2.6h-34.4zM1877.6 1906.3h17.2v2.6h-17.2zM1671.3 1908.9h51.6v2.6h-51.6zM1912 1908.9h17.2v2.6h-17.2zM1808.8 1911.5h68.8v2.6h-68.8zM1774.5 1911.5h17.2v2.6h-17.2zM1619.7 1911.5h17.2v2.6h-17.2zM1671.3 1914.1h51.6v2.6h-51.6zM1929.2 1914.1h17.2v2.6h-17.2zM1860.4 1916.7h17.2v2.6h-17.2zM1963.6 1906.3h34.4v15.6h-34.4zM1688.5 1916.7h34.4v5.2h-34.4zM1808.8 1916.7h17.2v5.2h-17.2zM1774.5 1921.9h68.7v2.6h-68.7zM1963.6 1921.9h17.2v2.6h-17.2zM1860.4 1921.9h17.2v2.6h-17.2zM1688.5 1921.9h17.2v2.6h-17.2zM1774.5 1924.5h17.2v2.6h-17.2zM1929.2 1924.5h17.2v2.6h-17.2zM1826 1924.5h17.2v5.2h-17.2zM1671.3 1924.5h51.6v5.2h-51.6zM1860.4 1927.1h17.2v2.6h-17.2zM1963.6 1924.5h34.4v7.8h-34.4zM1602.5 1929.7h17.2v2.6h-17.2zM1774.5 1929.7h103.1v2.6h-103.1zM1791.7 1932.3h85.9v2.6h-85.9zM1963.6 1932.3h17.2v2.6h-17.2zM1568.1 1934.9h103.2v2.7h-103.2zM1843.2 1937.6h17.2v2.6h-17.2zM1602.5 1937.6h68.8v2.6h-68.8zM1774.5 1940.2h103.1v2.6h-103.1zM1705.7 1940.2h17.2v2.6h-17.2zM1998 1942.8h68.8v2.6h-68.8zM1602.5 1942.8h51.6v2.6h-51.6zM1843.2 1942.8h17.2v2.6h-17.2zM1568.1 1945.4h34.4v2.6h-34.4zM1636.9 1945.4h34.4v2.6h-34.4zM1998 1945.4h51.6v2.6h-51.6zM1774.5 1948h34.3v2.6h-34.3zM1998 1950.6h68.8v2.6h-68.8zM1843.2 1950.6h17.2v2.6h-17.2zM1602.5 1950.6h34.4v2.6h-34.4zM1774.5 1953.2h103.1v2.6h-103.1zM1688.5 1953.2h17.2v2.6h-17.2zM1998 1955.8h68.8v2.6h-68.8zM1602.5 1955.8h34.4v5.2h-34.4zM1998 1958.4h34.4v2.6h-34.4zM2049.6 1958.4h17.2v2.6h-17.2zM1602.5 1961h68.8v2.6h-68.8zM1705.7 1963.6h17.2v2.6h-17.2zM1998 1963.6h68.8v2.6h-68.8zM1826 1963.6h34.4v2.6h-34.4zM1774.5 1963.6h34.3v2.6h-34.3zM1688.5 1966.2h34.4v2.6h-34.4zM1774.5 1966.2h17.2v2.6h-17.2zM1843.2 1966.2h34.4v2.6h-34.4zM2032.4 1966.2h17.2v2.6h-17.2zM1808.8 1966.2h17.2v2.6h-17.2zM1602.5 1968.8h51.6v5.2h-51.6zM1826 1971.4h17.2v2.6h-17.2zM2049.6 1968.8h17.2v7.8h-17.2zM1998 1974h17.2v2.6h-17.2zM1671.3 1974h51.6v2.6h-51.6zM1774.5 1974h17.2v2.6h-17.2zM1808.8 1974h17.2v2.6h-17.2zM1860.4 1974h17.2v5.2h-17.2zM1929.2 1976.6h17.2v2.6h-17.2zM1894.8 1981.8h17.2v2.6h-17.2zM1980.8 1981.8h17.2v2.6h-17.2zM1963.6 1984.4h34.4v5.2h-34.4zM1740.1 1987h34.4v2.6h-34.4zM1963.6 1989.6h17.2v2.6h-17.2zM1740.1 1989.6h17.2v5.2h-17.2zM1740.1 1994.8h34.4v2.6h-34.4zM1963.6 1994.8h17.2v5.2h-17.2zM1757.3 2000h17.2v2.6h-17.2zM1980.8 2000h17.2v2.6h-17.2zM1722.9 2000h17.2v2.6h-17.2zM1722.9 2002.6h34.4v2.6h-34.4zM1963.6 2002.6h17.2v2.6h-17.2zM1998 2005.2h34.4v5.2h-34.4zM2049.6 2005.2h17.2v5.2h-17.2zM1963.6 2007.8h17.2v2.6h-17.2zM1740.1 2007.8h17.2v2.6h-17.2zM2032.4 2010.4h34.4v2.6h-34.4zM1722.9 2026.1h34.4v2.6h-34.4zM1722.9 2028.7h51.6v2.6h-51.6zM1722.9 2031.3h34.4v2.6h-34.4zM1998 2033.9h17.2v2.6h-17.2zM1722.9 2033.9h51.6v2.6h-51.6zM1722.9 2036.5h34.4v2.6h-34.4zM1722.9 2044.3h34.4v2.6h-34.4zM1722.9 2046.9h17.2v2.6h-17.2zM1998 2046.9h34.4v2.6h-34.4zM1757.3 2046.9h17.2v2.6h-17.2zM1722.9 2049.5h51.6v2.6h-51.6zM1722.9 2052.1h17.2v2.6h-17.2zM2015.2 2059.9h17.2v2.6h-17.2zM1722.9 2059.9h51.6v2.6h-51.6zM1963.6 2059.9h17.2v5.2h-17.2zM1722.9 2062.5h34.4v2.6h-34.4zM1722.9 2067.7h51.6v2.6h-51.6zM1722.9 2075.5h17.2v2.6h-17.2zM1757.3 2075.5h17.2v2.6h-17.2zM1740.1 2078.1h17.2v2.6h-17.2zM1722.9 2080.7h51.6v5.2h-51.6zM1722.9 2085.9h17.2v2.6h-17.2zM1757.3 2085.9h17.2v5.2h-17.2zM1894.8 2093.7h17.2v2.7h-17.2zM1963.6 2093.7h17.2v2.7h-17.2zM1963.6 2099h17.2v2.6h-17.2zM1963.6 2114.6h17.2v2.6h-17.2zM1722.9 2114.6h17.2v7.8h-17.2zM1757.3 2114.6h17.2v7.8h-17.2zM1963.6 2119.8h17.2v2.6h-17.2zM1740.1 2122.4h34.4v2.6h-34.4zM1722.9 2125h17.2v2.6h-17.2zM1757.3 2125h17.2v2.6h-17.2zM1722.9 2127.6h51.6v2.6h-51.6zM1757.3 2130.2h17.2v2.6h-17.2zM1722.9 2130.2h17.2v2.6h-17.2zM1722.9 2132.8h51.6v2.6h-51.6zM1963.6 2135.4h17.2v2.6h-17.2zM1757.3 2135.4h17.2v2.6h-17.2zM1722.9 2138h51.6v2.6h-51.6zM1980.8 2143.2h17.2v2.6h-17.2zM1757.3 2140.6h17.2v7.8h-17.2zM1722.9 2145.8h17.2v2.6h-17.2zM1722.9 2148.4h51.6v5.2h-51.6zM1757.3 2153.6h17.2v7.8h-17.2zM1722.9 2153.6h17.2v7.8h-17.2zM1722.9 2164h34.4v2.6h-34.4zM1963.6 2166.6h17.2v2.6h-17.2zM1740.1 2166.6h34.4v2.6h-34.4zM1722.9 2169.2h51.6v2.6h-51.6zM1963.6 2171.8h17.2v2.7h-17.2zM1740.1 2171.8h34.4v2.7h-34.4zM1722.9 2177.1h17.2v2.6h-17.2zM1963.6 2177.1h17.2v2.6h-17.2zM1722.9 2179.7h34.4v2.6h-34.4zM1722.9 2182.3h51.6v2.6h-51.6zM1740.1 2184.9h34.4v2.6h-34.4zM1963.6 2184.9h17.2v2.6h-17.2zM1722.9 2187.5h51.6v2.6h-51.6zM1740.1 2190.1h34.4v2.6h-34.4zM1722.9 2192.7h34.4v2.6h-34.4zM1722.9 2195.3h51.6v7.8h-51.6zM1740.1 2203.1h34.4v2.6h-34.4zM1963.6 2200.5h17.2v7.8h-17.2zM1722.9 2208.3h51.6v2.6h-51.6zM1963.6 2210.9h34.4v2.6h-34.4zM1757.3 2213.5h17.2v2.6h-17.2zM1722.9 2213.5h17.2v2.6h-17.2zM1963.6 2216.1h17.2v2.6h-17.2zM1894.8 2218.7h17.2v2.6h-17.2zM1963.6 2218.7h34.4v2.6h-34.4zM1963.6 2221.3h17.2v2.6h-17.2zM1722.9 2221.3h51.6v5.2h-51.6zM1757.3 2226.5h17.2v2.6h-17.2zM1722.9 2226.5h17.2v2.6h-17.2zM1963.6 2226.5h17.2v5.2h-17.2zM1722.9 2231.7h51.6v2.6h-51.6zM1740.1 2236.9h17.2v2.6h-17.2zM1963.6 2236.9h17.2v5.2h-17.2zM1980.8 2242.1h17.2v2.6h-17.2zM1929.2 2242.1h34.4v2.6h-34.4zM1877.6 2242.1h34.4v2.6h-34.4zM1963.6 2244.7h17.2v2.6h-17.2zM1740.1 2244.7h17.2v2.6h-17.2zM1894.8 2247.3h17.2v2.6h-17.2zM1946.4 2247.3h17.2v2.6h-17.2zM1980.8 2247.3h17.2v2.6h-17.2zM1963.6 2249.9h34.4v2.7h-34.4zM1894.8 2252.6h17.2v2.6h-17.2zM1877.6 2255.2h17.2v2.6h-17.2zM1980.8 2252.6h17.2v7.8h-17.2zM1946.4 2255.2h17.2v5.2h-17.2zM1894.8 2257.8h17.2v2.6h-17.2zM1757.3 2260.4h17.2v5.2h-17.2zM1722.9 2260.4h17.2v5.2h-17.2zM1963.6 2260.4h17.2v10.4h-17.2zM1946.4 2270.8h34.4v2.6h-34.4zM1877.6 2273.4h34.4v2.6h-34.4zM1980.8 2273.4h17.2v2.6h-17.2zM1929.2 2273.4h34.4v2.6h-34.4zM1963.6 2276h17.2v7.8h-17.2zM1894.8 2278.6h17.2v5.2h-17.2zM1877.6 2289h68.8v2.6h-68.8zM1877.6 2291.6h17.2v2.6h-17.2zM1912 2291.6h68.8v2.6h-68.8zM1894.8 2294.2h34.4v2.6h-34.4zM1946.4 2294.2h34.4v2.6h-34.4zM1722.9 2296.8h17.2v2.6h-17.2zM1877.6 2296.8h103.2v2.6h-103.2zM1912 2299.4h51.6v2.6h-51.6zM1877.6 2299.4h17.2v2.6h-17.2zM1722.9 2302h17.2v2.6h-17.2zM1894.8 2302h17.2v2.6h-17.2zM1757.3 2302h17.2v2.6h-17.2zM1722.9 2304.6h34.4v2.6h-34.4zM1877.6 2307.2h86v2.6h-86zM1894.8 2309.8h34.4v2.6h-34.4zM1946.4 2309.8h17.2v5.2h-17.2zM1877.6 2312.4h51.6v2.6h-51.6zM1722.9 2309.8h17.2v7.8h-17.2zM1946.4 2315h34.4v2.6h-34.4zM1894.8 2315h34.4v2.6h-34.4zM1757.3 2309.8h17.2v10.4h-17.2zM1894.8 2317.6h17.2v2.6h-17.2zM1963.6 2320.2h17.2v2.6h-17.2zM1929.2 2320.2h17.2v2.6h-17.2zM1877.6 2320.2h17.2v2.6h-17.2zM1894.8 2322.8h86v2.6h-86zM1894.8 2325.4h17.2v2.6h-17.2zM1757.3 2325.4h17.2v2.6h-17.2zM1722.9 2325.4h17.2v5.3h-17.2zM1894.8 2328h86v2.7h-86zM1912 2330.7h34.4v2.6h-34.4zM1877.6 2330.7h17.2v2.6h-17.2zM1877.6 2333.3h103.2v2.6h-103.2zM1894.8 2335.9h34.4v2.6h-34.4zM1946.4 2335.9h34.4v2.6h-34.4zM1929.2 2338.5h51.6v2.6h-51.6zM1877.6 2338.5h17.2v5.2h-17.2zM1963.6 2341.1h17.2v2.6h-17.2zM1929.2 2343.7h34.4v2.6h-34.4zM1894.8 2343.7h17.2v2.6h-17.2zM1998 2346.3h34.4v2.6h-34.4zM1963.6 2346.3h17.2v2.6h-17.2zM1877.6 2346.3h17.2v2.6h-17.2zM1929.2 2346.3h17.2v2.6h-17.2zM1894.8 2348.9h86v2.6h-86zM1877.6 2351.5h103.2v2.6h-103.2zM1998 2354.1h17.2v2.6h-17.2zM1912 2354.1h34.4v2.6h-34.4zM1877.6 2354.1h17.2v2.6h-17.2zM1963.6 2354.1h17.2v5.2h-17.2zM1894.8 2356.7h17.2v2.6h-17.2zM1757.3 2356.7h17.2v2.6h-17.2zM1929.2 2356.7h17.2v2.6h-17.2zM1722.9 2356.7h17.2v2.6h-17.2zM1894.8 2359.3h86v2.6h-86zM1877.6 2361.9h17.2v2.6h-17.2zM1912 2361.9h68.8v2.6h-68.8zM1894.8 2364.5h86v2.6h-86zM1757.3 2364.5h17.2v2.6h-17.2zM1894.8 2367.1h51.6v2.6h-51.6zM1963.6 2367.1h17.2v2.6h-17.2zM1998 2369.7h17.2v2.6h-17.2zM1705.7 2369.7h17.2v2.6h-17.2zM1929.2 2369.7h17.2v2.6h-17.2zM1877.6 2369.7h17.2v5.2h-17.2zM1912 2372.3h68.8v2.6h-68.8zM1877.6 2374.9h103.2v2.6h-103.2zM1894.8 2377.5h34.4v2.6h-34.4zM1946.4 2377.5h34.4v2.6h-34.4zM1963.6 2380.1h17.2v2.6h-17.2zM1877.6 2380.1h34.4v2.6h-34.4zM1929.2 2380.1h17.2v2.6h-17.2zM1894.8 2382.7h86v5.2h-86zM1963.6 2387.9h17.2v2.6h-17.2zM1912 2387.9h34.4v2.6h-34.4zM1877.6 2387.9h17.2v2.6h-17.2zM1894.8 2390.5h86v2.6h-86zM1877.6 2393.1h17.2v2.6h-17.2zM1912 2393.1h68.8v2.6h-68.8zM1894.8 2395.7h86v5.2h-86zM1963.6 2400.9h17.2v2.6h-17.2zM1877.6 2400.9h17.2v2.6h-17.2zM1912 2403.5h68.8v2.6h-68.8zM1894.8 2406.1h17.2v2.6h-17.2zM1946.4 2406.1h34.4v2.6h-34.4zM1757.3 2406.1h17.2v2.6h-17.2zM1912 2408.7h68.8v2.7h-68.8zM1963.6 2411.4h17.2v2.6h-17.2zM1912 2411.4h34.4v2.6h-34.4zM1912 2414h68.8v5.2h-68.8zM1877.6 2419.2h68.8v2.6h-68.8zM1791.7 2421.8h17.1v2.6h-17.1zM1963.6 2419.2h17.2v7.8h-17.2zM1912 2424.4h34.4v2.6h-34.4zM1877.6 2421.8h17.2v7.8h-17.2zM1791.7 2427h17.1v2.6h-17.1zM1998 2427h17.2v2.6h-17.2zM1929.2 2427h17.2v2.6h-17.2zM1877.6 2429.6h86v2.6h-86zM1877.6 2432.2h17.2v2.6h-17.2zM1929.2 2432.2h17.2v2.6h-17.2zM1671.3 2434.8h17.2v2.6h-17.2zM1826 2434.8h17.2v2.6h-17.2zM1705.7 2434.8h17.2v2.6h-17.2zM1791.7 2434.8h17.1v2.6h-17.1zM1998 2434.8h34.4v2.6h-34.4zM2049.6 2434.8h17.2v2.6h-17.2zM1963.6 2432.2h17.2v7.8h-17.2zM1912 2437.4h34.4v2.6h-34.4zM1877.6 2437.4h17.2v5.2h-17.2zM1912 2440h68.8v2.6h-68.8zM1740.1 2442.6h17.2v2.6h-17.2zM1894.8 2442.6h17.2v5.2h-17.2zM1929.2 2442.6h34.4v5.2h-34.4zM1791.7 2445.2h17.1v2.6h-17.1zM1722.9 2447.8h17.2v2.6h-17.2zM1722.9 2453h17.2v2.6h-17.2zM2032.4 2502.5h17.2v2.6h-17.2zM2032.4 2507.7h17.2v2.6h-17.2zM1963.6 2510.3h34.4v2.6h-34.4zM1963.6 2515.5h17.2v2.6h-17.2zM1740.1 2512.9h34.4v7.8h-34.4zM1998 2518.1h68.8v2.6h-68.8zM1998 2520.7h34.4v2.6h-34.4zM2049.6 2520.7h17.2v2.6h-17.2zM1722.9 2520.7h51.6v2.6h-51.6zM2032.4 2523.3h34.4v2.6h-34.4zM1740.1 2523.3h17.2v5.2h-17.2zM1998 2525.9h17.2v2.6h-17.2zM2032.4 2525.9h17.2v5.2h-17.2zM1963.6 2531.1h17.2v5.2h-17.2zM1722.9 2531.1h51.6v7.8h-51.6zM1740.1 2541.5h17.2v2.6h-17.2zM1963.6 2544.1h17.2v2.6h-17.2zM1757.3 2544.1h17.2v2.6h-17.2zM1722.9 2544.1h17.2v5.2h-17.2zM1722.9 2549.3h34.4v2.6h-34.4zM1740.1 2551.9h17.2v2.6h-17.2zM1963.6 2551.9h17.2v5.2h-17.2zM1722.9 2554.5h34.4v5.2h-34.4zM1722.9 2559.7h51.6v2.6h-51.6zM1963.6 2559.7h17.2v5.2h-17.2zM1722.9 2562.3h17.2v2.6h-17.2zM2015.2 2562.3h17.2v2.6h-17.2zM1757.3 2562.3h17.2v2.6h-17.2zM1722.9 2575.4h17.2v2.6h-17.2zM1963.6 2580.6h17.2v2.6h-17.2zM1722.9 2580.6h51.6v2.6h-51.6zM1722.9 2583.2h17.2v2.6h-17.2zM1722.9 2596.2h34.4v5.2h-34.4zM1722.9 2604h17.2v2.6h-17.2zM1722.9 2609.2h34.4v2.6h-34.4zM1722.9 2611.8h51.6v2.6h-51.6zM1757.3 2614.4h17.2v2.6h-17.2zM1722.9 2617h34.4v2.6h-34.4zM1757.3 2619.6h17.2v2.6h-17.2zM1740.1 2622.2h17.2v2.6h-17.2zM1740.1 2624.8h34.4v5.2h-34.4zM1722.9 2630h34.4v2.6h-34.4zM1722.9 2632.6h51.6v5.2h-51.6zM1722.9 2637.8h17.2v2.6h-17.2zM1722.9 2640.4h34.4v5.3h-34.4zM1722.9 2648.3h34.4v2.6h-34.4zM1722.9 2656.1h34.4v7.8h-34.4zM1740.1 2663.9h17.2v2.6h-17.2zM1757.3 2669.1h17.2v2.6h-17.2zM1722.9 2669.1h17.2v2.6h-17.2zM1740.1 2671.7h17.2v2.6h-17.2zM1722.9 2674.3h51.6v2.6h-51.6zM1722.9 2676.9h34.4v2.6h-34.4zM1722.9 2682.1h34.4v2.6h-34.4z"/><path fill="#0F9690" d="M1894.8 1661.6h68.8v2.6h-68.8zM1980.8 1661.6h86v2.6h-86zM1963.6 1664.2h34.4v5.2h-34.4zM2015.2 1664.2h34.4v5.2h-34.4zM1946.4 1669.4h34.4v2.6h-34.4zM1894.8 1669.4h34.4v2.6h-34.4zM1998 1669.4h68.8v2.6h-68.8zM1998 1672h17.2v2.6h-17.2zM1912 1672h68.8v2.6h-68.8zM2032.4 1672h34.4v5.2h-34.4zM1912 1674.6h17.2v2.6h-17.2zM1946.4 1674.6h68.8v2.6h-68.8zM1963.6 1677.2h86v2.6h-86zM1946.4 1679.8h120.4v2.6h-120.4zM1894.8 1679.8h17.2v2.6h-17.2zM1963.6 1682.4h34.4v2.6h-34.4zM2015.2 1682.4h34.4v2.6h-34.4zM1998 1685h17.2v2.6h-17.2zM1912 1685h51.6v2.6h-51.6zM2049.6 1685h17.2v2.6h-17.2zM1877.6 1685h17.2v2.6h-17.2zM1963.6 1687.6h34.4v2.6h-34.4zM1963.6 1690.2h68.8v2.6h-68.8zM1894.8 1690.2h34.4v2.6h-34.4zM1946.4 1692.8h51.6v2.6h-51.6zM2032.4 1692.8h17.2v2.6h-17.2zM1894.8 1695.4h17.2v2.6h-17.2zM1946.4 1695.4h103.2v2.6h-103.2zM1894.8 1698h68.8v2.6h-68.8zM1980.8 1698h17.2v5.3h-17.2zM2015.2 1698h34.4v5.3h-34.4zM1894.8 1700.6h17.2v2.7h-17.2zM1946.4 1700.6h17.2v2.7h-17.2zM2032.4 1703.3h17.2v2.6h-17.2zM1963.6 1703.3h34.4v2.6h-34.4zM1980.8 1705.9h86v2.6h-86zM1946.4 1705.9h17.2v2.6h-17.2zM1877.6 1705.9h51.6v2.6h-51.6zM2015.2 1708.5h51.6v2.6h-51.6zM1929.2 1708.5h34.4v2.6h-34.4zM1877.6 1708.5h34.4v2.6h-34.4zM1980.8 1708.5h17.2v5.2h-17.2zM1894.8 1711.1h17.2v2.6h-17.2zM2015.2 1711.1h34.4v2.6h-34.4zM1946.4 1711.1h17.2v2.6h-17.2zM1877.6 1713.7h86v2.6h-86zM1980.8 1713.7h51.6v2.6h-51.6zM2049.6 1713.7h17.2v5.2h-17.2zM1998 1716.3h17.2v2.6h-17.2zM1929.2 1716.3h34.4v2.6h-34.4zM1877.6 1716.3h17.2v2.6h-17.2zM1946.4 1718.9h17.2v2.6h-17.2zM1980.8 1718.9h17.2v2.6h-17.2zM1894.8 1718.9h17.2v2.6h-17.2zM2015.2 1718.9h34.4v2.6h-34.4zM2049.6 1721.5h17.2v2.6h-17.2zM1980.8 1721.5h51.6v2.6h-51.6zM1912 1721.5h51.6v2.6h-51.6zM1877.6 1721.5h17.2v5.2h-17.2zM1998 1724.1h17.2v2.6h-17.2zM1929.2 1724.1h17.2v2.6h-17.2zM1946.4 1726.7h17.2v5.2h-17.2zM1894.8 1726.7h34.4v5.2h-34.4zM1980.8 1726.7h51.6v5.2h-51.6zM2049.6 1726.7h17.2v7.8h-17.2zM1877.6 1731.9h86v2.6h-86zM1998 1731.9h17.2v5.2h-17.2zM1912 1734.5h34.4v2.6h-34.4zM1808.8 1734.5h17.2v2.6h-17.2zM1877.6 1734.5h17.2v2.6h-17.2zM1877.6 1737.1h51.6v2.6h-51.6zM2049.6 1737.1h17.2v2.6h-17.2zM1894.8 1739.7h17.2v2.6h-17.2zM1980.8 1737.1h51.6v7.8h-51.6zM1877.6 1742.3h51.6v2.6h-51.6zM1912 1744.9h17.2v2.6h-17.2zM1980.8 1744.9h34.4v2.6h-34.4zM1877.6 1744.9h17.2v2.6h-17.2zM1980.8 1747.5h51.6v2.6h-51.6zM1877.6 1747.5h34.4v2.6h-34.4zM2015.2 1750.1h17.2v2.6h-17.2zM1980.8 1750.1h17.2v2.6h-17.2zM1894.8 1750.1h17.2v2.6h-17.2zM1877.6 1752.7h51.6v2.6h-51.6zM1980.8 1752.7h51.6v2.6h-51.6zM1946.4 1737.1h17.2v20.8h-17.2zM1980.8 1755.3h17.2v2.6h-17.2zM2015.2 1755.3h17.2v5.2h-17.2zM1894.8 1755.3h17.2v5.2h-17.2zM1963.6 1757.9h17.2v2.6h-17.2zM1980.8 1760.5h51.6v2.6h-51.6zM2049.6 1757.9h17.2v7.8h-17.2zM1946.4 1760.5h17.2v5.2h-17.2zM1877.6 1760.5h51.6v5.2h-51.6zM1980.8 1763.1h34.4v2.6h-34.4zM2015.2 1765.7h34.4v2.6h-34.4zM1946.4 1765.7h34.4v5.2h-34.4zM1998 1768.3h51.6v2.6h-51.6zM1894.8 1765.7h17.2v7.8h-17.2zM2015.2 1770.9h34.4v2.6h-34.4zM1963.6 1770.9h17.2v2.6h-17.2zM2032.4 1773.5h34.4v2.6h-34.4zM1877.6 1773.5h17.2v2.6h-17.2zM1980.8 1773.5h34.4v2.6h-34.4zM1980.8 1776.1h68.8v2.6h-68.8zM1912 1773.5h51.6v7.9h-51.6zM2032.4 1778.7h34.4v2.7h-34.4zM1877.6 1778.7h17.2v5.3h-17.2zM1980.8 1778.7h34.4v5.3h-34.4zM1946.4 1781.4h17.2v2.6h-17.2zM2049.6 1781.4h17.2v2.6h-17.2zM1912 1781.4h17.2v2.6h-17.2zM1808.8 1781.4h17.2v2.6h-17.2zM1946.4 1784h120.4v2.6h-120.4zM1894.8 1784h17.2v2.6h-17.2zM1963.6 1786.6h17.2v2.6h-17.2zM1877.6 1786.6h34.4v2.6h-34.4zM1998 1786.6h51.6v2.6h-51.6zM2032.4 1789.2h34.4v2.6h-34.4zM1877.6 1789.2h17.2v2.6h-17.2zM1808.8 1789.2h17.2v2.6h-17.2zM1998 1789.2h17.2v2.6h-17.2zM1912 1789.2h51.6v2.6h-51.6zM2015.2 1791.8h17.2v2.6h-17.2zM1963.6 1791.8h17.2v2.6h-17.2zM1894.8 1791.8h17.2v5.2h-17.2zM1946.4 1794.4h34.4v2.6h-34.4zM1998 1794.4h34.4v5.2h-34.4zM1946.4 1797h17.2v2.6h-17.2zM1877.6 1797h34.4v2.6h-34.4zM1912 1799.6h51.6v2.6h-51.6zM2032.4 1799.6h34.4v2.6h-34.4zM1877.6 1799.6h17.2v2.6h-17.2zM1980.8 1799.6h34.4v2.6h-34.4zM1877.6 1802.2h172v2.6h-172zM2049.6 1804.8h17.2v2.6h-17.2zM1877.6 1804.8h17.2v5.2h-17.2zM1808.8 1804.8h17.2v7.8h-17.2zM2032.4 1807.4h34.4v5.2h-34.4zM1980.8 1807.4h34.4v5.2h-34.4zM1912 1807.4h51.6v5.2h-51.6zM1705.7 1812.6h17.2v2.6h-17.2zM1774.5 1812.6h34.3v2.6h-34.3zM1826 1812.6h51.6v2.6h-51.6zM1980.8 1815.2h34.4v2.6h-34.4zM2049.6 1815.2h17.2v2.6h-17.2zM1860.4 1817.8h17.2v2.6h-17.2zM1808.8 1817.8h34.4v2.6h-34.4zM2032.4 1820.4h34.4v2.6h-34.4zM1808.8 1820.4h17.2v2.6h-17.2zM1791.7 1823h51.5v2.6h-51.5zM1808.8 1825.6h17.2v2.6h-17.2zM2049.6 1825.6h17.2v2.6h-17.2zM1912 1828.2h17.2v2.6h-17.2zM1774.5 1830.8h103.1v2.6h-103.1zM1705.7 1830.8h17.2v2.6h-17.2zM1808.8 1833.4h17.2v2.6h-17.2zM1980.8 1833.4h34.4v2.6h-34.4zM2049.6 1833.4h17.2v2.6h-17.2zM1808.8 1836h34.4v2.6h-34.4zM1998 1838.6h17.2v2.6h-17.2zM2032.4 1838.6h17.2v2.6h-17.2zM1705.7 1841.2h17.2v2.6h-17.2zM1774.5 1841.2h68.7v2.6h-68.7zM1912 1843.8h51.6v2.6h-51.6zM1980.8 1843.8h34.4v2.6h-34.4zM1877.6 1843.8h17.2v2.6h-17.2zM2032.4 1843.8h34.4v5.2h-34.4zM1912 1846.4h34.4v2.6h-34.4zM1929.2 1849h34.4v2.6h-34.4zM1808.8 1849h17.2v2.6h-17.2zM1998 1846.4h17.2v7.8h-17.2zM2032.4 1851.6h34.4v2.6h-34.4zM1912 1851.6h51.6v2.6h-51.6zM1877.6 1851.6h17.2v5.2h-17.2zM1912 1854.2h154.8v2.6h-154.8zM1946.4 1856.8h17.2v2.7h-17.2zM1877.6 1856.8h51.6v2.7h-51.6zM2049.6 1856.8h17.2v2.7h-17.2zM1980.8 1856.8h51.6v2.7h-51.6zM1774.5 1859.5h85.9v2.6h-85.9zM1980.8 1862.1h17.2v2.6h-17.2zM1877.6 1862.1h86v2.6h-86zM1877.6 1864.7h17.2v2.6h-17.2zM1912 1864.7h51.6v5.2h-51.6zM1791.7 1869.9h68.7v2.6h-68.7zM1705.7 1869.9h17.2v2.6h-17.2zM1912 1869.9h17.2v2.6h-17.2zM1912 1872.5h51.6v2.6h-51.6zM1774.5 1875.1h103.1v2.6h-103.1zM1671.3 1875.1h51.6v2.6h-51.6zM1929.2 1877.7h17.2v2.6h-17.2zM1826 1877.7h17.2v5.2h-17.2zM1912 1880.3h51.6v2.6h-51.6zM1877.6 1880.3h17.2v2.6h-17.2zM1843.2 1882.9h34.4v2.6h-34.4zM1602.5 1882.9h17.2v2.6h-17.2zM1636.9 1882.9h86v2.6h-86zM1791.7 1882.9h17.1v2.6h-17.1zM1774.5 1885.5h103.1v2.6h-103.1zM1929.2 1885.5h17.2v2.6h-17.2zM1705.7 1885.5h17.2v5.2h-17.2zM1671.3 1885.5h17.2v5.2h-17.2zM1843.2 1888.1h34.4v2.6h-34.4zM1791.7 1888.1h17.1v2.6h-17.1zM1774.5 1890.7h103.1v2.6h-103.1zM1912 1890.7h34.4v2.6h-34.4zM1877.6 1893.3h68.8v2.6h-68.8zM1774.5 1893.3h17.2v2.6h-17.2zM1860.4 1895.9h17.2v2.6h-17.2zM1929.2 1895.9h17.2v2.6h-17.2zM1894.8 1895.9h17.2v2.6h-17.2zM1843.2 1898.5h17.2v2.6h-17.2zM1602.5 1898.5h51.6v2.6h-51.6zM1688.5 1898.5h17.2v2.6h-17.2zM1808.8 1898.5h17.2v2.6h-17.2zM1791.7 1906.3h51.5v2.6h-51.5zM2049.6 1906.3h17.2v2.6h-17.2zM1688.5 1906.3h34.4v2.6h-34.4zM1774.5 1908.9h103.1v2.6h-103.1zM1602.5 1908.9h68.8v2.6h-68.8zM1636.9 1911.5h34.4v2.6h-34.4zM1602.5 1911.5h17.2v2.6h-17.2zM1791.7 1911.5h17.1v2.6h-17.1zM1774.5 1914.1h103.1v2.6h-103.1zM1568.1 1916.7h17.2v2.6h-17.2zM1826 1916.7h34.4v2.6h-34.4zM1774.5 1916.7h34.3v5.2h-34.3zM1826 1919.3h51.6v2.6h-51.6zM1843.2 1921.9h17.2v2.6h-17.2zM1568.1 1921.9h17.2v2.6h-17.2zM2049.6 1921.9h17.2v2.6h-17.2zM1843.2 1924.5h34.4v2.6h-34.4zM1791.7 1924.5h34.3v2.6h-34.3zM1602.5 1914.1h68.8v15.6h-68.8zM1843.2 1927.1h17.2v2.6h-17.2zM1774.5 1927.1h51.5v2.6h-51.5zM1619.7 1929.7h51.6v2.6h-51.6zM1568.1 1929.7h17.2v2.6h-17.2zM1568.1 1932.3h103.2v2.6h-103.2zM2032.4 1932.3h17.2v2.6h-17.2zM1533.7 1932.3h17.2v2.6h-17.2zM1533.7 1934.9h34.4v2.7h-34.4zM1998 1934.9h68.8v5.3h-68.8zM1533.7 1937.6h68.8v2.6h-68.8zM1568.1 1940.2h103.2v2.6h-103.2zM2032.4 1940.2h34.4v2.6h-34.4zM1654.1 1942.8h17.2v2.6h-17.2zM1533.7 1942.8h68.8v2.6h-68.8zM1533.7 1945.4h34.4v2.6h-34.4zM1998 1948h68.8v2.6h-68.8zM1602.5 1948h68.8v2.6h-68.8zM1585.3 1950.6h17.2v2.6h-17.2zM1636.9 1950.6h34.4v2.6h-34.4zM1533.7 1950.6h17.2v2.6h-17.2zM1602.5 1953.2h34.4v2.6h-34.4zM1998 1953.2h68.8v2.6h-68.8zM1585.3 1955.8h17.2v2.6h-17.2zM1636.9 1955.8h34.4v5.2h-34.4zM1568.1 1958.4h34.4v2.6h-34.4zM1533.7 1961h68.8v2.6h-68.8zM1602.5 1963.6h68.8v2.6h-68.8zM1998 1966.2h34.4v2.6h-34.4zM1791.7 1966.2h17.1v2.6h-17.1zM2049.6 1966.2h17.2v2.6h-17.2zM1619.7 1966.2h17.2v2.6h-17.2zM1826 1966.2h17.2v2.6h-17.2zM1533.7 1968.8h17.2v5.2h-17.2zM1654.1 1968.8h17.2v5.2h-17.2zM1568.1 1968.8h34.4v5.2h-34.4zM1791.7 1974h17.1v2.6h-17.1zM1826 1974h34.4v2.6h-34.4zM1671.3 1976.6h51.6v2.6h-51.6zM1774.5 1976.6h85.9v2.6h-85.9zM1877.6 1981.8h17.2v2.6h-17.2zM1946.4 1981.8h17.2v2.6h-17.2zM1912 1981.8h17.2v2.6h-17.2zM1722.9 1984.4h17.2v2.6h-17.2zM1980.8 1989.6h17.2v2.6h-17.2zM1757.3 1989.6h17.2v5.2h-17.2zM1963.6 1992.2h34.4v2.6h-34.4zM1980.8 1994.8h17.2v5.2h-17.2zM1740.1 1997.4h34.4v2.6h-34.4zM1894.8 2000h17.2v2.6h-17.2zM1757.3 2002.6h17.2v2.6h-17.2zM1980.8 2002.6h17.2v2.6h-17.2zM1722.9 2005.2h34.4v2.6h-34.4zM1963.6 2005.2h17.2v2.6h-17.2zM1980.8 2007.8h17.2v2.6h-17.2zM1722.9 2007.8h17.2v2.6h-17.2zM1757.3 2007.8h17.2v2.6h-17.2zM1722.9 2010.4h51.6v2.6h-51.6zM1998 2010.4h34.4v2.6h-34.4zM1963.6 2010.4h17.2v5.2h-17.2zM1722.9 2013h17.2v2.6h-17.2zM1998 2013h51.6v2.6h-51.6zM2015.2 2015.6h17.2v2.7h-17.2zM1998 2018.3h17.2v2.6h-17.2zM1722.9 2018.3h17.2v7.8h-17.2zM1963.6 2023.5h17.2v5.2h-17.2zM1757.3 2026.1h17.2v2.6h-17.2zM1946.4 2028.7h34.4v2.6h-34.4zM2049.6 2028.7h17.2v2.6h-17.2zM1998 2023.5h34.4v10.4h-34.4zM1757.3 2031.3h17.2v2.6h-17.2zM1963.6 2031.3h17.2v2.6h-17.2zM1946.4 2033.9h51.6v2.6h-51.6zM2015.2 2033.9h17.2v2.6h-17.2zM2049.6 2033.9h17.2v5.2h-17.2zM1757.3 2036.5h17.2v2.6h-17.2zM1963.6 2036.5h17.2v2.6h-17.2zM1998 2036.5h34.4v2.6h-34.4zM1963.6 2039.1h103.2v2.6h-103.2zM1722.9 2039.1h51.6v5.2h-51.6zM1998 2041.7h17.2v2.6h-17.2zM1757.3 2044.3h17.2v2.6h-17.2zM1946.4 2044.3h86v2.6h-86zM1946.4 2046.9h51.6v2.6h-51.6zM2032.4 2046.9h34.4v2.6h-34.4zM1998 2049.5h34.4v2.6h-34.4zM2049.6 2049.5h17.2v2.6h-17.2zM1740.1 2052.1h34.4v2.6h-34.4zM1963.6 2049.5h17.2v7.8h-17.2zM1998 2052.1h17.2v5.2h-17.2zM1722.9 2054.7h51.6v5.2h-51.6zM1998 2057.3h34.4v2.6h-34.4zM2032.4 2059.9h34.4v2.6h-34.4zM1980.8 2059.9h34.4v2.6h-34.4zM1946.4 2059.9h17.2v5.2h-17.2zM1757.3 2062.5h17.2v2.6h-17.2zM1980.8 2062.5h86v2.6h-86zM1722.9 2065.1h34.4v2.6h-34.4zM1998 2067.7h34.4v2.6h-34.4zM1963.6 2067.7h17.2v2.6h-17.2zM1722.9 2070.3h51.6v5.2h-51.6zM1998 2072.9h17.2v2.6h-17.2zM1946.4 2075.5h120.4v2.6h-120.4zM1722.9 2078.1h17.2v2.6h-17.2zM1757.3 2078.1h17.2v2.6h-17.2zM1963.6 2078.1h17.2v2.6h-17.2zM1998 2078.1h51.6v2.6h-51.6zM1963.6 2080.7h34.4v5.2h-34.4zM1963.6 2085.9h17.2v2.6h-17.2zM1894.8 2088.5h17.2v2.6h-17.2zM1963.6 2088.5h34.4v2.6h-34.4zM1946.4 2091.1h51.6v2.6h-51.6zM1912 2093.7h51.6v2.7h-51.6zM1877.6 2093.7h17.2v2.7h-17.2zM1980.8 2093.7h17.2v2.7h-17.2zM1946.4 2096.4h51.6v2.6h-51.6zM1894.8 2096.4h17.2v2.6h-17.2zM1946.4 2099h17.2v2.6h-17.2zM1980.8 2099h17.2v2.6h-17.2zM1894.8 2099h34.4v2.6h-34.4zM1946.4 2101.6h51.6v5.2h-51.6zM1894.8 2101.6h17.2v5.2h-17.2zM1963.6 2106.8h17.2v2.6h-17.2zM1963.6 2109.4h34.4v5.2h-34.4zM1894.8 2112h17.2v2.6h-17.2zM1980.8 2114.6h17.2v2.6h-17.2zM1963.6 2117.2h34.4v2.6h-34.4zM1980.8 2119.8h17.2v2.6h-17.2zM1946.4 2122.4h51.6v5.2h-51.6zM1963.6 2127.6h34.4v7.8h-34.4zM1894.8 2135.4h17.2v2.6h-17.2zM1946.4 2135.4h17.2v2.6h-17.2zM1980.8 2135.4h17.2v2.6h-17.2zM1963.6 2138h17.2v2.6h-17.2zM1946.4 2140.6h51.6v2.6h-51.6zM1946.4 2143.2h34.4v2.6h-34.4zM1963.6 2145.8h34.4v10.4h-34.4zM1946.4 2156.2h51.6v2.6h-51.6zM1894.8 2153.6h17.2v7.8h-17.2zM1963.6 2158.8h34.4v2.6h-34.4zM1722.9 2161.4h51.6v2.6h-51.6zM1757.3 2164h17.2v2.6h-17.2zM1963.6 2164h17.2v2.6h-17.2zM1946.4 2166.6h17.2v2.6h-17.2zM1980.8 2166.6h17.2v2.6h-17.2zM1877.6 2166.6h34.4v2.6h-34.4zM1963.6 2169.2h34.4v2.6h-34.4zM2015.2 2171.8h17.2v2.7h-17.2zM1946.4 2171.8h17.2v2.7h-17.2zM1980.8 2171.8h17.2v2.7h-17.2zM1894.8 2171.8h17.2v2.7h-17.2zM1722.9 2174.5h51.6v2.6h-51.6zM1894.8 2177.1h17.2v2.6h-17.2zM1946.4 2177.1h17.2v2.6h-17.2zM1980.8 2177.1h17.2v2.6h-17.2zM1757.3 2179.7h17.2v2.6h-17.2zM1963.6 2182.3h34.4v2.6h-34.4zM1946.4 2184.9h17.2v2.6h-17.2zM1877.6 2184.9h34.4v2.6h-34.4zM1980.8 2184.9h17.2v2.6h-17.2zM1963.6 2187.5h17.2v5.2h-17.2zM1722.9 2190.1h17.2v2.6h-17.2zM1757.3 2192.7h17.2v2.6h-17.2zM1894.8 2195.3h17.2v2.6h-17.2zM1963.6 2192.7h34.4v7.8h-34.4zM1894.8 2200.5h17.2v2.6h-17.2zM1877.6 2203.1h34.4v2.6h-34.4zM1946.4 2200.5h17.2v7.8h-17.2zM1980.8 2200.5h17.2v7.8h-17.2zM1894.8 2205.7h17.2v5.2h-17.2zM1946.4 2208.3h51.6v2.6h-51.6zM1877.6 2210.9h86v2.6h-86zM1946.4 2213.5h51.6v2.6h-51.6zM1894.8 2213.5h17.2v2.6h-17.2zM1980.8 2216.1h17.2v2.6h-17.2zM1929.2 2216.1h34.4v2.6h-34.4zM1877.6 2216.1h34.4v2.6h-34.4zM1912 2218.7h51.6v2.6h-51.6zM2015.2 2218.7h17.2v2.6h-17.2zM1877.6 2218.7h17.2v2.6h-17.2zM1929.2 2221.3h34.4v2.6h-34.4zM1894.8 2221.3h17.2v2.6h-17.2zM1980.8 2221.3h17.2v2.6h-17.2zM1946.4 2223.9h51.6v2.6h-51.6zM1946.4 2226.5h17.2v2.6h-17.2zM1894.8 2226.5h17.2v2.6h-17.2zM1980.8 2226.5h17.2v5.2h-17.2zM1877.6 2229.1h86v2.6h-86zM1946.4 2231.7h51.6v2.6h-51.6zM1877.6 2231.7h34.4v2.6h-34.4zM1877.6 2234.3h86v2.6h-86zM2015.2 2234.3h17.2v5.2h-17.2zM1929.2 2236.9h34.4v2.6h-34.4zM1877.6 2236.9h34.4v2.6h-34.4zM1980.8 2234.3h17.2v7.8h-17.2zM1894.8 2239.5h17.2v2.6h-17.2zM1946.4 2239.5h17.2v2.6h-17.2zM1912 2242.1h17.2v2.6h-17.2zM2015.2 2242.1h51.6v2.6h-51.6zM1980.8 2244.7h17.2v2.6h-17.2zM1929.2 2244.7h34.4v2.6h-34.4zM1877.6 2244.7h34.4v2.6h-34.4zM1912 2247.3h34.4v2.6h-34.4zM2015.2 2247.3h17.2v2.6h-17.2zM1877.6 2247.3h17.2v2.6h-17.2zM1877.6 2249.9h86v2.7h-86zM1912 2252.6h51.6v2.6h-51.6zM1877.6 2252.6h17.2v2.6h-17.2zM2049.6 2252.6h17.2v2.6h-17.2zM1894.8 2255.2h51.6v2.6h-51.6zM1912 2257.8h34.4v2.6h-34.4zM1877.6 2257.8h17.2v2.6h-17.2zM2015.2 2252.6h17.2v10.4h-17.2zM1929.2 2260.4h34.4v2.6h-34.4zM1894.8 2260.4h17.2v2.6h-17.2zM1877.6 2265.6h86v2.6h-86zM1946.4 2268.2h17.2v2.6h-17.2zM1894.8 2268.2h17.2v2.6h-17.2zM1980.8 2260.4h17.2v13h-17.2zM1929.2 2270.8h17.2v2.6h-17.2zM1877.6 2270.8h34.4v2.6h-34.4zM2015.2 2270.8h17.2v5.2h-17.2zM1912 2273.4h17.2v2.6h-17.2zM1877.6 2276h86v2.6h-86zM1980.8 2276h17.2v7.8h-17.2zM1912 2278.6h51.6v5.2h-51.6zM1877.6 2278.6h17.2v5.2h-17.2zM2015.2 2281.2h17.2v2.6h-17.2zM1877.6 2283.8h120.4v2.6h-120.4zM1877.6 2286.4h103.2v2.6h-103.2zM1946.4 2289h51.6v2.6h-51.6zM2015.2 2289h17.2v2.6h-17.2zM1808.8 2291.6h51.6v2.6h-51.6zM2049.6 2291.6h17.2v2.6h-17.2zM1980.8 2291.6h51.6v5.2h-51.6zM1877.6 2294.2h17.2v2.6h-17.2zM1929.2 2294.2h17.2v2.6h-17.2zM1998 2296.8h17.2v2.6h-17.2zM1671.3 2291.6h17.2v10.4h-17.2zM1998 2299.4h34.4v2.6h-34.4zM1963.6 2299.4h17.2v2.6h-17.2zM1912 2302h68.8v2.6h-68.8zM1877.6 2302h17.2v2.6h-17.2zM1757.3 2304.6h17.2v2.6h-17.2zM1877.6 2304.6h103.2v2.6h-103.2zM1963.6 2307.2h68.8v2.6h-68.8zM1774.5 2307.2h17.2v2.6h-17.2zM1671.3 2307.2h17.2v2.6h-17.2zM1877.6 2309.8h17.2v2.6h-17.2zM1963.6 2309.8h17.2v5.2h-17.2zM1929.2 2309.8h17.2v7.8h-17.2zM2015.2 2309.8h17.2v7.8h-17.2zM1877.6 2315h17.2v5.2h-17.2zM1912 2317.6h68.8v2.6h-68.8zM1998 2317.6h17.2v2.6h-17.2zM1705.7 2320.2h17.2v2.6h-17.2zM1808.8 2320.2h17.2v2.6h-17.2zM1980.8 2320.2h86v2.6h-86zM1671.3 2320.2h17.2v5.2h-17.2zM1912 2325.4h68.8v2.6h-68.8zM1877.6 2322.8h17.2v7.9h-17.2zM1998 2328h34.4v2.7h-34.4zM1774.5 2330.7h34.3v2.6h-34.3zM1826 2330.7h34.4v2.6h-34.4zM1980.8 2330.7h86v2.6h-86zM1705.7 2330.7h17.2v5.2h-17.2zM1671.3 2330.7h17.2v5.2h-17.2zM1980.8 2333.3h51.6v2.6h-51.6zM2015.2 2335.9h17.2v2.6h-17.2zM1877.6 2335.9h17.2v2.6h-17.2zM1929.2 2335.9h17.2v2.6h-17.2zM1774.5 2338.5h17.2v2.6h-17.2zM1808.8 2338.5h17.2v2.6h-17.2zM1980.8 2338.5h86v5.2h-86zM1671.3 2338.5h51.6v5.2h-51.6zM1774.5 2341.1h34.3v2.6h-34.3zM1826 2341.1h34.4v2.6h-34.4zM1912 2343.7h17.2v2.6h-17.2zM1877.6 2343.7h17.2v2.6h-17.2zM1963.6 2343.7h17.2v2.6h-17.2zM2032.4 2346.3h34.4v2.6h-34.4zM1774.5 2346.3h85.9v2.6h-85.9zM1980.8 2346.3h17.2v2.6h-17.2zM1671.3 2346.3h51.6v5.2h-51.6zM1877.6 2348.9h17.2v2.6h-17.2zM1998 2348.9h68.8v2.6h-68.8zM1671.3 2351.5h17.2v2.6h-17.2zM1705.7 2351.5h17.2v2.6h-17.2zM2049.6 2351.5h17.2v2.6h-17.2zM1980.8 2351.5h51.6v2.6h-51.6zM1774.5 2351.5h17.2v2.6h-17.2zM1791.7 2354.1h17.1v2.6h-17.1zM2015.2 2354.1h51.6v2.6h-51.6zM1980.8 2354.1h17.2v2.6h-17.2zM1671.3 2354.1h51.6v2.6h-51.6zM1826 2354.1h51.6v2.6h-51.6zM1946.4 2356.7h17.2v2.6h-17.2zM1912 2356.7h17.2v2.6h-17.2zM1877.6 2356.7h17.2v5.2h-17.2zM1980.8 2359.3h34.4v2.6h-34.4zM1791.7 2361.9h51.5v2.6h-51.5zM2049.6 2361.9h17.2v2.6h-17.2zM1980.8 2361.9h51.6v2.6h-51.6zM1671.3 2361.9h51.6v2.6h-51.6zM1998 2364.5h17.2v2.6h-17.2zM1877.6 2364.5h17.2v5.2h-17.2zM1826 2367.1h17.2v2.6h-17.2zM1980.8 2367.1h86v2.6h-86zM1688.5 2367.1h34.4v2.6h-34.4zM1671.3 2369.7h34.4v2.6h-34.4zM1568.1 2369.7h17.2v2.6h-17.2zM2015.2 2369.7h51.6v2.6h-51.6zM1774.5 2369.7h85.9v2.6h-85.9zM1980.8 2369.7h17.2v2.6h-17.2zM2032.4 2372.3h34.4v2.6h-34.4zM1671.3 2372.3h51.6v2.6h-51.6zM1774.5 2372.3h17.2v2.6h-17.2zM1705.7 2374.9h17.2v2.6h-17.2zM1826 2372.3h17.2v7.8h-17.2zM1980.8 2372.3h34.4v7.8h-34.4zM2049.6 2374.9h17.2v5.2h-17.2zM1877.6 2377.5h17.2v2.6h-17.2zM1929.2 2377.5h17.2v2.6h-17.2zM1671.3 2377.5h51.6v7.8h-51.6zM1980.8 2380.1h86v5.2h-86zM1877.6 2382.7h17.2v5.2h-17.2zM2049.6 2385.3h17.2v2.6h-17.2zM1980.8 2385.3h34.4v2.6h-34.4zM1688.5 2385.3h34.4v2.6h-34.4zM1671.3 2387.9h51.6v2.6h-51.6zM1980.8 2387.9h86v2.6h-86zM1826 2385.3h17.2v7.8h-17.2zM1998 2390.5h17.2v2.6h-17.2zM1705.7 2390.5h17.2v2.6h-17.2zM1877.6 2390.5h17.2v2.6h-17.2zM2049.6 2390.5h17.2v2.6h-17.2zM1671.3 2393.1h51.6v2.6h-51.6zM1980.8 2393.1h86v2.6h-86zM1791.7 2393.1h17.1v2.6h-17.1zM1980.8 2395.7h51.6v2.6h-51.6zM1688.5 2395.7h34.4v2.6h-34.4zM2049.6 2395.7h17.2v2.6h-17.2zM1826 2395.7h17.2v5.2h-17.2zM1877.6 2395.7h17.2v5.2h-17.2zM1774.5 2400.9h34.3v2.6h-34.3zM1826 2400.9h34.4v2.6h-34.4zM1980.8 2398.3h86v7.8h-86zM1671.3 2400.9h51.6v5.2h-51.6zM1826 2403.5h17.2v2.6h-17.2zM1791.7 2403.5h17.1v2.6h-17.1zM1912 2406.1h34.4v2.6h-34.4zM2015.2 2408.7h34.4v2.7h-34.4zM1980.8 2408.7h17.2v2.7h-17.2zM1843.2 2411.4h17.2v2.6h-17.2zM1705.7 2411.4h17.2v2.6h-17.2zM1791.7 2411.4h17.1v2.6h-17.1zM1998 2411.4h34.4v2.6h-34.4zM2049.6 2411.4h17.2v2.6h-17.2zM1671.3 2411.4h17.2v2.6h-17.2zM1998 2414h17.2v2.6h-17.2zM1877.6 2403.5h17.2v15.7h-17.2zM1791.7 2416.6h51.5v2.6h-51.5zM2049.6 2416.6h17.2v2.6h-17.2zM1980.8 2416.6h34.4v2.6h-34.4zM1671.3 2416.6h17.2v2.6h-17.2zM1998 2419.2h17.2v2.6h-17.2zM1826 2419.2h17.2v2.6h-17.2zM1808.8 2421.8h51.6v2.6h-51.6zM1671.3 2421.8h51.6v2.6h-51.6zM1980.8 2421.8h86v2.6h-86zM1774.5 2421.8h17.2v2.6h-17.2zM2049.6 2424.4h17.2v2.6h-17.2zM1791.7 2424.4h17.1v2.6h-17.1zM1980.8 2424.4h17.2v5.2h-17.2zM2015.2 2427h51.6v2.6h-51.6zM1671.3 2427h51.6v2.6h-51.6zM1774.5 2427h17.2v2.6h-17.2zM1808.8 2427h68.8v2.6h-68.8zM1963.6 2429.6h17.2v2.6h-17.2zM1791.7 2429.6h17.1v2.6h-17.1zM1671.3 2432.2h51.6v2.6h-51.6zM1980.8 2432.2h86v2.6h-86zM1826 2432.2h51.6v2.6h-51.6zM1774.5 2432.2h34.3v2.6h-34.3zM1688.5 2434.8h17.2v2.6h-17.2zM1843.2 2434.8h34.4v2.6h-34.4zM1980.8 2434.8h17.2v2.6h-17.2zM2032.4 2434.8h17.2v2.6h-17.2zM1808.8 2434.8h17.2v2.6h-17.2zM1774.5 2434.8h17.2v2.6h-17.2zM1671.3 2437.4h51.6v5.2h-51.6zM1980.8 2437.4h68.8v5.2h-68.8zM1774.5 2437.4h34.3v5.2h-34.3zM1619.7 2440h17.2v2.6h-17.2zM1791.7 2442.6h17.1v2.6h-17.1zM1757.3 2442.6h17.2v2.6h-17.2zM1826 2437.4h34.4v10.4h-34.4zM1877.6 2442.6h17.2v5.2h-17.2zM1912 2442.6h17.2v5.2h-17.2zM1963.6 2442.6h17.2v5.2h-17.2zM2032.4 2445.2h17.2v2.6h-17.2zM1740.1 2445.2h17.2v2.6h-17.2zM1619.7 2445.2h17.2v2.6h-17.2zM1671.3 2445.2h51.6v2.6h-51.6zM1774.5 2445.2h17.2v2.6h-17.2zM1894.8 2447.8h34.4v2.6h-34.4zM1619.7 2453h17.2v2.6h-17.2zM2032.4 2453h17.2v2.6h-17.2zM1894.8 2453h17.2v2.6h-17.2zM1654.1 2453h17.2v2.6h-17.2zM1791.7 2453h17.1v2.6h-17.1zM2032.4 2463.4h17.2v2.6h-17.2zM1894.8 2463.4h17.2v2.6h-17.2zM1602.5 2463.4h86v2.6h-86zM1722.9 2463.4h17.2v5.2h-17.2zM1602.5 2466h34.4v2.6h-34.4zM1654.1 2466h17.2v2.6h-17.2zM1722.9 2476.4h17.2v2.6h-17.2zM1619.7 2476.4h17.2v2.6h-17.2zM2032.4 2497.3h17.2v5.2h-17.2zM1722.9 2499.9h17.2v5.2h-17.2zM2015.2 2502.5h17.2v2.6h-17.2zM2032.4 2505.1h17.2v2.6h-17.2zM1722.9 2507.7h17.2v2.6h-17.2zM1998 2507.7h34.4v2.6h-34.4zM2049.6 2507.7h17.2v2.6h-17.2zM1963.6 2512.9h34.4v2.6h-34.4zM1980.8 2515.5h17.2v2.6h-17.2zM1722.9 2512.9h17.2v7.8h-17.2zM1963.6 2518.1h34.4v5.2h-34.4zM1998 2523.3h34.4v2.6h-34.4zM1722.9 2523.3h17.2v5.2h-17.2zM1757.3 2523.3h17.2v5.2h-17.2zM2015.2 2525.9h17.2v2.6h-17.2zM1963.6 2525.9h17.2v2.6h-17.2zM2049.6 2525.9h17.2v5.2h-17.2zM1963.6 2528.5h68.8v2.6h-68.8zM1722.9 2528.5h51.6v2.6h-51.6zM1980.8 2531.1h86v5.2h-86zM1998 2536.3h68.8v2.6h-68.8zM1722.9 2538.9h51.6v2.6h-51.6zM1963.6 2536.3h17.2v7.8h-17.2zM2015.2 2538.9h34.4v5.2h-34.4zM1722.9 2541.5h17.2v2.6h-17.2zM1757.3 2541.5h17.2v2.6h-17.2zM2015.2 2544.1h51.6v2.6h-51.6zM1980.8 2544.1h17.2v2.6h-17.2zM1740.1 2546.7h34.4v2.6h-34.4zM2032.4 2546.7h17.2v2.6h-17.2zM1963.6 2546.7h17.2v2.6h-17.2zM2015.2 2549.3h34.4v2.6h-34.4zM1963.6 2549.3h34.4v2.6h-34.4zM1722.9 2551.9h17.2v2.6h-17.2zM1980.8 2551.9h17.2v5.2h-17.2zM2015.2 2551.9h51.6v5.2h-51.6zM1757.3 2549.3h17.2v10.4h-17.2zM1963.6 2557.1h34.4v2.6h-34.4zM2015.2 2557.1h17.2v2.6h-17.2zM1980.8 2559.7h17.2v5.2h-17.2zM2032.4 2562.3h34.4v2.6h-34.4zM1722.9 2564.9h34.4v2.7h-34.4zM1722.9 2567.6h51.6v5.2h-51.6zM1963.6 2564.9h17.2v10.5h-17.2zM1722.9 2572.8h17.2v2.6h-17.2zM1740.1 2575.4h17.2v2.6h-17.2zM1963.6 2578h17.2v2.6h-17.2zM1722.9 2578h51.6v2.6h-51.6zM2015.2 2580.6h17.2v2.6h-17.2zM1980.8 2580.6h17.2v2.6h-17.2zM1740.1 2583.2h34.4v2.6h-34.4zM1963.6 2583.2h17.2v2.6h-17.2zM1722.9 2585.8h51.6v2.6h-51.6zM1722.9 2588.4h34.4v2.6h-34.4zM1722.9 2591h17.2v2.6h-17.2zM1722.9 2593.6h34.4v2.6h-34.4zM1757.3 2596.2h17.2v5.2h-17.2zM1963.6 2596.2h17.2v5.2h-17.2zM2015.2 2598.8h17.2v2.6h-17.2zM1722.9 2601.4h51.6v2.6h-51.6zM1740.1 2604h34.4v2.6h-34.4zM1722.9 2606.6h34.4v2.6h-34.4zM1757.3 2609.2h17.2v2.6h-17.2zM1963.6 2614.4h17.2v2.6h-17.2zM1757.3 2617h17.2v2.6h-17.2zM1757.3 2622.2h17.2v2.6h-17.2zM1963.6 2622.2h17.2v2.6h-17.2zM1963.6 2627.4h17.2v2.6h-17.2zM1757.3 2630h17.2v2.6h-17.2zM1740.1 2637.8h34.4v2.6h-34.4zM1757.3 2640.4h17.2v5.3h-17.2zM1722.9 2645.7h34.4v2.6h-34.4zM1757.3 2648.3h17.2v2.6h-17.2zM1722.9 2650.9h34.4v2.6h-34.4zM1722.9 2653.5h51.6v2.6h-51.6zM1757.3 2656.1h17.2v10.4h-17.2zM1722.9 2663.9h17.2v2.6h-17.2zM1722.9 2666.5h51.6v2.6h-51.6zM1757.3 2671.7h17.2v2.6h-17.2zM1757.3 2676.9h17.2v2.6h-17.2zM2015.2 2679.5h17.2v2.6h-17.2zM1963.6 2679.5h34.4v2.6h-34.4zM1757.3 2682.1h17.2v2.6h-17.2z"/><path fill="#129D8C" d="M1877.6 1661.6h17.2v2.6h-17.2zM1808.8 1661.6h17.2v2.6h-17.2zM1877.6 1664.2h86v2.6h-86zM2049.6 1664.2h17.2v5.2h-17.2zM1998 1664.2h17.2v5.2h-17.2zM1894.8 1666.8h68.8v2.6h-68.8zM1791.7 1669.4h34.3v2.6h-34.3zM1877.6 1669.4h17.2v2.6h-17.2zM1929.2 1669.4h17.2v2.6h-17.2zM1808.8 1672h17.2v2.6h-17.2zM1877.6 1672h34.4v5.2h-34.4zM1929.2 1674.6h17.2v2.6h-17.2zM1826 1674.6h17.2v2.6h-17.2zM1877.6 1677.2h86v2.6h-86zM2049.6 1677.2h17.2v2.6h-17.2zM1912 1679.8h34.4v2.6h-34.4zM1877.6 1679.8h17.2v2.6h-17.2zM1877.6 1682.4h86v2.6h-86zM1998 1682.4h17.2v2.6h-17.2zM2049.6 1682.4h17.2v2.6h-17.2zM1808.8 1685h51.6v2.6h-51.6zM1774.5 1685h17.2v2.6h-17.2zM1877.6 1687.6h51.6v2.6h-51.6zM1946.4 1687.6h17.2v2.6h-17.2zM1998 1687.6h68.8v2.6h-68.8zM1877.6 1690.2h17.2v2.6h-17.2zM1929.2 1690.2h34.4v2.6h-34.4zM1877.6 1692.8h68.8v2.6h-68.8zM1998 1692.8h34.4v2.6h-34.4zM1912 1695.4h34.4v2.6h-34.4zM1808.8 1695.4h17.2v5.2h-17.2zM1877.6 1695.4h17.2v7.9h-17.2zM1998 1698h17.2v5.3h-17.2zM1912 1700.6h34.4v2.7h-34.4zM2049.6 1690.2h17.2v15.7h-17.2zM1877.6 1703.3h86v2.6h-86zM1998 1703.3h34.4v2.6h-34.4zM1929.2 1705.9h17.2v2.6h-17.2zM1912 1708.5h17.2v2.6h-17.2zM1808.8 1708.5h17.2v2.6h-17.2zM1998 1708.5h17.2v5.2h-17.2zM1912 1711.1h34.4v2.6h-34.4zM1877.6 1711.1h17.2v2.6h-17.2zM2049.6 1711.1h17.2v2.6h-17.2zM1826 1713.7h17.2v2.6h-17.2zM1705.7 1716.3h17.2v2.6h-17.2zM1774.5 1716.3h103.1v2.6h-103.1zM1877.6 1718.9h17.2v2.6h-17.2zM2049.6 1718.9h17.2v2.6h-17.2zM1998 1718.9h17.2v2.6h-17.2zM1912 1718.9h34.4v2.6h-34.4zM1808.8 1721.5h17.2v2.6h-17.2zM1774.5 1721.5h17.2v2.6h-17.2zM1705.7 1724.1h17.2v2.6h-17.2zM1774.5 1724.1h103.1v2.6h-103.1zM1826 1726.7h17.2v2.6h-17.2zM1774.5 1726.7h17.2v2.6h-17.2zM1877.6 1726.7h17.2v5.2h-17.2zM1929.2 1726.7h17.2v5.2h-17.2zM1808.8 1729.3h17.2v2.6h-17.2zM1808.8 1731.9h51.6v2.6h-51.6zM1774.5 1731.9h17.2v2.6h-17.2zM1774.5 1734.5h34.3v2.6h-34.3zM1826 1734.5h51.6v2.6h-51.6zM1929.2 1737.1h17.2v2.6h-17.2zM1826 1737.1h17.2v2.6h-17.2zM1912 1739.7h34.4v2.6h-34.4zM1877.6 1739.7h17.2v2.6h-17.2zM1860.4 1742.3h17.2v2.6h-17.2zM1774.5 1742.3h68.7v2.6h-68.7zM1929.2 1742.3h17.2v5.2h-17.2zM1774.5 1744.9h103.1v2.6h-103.1zM1860.4 1747.5h17.2v2.6h-17.2zM1912 1747.5h34.4v5.2h-34.4zM1808.8 1747.5h17.2v5.2h-17.2zM1877.6 1750.1h17.2v2.6h-17.2zM1998 1750.1h17.2v2.6h-17.2zM1929.2 1752.7h17.2v2.6h-17.2zM1774.5 1752.7h103.1v2.6h-103.1zM1998 1755.3h17.2v2.6h-17.2zM1912 1755.3h34.4v2.6h-34.4zM1877.6 1755.3h17.2v5.2h-17.2zM1912 1757.9h51.6v2.6h-51.6zM1980.8 1757.9h34.4v2.6h-34.4zM1808.8 1755.3h17.2v7.8h-17.2zM1929.2 1760.5h17.2v5.2h-17.2zM1774.5 1763.1h17.2v2.6h-17.2zM1860.4 1763.1h17.2v2.6h-17.2zM1808.8 1763.1h34.4v2.6h-34.4zM1980.8 1765.7h34.4v2.6h-34.4zM1808.8 1765.7h17.2v5.2h-17.2zM1912 1765.7h34.4v5.2h-34.4zM1980.8 1768.3h17.2v2.6h-17.2zM1877.6 1765.7h17.2v7.8h-17.2zM2049.6 1765.7h17.2v7.8h-17.2zM1980.8 1770.9h34.4v2.6h-34.4zM1912 1770.9h51.6v2.6h-51.6zM1688.5 1773.5h17.2v2.6h-17.2zM1774.5 1773.5h103.1v2.6h-103.1zM1860.4 1776.1h34.4v2.6h-34.4zM2049.6 1776.1h17.2v2.6h-17.2zM1774.5 1776.1h51.5v2.6h-51.5zM1671.3 1778.7h17.2v2.7h-17.2zM1774.5 1778.7h103.1v2.7h-103.1zM1774.5 1781.4h34.3v2.6h-34.3zM1619.7 1781.4h17.2v2.6h-17.2zM1671.3 1781.4h51.6v2.6h-51.6zM1826 1781.4h51.6v2.6h-51.6zM1929.2 1781.4h17.2v2.6h-17.2zM1568.1 1781.4h17.2v2.6h-17.2zM1912 1784h34.4v2.6h-34.4zM1877.6 1784h17.2v2.6h-17.2zM1808.8 1784h51.6v2.6h-51.6zM1980.8 1786.6h17.2v2.6h-17.2zM2049.6 1786.6h17.2v2.6h-17.2zM1808.8 1786.6h17.2v2.6h-17.2zM1912 1786.6h51.6v2.6h-51.6zM1860.4 1786.6h17.2v5.2h-17.2zM1774.5 1789.2h34.3v2.6h-34.3zM1826 1789.2h17.2v2.6h-17.2zM1877.6 1791.8h17.2v2.6h-17.2zM1980.8 1791.8h34.4v2.6h-34.4zM1808.8 1791.8h17.2v2.6h-17.2zM1912 1791.8h51.6v2.6h-51.6zM1860.4 1794.4h34.4v2.6h-34.4zM1808.8 1794.4h34.4v2.6h-34.4zM2032.4 1791.8h34.4v7.8h-34.4zM1912 1794.4h34.4v5.2h-34.4zM1980.8 1794.4h17.2v5.2h-17.2zM1808.8 1797h17.2v2.6h-17.2zM1808.8 1799.6h51.6v2.6h-51.6zM1774.5 1799.6h17.2v2.6h-17.2zM1808.8 1802.2h17.2v2.6h-17.2zM2049.6 1802.2h17.2v2.6h-17.2zM1671.3 1804.8h51.6v2.6h-51.6zM1619.7 1804.8h17.2v2.6h-17.2zM1774.5 1804.8h34.3v2.6h-34.3zM1568.1 1804.8h17.2v2.6h-17.2zM1826 1804.8h51.6v7.8h-51.6zM1705.7 1807.4h17.2v5.2h-17.2zM1774.5 1810h17.2v2.6h-17.2zM1654.1 1812.6h51.6v2.6h-51.6zM1619.7 1812.6h17.2v2.6h-17.2zM1568.1 1812.6h34.4v2.6h-34.4zM1774.5 1815.2h103.1v2.6h-103.1zM1671.3 1815.2h51.6v5.2h-51.6zM1843.2 1817.8h17.2v2.6h-17.2zM1774.5 1817.8h34.3v5.2h-34.3zM1826 1820.4h51.6v2.6h-51.6zM1671.3 1820.4h17.2v2.6h-17.2zM1843.2 1823h34.4v2.6h-34.4zM1774.5 1823h17.2v2.6h-17.2zM1774.5 1825.6h34.3v2.6h-34.3zM1826 1825.6h51.6v2.6h-51.6zM1671.3 1823h51.6v7.8h-51.6zM1774.5 1828.2h103.1v2.6h-103.1zM1671.3 1830.8h34.4v2.6h-34.4zM1826 1833.4h51.6v2.6h-51.6zM1671.3 1833.4h17.2v2.6h-17.2zM1705.7 1833.4h17.2v2.6h-17.2zM1774.5 1833.4h34.3v5.2h-34.3zM1843.2 1836h34.4v2.6h-34.4zM1671.3 1836h51.6v2.6h-51.6zM1671.3 1838.6h17.2v2.6h-17.2zM1705.7 1838.6h17.2v2.6h-17.2zM1774.5 1838.6h103.1v2.6h-103.1zM1843.2 1841.2h34.4v2.6h-34.4zM1671.3 1841.2h34.4v2.6h-34.4zM1705.7 1843.8h17.2v2.6h-17.2zM1774.5 1843.8h103.1v5.2h-103.1zM1826 1849h34.4v2.6h-34.4zM1774.5 1849h34.3v2.6h-34.3zM1671.3 1849h17.2v2.6h-17.2zM1705.7 1849h17.2v2.6h-17.2zM1791.7 1851.6h85.9v2.6h-85.9zM1808.8 1854.2h51.6v2.6h-51.6zM2032.4 1856.8h17.2v2.7h-17.2zM1929.2 1856.8h17.2v2.7h-17.2zM1808.8 1856.8h34.4v2.7h-34.4zM1585.3 1859.5h17.2v2.6h-17.2zM1860.4 1859.5h17.2v2.6h-17.2zM1619.7 1859.5h103.2v2.6h-103.2zM1808.8 1862.1h34.4v2.6h-34.4zM1688.5 1864.7h34.4v2.6h-34.4zM1774.5 1864.7h103.1v5.2h-103.1zM1671.3 1867.3h17.2v2.6h-17.2zM1705.7 1867.3h17.2v2.6h-17.2zM1860.4 1869.9h17.2v2.6h-17.2zM1602.5 1869.9h103.2v2.6h-103.2zM1568.1 1869.9h17.2v2.6h-17.2zM1774.5 1869.9h17.2v5.2h-17.2zM1808.8 1872.5h68.8v2.6h-68.8zM1671.3 1872.5h17.2v2.6h-17.2zM1705.7 1872.5h17.2v2.6h-17.2zM1533.7 1875.1h17.2v2.6h-17.2zM1568.1 1875.1h103.2v2.6h-103.2zM1671.3 1877.7h51.6v2.6h-51.6zM1602.5 1877.7h17.2v2.6h-17.2zM1568.1 1877.7h17.2v2.6h-17.2zM1843.2 1877.7h34.4v5.2h-34.4zM1774.5 1877.7h51.5v5.2h-51.5zM1654.1 1880.3h68.8v2.6h-68.8zM1533.7 1882.9h68.8v2.6h-68.8zM1619.7 1882.9h17.2v2.6h-17.2zM1533.7 1885.5h17.2v2.6h-17.2zM1568.1 1885.5h103.2v2.6h-103.2zM1688.5 1885.5h17.2v5.2h-17.2zM1533.7 1888.1h137.6v2.6h-137.6zM1533.7 1890.7h17.2v2.6h-17.2zM1568.1 1890.7h154.8v2.6h-154.8zM1791.7 1893.3h85.9v2.6h-85.9zM1671.3 1893.3h51.6v5.2h-51.6zM1912 1895.9h17.2v2.6h-17.2zM1774.5 1895.9h85.9v2.6h-85.9zM1654.1 1898.5h17.2v2.6h-17.2zM1568.1 1898.5h34.4v2.6h-34.4zM1533.7 1898.5h17.2v2.6h-17.2zM1843.2 1906.3h34.4v2.6h-34.4zM1998 1906.3h51.6v2.6h-51.6zM1774.5 1906.3h17.2v2.6h-17.2zM1602.5 1906.3h68.8v2.6h-68.8zM1568.1 1908.9h34.4v2.6h-34.4zM2049.6 1908.9h17.2v2.6h-17.2zM1533.7 1911.5h68.8v2.6h-68.8zM1998 1911.5h68.8v2.6h-68.8zM1533.7 1914.1h17.2v2.6h-17.2zM1568.1 1914.1h34.4v2.6h-34.4zM1998 1914.1h34.4v2.6h-34.4zM2049.6 1914.1h17.2v2.6h-17.2zM1585.3 1916.7h17.2v2.6h-17.2zM2015.2 1916.7h51.6v2.6h-51.6zM2032.4 1919.3h34.4v2.6h-34.4zM1568.1 1919.3h34.4v2.6h-34.4zM1998 1919.3h17.2v2.6h-17.2zM1585.3 1921.9h17.2v2.6h-17.2zM1998 1921.9h51.6v2.6h-51.6zM2049.6 1924.5h17.2v2.6h-17.2zM1533.7 1921.9h17.2v7.8h-17.2zM1568.1 1924.5h34.4v5.2h-34.4zM2032.4 1927.1h34.4v2.6h-34.4zM1998 1927.1h17.2v2.6h-17.2zM1585.3 1929.7h17.2v2.6h-17.2zM1533.7 1929.7h34.4v2.6h-34.4zM1998 1929.7h68.8v2.6h-68.8zM1550.9 1932.3h17.2v2.6h-17.2zM1998 1932.3h34.4v2.6h-34.4zM2049.6 1932.3h17.2v2.6h-17.2zM1533.7 1940.2h34.4v2.6h-34.4zM1998 1940.2h34.4v2.6h-34.4zM1533.7 1948h68.8v2.6h-68.8zM1550.9 1950.6h34.4v2.6h-34.4zM1636.9 1953.2h34.4v2.6h-34.4zM1533.7 1955.8h51.6v2.6h-51.6zM1533.7 1958.4h34.4v2.6h-34.4zM1568.1 1963.6h34.4v2.6h-34.4zM1533.7 1963.6h17.2v2.6h-17.2zM1636.9 1966.2h34.4v2.6h-34.4zM1585.3 1966.2h34.4v2.6h-34.4zM1550.9 1968.8h17.2v5.2h-17.2zM1602.5 1974h51.6v2.6h-51.6zM1619.7 1976.6h51.6v2.6h-51.6zM1671.3 1981.8h17.2v2.6h-17.2zM1774.5 1981.8h17.2v2.6h-17.2zM1929.2 1981.8h17.2v2.6h-17.2zM1877.6 1984.4h51.6v2.6h-51.6zM1946.4 1984.4h17.2v2.6h-17.2zM1722.9 1987h17.2v2.6h-17.2zM1722.9 1994.8h17.2v5.2h-17.2zM1877.6 2000h17.2v2.6h-17.2zM1912 2000h17.2v2.6h-17.2zM1946.4 2000h17.2v5.2h-17.2zM1877.6 2002.6h51.6v2.6h-51.6zM1757.3 2005.2h17.2v2.6h-17.2zM1980.8 2005.2h17.2v2.6h-17.2zM1946.4 2007.8h17.2v2.6h-17.2zM1894.8 2007.8h34.4v2.6h-34.4zM1980.8 2010.4h17.2v5.2h-17.2zM2032.4 2015.6h17.2v2.7h-17.2zM1722.9 2015.6h17.2v2.7h-17.2zM1963.6 2015.6h51.6v2.7h-51.6zM1963.6 2018.3h34.4v2.6h-34.4zM2015.2 2018.3h34.4v2.6h-34.4zM1963.6 2020.9h86v2.6h-86zM2032.4 2023.5h17.2v2.6h-17.2zM1894.8 2023.5h17.2v2.6h-17.2zM1946.4 2023.5h17.2v5.2h-17.2zM2032.4 2026.1h34.4v2.6h-34.4zM1877.6 2026.1h51.6v2.6h-51.6zM2032.4 2028.7h17.2v2.6h-17.2zM1877.6 2028.7h34.4v2.6h-34.4zM1980.8 2023.5h17.2v10.4h-17.2zM1877.6 2031.3h17.2v2.6h-17.2zM2032.4 2031.3h34.4v2.6h-34.4zM1912 2031.3h51.6v2.6h-51.6zM1877.6 2033.9h68.8v2.6h-68.8zM2032.4 2033.9h17.2v5.2h-17.2zM1877.6 2036.5h51.6v2.6h-51.6zM1980.8 2036.5h17.2v2.6h-17.2zM1946.4 2036.5h17.2v5.2h-17.2zM1894.8 2039.1h17.2v2.6h-17.2zM1946.4 2041.7h51.6v2.6h-51.6zM2015.2 2041.7h51.6v2.6h-51.6zM1877.6 2041.7h51.6v5.2h-51.6zM2032.4 2044.3h34.4v2.6h-34.4zM1877.6 2046.9h68.8v2.6h-68.8zM1671.3 2046.9h51.6v2.6h-51.6zM1619.7 2046.9h17.2v2.6h-17.2zM2032.4 2049.5h17.2v2.6h-17.2zM1877.6 2049.5h86v2.6h-86zM1912 2052.1h51.6v2.6h-51.6zM1980.8 2049.5h17.2v7.8h-17.2zM2015.2 2052.1h51.6v5.2h-51.6zM1946.4 2054.7h17.2v2.6h-17.2zM1877.6 2052.1h17.2v7.8h-17.2zM1946.4 2057.3h51.6v2.6h-51.6zM2032.4 2057.3h34.4v2.6h-34.4zM1877.6 2059.9h68.8v2.6h-68.8zM1877.6 2062.5h51.6v2.6h-51.6zM1671.3 2062.5h17.2v2.6h-17.2zM1757.3 2065.1h17.2v2.6h-17.2zM1963.6 2065.1h68.8v2.6h-68.8zM2032.4 2067.7h34.4v2.6h-34.4zM1877.6 2067.7h34.4v2.6h-34.4zM1946.4 2067.7h17.2v2.6h-17.2zM1980.8 2067.7h17.2v2.6h-17.2zM1963.6 2070.3h68.8v2.6h-68.8zM2049.6 2070.3h17.2v2.6h-17.2zM2015.2 2072.9h51.6v2.6h-51.6zM1963.6 2072.9h34.4v2.6h-34.4zM1877.6 2075.5h68.8v2.6h-68.8zM1619.7 2075.5h17.2v2.6h-17.2zM1705.7 2075.5h17.2v2.6h-17.2zM1877.6 2078.1h34.4v2.6h-34.4zM1980.8 2078.1h17.2v2.6h-17.2zM2049.6 2078.1h17.2v2.6h-17.2zM1998 2080.7h68.8v2.6h-68.8zM1894.8 2080.7h34.4v2.6h-34.4zM2015.2 2083.3h17.2v2.6h-17.2zM1946.4 2078.1h17.2v10.4h-17.2zM1877.6 2083.3h51.6v5.2h-51.6zM1980.8 2085.9h17.2v2.6h-17.2zM1877.6 2088.5h17.2v2.6h-17.2zM1912 2088.5h51.6v2.6h-51.6zM1877.6 2091.1h68.8v2.6h-68.8zM1791.7 2091.1h17.1v2.6h-17.1zM1860.4 2093.7h17.2v2.7h-17.2zM1774.5 2093.7h68.7v2.7h-68.7zM1912 2096.4h34.4v2.6h-34.4zM1791.7 2096.4h17.1v5.2h-17.1zM1929.2 2099h17.2v2.6h-17.2zM1877.6 2096.4h17.2v10.4h-17.2zM1912 2101.6h34.4v5.2h-34.4zM1791.7 2104.2h17.1v2.6h-17.1zM1877.6 2106.8h51.6v2.6h-51.6zM1980.8 2106.8h17.2v2.6h-17.2zM1877.6 2109.4h34.4v2.6h-34.4zM1912 2112h17.2v2.6h-17.2zM1894.8 2114.6h17.2v2.6h-17.2zM1877.6 2117.2h51.6v2.6h-51.6zM1946.4 2106.8h17.2v15.6h-17.2zM1877.6 2119.8h34.4v2.6h-34.4zM1877.6 2122.4h51.6v2.6h-51.6zM1791.7 2117.2h17.1v10.4h-17.1zM1877.6 2125h68.8v2.6h-68.8zM2015.2 2125h17.2v2.6h-17.2zM1894.8 2127.6h17.2v2.6h-17.2zM1894.8 2130.2h34.4v2.6h-34.4zM1946.4 2127.6h17.2v7.8h-17.2zM1894.8 2132.8h17.2v2.6h-17.2zM1912 2135.4h34.4v2.6h-34.4zM1877.6 2135.4h17.2v2.6h-17.2zM1791.7 2135.4h17.1v2.6h-17.1zM2015.2 2135.4h17.2v2.6h-17.2zM1946.4 2138h17.2v2.6h-17.2zM1980.8 2138h17.2v2.6h-17.2zM1877.6 2138h34.4v2.6h-34.4zM1877.6 2140.6h51.6v5.2h-51.6zM1877.6 2145.8h34.4v5.2h-34.4zM1894.8 2151h17.2v2.6h-17.2zM1946.4 2145.8h17.2v10.4h-17.2zM1912 2153.6h17.2v2.6h-17.2zM1912 2156.2h34.4v2.6h-34.4zM1877.6 2153.6h17.2v7.8h-17.2zM2015.2 2153.6h17.2v7.8h-17.2zM1946.4 2158.8h17.2v2.6h-17.2zM1912 2158.8h17.2v2.6h-17.2zM1946.4 2161.4h51.6v2.6h-51.6zM1894.8 2161.4h17.2v2.6h-17.2zM1877.6 2164h34.4v2.6h-34.4zM1946.4 2164h17.2v2.6h-17.2zM1980.8 2164h17.2v2.6h-17.2zM1912 2166.6h17.2v2.6h-17.2zM2015.2 2166.6h17.2v5.2h-17.2zM1877.6 2169.2h51.6v2.6h-51.6zM1946.4 2169.2h17.2v2.6h-17.2zM1877.6 2171.8h17.2v2.7h-17.2zM1774.5 2171.8h51.5v2.7h-51.5zM1912 2171.8h34.4v2.7h-34.4zM1963.6 2174.5h17.2v2.6h-17.2zM1912 2177.1h34.4v2.6h-34.4zM1877.6 2177.1h17.2v2.6h-17.2zM2015.2 2177.1h17.2v2.6h-17.2zM1946.4 2179.7h51.6v2.6h-51.6zM1877.6 2179.7h34.4v2.6h-34.4zM1877.6 2182.3h51.6v2.6h-51.6zM1946.4 2182.3h17.2v2.6h-17.2zM1912 2184.9h34.4v2.6h-34.4zM1808.8 2184.9h34.4v2.6h-34.4zM2015.2 2184.9h17.2v2.6h-17.2zM2049.6 2184.9h17.2v2.6h-17.2zM1980.8 2187.5h17.2v5.2h-17.2zM1877.6 2187.5h51.6v7.8h-51.6zM1946.4 2187.5h17.2v10.4h-17.2zM1877.6 2195.3h17.2v2.6h-17.2zM1912 2195.3h17.2v2.6h-17.2zM2015.2 2195.3h17.2v2.6h-17.2zM1877.6 2197.9h86v2.6h-86zM1877.6 2200.5h17.2v2.6h-17.2zM2049.6 2203.1h17.2v5.2h-17.2zM1912 2200.5h34.4v10.4h-34.4zM2015.2 2200.5h17.2v10.4h-17.2zM1877.6 2205.7h17.2v5.2h-17.2zM2015.2 2210.9h51.6v2.6h-51.6zM1774.5 2210.9h51.5v2.6h-51.5zM1877.6 2213.5h17.2v2.6h-17.2zM2049.6 2213.5h17.2v2.6h-17.2zM1912 2213.5h34.4v2.6h-34.4zM2015.2 2213.5h17.2v2.6h-17.2zM2015.2 2216.1h51.6v2.6h-51.6zM1826 2216.1h17.2v2.6h-17.2zM1912 2216.1h17.2v2.6h-17.2zM2032.4 2218.7h34.4v2.6h-34.4zM1808.8 2218.7h17.2v2.6h-17.2zM1774.5 2218.7h17.2v2.6h-17.2zM1877.6 2221.3h17.2v2.6h-17.2zM1912 2221.3h17.2v2.6h-17.2zM1877.6 2223.9h68.8v2.6h-68.8zM2049.6 2221.3h17.2v7.8h-17.2zM2015.2 2221.3h17.2v7.8h-17.2zM1877.6 2226.5h17.2v2.6h-17.2zM1912 2226.5h34.4v2.6h-34.4zM2015.2 2229.1h51.6v2.6h-51.6zM1808.8 2229.1h34.4v2.6h-34.4zM1912 2231.7h34.4v2.6h-34.4zM2049.6 2231.7h17.2v2.6h-17.2zM2015.2 2231.7h17.2v2.6h-17.2zM2032.4 2234.3h34.4v5.2h-34.4zM1808.8 2234.3h17.2v5.2h-17.2zM1912 2236.9h17.2v2.6h-17.2zM1912 2239.5h34.4v2.6h-34.4zM2015.2 2239.5h51.6v2.6h-51.6zM1877.6 2239.5h17.2v2.6h-17.2zM1774.5 2242.1h103.1v2.6h-103.1zM1671.3 2242.1h34.4v2.6h-34.4zM2049.6 2244.7h17.2v2.6h-17.2zM2015.2 2244.7h17.2v2.6h-17.2zM1912 2244.7h17.2v2.6h-17.2zM1774.5 2247.3h68.7v2.6h-68.7zM2032.4 2247.3h34.4v2.6h-34.4zM1774.5 2249.9h17.2v2.7h-17.2zM2015.2 2249.9h17.2v2.7h-17.2zM2049.6 2249.9h17.2v2.7h-17.2zM2032.4 2252.6h17.2v2.6h-17.2zM1774.5 2252.6h103.1v2.6h-103.1zM1998 2252.6h17.2v5.2h-17.2zM1774.5 2255.2h68.7v2.6h-68.7zM1860.4 2255.2h17.2v2.6h-17.2zM2032.4 2255.2h34.4v5.2h-34.4zM1791.7 2257.8h34.3v2.6h-34.3zM1877.6 2260.4h17.2v2.6h-17.2zM2049.6 2260.4h17.2v2.6h-17.2zM1912 2260.4h17.2v2.6h-17.2zM1877.6 2263h86v2.6h-86zM2049.6 2265.6h17.2v2.6h-17.2zM1808.8 2265.6h17.2v2.6h-17.2zM2015.2 2265.6h17.2v5.2h-17.2zM1877.6 2268.2h17.2v2.6h-17.2zM1912 2268.2h34.4v2.6h-34.4zM1912 2270.8h17.2v2.6h-17.2zM2032.4 2270.8h17.2v2.6h-17.2zM1808.8 2270.8h17.2v2.6h-17.2zM1774.5 2270.8h17.2v2.6h-17.2zM2032.4 2273.4h34.4v2.6h-34.4zM1774.5 2273.4h85.9v2.6h-85.9zM2015.2 2276h17.2v5.2h-17.2zM1808.8 2281.2h17.2v2.6h-17.2zM1774.5 2281.2h17.2v2.6h-17.2zM1808.8 2283.8h51.6v2.6h-51.6zM2015.2 2283.8h17.2v5.2h-17.2zM1808.8 2286.4h17.2v2.6h-17.2zM1980.8 2286.4h17.2v2.6h-17.2zM1774.5 2289h68.7v2.6h-68.7zM1998 2289h17.2v2.6h-17.2zM1671.3 2289h17.2v2.6h-17.2zM1705.7 2289h17.2v2.6h-17.2zM2032.4 2289h34.4v2.6h-34.4zM1860.4 2289h17.2v5.2h-17.2zM2032.4 2291.6h17.2v2.6h-17.2zM1619.7 2291.6h17.2v2.6h-17.2zM1774.5 2291.6h34.3v2.6h-34.3zM1688.5 2291.6h34.4v5.2h-34.4zM2032.4 2294.2h34.4v2.6h-34.4zM2015.2 2296.8h51.6v2.6h-51.6zM1705.7 2296.8h17.2v2.6h-17.2zM1774.5 2294.2h103.1v7.8h-103.1zM1980.8 2296.8h17.2v5.2h-17.2zM2032.4 2299.4h34.4v2.6h-34.4zM1688.5 2299.4h34.4v2.6h-34.4zM1619.7 2299.4h17.2v2.6h-17.2zM1980.8 2302h86v2.6h-86zM1774.5 2302h51.5v2.6h-51.5zM1705.7 2302h17.2v2.6h-17.2zM1671.3 2302h17.2v5.2h-17.2zM1980.8 2304.6h51.6v2.6h-51.6zM2032.4 2307.2h34.4v2.6h-34.4zM1688.5 2307.2h34.4v2.6h-34.4zM1791.7 2307.2h85.9v2.6h-85.9zM2049.6 2309.8h17.2v2.6h-17.2zM1774.5 2309.8h68.7v2.6h-68.7zM1619.7 2309.8h17.2v2.6h-17.2zM1860.4 2309.8h17.2v2.6h-17.2zM2032.4 2312.4h34.4v2.6h-34.4zM1774.5 2312.4h85.9v2.6h-85.9zM1980.8 2309.8h34.4v7.8h-34.4zM2049.6 2315h17.2v2.6h-17.2zM1774.5 2315h68.7v2.6h-68.7zM1860.4 2315h17.2v2.6h-17.2zM1671.3 2309.8h17.2v10.4h-17.2zM1705.7 2309.8h17.2v10.4h-17.2zM2015.2 2317.6h51.6v2.6h-51.6zM1980.8 2317.6h17.2v2.6h-17.2zM1826 2317.6h17.2v2.6h-17.2zM1774.5 2317.6h34.3v5.2h-34.3zM1688.5 2320.2h17.2v2.6h-17.2zM1826 2320.2h51.6v2.6h-51.6zM1568.1 2320.2h17.2v2.6h-17.2zM1619.7 2320.2h17.2v5.2h-17.2zM1774.5 2322.8h103.1v2.6h-103.1zM1980.8 2322.8h86v5.2h-86zM1705.7 2322.8h17.2v5.2h-17.2zM1671.3 2325.4h17.2v2.6h-17.2zM2032.4 2328h34.4v2.7h-34.4zM1774.5 2328h103.1v2.7h-103.1zM1671.3 2328h51.6v2.7h-51.6zM1980.8 2328h17.2v2.7h-17.2zM1619.7 2328h17.2v2.7h-17.2zM1808.8 2330.7h17.2v2.6h-17.2zM1533.7 2330.7h17.2v2.6h-17.2zM1860.4 2330.7h17.2v2.6h-17.2zM1568.1 2328h17.2v7.9h-17.2zM1688.5 2330.7h17.2v5.2h-17.2zM1602.5 2330.7h34.4v5.2h-34.4zM2032.4 2333.3h34.4v5.2h-34.4zM1774.5 2333.3h103.1v5.2h-103.1zM1980.8 2335.9h34.4v2.6h-34.4zM1671.3 2335.9h51.6v2.6h-51.6zM1791.7 2338.5h17.1v2.6h-17.1zM1826 2338.5h51.6v2.6h-51.6zM1568.1 2338.5h17.2v2.6h-17.2zM1602.5 2338.5h34.4v2.6h-34.4zM1860.4 2341.1h17.2v2.6h-17.2zM1808.8 2341.1h17.2v2.6h-17.2zM1568.1 2341.1h86v2.6h-86zM1980.8 2343.7h86v2.6h-86zM1671.3 2343.7h51.6v2.6h-51.6zM1774.5 2343.7h103.1v2.6h-103.1zM1533.7 2346.3h17.2v2.6h-17.2zM1860.4 2346.3h17.2v2.6h-17.2zM1602.5 2346.3h51.6v2.6h-51.6zM1568.1 2346.3h17.2v2.6h-17.2zM1774.5 2348.9h103.1v2.6h-103.1zM1980.8 2348.9h17.2v2.6h-17.2zM1619.7 2348.9h17.2v2.6h-17.2zM1688.5 2351.5h17.2v2.6h-17.2zM2032.4 2351.5h17.2v2.6h-17.2zM1791.7 2351.5h85.9v2.6h-85.9zM1568.1 2351.5h17.2v2.6h-17.2zM1602.5 2351.5h34.4v2.6h-34.4zM1654.1 2354.1h17.2v2.6h-17.2zM1808.8 2354.1h17.2v2.6h-17.2zM1568.1 2354.1h68.8v2.6h-68.8zM1774.5 2354.1h17.2v2.6h-17.2zM1533.7 2354.1h17.2v2.6h-17.2zM1980.8 2356.7h86v2.6h-86zM1826 2356.7h51.6v2.6h-51.6zM1791.7 2356.7h17.1v2.6h-17.1zM1671.3 2356.7h51.6v5.2h-51.6zM2015.2 2359.3h51.6v2.6h-51.6zM1774.5 2359.3h103.1v2.6h-103.1zM2032.4 2361.9h17.2v2.6h-17.2zM1843.2 2361.9h34.4v2.6h-34.4zM1568.1 2361.9h68.8v2.6h-68.8zM1774.5 2361.9h17.2v5.2h-17.2zM2015.2 2364.5h51.6v2.6h-51.6zM1808.8 2364.5h51.6v2.6h-51.6zM1671.3 2364.5h51.6v2.6h-51.6zM1980.8 2364.5h17.2v2.6h-17.2zM1843.2 2367.1h34.4v2.6h-34.4zM1671.3 2367.1h17.2v2.6h-17.2zM1774.5 2367.1h51.5v2.6h-51.5zM1568.1 2367.1h17.2v2.6h-17.2zM1533.7 2369.7h34.4v2.6h-34.4zM1585.3 2369.7h86v2.6h-86zM1860.4 2369.7h17.2v2.6h-17.2zM1585.3 2372.3h51.6v2.6h-51.6zM1791.7 2372.3h34.3v2.6h-34.3zM2015.2 2372.3h17.2v2.6h-17.2zM1843.2 2372.3h34.4v5.2h-34.4zM1671.3 2374.9h34.4v2.6h-34.4zM1774.5 2374.9h51.5v2.6h-51.5zM2015.2 2374.9h34.4v5.2h-34.4zM1843.2 2377.5h17.2v2.6h-17.2zM1774.5 2377.5h34.3v2.6h-34.3zM1585.3 2380.1h17.2v2.6h-17.2zM1619.7 2374.9h17.2v10.4h-17.2zM1774.5 2380.1h103.1v5.2h-103.1zM2015.2 2385.3h34.4v2.6h-34.4zM1671.3 2385.3h17.2v2.6h-17.2zM1602.5 2385.3h34.4v2.6h-34.4zM1568.1 2387.9h86v2.6h-86zM1843.2 2385.3h34.4v7.8h-34.4zM1774.5 2385.3h51.5v7.8h-51.5zM1980.8 2390.5h17.2v2.6h-17.2zM2015.2 2390.5h34.4v2.6h-34.4zM1671.3 2390.5h34.4v2.6h-34.4zM1619.7 2390.5h17.2v2.6h-17.2zM1585.3 2393.1h51.6v2.6h-51.6zM1808.8 2393.1h68.8v2.6h-68.8zM1774.5 2393.1h17.2v2.6h-17.2zM1671.3 2395.7h17.2v2.6h-17.2zM2032.4 2395.7h17.2v2.6h-17.2zM1843.2 2395.7h34.4v5.2h-34.4zM1774.5 2395.7h51.5v5.2h-51.5zM1671.3 2398.3h51.6v2.6h-51.6zM1602.5 2398.3h34.4v2.6h-34.4zM1860.4 2400.9h17.2v2.6h-17.2zM1568.1 2400.9h68.8v5.2h-68.8zM1808.8 2400.9h17.2v5.2h-17.2zM1654.1 2400.9h17.2v5.2h-17.2zM1843.2 2403.5h34.4v2.6h-34.4zM1774.5 2403.5h17.2v2.6h-17.2zM1980.8 2406.1h86v2.6h-86zM1826 2406.1h51.6v2.6h-51.6zM1671.3 2406.1h51.6v5.3h-51.6zM1998 2408.7h17.2v2.7h-17.2zM2049.6 2408.7h17.2v2.7h-17.2zM1774.5 2408.7h103.1v2.7h-103.1zM1688.5 2411.4h17.2v2.6h-17.2zM1602.5 2411.4h34.4v2.6h-34.4zM2032.4 2411.4h17.2v2.6h-17.2zM1774.5 2411.4h17.2v2.6h-17.2zM1860.4 2411.4h17.2v2.6h-17.2zM1808.8 2411.4h34.4v2.6h-34.4zM1980.8 2411.4h17.2v5.2h-17.2zM2015.2 2414h51.6v2.6h-51.6zM1774.5 2414h103.1v2.6h-103.1zM1671.3 2414h51.6v2.6h-51.6zM1619.7 2414h17.2v2.6h-17.2zM1688.5 2416.6h34.4v2.6h-34.4zM1774.5 2416.6h17.2v2.6h-17.2zM2015.2 2416.6h34.4v2.6h-34.4zM1843.2 2416.6h34.4v5.2h-34.4zM2015.2 2419.2h51.6v2.6h-51.6zM1671.3 2419.2h51.6v2.6h-51.6zM1980.8 2419.2h17.2v2.6h-17.2zM1774.5 2419.2h51.5v2.6h-51.5zM1860.4 2421.8h17.2v2.6h-17.2zM1654.1 2421.8h17.2v2.6h-17.2zM1568.1 2421.8h17.2v2.6h-17.2zM1602.5 2416.6h34.4v10.4h-34.4zM1998 2424.4h51.6v2.6h-51.6zM1671.3 2424.4h51.6v2.6h-51.6zM1808.8 2424.4h68.8v2.6h-68.8zM1774.5 2424.4h17.2v2.6h-17.2zM1533.7 2427h17.2v2.6h-17.2zM1568.1 2427h103.2v2.6h-103.2zM1980.8 2429.6h86v2.6h-86zM1671.3 2429.6h51.6v2.6h-51.6zM1808.8 2429.6h68.8v2.6h-68.8zM1774.5 2429.6h17.2v2.6h-17.2zM1585.3 2432.2h86v2.6h-86zM1808.8 2432.2h17.2v2.6h-17.2zM1533.7 2432.2h17.2v5.2h-17.2zM1568.1 2434.8h103.2v2.6h-103.2zM1602.5 2437.4h68.8v2.6h-68.8zM1568.1 2437.4h17.2v2.6h-17.2zM2049.6 2437.4h17.2v5.2h-17.2zM1654.1 2440h17.2v2.6h-17.2zM1568.1 2440h51.6v2.6h-51.6zM2015.2 2442.6h34.4v2.6h-34.4zM1774.5 2442.6h17.2v2.6h-17.2zM1602.5 2442.6h120.4v2.6h-120.4zM1860.4 2437.4h17.2v10.4h-17.2zM1808.8 2437.4h17.2v10.4h-17.2zM1980.8 2442.6h17.2v5.2h-17.2zM1636.9 2445.2h34.4v2.6h-34.4zM1568.1 2445.2h51.6v2.6h-51.6zM1757.3 2445.2h17.2v2.6h-17.2zM1533.7 2445.2h17.2v2.6h-17.2zM2015.2 2445.2h17.2v2.6h-17.2zM1877.6 2447.8h17.2v2.6h-17.2zM1929.2 2447.8h51.6v2.6h-51.6zM1671.3 2447.8h51.6v2.6h-51.6zM1774.5 2447.8h85.9v2.6h-85.9zM2015.2 2447.8h34.4v2.6h-34.4zM1602.5 2447.8h34.4v2.6h-34.4zM1722.9 2450.4h17.2v2.6h-17.2zM1533.7 2453h86v2.6h-86zM1808.8 2453h86v2.6h-86zM1671.3 2453h51.6v2.6h-51.6zM1774.5 2453h17.2v2.6h-17.2zM1912 2453h51.6v2.6h-51.6zM2015.2 2453h17.2v2.6h-17.2zM1636.9 2453h17.2v2.6h-17.2zM1585.3 2455.6h51.6v2.6h-51.6zM1654.1 2455.6h86v2.6h-86zM1894.8 2455.6h17.2v5.2h-17.2zM1533.7 2455.6h17.2v5.2h-17.2zM1705.7 2458.2h34.4v2.6h-34.4zM1826 2458.2h34.4v2.6h-34.4zM1568.1 2458.2h120.4v2.6h-120.4zM2032.4 2455.6h17.2v7.8h-17.2zM1791.7 2455.6h17.1v7.8h-17.1zM1585.3 2460.8h68.8v2.6h-68.8zM1671.3 2460.8h68.8v2.6h-68.8zM1688.5 2463.4h34.4v2.6h-34.4zM1912 2463.4h51.6v2.6h-51.6zM2015.2 2463.4h17.2v2.6h-17.2zM1774.5 2463.4h103.1v2.6h-103.1zM1533.7 2463.4h68.8v5.2h-68.8zM2032.4 2466h17.2v2.6h-17.2zM1671.3 2466h51.6v2.6h-51.6zM1774.5 2466h34.3v2.6h-34.3zM1826 2466h86v2.6h-86zM1636.9 2466h17.2v2.6h-17.2zM1602.5 2468.6h86v2.6h-86zM1791.7 2468.6h17.1v2.6h-17.1zM1705.7 2468.6h34.4v5.2h-34.4zM1585.3 2471.2h68.8v2.6h-68.8zM1550.9 2471.2h17.2v2.6h-17.2zM2032.4 2471.2h17.2v2.6h-17.2zM1774.5 2471.2h34.3v2.6h-34.3zM1671.3 2471.2h17.2v2.6h-17.2zM1722.9 2473.8h17.2v2.6h-17.2zM1619.7 2473.8h17.2v2.6h-17.2zM1533.7 2476.4h34.4v2.6h-34.4zM1791.7 2476.4h68.7v2.6h-68.7zM1894.8 2476.4h17.2v2.6h-17.2zM1705.7 2476.4h17.2v2.6h-17.2zM1585.3 2476.4h34.4v2.6h-34.4zM1636.9 2476.4h51.6v2.6h-51.6zM2032.4 2476.4h17.2v5.2h-17.2zM1585.3 2479h51.6v2.6h-51.6zM1654.1 2479h34.4v2.6h-34.4zM1705.7 2479h34.4v2.6h-34.4zM1826 2479h17.2v2.6h-17.2zM1568.1 2484.2h68.8v2.6h-68.8zM1654.1 2484.2h34.4v2.6h-34.4zM1826 2484.2h17.2v2.6h-17.2zM1791.7 2484.2h17.1v5.3h-17.1zM1894.8 2486.8h17.2v2.7h-17.2zM1568.1 2486.8h120.4v2.7h-120.4zM1602.5 2489.5h51.6v2.6h-51.6zM1671.3 2489.5h17.2v2.6h-17.2zM1705.7 2484.2h34.4v10.5h-34.4zM1585.3 2492.1h17.2v2.6h-17.2zM1619.7 2492.1h17.2v2.6h-17.2zM1654.1 2492.1h34.4v2.6h-34.4zM2032.4 2484.2h17.2v13.1h-17.2zM1722.9 2494.7h17.2v5.2h-17.2zM2015.2 2497.3h17.2v5.2h-17.2zM1963.6 2502.5h17.2v2.6h-17.2zM1722.9 2505.1h17.2v2.6h-17.2zM2015.2 2505.1h17.2v2.6h-17.2zM2049.6 2505.1h17.2v2.6h-17.2zM1963.6 2507.7h34.4v2.6h-34.4zM1740.1 2507.7h34.4v2.6h-34.4zM1894.8 2510.3h17.2v2.6h-17.2zM1963.6 2523.3h34.4v2.6h-34.4zM1980.8 2525.9h17.2v2.6h-17.2zM1980.8 2536.3h17.2v2.6h-17.2zM1980.8 2538.9h34.4v5.2h-34.4zM2049.6 2538.9h17.2v5.2h-17.2zM1998 2544.1h17.2v2.6h-17.2zM1980.8 2546.7h17.2v2.6h-17.2zM2015.2 2546.7h17.2v2.6h-17.2zM2049.6 2546.7h17.2v5.2h-17.2zM2032.4 2557.1h34.4v2.6h-34.4zM1946.4 2557.1h17.2v2.6h-17.2zM2015.2 2559.7h51.6v2.6h-51.6zM1877.6 2562.3h51.6v2.6h-51.6zM1946.4 2562.3h17.2v2.6h-17.2zM1757.3 2564.9h17.2v2.7h-17.2zM2049.6 2567.6h17.2v2.6h-17.2zM1980.8 2564.9h17.2v10.5h-17.2zM1740.1 2572.8h34.4v2.6h-34.4zM1963.6 2575.4h34.4v2.6h-34.4zM1757.3 2575.4h17.2v2.6h-17.2zM2015.2 2564.9h17.2v15.7h-17.2zM1980.8 2578h17.2v2.6h-17.2zM1980.8 2583.2h17.2v2.6h-17.2zM2015.2 2583.2h17.2v7.8h-17.2zM1757.3 2588.4h17.2v2.6h-17.2zM1740.1 2591h34.4v2.6h-34.4zM1963.6 2585.8h17.2v10.4h-17.2zM1757.3 2593.6h17.2v2.6h-17.2zM2015.2 2593.6h17.2v5.2h-17.2zM1980.8 2596.2h17.2v5.2h-17.2zM2015.2 2601.4h17.2v5.2h-17.2zM1757.3 2606.6h17.2v2.6h-17.2zM1963.6 2601.4h17.2v13h-17.2zM2015.2 2609.2h17.2v5.2h-17.2zM2015.2 2614.4h51.6v2.6h-51.6zM1980.8 2614.4h17.2v2.6h-17.2zM2015.2 2617h17.2v2.6h-17.2zM1963.6 2617h17.2v5.2h-17.2zM2015.2 2619.6h34.4v2.6h-34.4zM2015.2 2622.2h17.2v5.2h-17.2zM1963.6 2624.8h17.2v2.6h-17.2zM1980.8 2627.4h17.2v2.6h-17.2zM2015.2 2627.4h34.4v2.6h-34.4zM1963.6 2630h34.4v2.6h-34.4zM2015.2 2630h17.2v2.6h-17.2zM2015.2 2632.6h34.4v2.6h-34.4zM1963.6 2632.6h17.2v5.2h-17.2zM2015.2 2635.2h17.2v2.6h-17.2zM1963.6 2640.4h17.2v5.3h-17.2zM2015.2 2640.4h17.2v5.3h-17.2zM1757.3 2645.7h17.2v2.6h-17.2zM2015.2 2648.3h17.2v2.6h-17.2zM1757.3 2650.9h17.2v2.6h-17.2zM2015.2 2656.1h17.2v2.6h-17.2zM1963.6 2656.1h17.2v7.8h-17.2zM1877.6 2669.1h17.2v2.6h-17.2zM1963.6 2669.1h34.4v2.6h-34.4zM2015.2 2669.1h34.4v5.2h-34.4zM1963.6 2671.7h17.2v5.2h-17.2zM2015.2 2674.3h17.2v2.6h-17.2zM2032.4 2679.5h34.4v2.6h-34.4zM1877.6 2679.5h34.4v2.6h-34.4zM1963.6 2682.1h17.2v2.6h-17.2zM2015.2 2682.1h17.2v2.6h-17.2z"/><path fill="#10A888" d="M1774.5 1661.6h34.3v2.6h-34.3zM1671.3 1661.6h17.2v2.6h-17.2zM1826 1661.6h51.6v2.6h-51.6zM1705.7 1661.6h17.2v2.6h-17.2zM1774.5 1664.2h17.2v2.6h-17.2zM1860.4 1664.2h17.2v2.6h-17.2zM1808.8 1664.2h34.4v2.6h-34.4zM1860.4 1666.8h34.4v2.6h-34.4zM1774.5 1666.8h68.7v2.6h-68.7zM1774.5 1669.4h17.2v2.6h-17.2zM1826 1669.4h51.6v5.2h-51.6zM1705.7 1669.4h17.2v5.2h-17.2zM1774.5 1672h34.3v2.6h-34.3zM1671.3 1672h17.2v5.2h-17.2zM1774.5 1674.6h51.5v2.6h-51.5zM1843.2 1674.6h34.4v2.6h-34.4zM1774.5 1677.2h103.1v5.2h-103.1zM1774.5 1682.4h68.7v2.6h-68.7zM1671.3 1685h17.2v2.6h-17.2zM1791.7 1685h17.1v2.6h-17.1zM1705.7 1685h17.2v2.6h-17.2zM1860.4 1685h17.2v2.6h-17.2zM1929.2 1687.6h17.2v2.6h-17.2zM1774.5 1690.2h103.1v2.6h-103.1zM1705.7 1690.2h17.2v2.6h-17.2zM1808.8 1692.8h34.4v2.6h-34.4zM1774.5 1695.4h34.3v5.2h-34.3zM1826 1695.4h51.6v5.2h-51.6zM1705.7 1695.4h17.2v5.2h-17.2zM1774.5 1700.6h103.1v2.7h-103.1zM1774.5 1703.3h68.7v2.6h-68.7zM1774.5 1705.9h103.1v2.6h-103.1zM1671.3 1705.9h17.2v5.2h-17.2zM1826 1708.5h51.6v2.6h-51.6zM1774.5 1708.5h34.3v2.6h-34.3zM1705.7 1705.9h17.2v7.8h-17.2zM1774.5 1711.1h103.1v2.6h-103.1zM1671.3 1713.7h51.6v2.6h-51.6zM1774.5 1713.7h51.5v2.6h-51.5zM1843.2 1713.7h34.4v2.6h-34.4zM1619.7 1713.7h34.4v5.2h-34.4zM1671.3 1716.3h34.4v2.6h-34.4zM1568.1 1716.3h17.2v2.6h-17.2zM1774.5 1718.9h85.9v2.6h-85.9zM1705.7 1718.9h17.2v5.2h-17.2zM1671.3 1721.5h17.2v2.6h-17.2zM1826 1721.5h51.6v2.6h-51.6zM1791.7 1721.5h17.1v2.6h-17.1zM1671.3 1724.1h34.4v2.6h-34.4zM1619.7 1724.1h34.4v2.6h-34.4zM1671.3 1726.7h51.6v2.6h-51.6zM1568.1 1726.7h17.2v2.6h-17.2zM1843.2 1726.7h34.4v2.6h-34.4zM1791.7 1726.7h34.3v2.6h-34.3zM1774.5 1729.3h34.3v2.6h-34.3zM1671.3 1729.3h17.2v2.6h-17.2zM1826 1729.3h51.6v2.6h-51.6zM1705.7 1729.3h17.2v2.6h-17.2zM1791.7 1731.9h17.1v2.6h-17.1zM1860.4 1731.9h17.2v2.6h-17.2zM1671.3 1731.9h51.6v5.2h-51.6zM1774.5 1737.1h51.5v2.6h-51.5zM1843.2 1737.1h34.4v2.6h-34.4zM1774.5 1739.7h103.1v2.6h-103.1zM1843.2 1742.3h17.2v2.6h-17.2zM1826 1747.5h34.4v2.6h-34.4zM1774.5 1747.5h34.3v5.2h-34.3zM1826 1750.1h51.6v2.6h-51.6zM1826 1755.3h51.6v7.8h-51.6zM1774.5 1755.3h34.3v7.8h-34.3zM1688.5 1760.5h34.4v2.6h-34.4zM1619.7 1763.1h17.2v2.6h-17.2zM1671.3 1763.1h51.6v2.6h-51.6zM1843.2 1763.1h17.2v2.6h-17.2zM1791.7 1763.1h17.1v2.6h-17.1zM1568.1 1763.1h17.2v2.6h-17.2zM1671.3 1765.7h17.2v2.6h-17.2zM1826 1765.7h51.6v2.6h-51.6zM1705.7 1765.7h17.2v2.6h-17.2zM1774.5 1765.7h34.3v5.2h-34.3zM1619.7 1768.3h17.2v2.6h-17.2zM1826 1768.3h17.2v2.6h-17.2zM1671.3 1768.3h51.6v2.6h-51.6zM1860.4 1768.3h17.2v2.6h-17.2zM1791.7 1770.9h85.9v2.6h-85.9zM1619.7 1773.5h68.8v2.6h-68.8zM1705.7 1773.5h17.2v2.6h-17.2zM1671.3 1776.1h51.6v2.6h-51.6zM1602.5 1776.1h51.6v2.6h-51.6zM1826 1776.1h34.4v2.6h-34.4zM1568.1 1773.5h17.2v7.9h-17.2zM1688.5 1778.7h34.4v2.7h-34.4zM1619.7 1778.7h51.6v2.7h-51.6zM1550.9 1781.4h17.2v2.6h-17.2zM1585.3 1781.4h34.4v2.6h-34.4zM1636.9 1781.4h34.4v2.6h-34.4zM1619.7 1784h17.2v2.6h-17.2zM1568.1 1784h17.2v2.6h-17.2zM1860.4 1784h17.2v2.6h-17.2zM1671.3 1784h51.6v5.2h-51.6zM1774.5 1784h34.3v5.2h-34.3zM1619.7 1786.6h34.4v2.6h-34.4zM1826 1786.6h34.4v2.6h-34.4zM1843.2 1789.2h17.2v2.6h-17.2zM1654.1 1789.2h68.8v2.6h-68.8zM1568.1 1789.2h17.2v2.6h-17.2zM1602.5 1789.2h34.4v2.6h-34.4zM1688.5 1791.8h34.4v2.6h-34.4zM1826 1791.8h51.6v2.6h-51.6zM1843.2 1794.4h17.2v2.6h-17.2zM1774.5 1791.8h34.3v7.8h-34.3zM1619.7 1791.8h17.2v7.8h-17.2zM1671.3 1794.4h51.6v5.2h-51.6zM1826 1797h51.6v2.6h-51.6zM1791.7 1799.6h17.1v2.6h-17.1zM1619.7 1799.6h103.2v2.6h-103.2zM1860.4 1799.6h17.2v2.6h-17.2zM1568.1 1799.6h17.2v5.2h-17.2zM1671.3 1802.2h51.6v2.6h-51.6zM1774.5 1802.2h34.3v2.6h-34.3zM1826 1802.2h51.6v2.6h-51.6zM1619.7 1802.2h17.2v2.6h-17.2zM1585.3 1804.8h34.4v2.6h-34.4zM1636.9 1804.8h34.4v2.6h-34.4zM1533.7 1804.8h34.4v2.6h-34.4zM1774.5 1807.4h34.3v2.6h-34.3zM1654.1 1807.4h51.6v5.2h-51.6zM1619.7 1807.4h17.2v5.2h-17.2zM1568.1 1807.4h17.2v5.2h-17.2zM1791.7 1810h17.1v2.6h-17.1zM1636.9 1812.6h17.2v2.6h-17.2zM1602.5 1812.6h17.2v2.6h-17.2zM1533.7 1812.6h34.4v2.6h-34.4zM1619.7 1815.2h34.4v2.6h-34.4zM1533.7 1815.2h17.2v2.6h-17.2zM1533.7 1817.8h103.2v2.6h-103.2zM1602.5 1820.4h51.6v2.6h-51.6zM1688.5 1820.4h34.4v2.6h-34.4zM1568.1 1820.4h17.2v2.6h-17.2zM1533.7 1823h68.8v2.6h-68.8zM1619.7 1823h51.6v5.2h-51.6zM1568.1 1825.6h34.4v2.6h-34.4zM1568.1 1828.2h86v2.6h-86zM1533.7 1830.8h137.6v2.6h-137.6zM1602.5 1833.4h68.8v2.6h-68.8zM1568.1 1833.4h17.2v2.6h-17.2zM1688.5 1833.4h17.2v2.6h-17.2zM1568.1 1836h103.2v2.6h-103.2zM1533.7 1836h17.2v2.6h-17.2zM1688.5 1838.6h17.2v2.6h-17.2zM1533.7 1838.6h120.4v2.6h-120.4zM1654.1 1841.2h17.2v2.6h-17.2zM1568.1 1841.2h68.8v2.6h-68.8zM1533.7 1841.2h17.2v2.6h-17.2zM1671.3 1843.8h34.4v2.6h-34.4zM1619.7 1843.8h17.2v2.6h-17.2zM1671.3 1846.4h51.6v2.6h-51.6zM1568.1 1846.4h17.2v2.6h-17.2zM1602.5 1846.4h17.2v2.6h-17.2zM1654.1 1849h17.2v2.6h-17.2zM1568.1 1849h68.8v2.6h-68.8zM1688.5 1849h17.2v2.6h-17.2zM1860.4 1849h17.2v2.6h-17.2zM1774.5 1851.6h17.2v2.6h-17.2zM1602.5 1851.6h17.2v2.6h-17.2zM1568.1 1851.6h17.2v2.6h-17.2zM1671.3 1851.6h51.6v5.2h-51.6zM1860.4 1854.2h17.2v2.6h-17.2zM1774.5 1854.2h34.3v5.3h-34.3zM1705.7 1856.8h17.2v2.7h-17.2zM1843.2 1856.8h34.4v2.7h-34.4zM1533.7 1859.5h51.6v2.6h-51.6zM1602.5 1859.5h17.2v5.2h-17.2zM1671.3 1862.1h51.6v2.6h-51.6zM1636.9 1862.1h17.2v2.6h-17.2zM1568.1 1862.1h17.2v2.6h-17.2zM1843.2 1862.1h34.4v2.6h-34.4zM1774.5 1862.1h34.3v2.6h-34.3zM1568.1 1864.7h120.4v2.6h-120.4zM1533.7 1864.7h17.2v2.6h-17.2zM1533.7 1867.3h137.6v2.6h-137.6zM1688.5 1867.3h17.2v2.6h-17.2zM1585.3 1869.9h17.2v2.6h-17.2zM1533.7 1869.9h34.4v2.6h-34.4zM1791.7 1872.5h17.1v2.6h-17.1zM1568.1 1872.5h103.2v2.6h-103.2zM1688.5 1872.5h17.2v2.6h-17.2zM1533.7 1872.5h17.2v2.6h-17.2zM1550.9 1875.1h17.2v2.6h-17.2zM1619.7 1877.7h51.6v2.6h-51.6zM1585.3 1877.7h17.2v2.6h-17.2zM1533.7 1877.7h34.4v2.6h-34.4zM1568.1 1880.3h86v2.6h-86zM1533.7 1880.3h17.2v2.6h-17.2zM1550.9 1885.5h17.2v2.6h-17.2zM1550.9 1890.7h17.2v2.6h-17.2zM1568.1 1893.3h103.2v2.6h-103.2zM1533.7 1893.3h17.2v5.2h-17.2zM1602.5 1895.9h68.8v2.6h-68.8zM1568.1 1895.9h17.2v2.6h-17.2zM1550.9 1898.5h17.2v2.6h-17.2zM1533.7 1906.3h68.8v2.6h-68.8zM1998 1908.9h51.6v2.6h-51.6zM1533.7 1908.9h34.4v2.6h-34.4zM2032.4 1914.1h17.2v2.6h-17.2zM1550.9 1914.1h17.2v2.6h-17.2zM1998 1916.7h17.2v2.6h-17.2zM1533.7 1916.7h34.4v5.2h-34.4zM2015.2 1919.3h17.2v2.6h-17.2zM1998 1924.5h51.6v2.6h-51.6zM1550.9 1921.9h17.2v7.8h-17.2zM2015.2 1927.1h17.2v2.6h-17.2zM1533.7 1953.2h68.8v2.6h-68.8zM1550.9 1963.6h17.2v2.6h-17.2zM1533.7 1966.2h51.6v2.6h-51.6zM1533.7 1974h68.8v2.6h-68.8zM1654.1 1974h17.2v2.6h-17.2zM1568.1 1976.6h51.6v2.6h-51.6zM1533.7 1976.6h17.2v2.6h-17.2zM1998 1979.2h17.2v2.6h-17.2zM1963.6 1979.2h17.2v2.6h-17.2zM1705.7 1981.8h17.2v2.6h-17.2zM1791.7 1981.8h85.9v2.6h-85.9zM1929.2 1984.4h17.2v2.6h-17.2zM1877.6 1987h51.6v2.6h-51.6zM1894.8 1989.6h17.2v2.6h-17.2zM1722.9 1989.6h17.2v5.2h-17.2zM1946.4 1987h17.2v13h-17.2zM1877.6 1994.8h51.6v5.2h-51.6zM1671.3 2000h17.2v2.6h-17.2zM1774.5 2000h17.2v5.2h-17.2zM1929.2 2000h17.2v5.2h-17.2zM1860.4 2002.6h17.2v2.6h-17.2zM1877.6 2005.2h51.6v2.6h-51.6zM1946.4 2005.2h17.2v2.6h-17.2zM1929.2 2007.8h17.2v2.6h-17.2zM1877.6 2007.8h17.2v2.6h-17.2zM1877.6 2010.4h51.6v5.2h-51.6zM1671.3 2013h17.2v2.6h-17.2zM1877.6 2015.6h34.4v2.7h-34.4zM1877.6 2018.3h51.6v2.6h-51.6zM1671.3 2018.3h17.2v2.6h-17.2zM1946.4 2010.4h17.2v13.1h-17.2zM1894.8 2020.9h34.4v2.6h-34.4zM1602.5 2023.5h34.4v2.6h-34.4zM1912 2023.5h34.4v2.6h-34.4zM1877.6 2023.5h17.2v2.6h-17.2zM1671.3 2023.5h51.6v5.2h-51.6zM1808.8 2026.1h17.2v2.6h-17.2zM1929.2 2026.1h17.2v2.6h-17.2zM1585.3 2026.1h68.8v2.6h-68.8zM1774.5 2026.1h17.2v5.2h-17.2zM1654.1 2028.7h68.8v2.6h-68.8zM1808.8 2028.7h34.4v2.6h-34.4zM1619.7 2028.7h17.2v2.6h-17.2zM1912 2028.7h34.4v2.6h-34.4zM1774.5 2031.3h34.3v2.6h-34.3zM1671.3 2031.3h34.4v2.6h-34.4zM1602.5 2031.3h34.4v2.6h-34.4zM1894.8 2031.3h17.2v2.6h-17.2zM1602.5 2033.9h51.6v2.6h-51.6zM1808.8 2033.9h34.4v2.6h-34.4zM1550.9 2033.9h17.2v2.6h-17.2zM1860.4 2033.9h17.2v2.6h-17.2zM1774.5 2033.9h17.2v5.2h-17.2zM1929.2 2036.5h17.2v2.6h-17.2zM1568.1 2036.5h86v2.6h-86zM1826 2036.5h17.2v2.6h-17.2zM1671.3 2033.9h51.6v7.8h-51.6zM1808.8 2039.1h17.2v2.6h-17.2zM1912 2039.1h34.4v2.6h-34.4zM1877.6 2039.1h17.2v2.6h-17.2zM1619.7 2039.1h17.2v5.2h-17.2zM1705.7 2041.7h17.2v2.6h-17.2zM1654.1 2041.7h34.4v2.6h-34.4zM1929.2 2041.7h17.2v5.2h-17.2zM1791.7 2041.7h34.3v5.2h-34.3zM1671.3 2044.3h51.6v2.6h-51.6zM1619.7 2044.3h34.4v2.6h-34.4zM1774.5 2046.9h68.7v2.6h-68.7zM1533.7 2046.9h86v2.6h-86zM1860.4 2046.9h17.2v2.6h-17.2zM1636.9 2046.9h34.4v2.6h-34.4zM1808.8 2049.5h17.2v2.6h-17.2zM1619.7 2049.5h17.2v2.6h-17.2zM1774.5 2049.5h17.2v2.6h-17.2zM1654.1 2049.5h68.8v2.6h-68.8zM1550.9 2049.5h17.2v5.2h-17.2zM1774.5 2052.1h34.3v2.6h-34.3zM1619.7 2052.1h103.2v2.6h-103.2zM1894.8 2052.1h17.2v2.6h-17.2zM1671.3 2054.7h17.2v2.6h-17.2zM1705.7 2054.7h17.2v2.6h-17.2zM1894.8 2054.7h51.6v5.2h-51.6zM1671.3 2057.3h51.6v2.6h-51.6zM1791.7 2057.3h17.1v2.6h-17.1zM1619.7 2057.3h17.2v2.6h-17.2zM1550.9 2059.9h34.4v2.6h-34.4zM1602.5 2059.9h120.4v2.6h-120.4zM1774.5 2059.9h68.7v5.2h-68.7zM1929.2 2062.5h17.2v2.6h-17.2zM1533.7 2062.5h51.6v2.6h-51.6zM1688.5 2062.5h34.4v2.6h-34.4zM1619.7 2062.5h51.6v2.6h-51.6zM1860.4 2062.5h17.2v2.6h-17.2zM2032.4 2065.1h34.4v2.6h-34.4zM1877.6 2065.1h86v2.6h-86zM1671.3 2067.7h51.6v2.6h-51.6zM1619.7 2067.7h17.2v2.6h-17.2zM1912 2067.7h34.4v2.6h-34.4zM1877.6 2070.3h86v2.6h-86zM2032.4 2070.3h17.2v2.6h-17.2zM1877.6 2072.9h51.6v2.6h-51.6zM1946.4 2072.9h17.2v2.6h-17.2zM1568.1 2075.5h51.6v2.6h-51.6zM1636.9 2075.5h68.8v2.6h-68.8zM1774.5 2075.5h68.7v2.6h-68.7zM1860.4 2075.5h17.2v2.6h-17.2zM1533.7 2075.5h17.2v2.6h-17.2zM1671.3 2078.1h51.6v2.6h-51.6zM1774.5 2078.1h34.3v2.6h-34.3zM1619.7 2078.1h17.2v2.6h-17.2zM1550.9 2078.1h17.2v2.6h-17.2zM1912 2078.1h34.4v2.6h-34.4zM1791.7 2080.7h17.1v2.6h-17.1zM1826 2080.7h17.2v2.6h-17.2zM1877.6 2080.7h17.2v2.6h-17.2zM1671.3 2080.7h17.2v5.2h-17.2zM1705.7 2080.7h17.2v5.2h-17.2zM1998 2083.3h17.2v2.6h-17.2zM1774.5 2083.3h68.7v2.6h-68.7zM2032.4 2083.3h34.4v2.6h-34.4zM1929.2 2080.7h17.2v7.8h-17.2zM1826 2085.9h17.2v2.6h-17.2zM1774.5 2085.9h34.3v2.6h-34.3zM2015.2 2085.9h17.2v5.2h-17.2zM1774.5 2088.5h68.7v2.6h-68.7zM1860.4 2088.5h17.2v5.2h-17.2zM1774.5 2091.1h17.2v2.6h-17.2zM1808.8 2091.1h34.4v2.6h-34.4zM1688.5 2085.9h34.4v10.5h-34.4zM1654.1 2093.7h17.2v2.7h-17.2zM1843.2 2093.7h17.2v2.7h-17.2zM1774.5 2096.4h17.2v5.2h-17.2zM1808.8 2096.4h68.8v5.2h-68.8zM1705.7 2099h17.2v2.6h-17.2zM1774.5 2101.6h103.1v2.6h-103.1zM1774.5 2104.2h17.2v2.6h-17.2zM1808.8 2104.2h34.4v2.6h-34.4zM1929.2 2106.8h17.2v2.6h-17.2zM1791.7 2106.8h51.5v2.6h-51.5zM1860.4 2106.8h17.2v2.6h-17.2zM1912 2109.4h34.4v2.6h-34.4zM1791.7 2109.4h34.3v2.6h-34.3zM1929.2 2112h17.2v2.6h-17.2zM1774.5 2112h51.5v5.2h-51.5zM1860.4 2112h34.4v5.2h-34.4zM1912 2114.6h34.4v2.6h-34.4zM2015.2 2112h17.2v7.8h-17.2zM1826 2117.2h17.2v2.6h-17.2zM1860.4 2117.2h17.2v2.6h-17.2zM1929.2 2117.2h17.2v2.6h-17.2zM2015.2 2119.8h34.4v2.6h-34.4zM1705.7 2119.8h17.2v2.6h-17.2zM1912 2119.8h34.4v2.6h-34.4zM1808.8 2119.8h17.2v5.2h-17.2zM1929.2 2122.4h17.2v2.6h-17.2zM2015.2 2122.4h17.2v2.6h-17.2zM1774.5 2117.2h17.2v10.4h-17.2zM1860.4 2122.4h17.2v5.2h-17.2zM1826 2127.6h17.2v2.6h-17.2zM1912 2127.6h34.4v2.6h-34.4zM1791.7 2127.6h17.1v2.6h-17.1zM1929.2 2130.2h17.2v2.6h-17.2zM1791.7 2130.2h51.5v2.6h-51.5zM2015.2 2127.6h17.2v7.8h-17.2zM1877.6 2127.6h17.2v7.8h-17.2zM1791.7 2132.8h17.1v2.6h-17.1zM1912 2132.8h34.4v2.6h-34.4zM1774.5 2135.4h17.2v2.6h-17.2zM1808.8 2135.4h68.8v2.6h-68.8zM1705.7 2135.4h17.2v2.6h-17.2zM2032.4 2135.4h17.2v2.6h-17.2zM1912 2138h34.4v2.6h-34.4zM1791.7 2138h17.1v2.6h-17.1zM1774.5 2140.6h103.1v2.6h-103.1zM1929.2 2140.6h17.2v5.2h-17.2zM1774.5 2143.2h68.7v5.2h-68.7zM1860.4 2145.8h17.2v5.2h-17.2zM1826 2148.4h17.2v2.6h-17.2zM1774.5 2148.4h34.3v2.6h-34.3zM2015.2 2138h17.2v15.6h-17.2zM1912 2145.8h34.4v7.8h-34.4zM1791.7 2151h17.1v2.6h-17.1zM1877.6 2151h17.2v2.6h-17.2zM1929.2 2153.6h17.2v2.6h-17.2zM2032.4 2153.6h17.2v2.6h-17.2zM1671.3 2156.2h34.4v2.6h-34.4zM1860.4 2153.6h17.2v7.8h-17.2zM1774.5 2153.6h68.7v7.8h-68.7zM2032.4 2156.2h34.4v5.2h-34.4zM1705.7 2158.8h17.2v2.6h-17.2zM1929.2 2158.8h17.2v2.6h-17.2zM2015.2 2161.4h17.2v2.6h-17.2zM1877.6 2161.4h17.2v2.6h-17.2zM1912 2161.4h34.4v5.2h-34.4zM1774.5 2164h51.5v2.6h-51.5zM2015.2 2164h51.6v2.6h-51.6zM1671.3 2166.6h17.2v2.6h-17.2zM1705.7 2166.6h17.2v2.6h-17.2zM1774.5 2166.6h68.7v2.6h-68.7zM1860.4 2166.6h17.2v5.2h-17.2zM1929.2 2166.6h17.2v5.2h-17.2zM1791.7 2169.2h34.3v2.6h-34.3zM2032.4 2166.6h34.4v7.9h-34.4zM1619.7 2171.8h17.2v2.7h-17.2zM1826 2171.8h51.6v2.7h-51.6zM1705.7 2171.8h17.2v2.7h-17.2zM1877.6 2174.5h51.6v2.6h-51.6zM1946.4 2174.5h17.2v2.6h-17.2zM1980.8 2174.5h17.2v2.6h-17.2zM2015.2 2174.5h17.2v2.6h-17.2zM1671.3 2177.1h17.2v2.6h-17.2zM1705.7 2177.1h17.2v2.6h-17.2zM2032.4 2177.1h34.4v2.6h-34.4zM1860.4 2177.1h17.2v2.6h-17.2zM1774.5 2177.1h68.7v2.6h-68.7zM1808.8 2179.7h17.2v2.6h-17.2zM1912 2179.7h34.4v2.6h-34.4zM2015.2 2179.7h17.2v5.2h-17.2zM1929.2 2182.3h17.2v2.6h-17.2zM1808.8 2182.3h34.4v2.6h-34.4zM1860.4 2182.3h17.2v2.6h-17.2zM1671.3 2184.9h51.6v2.6h-51.6zM1774.5 2184.9h34.3v2.6h-34.3zM1619.7 2184.9h17.2v2.6h-17.2zM2032.4 2184.9h17.2v2.6h-17.2zM1843.2 2184.9h34.4v2.6h-34.4zM1808.8 2187.5h34.4v2.6h-34.4zM1808.8 2190.1h17.2v2.6h-17.2zM2015.2 2187.5h17.2v7.8h-17.2zM2049.6 2187.5h17.2v7.8h-17.2zM1860.4 2190.1h17.2v5.2h-17.2zM1808.8 2192.7h34.4v2.6h-34.4zM1929.2 2187.5h17.2v10.4h-17.2zM1671.3 2195.3h17.2v2.6h-17.2zM2032.4 2195.3h34.4v2.6h-34.4zM1791.7 2195.3h51.5v2.6h-51.5zM1808.8 2197.9h17.2v2.6h-17.2zM2049.6 2197.9h17.2v2.6h-17.2zM2015.2 2197.9h17.2v2.6h-17.2zM1774.5 2197.9h17.2v5.2h-17.2zM1808.8 2200.5h51.6v2.6h-51.6zM2032.4 2200.5h34.4v2.6h-34.4zM1774.5 2203.1h68.7v2.6h-68.7zM2032.4 2203.1h17.2v5.2h-17.2zM1671.3 2205.7h17.2v2.6h-17.2zM1998 2205.7h17.2v2.6h-17.2zM1774.5 2205.7h103.1v2.6h-103.1zM2032.4 2208.3h34.4v2.6h-34.4zM1774.5 2208.3h17.2v2.6h-17.2zM1808.8 2208.3h34.4v2.6h-34.4zM1671.3 2210.9h34.4v2.6h-34.4zM1826 2210.9h51.6v2.6h-51.6zM1774.5 2213.5h68.7v2.6h-68.7zM1860.4 2213.5h17.2v2.6h-17.2zM2032.4 2213.5h17.2v2.6h-17.2zM1671.3 2216.1h17.2v2.6h-17.2zM1774.5 2216.1h51.5v2.6h-51.5zM1843.2 2216.1h34.4v2.6h-34.4zM1671.3 2218.7h51.6v2.6h-51.6zM1791.7 2218.7h17.1v2.6h-17.1zM1826 2218.7h51.6v2.6h-51.6zM1774.5 2221.3h103.1v2.6h-103.1zM1998 2210.9h17.2v15.6h-17.2zM1808.8 2223.9h34.4v2.6h-34.4zM2032.4 2221.3h17.2v7.8h-17.2zM1860.4 2226.5h17.2v2.6h-17.2zM1774.5 2226.5h68.7v2.6h-68.7zM1774.5 2229.1h34.3v2.6h-34.3zM1671.3 2229.1h17.2v2.6h-17.2zM1843.2 2229.1h34.4v2.6h-34.4zM2032.4 2231.7h17.2v2.6h-17.2zM1774.5 2231.7h103.1v2.6h-103.1zM1671.3 2234.3h51.6v2.6h-51.6zM1774.5 2234.3h34.3v5.2h-34.3zM1826 2234.3h51.6v5.2h-51.6zM1671.3 2236.9h34.4v2.6h-34.4zM1671.3 2239.5h17.2v2.6h-17.2zM1774.5 2239.5h103.1v2.6h-103.1zM1705.7 2242.1h17.2v2.6h-17.2zM1774.5 2244.7h103.1v2.6h-103.1zM2032.4 2244.7h17.2v2.6h-17.2zM1843.2 2247.3h34.4v2.6h-34.4zM1998 2229.1h17.2v23.5h-17.2zM1671.3 2244.7h34.4v7.9h-34.4zM1791.7 2249.9h85.9v2.7h-85.9zM2032.4 2249.9h17.2v2.7h-17.2zM1671.3 2252.6h51.6v5.2h-51.6zM1843.2 2255.2h17.2v2.6h-17.2zM1774.5 2257.8h17.2v2.6h-17.2zM1671.3 2257.8h17.2v2.6h-17.2zM1826 2257.8h51.6v2.6h-51.6zM1705.7 2257.8h17.2v2.6h-17.2zM1998 2257.8h17.2v5.2h-17.2zM1860.4 2260.4h17.2v2.6h-17.2zM2032.4 2260.4h17.2v2.6h-17.2zM1774.5 2260.4h68.7v2.6h-68.7zM1774.5 2263h17.2v2.6h-17.2zM1808.8 2263h34.4v2.6h-34.4zM2015.2 2263h17.2v2.6h-17.2zM2049.6 2263h17.2v2.6h-17.2zM1671.3 2265.6h17.2v2.6h-17.2zM1826 2265.6h51.6v2.6h-51.6zM1774.5 2265.6h34.3v2.6h-34.3zM2032.4 2265.6h17.2v2.6h-17.2zM1998 2265.6h17.2v5.2h-17.2zM1774.5 2268.2h17.2v2.6h-17.2zM2032.4 2268.2h34.4v2.6h-34.4zM1808.8 2268.2h68.8v2.6h-68.8zM1826 2270.8h51.6v2.6h-51.6zM1791.7 2270.8h17.1v2.6h-17.1zM2049.6 2270.8h17.2v2.6h-17.2zM1705.7 2270.8h17.2v5.2h-17.2zM1619.7 2273.4h17.2v2.6h-17.2zM1860.4 2273.4h17.2v2.6h-17.2zM1671.3 2270.8h17.2v10.4h-17.2zM1774.5 2276h103.1v5.2h-103.1zM1671.3 2281.2h51.6v2.6h-51.6zM1791.7 2281.2h17.1v2.6h-17.1zM1826 2281.2h51.6v2.6h-51.6zM1860.4 2283.8h17.2v2.6h-17.2zM1998 2273.4h17.2v15.6h-17.2zM2032.4 2276h34.4v13h-34.4zM1774.5 2283.8h34.3v5.2h-34.3zM1671.3 2283.8h17.2v5.2h-17.2zM1705.7 2283.8h17.2v5.2h-17.2zM1826 2286.4h51.6v2.6h-51.6zM1843.2 2289h17.2v2.6h-17.2zM1568.1 2289h17.2v2.6h-17.2zM1688.5 2289h17.2v2.6h-17.2zM1654.1 2289h17.2v2.6h-17.2zM1602.5 2289h34.4v2.6h-34.4zM1533.7 2291.6h86v2.6h-86zM1636.9 2291.6h34.4v2.6h-34.4zM1602.5 2294.2h68.8v2.6h-68.8zM1568.1 2294.2h17.2v2.6h-17.2zM1568.1 2296.8h103.2v2.6h-103.2zM1688.5 2296.8h17.2v2.6h-17.2zM1533.7 2296.8h17.2v5.2h-17.2zM1568.1 2299.4h51.6v2.6h-51.6zM1636.9 2299.4h34.4v2.6h-34.4zM1654.1 2302h17.2v2.6h-17.2zM1826 2302h51.6v2.6h-51.6zM1619.7 2302h17.2v2.6h-17.2zM1688.5 2302h17.2v2.6h-17.2zM1568.1 2302h17.2v5.2h-17.2zM1688.5 2304.6h34.4v2.6h-34.4zM1774.5 2304.6h103.1v2.6h-103.1zM2032.4 2304.6h34.4v2.6h-34.4zM1568.1 2307.2h103.2v2.6h-103.2zM1843.2 2309.8h17.2v2.6h-17.2zM1602.5 2309.8h17.2v2.6h-17.2zM1654.1 2309.8h17.2v2.6h-17.2zM2032.4 2309.8h17.2v2.6h-17.2zM1533.7 2307.2h17.2v7.8h-17.2zM1860.4 2312.4h17.2v2.6h-17.2zM1602.5 2312.4h51.6v5.2h-51.6zM1843.2 2315h17.2v2.6h-17.2zM2032.4 2315h17.2v2.6h-17.2zM1568.1 2309.8h17.2v10.4h-17.2zM1688.5 2309.8h17.2v10.4h-17.2zM1808.8 2317.6h17.2v2.6h-17.2zM1843.2 2317.6h34.4v2.6h-34.4zM1654.1 2317.6h17.2v2.6h-17.2zM1602.5 2317.6h34.4v2.6h-34.4zM1585.3 2320.2h34.4v2.6h-34.4zM1533.7 2320.2h17.2v2.6h-17.2zM1636.9 2320.2h34.4v5.2h-34.4zM1568.1 2322.8h51.6v2.6h-51.6zM1688.5 2322.8h17.2v5.2h-17.2zM1619.7 2325.4h17.2v2.6h-17.2zM1568.1 2325.4h17.2v2.6h-17.2zM1774.5 2325.4h103.1v2.6h-103.1zM1602.5 2328h17.2v2.7h-17.2zM1533.7 2328h17.2v2.7h-17.2zM1550.9 2330.7h17.2v2.6h-17.2zM1636.9 2328h34.4v7.9h-34.4zM1585.3 2330.7h17.2v5.2h-17.2zM1533.7 2333.3h34.4v2.6h-34.4zM1568.1 2335.9h103.2v2.6h-103.2zM1533.7 2335.9h17.2v2.6h-17.2zM1585.3 2338.5h17.2v2.6h-17.2zM1636.9 2338.5h34.4v2.6h-34.4zM1533.7 2338.5h34.4v5.2h-34.4zM1568.1 2343.7h68.8v2.6h-68.8zM1654.1 2341.1h17.2v7.8h-17.2zM1585.3 2346.3h17.2v2.6h-17.2zM1550.9 2346.3h17.2v2.6h-17.2zM1568.1 2348.9h51.6v2.6h-51.6zM1636.9 2348.9h34.4v5.2h-34.4zM1533.7 2348.9h17.2v5.2h-17.2zM1585.3 2351.5h17.2v2.6h-17.2zM1550.9 2354.1h17.2v2.6h-17.2zM1636.9 2354.1h17.2v2.6h-17.2zM1808.8 2356.7h17.2v2.6h-17.2zM1602.5 2356.7h68.8v2.6h-68.8zM1774.5 2356.7h17.2v2.6h-17.2zM1533.7 2356.7h17.2v2.6h-17.2zM1568.1 2356.7h17.2v2.6h-17.2zM1568.1 2359.3h103.2v2.6h-103.2zM1636.9 2361.9h34.4v2.6h-34.4zM1533.7 2361.9h34.4v2.6h-34.4zM1791.7 2364.5h17.1v2.6h-17.1zM1568.1 2364.5h86v2.6h-86zM1860.4 2364.5h17.2v2.6h-17.2zM1533.7 2364.5h17.2v2.6h-17.2zM1533.7 2367.1h34.4v2.6h-34.4zM1585.3 2367.1h86v2.6h-86zM1533.7 2372.3h51.6v2.6h-51.6zM1533.7 2374.9h86v5.2h-86zM1808.8 2377.5h17.2v2.6h-17.2zM1860.4 2377.5h17.2v2.6h-17.2zM1533.7 2380.1h51.6v2.6h-51.6zM1602.5 2380.1h17.2v2.6h-17.2zM1533.7 2382.7h86v2.6h-86zM1636.9 2372.3h34.4v15.6h-34.4zM1568.1 2385.3h34.4v2.6h-34.4zM1533.7 2385.3h17.2v2.6h-17.2zM1654.1 2387.9h17.2v2.6h-17.2zM1533.7 2387.9h34.4v2.6h-34.4zM1568.1 2390.5h51.6v2.6h-51.6zM1533.7 2390.5h17.2v2.6h-17.2zM1636.9 2390.5h34.4v5.2h-34.4zM1533.7 2393.1h51.6v2.6h-51.6zM1533.7 2395.7h137.6v2.6h-137.6zM1533.7 2398.3h68.8v2.6h-68.8zM1636.9 2398.3h34.4v2.6h-34.4zM1636.9 2400.9h17.2v5.2h-17.2zM1533.7 2400.9h34.4v5.2h-34.4zM1774.5 2406.1h51.5v2.6h-51.5zM1568.1 2406.1h103.2v5.3h-103.2zM1533.7 2408.7h17.2v2.7h-17.2zM1533.7 2411.4h68.8v2.6h-68.8zM1568.1 2414h51.6v2.6h-51.6zM1533.7 2414h17.2v2.6h-17.2zM1636.9 2411.4h34.4v10.4h-34.4zM1533.7 2416.6h68.8v5.2h-68.8zM1636.9 2421.8h17.2v2.6h-17.2zM1585.3 2421.8h17.2v2.6h-17.2zM1533.7 2421.8h34.4v2.6h-34.4zM1533.7 2424.4h68.8v2.6h-68.8zM1636.9 2424.4h34.4v2.6h-34.4zM1550.9 2427h17.2v2.6h-17.2zM1568.1 2429.6h103.2v2.6h-103.2zM1550.9 2432.2h34.4v2.6h-34.4zM1550.9 2434.8h17.2v2.6h-17.2zM1585.3 2437.4h17.2v2.6h-17.2zM1533.7 2437.4h34.4v5.2h-34.4zM1636.9 2440h17.2v2.6h-17.2zM1533.7 2442.6h68.8v2.6h-68.8zM1998 2442.6h17.2v5.2h-17.2zM2049.6 2442.6h17.2v5.2h-17.2zM1550.9 2445.2h17.2v2.6h-17.2zM1533.7 2447.8h68.8v2.6h-68.8zM1980.8 2447.8h17.2v2.6h-17.2zM1860.4 2447.8h17.2v2.6h-17.2zM1636.9 2447.8h34.4v2.6h-34.4zM1688.5 2450.4h34.4v2.6h-34.4zM1619.7 2450.4h17.2v2.6h-17.2zM1791.7 2450.4h17.1v2.6h-17.1zM1654.1 2450.4h17.2v2.6h-17.2zM1894.8 2450.4h34.4v2.6h-34.4zM2032.4 2450.4h17.2v2.6h-17.2zM1963.6 2453h34.4v2.6h-34.4zM1636.9 2455.6h17.2v2.6h-17.2zM1550.9 2455.6h34.4v2.6h-34.4zM1808.8 2455.6h68.8v2.6h-68.8zM1929.2 2455.6h34.4v2.6h-34.4zM1808.8 2458.2h17.2v2.6h-17.2zM1912 2458.2h51.6v2.6h-51.6zM1550.9 2458.2h17.2v2.6h-17.2zM1688.5 2458.2h17.2v2.6h-17.2zM1860.4 2458.2h34.4v2.6h-34.4zM1774.5 2455.6h17.2v7.8h-17.2zM2015.2 2455.6h17.2v7.8h-17.2zM1808.8 2460.8h103.2v2.6h-103.2zM1533.7 2460.8h51.6v2.6h-51.6zM1654.1 2460.8h17.2v2.6h-17.2zM1929.2 2460.8h34.4v2.6h-34.4zM1963.6 2463.4h17.2v2.6h-17.2zM1877.6 2463.4h17.2v2.6h-17.2zM1808.8 2466h17.2v2.6h-17.2zM2015.2 2466h17.2v2.6h-17.2zM1912 2466h68.8v2.6h-68.8zM1774.5 2468.6h17.2v2.6h-17.2zM1533.7 2468.6h68.8v2.6h-68.8zM1946.4 2468.6h17.2v2.6h-17.2zM1808.8 2468.6h120.4v2.6h-120.4zM2032.4 2468.6h17.2v2.6h-17.2zM1688.5 2468.6h17.2v5.2h-17.2zM1654.1 2471.2h17.2v2.6h-17.2zM1808.8 2471.2h154.8v2.6h-154.8zM1568.1 2471.2h17.2v2.6h-17.2zM2015.2 2471.2h17.2v2.6h-17.2zM1533.7 2471.2h17.2v2.6h-17.2zM1654.1 2473.8h68.8v2.6h-68.8zM1946.4 2473.8h17.2v2.6h-17.2zM1791.7 2473.8h68.7v2.6h-68.7zM1533.7 2473.8h86v2.6h-86zM2032.4 2473.8h17.2v2.6h-17.2zM1912 2476.4h51.6v2.6h-51.6zM1774.5 2476.4h17.2v2.6h-17.2zM1568.1 2476.4h17.2v2.6h-17.2zM1860.4 2476.4h34.4v2.6h-34.4zM1688.5 2476.4h17.2v5.2h-17.2zM2015.2 2476.4h17.2v5.2h-17.2zM1533.7 2479h51.6v2.6h-51.6zM1774.5 2479h51.5v2.6h-51.5zM1636.9 2479h17.2v2.6h-17.2zM1894.8 2479h68.8v2.6h-68.8zM1843.2 2479h34.4v2.6h-34.4zM1602.5 2481.6h51.6v2.6h-51.6zM1705.7 2481.6h34.4v2.6h-34.4zM2032.4 2481.6h17.2v2.6h-17.2zM1808.8 2484.2h17.2v2.6h-17.2zM1636.9 2484.2h17.2v2.6h-17.2zM1843.2 2484.2h120.4v2.6h-120.4zM1774.5 2484.2h17.2v5.3h-17.2zM1533.7 2484.2h34.4v5.3h-34.4zM1912 2486.8h51.6v2.7h-51.6zM1808.8 2486.8h86v2.7h-86zM2015.2 2484.2h17.2v7.9h-17.2zM1774.5 2489.5h189.1v2.6h-189.1zM1654.1 2489.5h17.2v2.6h-17.2zM1533.7 2489.5h68.8v2.6h-68.8zM1688.5 2484.2h17.2v10.5h-17.2zM1636.9 2492.1h17.2v2.6h-17.2zM1602.5 2492.1h17.2v2.6h-17.2zM1929.2 2492.1h17.2v2.6h-17.2zM1533.7 2492.1h51.6v2.6h-51.6zM1774.5 2492.1h103.1v2.6h-103.1zM1843.2 2494.7h17.2v2.6h-17.2zM1585.3 2494.7h103.2v2.6h-103.2zM1894.8 2492.1h17.2v7.8h-17.2zM1791.7 2494.7h34.3v5.2h-34.3zM1585.3 2497.3h51.6v2.6h-51.6zM1533.7 2497.3h17.2v2.6h-17.2zM1654.1 2497.3h34.4v2.6h-34.4zM1946.4 2497.3h17.2v2.6h-17.2zM1705.7 2494.7h17.2v7.8h-17.2zM1671.3 2499.9h17.2v2.6h-17.2zM1860.4 2499.9h154.8v2.6h-154.8zM1774.5 2499.9h68.7v2.6h-68.7zM1585.3 2499.9h68.8v2.6h-68.8zM2049.6 2502.5h17.2v2.6h-17.2zM1894.8 2502.5h17.2v2.6h-17.2zM1980.8 2502.5h34.4v2.6h-34.4zM1998 2505.1h17.2v2.6h-17.2zM1740.1 2505.1h34.4v2.6h-34.4zM1963.6 2505.1h17.2v2.6h-17.2zM1671.3 2510.3h17.2v2.6h-17.2zM1791.7 2510.3h51.5v2.6h-51.5zM1912 2510.3h51.6v2.6h-51.6zM1705.7 2510.3h17.2v2.6h-17.2zM1860.4 2510.3h34.4v2.6h-34.4zM1894.8 2512.9h17.2v2.6h-17.2zM1894.8 2515.5h34.4v2.6h-34.4zM1894.8 2520.7h17.2v2.6h-17.2zM1894.8 2528.5h17.2v2.6h-17.2zM1946.4 2531.1h17.2v2.6h-17.2zM1894.8 2531.1h34.4v2.6h-34.4zM1929.2 2533.7h17.2v2.6h-17.2zM1894.8 2533.7h17.2v5.2h-17.2zM1946.4 2536.3h17.2v2.6h-17.2zM1894.8 2541.5h34.4v2.6h-34.4zM1808.8 2544.1h17.2v2.6h-17.2zM1894.8 2544.1h68.8v2.6h-68.8zM1998 2546.7h17.2v2.6h-17.2zM1912 2546.7h17.2v2.6h-17.2zM1946.4 2546.7h17.2v5.2h-17.2zM1894.8 2549.3h34.4v2.6h-34.4zM1877.6 2551.9h86v2.6h-86zM1877.6 2554.5h51.6v2.6h-51.6zM1946.4 2554.5h17.2v2.6h-17.2zM1894.8 2557.1h51.6v2.6h-51.6zM1894.8 2559.7h68.8v2.6h-68.8zM1929.2 2562.3h17.2v2.6h-17.2zM1998 2562.3h17.2v2.6h-17.2zM1860.4 2562.3h17.2v2.6h-17.2zM1774.5 2562.3h68.7v2.6h-68.7zM2032.4 2564.9h34.4v2.7h-34.4zM2032.4 2567.6h17.2v2.6h-17.2zM2032.4 2570.2h34.4v2.6h-34.4zM1946.4 2570.2h17.2v2.6h-17.2zM1894.8 2570.2h34.4v2.6h-34.4zM2032.4 2572.8h17.2v2.6h-17.2zM1877.6 2580.6h51.6v2.6h-51.6zM1946.4 2580.6h17.2v2.6h-17.2zM2032.4 2580.6h34.4v2.6h-34.4zM2015.2 2591h17.2v2.6h-17.2zM1980.8 2585.8h17.2v10.4h-17.2zM1946.4 2598.8h17.2v2.6h-17.2zM2015.2 2606.6h17.2v2.6h-17.2zM1946.4 2609.2h17.2v2.6h-17.2zM1980.8 2601.4h17.2v13h-17.2zM2049.6 2611.8h17.2v2.6h-17.2zM1877.6 2614.4h86v2.6h-86zM1791.7 2614.4h17.1v2.6h-17.1zM1894.8 2617h17.2v2.6h-17.2zM2032.4 2617h34.4v2.6h-34.4zM1946.4 2617h17.2v2.6h-17.2zM1877.6 2619.6h86v2.6h-86zM2049.6 2619.6h17.2v2.6h-17.2zM1877.6 2622.2h51.6v2.6h-51.6zM1946.4 2622.2h17.2v2.6h-17.2zM1980.8 2617h17.2v10.4h-17.2zM2032.4 2622.2h34.4v5.2h-34.4zM1877.6 2624.8h86v2.6h-86zM1808.8 2627.4h17.2v2.6h-17.2zM1877.6 2627.4h51.6v2.6h-51.6zM1946.4 2627.4h17.2v2.6h-17.2zM2049.6 2627.4h17.2v2.6h-17.2zM1912 2630h17.2v2.6h-17.2zM2032.4 2630h17.2v2.6h-17.2zM1877.6 2630h17.2v5.2h-17.2zM1946.4 2632.6h17.2v2.6h-17.2zM2049.6 2632.6h17.2v2.6h-17.2zM1980.8 2632.6h17.2v5.2h-17.2zM2032.4 2635.2h34.4v2.6h-34.4zM1963.6 2637.8h34.4v2.6h-34.4zM2015.2 2637.8h34.4v2.6h-34.4zM1877.6 2640.4h34.4v2.6h-34.4zM1946.4 2640.4h17.2v2.6h-17.2zM2032.4 2640.4h34.4v5.3h-34.4zM1980.8 2640.4h17.2v5.3h-17.2zM1877.6 2643h17.2v2.7h-17.2zM1963.6 2645.7h17.2v2.6h-17.2zM2015.2 2645.7h17.2v2.6h-17.2zM1963.6 2648.3h34.4v2.6h-34.4zM2032.4 2648.3h17.2v2.6h-17.2zM1894.8 2648.3h17.2v2.6h-17.2zM2015.2 2650.9h17.2v2.6h-17.2zM1963.6 2650.9h17.2v5.2h-17.2zM2015.2 2653.5h34.4v2.6h-34.4zM2032.4 2656.1h34.4v2.6h-34.4zM1877.6 2656.1h34.4v5.2h-34.4zM1929.2 2658.7h17.2v2.6h-17.2zM1980.8 2656.1h17.2v7.8h-17.2zM1877.6 2661.3h17.2v2.6h-17.2zM2015.2 2658.7h51.6v10.4h-51.6zM1963.6 2663.9h34.4v5.2h-34.4zM1808.8 2669.1h17.2v2.6h-17.2zM1894.8 2669.1h34.4v2.6h-34.4zM1946.4 2669.1h17.2v5.2h-17.2zM2049.6 2669.1h17.2v5.2h-17.2zM1877.6 2671.7h34.4v5.2h-34.4zM1980.8 2671.7h17.2v5.2h-17.2zM2032.4 2674.3h34.4v2.6h-34.4zM1963.6 2676.9h34.4v2.6h-34.4zM2015.2 2676.9h51.6v2.6h-51.6zM1671.3 2679.5h17.2v2.6h-17.2zM1912 2679.5h51.6v2.6h-51.6zM1998 2679.5h17.2v2.6h-17.2zM1705.7 2679.5h17.2v2.6h-17.2zM1791.7 2679.5h85.9v2.6h-85.9zM1877.6 2682.1h34.4v2.6h-34.4zM2032.4 2682.1h34.4v2.6h-34.4zM1980.8 2682.1h17.2v2.6h-17.2z"/><path fill="#06B583" d="M1568.1 1661.6h17.2v2.6h-17.2zM1688.5 1661.6h17.2v2.6h-17.2zM1533.7 1661.6h17.2v2.6h-17.2zM1602.5 1661.6h51.6v2.6h-51.6zM1791.7 1664.2h17.1v2.6h-17.1zM1619.7 1664.2h17.2v2.6h-17.2zM1843.2 1664.2h17.2v5.2h-17.2zM1705.7 1664.2h17.2v5.2h-17.2zM1671.3 1664.2h17.2v5.2h-17.2zM1602.5 1666.8h34.4v2.6h-34.4zM1602.5 1669.4h103.2v2.6h-103.2zM1568.1 1669.4h17.2v5.2h-17.2zM1533.7 1669.4h17.2v5.2h-17.2zM1688.5 1672h17.2v2.6h-17.2zM1602.5 1672h68.8v5.2h-68.8zM1533.7 1674.6h51.6v2.6h-51.6zM1688.5 1674.6h34.4v2.6h-34.4zM1568.1 1677.2h17.2v2.6h-17.2zM1671.3 1677.2h51.6v2.6h-51.6zM1619.7 1677.2h17.2v2.6h-17.2zM1568.1 1679.8h68.8v2.6h-68.8zM1654.1 1679.8h68.8v2.6h-68.8zM1671.3 1682.4h17.2v2.6h-17.2zM1705.7 1682.4h17.2v2.6h-17.2zM1843.2 1682.4h34.4v2.6h-34.4zM1619.7 1682.4h17.2v2.6h-17.2zM1688.5 1685h17.2v2.6h-17.2zM1533.7 1685h137.6v2.6h-137.6zM1671.3 1687.6h17.2v2.6h-17.2zM1774.5 1687.6h103.1v2.6h-103.1zM1705.7 1687.6h17.2v2.6h-17.2zM1550.9 1690.2h34.4v2.6h-34.4zM1602.5 1690.2h103.2v2.6h-103.2zM1568.1 1692.8h17.2v2.6h-17.2zM1843.2 1692.8h34.4v2.6h-34.4zM1671.3 1692.8h51.6v2.6h-51.6zM1774.5 1692.8h34.3v2.6h-34.3zM1602.5 1695.4h34.4v2.6h-34.4zM1671.3 1695.4h34.4v5.2h-34.4zM1568.1 1698h17.2v2.6h-17.2zM1602.5 1698h51.6v5.3h-51.6zM1671.3 1700.6h51.6v2.7h-51.6zM1671.3 1703.3h17.2v2.6h-17.2zM1705.7 1703.3h17.2v2.6h-17.2zM1843.2 1703.3h34.4v2.6h-34.4zM1619.7 1703.3h17.2v2.6h-17.2zM1568.1 1703.3h17.2v5.2h-17.2zM1602.5 1705.9h51.6v2.6h-51.6zM1688.5 1705.9h17.2v5.2h-17.2zM1550.9 1708.5h34.4v2.6h-34.4zM1602.5 1708.5h68.8v2.6h-68.8zM1619.7 1711.1h34.4v2.6h-34.4zM1671.3 1711.1h34.4v2.6h-34.4zM1550.9 1713.7h68.8v2.6h-68.8zM1654.1 1713.7h17.2v5.2h-17.2zM1585.3 1716.3h34.4v2.6h-34.4zM1533.7 1716.3h34.4v2.6h-34.4zM1860.4 1718.9h17.2v2.6h-17.2zM1550.9 1718.9h34.4v2.6h-34.4zM1619.7 1718.9h34.4v2.6h-34.4zM1671.3 1718.9h34.4v2.6h-34.4zM1550.9 1721.5h120.4v2.6h-120.4zM1688.5 1721.5h17.2v2.6h-17.2zM1533.7 1724.1h86v2.6h-86zM1654.1 1724.1h17.2v2.6h-17.2zM1602.5 1726.7h68.8v2.6h-68.8zM1550.9 1726.7h17.2v2.6h-17.2zM1568.1 1729.3h103.2v2.6h-103.2zM1688.5 1729.3h17.2v2.6h-17.2zM1550.9 1731.9h34.4v2.6h-34.4zM1602.5 1731.9h68.8v2.6h-68.8zM1533.7 1734.5h137.6v2.6h-137.6zM1619.7 1737.1h103.2v2.6h-103.2zM1619.7 1739.7h17.2v2.6h-17.2zM1568.1 1742.3h17.2v2.6h-17.2zM1619.7 1742.3h34.4v5.2h-34.4zM1671.3 1739.7h51.6v10.4h-51.6zM1705.7 1750.1h17.2v2.6h-17.2zM1671.3 1750.1h17.2v2.6h-17.2zM1619.7 1752.7h34.4v2.6h-34.4zM1568.1 1752.7h17.2v2.6h-17.2zM1671.3 1752.7h51.6v7.8h-51.6zM1619.7 1755.3h17.2v5.2h-17.2zM1568.1 1760.5h17.2v2.6h-17.2zM1619.7 1760.5h68.8v2.6h-68.8zM1533.7 1763.1h17.2v2.6h-17.2zM1585.3 1763.1h34.4v2.6h-34.4zM1636.9 1763.1h34.4v2.6h-34.4zM1550.9 1765.7h34.4v2.6h-34.4zM1688.5 1765.7h17.2v2.6h-17.2zM1602.5 1765.7h68.8v2.6h-68.8zM1843.2 1768.3h17.2v2.6h-17.2zM1636.9 1768.3h34.4v2.6h-34.4zM1568.1 1768.3h51.6v2.6h-51.6zM1602.5 1770.9h120.4v2.6h-120.4zM1568.1 1770.9h17.2v2.6h-17.2zM1774.5 1770.9h17.2v2.6h-17.2zM1585.3 1773.5h34.4v2.6h-34.4zM1585.3 1776.1h17.2v2.6h-17.2zM1654.1 1776.1h17.2v2.6h-17.2zM1533.7 1773.5h34.4v7.9h-34.4zM1585.3 1778.7h34.4v2.7h-34.4zM1533.7 1781.4h17.2v2.6h-17.2zM1585.3 1784h34.4v2.6h-34.4zM1533.7 1784h34.4v2.6h-34.4zM1636.9 1784h34.4v2.6h-34.4zM1533.7 1786.6h51.6v2.6h-51.6zM1602.5 1786.6h17.2v2.6h-17.2zM1654.1 1786.6h17.2v2.6h-17.2zM1636.9 1789.2h17.2v2.6h-17.2zM1585.3 1789.2h17.2v2.6h-17.2zM1533.7 1789.2h34.4v2.6h-34.4zM1636.9 1791.8h51.6v2.6h-51.6zM1533.7 1791.8h17.2v2.6h-17.2zM1568.1 1791.8h51.6v2.6h-51.6zM1533.7 1794.4h86v5.2h-86zM1636.9 1794.4h34.4v5.2h-34.4zM1585.3 1799.6h34.4v5.2h-34.4zM1533.7 1799.6h34.4v5.2h-34.4zM1636.9 1802.2h34.4v2.6h-34.4zM1636.9 1807.4h17.2v5.2h-17.2zM1585.3 1807.4h34.4v5.2h-34.4zM1533.7 1807.4h34.4v5.2h-34.4zM1654.1 1815.2h17.2v2.6h-17.2zM1550.9 1815.2h68.8v2.6h-68.8zM1636.9 1817.8h34.4v2.6h-34.4zM1585.3 1820.4h17.2v2.6h-17.2zM1533.7 1820.4h34.4v2.6h-34.4zM1654.1 1820.4h17.2v2.6h-17.2zM1602.5 1823h17.2v5.2h-17.2zM1533.7 1825.6h34.4v5.2h-34.4zM1654.1 1828.2h17.2v2.6h-17.2zM1585.3 1833.4h17.2v2.6h-17.2zM1533.7 1833.4h34.4v2.6h-34.4zM1550.9 1836h17.2v2.6h-17.2zM1654.1 1838.6h17.2v2.6h-17.2zM1636.9 1841.2h17.2v2.6h-17.2zM1550.9 1841.2h17.2v2.6h-17.2zM1533.7 1843.8h86v2.6h-86zM1636.9 1843.8h34.4v2.6h-34.4zM1619.7 1846.4h51.6v2.6h-51.6zM1585.3 1846.4h17.2v2.6h-17.2zM1533.7 1846.4h17.2v2.6h-17.2zM1636.9 1849h17.2v2.6h-17.2zM1533.7 1849h34.4v2.6h-34.4zM1533.7 1851.6h17.2v2.6h-17.2zM1585.3 1851.6h17.2v2.6h-17.2zM1619.7 1851.6h51.6v2.6h-51.6zM1533.7 1854.2h137.6v2.6h-137.6zM1533.7 1856.8h17.2v2.7h-17.2zM1671.3 1856.8h34.4v2.7h-34.4zM1568.1 1856.8h86v2.7h-86zM1654.1 1862.1h17.2v2.6h-17.2zM1585.3 1862.1h17.2v2.6h-17.2zM1533.7 1862.1h34.4v2.6h-34.4zM1619.7 1862.1h17.2v2.6h-17.2zM1550.9 1864.7h17.2v2.6h-17.2zM1550.9 1872.5h17.2v2.6h-17.2zM1550.9 1880.3h17.2v2.6h-17.2zM1550.9 1893.3h17.2v5.2h-17.2zM1585.3 1895.9h17.2v2.6h-17.2zM1550.9 1976.6h17.2v2.6h-17.2zM1980.8 1979.2h17.2v2.6h-17.2zM2015.2 1979.2h51.6v2.6h-51.6zM1740.1 1979.2h17.2v2.6h-17.2zM1688.5 1981.8h17.2v2.6h-17.2zM1602.5 1981.8h68.8v2.6h-68.8zM1843.2 1984.4h34.4v2.6h-34.4zM1808.8 1984.4h17.2v2.6h-17.2zM1774.5 1984.4h17.2v2.6h-17.2zM1929.2 1987h17.2v2.6h-17.2zM1877.6 1989.6h17.2v2.6h-17.2zM1912 1989.6h17.2v2.6h-17.2zM1877.6 1992.2h68.8v2.6h-68.8zM1929.2 1994.8h17.2v5.2h-17.2zM1705.7 2000h17.2v2.6h-17.2zM1791.7 2000h85.9v2.6h-85.9zM1619.7 2000h17.2v2.6h-17.2zM1791.7 2002.6h68.7v2.6h-68.7zM1533.7 2002.6h17.2v2.6h-17.2zM1585.3 2002.6h51.6v2.6h-51.6zM1671.3 2002.6h51.6v2.6h-51.6zM1671.3 2005.2h17.2v2.6h-17.2zM1774.5 2005.2h17.2v2.6h-17.2zM1929.2 2005.2h17.2v2.6h-17.2zM1774.5 2007.8h103.1v2.6h-103.1zM1860.4 2010.4h17.2v2.6h-17.2zM1929.2 2010.4h17.2v5.2h-17.2zM1774.5 2013h103.1v2.6h-103.1zM1585.3 2013h17.2v2.6h-17.2zM1688.5 2013h34.4v2.6h-34.4zM1619.7 2013h17.2v2.6h-17.2zM1602.5 2015.6h34.4v2.7h-34.4zM1912 2015.6h34.4v2.7h-34.4zM1671.3 2015.6h51.6v2.7h-51.6zM1808.8 2015.6h17.2v2.7h-17.2zM1774.5 2015.6h17.2v2.7h-17.2zM1860.4 2018.3h17.2v2.6h-17.2zM1533.7 2018.3h137.6v2.6h-137.6zM1774.5 2018.3h68.7v2.6h-68.7zM1688.5 2018.3h34.4v2.6h-34.4zM1929.2 2018.3h17.2v5.2h-17.2zM1826 2020.9h17.2v2.6h-17.2zM1585.3 2020.9h51.6v2.6h-51.6zM1860.4 2020.9h34.4v2.6h-34.4zM1654.1 2020.9h68.8v2.6h-68.8zM1774.5 2020.9h34.3v2.6h-34.3zM1774.5 2023.5h103.1v2.6h-103.1zM1636.9 2023.5h34.4v2.6h-34.4zM1533.7 2023.5h68.8v2.6h-68.8zM1533.7 2026.1h51.6v2.6h-51.6zM1654.1 2026.1h17.2v2.6h-17.2zM1826 2026.1h51.6v2.6h-51.6zM1791.7 2026.1h17.1v5.2h-17.1zM1636.9 2028.7h17.2v2.6h-17.2zM1533.7 2028.7h86v2.6h-86zM1843.2 2028.7h34.4v2.6h-34.4zM1808.8 2031.3h68.8v2.6h-68.8zM1705.7 2031.3h17.2v2.6h-17.2zM1636.9 2031.3h34.4v2.6h-34.4zM1533.7 2031.3h68.8v2.6h-68.8zM1791.7 2033.9h17.1v2.6h-17.1zM1843.2 2033.9h17.2v2.6h-17.2zM1533.7 2033.9h17.2v2.6h-17.2zM1568.1 2033.9h34.4v2.6h-34.4zM1654.1 2033.9h17.2v5.2h-17.2zM1791.7 2036.5h34.3v2.6h-34.3zM1843.2 2036.5h34.4v2.6h-34.4zM1533.7 2036.5h34.4v2.6h-34.4zM1636.9 2039.1h34.4v2.6h-34.4zM1774.5 2039.1h34.3v2.6h-34.3zM1636.9 2041.7h17.2v2.6h-17.2zM1688.5 2041.7h17.2v2.6h-17.2zM1533.7 2039.1h86v7.8h-86zM1826 2039.1h51.6v7.8h-51.6zM1774.5 2041.7h17.2v5.2h-17.2zM1654.1 2044.3h17.2v2.6h-17.2zM1843.2 2046.9h17.2v2.6h-17.2zM1636.9 2049.5h17.2v2.6h-17.2zM1791.7 2049.5h17.1v2.6h-17.1zM1826 2049.5h17.2v2.6h-17.2zM1533.7 2049.5h17.2v5.2h-17.2zM1568.1 2049.5h51.6v5.2h-51.6zM1808.8 2052.1h34.4v2.6h-34.4zM1860.4 2049.5h17.2v7.8h-17.2zM1550.9 2054.7h120.4v2.6h-120.4zM1688.5 2054.7h17.2v2.6h-17.2zM1774.5 2054.7h68.7v2.6h-68.7zM1533.7 2057.3h86v2.6h-86zM1808.8 2057.3h34.4v2.6h-34.4zM1636.9 2057.3h34.4v2.6h-34.4zM1774.5 2057.3h17.2v2.6h-17.2zM1585.3 2059.9h17.2v2.6h-17.2zM1533.7 2059.9h17.2v2.6h-17.2zM1843.2 2059.9h34.4v2.6h-34.4zM1843.2 2062.5h17.2v2.6h-17.2zM1585.3 2062.5h34.4v2.6h-34.4zM1585.3 2065.1h17.2v2.6h-17.2zM1550.9 2065.1h17.2v2.6h-17.2zM1619.7 2065.1h103.2v2.6h-103.2zM1774.5 2065.1h68.7v5.2h-68.7zM1860.4 2067.7h17.2v2.6h-17.2zM1636.9 2067.7h34.4v2.6h-34.4zM1550.9 2067.7h68.8v2.6h-68.8zM1774.5 2070.3h51.5v2.6h-51.5zM1568.1 2070.3h17.2v2.6h-17.2zM1671.3 2070.3h51.6v2.6h-51.6zM1602.5 2070.3h51.6v2.6h-51.6zM1791.7 2072.9h34.3v2.6h-34.3zM1860.4 2072.9h17.2v2.6h-17.2zM1654.1 2072.9h68.8v2.6h-68.8zM1929.2 2072.9h17.2v2.6h-17.2zM1533.7 2072.9h103.2v2.6h-103.2zM1843.2 2075.5h17.2v2.6h-17.2zM1550.9 2075.5h17.2v2.6h-17.2zM1808.8 2078.1h68.8v2.6h-68.8zM1533.7 2078.1h17.2v2.6h-17.2zM1636.9 2078.1h34.4v2.6h-34.4zM1568.1 2078.1h51.6v2.6h-51.6zM1533.7 2080.7h137.6v2.6h-137.6zM1808.8 2080.7h17.2v2.6h-17.2zM1774.5 2080.7h17.2v2.6h-17.2zM1688.5 2080.7h17.2v5.2h-17.2zM1533.7 2083.3h51.6v2.6h-51.6zM1602.5 2083.3h68.8v2.6h-68.8zM1843.2 2080.7h34.4v7.8h-34.4zM1533.7 2085.9h17.2v2.6h-17.2zM2032.4 2085.9h34.4v2.6h-34.4zM1619.7 2085.9h68.8v2.6h-68.8zM1808.8 2085.9h17.2v2.6h-17.2zM1568.1 2085.9h17.2v5.2h-17.2zM1998 2085.9h17.2v5.2h-17.2zM2032.4 2088.5h17.2v2.6h-17.2zM1602.5 2088.5h86v2.6h-86zM1843.2 2088.5h17.2v5.2h-17.2zM1550.9 2091.1h137.6v2.6h-137.6zM2015.2 2091.1h17.2v5.3h-17.2zM1671.3 2093.7h17.2v2.7h-17.2zM1533.7 2093.7h120.4v2.7h-120.4zM1550.9 2096.4h34.4v2.6h-34.4zM1619.7 2096.4h34.4v2.6h-34.4zM1671.3 2096.4h51.6v2.6h-51.6zM1550.9 2099h154.8v2.6h-154.8zM1671.3 2101.6h51.6v2.6h-51.6zM1619.7 2101.6h17.2v2.6h-17.2zM1843.2 2104.2h34.4v2.6h-34.4zM1585.3 2104.2h137.6v2.6h-137.6zM1843.2 2106.8h17.2v2.6h-17.2zM1688.5 2106.8h34.4v2.6h-34.4zM1619.7 2106.8h17.2v2.6h-17.2zM1774.5 2106.8h17.2v5.2h-17.2zM2015.2 2106.8h17.2v5.2h-17.2zM1826 2109.4h51.6v2.6h-51.6zM1671.3 2109.4h51.6v5.2h-51.6zM1826 2112h34.4v5.2h-34.4zM1705.7 2114.6h17.2v2.6h-17.2zM1843.2 2117.2h17.2v2.6h-17.2zM2032.4 2117.2h17.2v2.6h-17.2zM1808.8 2117.2h17.2v2.6h-17.2zM1688.5 2117.2h34.4v2.6h-34.4zM1619.7 2117.2h17.2v5.2h-17.2zM1671.3 2119.8h34.4v2.6h-34.4zM2049.6 2119.8h17.2v2.6h-17.2zM1998 2119.8h17.2v2.6h-17.2zM1826 2119.8h51.6v2.6h-51.6zM1671.3 2122.4h51.6v2.6h-51.6zM1826 2122.4h34.4v2.6h-34.4zM1568.1 2122.4h17.2v5.2h-17.2zM2032.4 2122.4h34.4v5.2h-34.4zM1808.8 2125h51.6v2.6h-51.6zM1705.7 2125h17.2v5.2h-17.2zM1619.7 2125h17.2v5.2h-17.2zM1808.8 2127.6h17.2v2.6h-17.2zM1671.3 2127.6h17.2v2.6h-17.2zM1843.2 2127.6h34.4v5.2h-34.4zM2032.4 2127.6h17.2v5.2h-17.2zM1688.5 2130.2h34.4v2.6h-34.4zM1774.5 2127.6h17.2v7.8h-17.2zM1808.8 2132.8h68.8v2.6h-68.8zM1705.7 2132.8h17.2v2.6h-17.2zM2032.4 2132.8h34.4v2.6h-34.4zM2049.6 2135.4h17.2v2.6h-17.2zM1568.1 2135.4h137.6v2.6h-137.6zM1998 2135.4h17.2v2.6h-17.2zM1705.7 2138h17.2v2.6h-17.2zM1808.8 2138h68.8v2.6h-68.8zM2032.4 2138h17.2v2.6h-17.2zM1774.5 2138h17.2v2.6h-17.2zM1619.7 2140.6h103.2v2.6h-103.2zM1998 2140.6h17.2v5.2h-17.2zM1602.5 2143.2h34.4v2.6h-34.4zM1843.2 2143.2h34.4v2.6h-34.4zM1671.3 2143.2h51.6v2.6h-51.6zM1843.2 2145.8h17.2v5.2h-17.2zM1654.1 2145.8h68.8v5.2h-68.8zM1568.1 2145.8h17.2v5.2h-17.2zM1808.8 2148.4h17.2v2.6h-17.2zM2032.4 2140.6h34.4v13h-34.4zM1619.7 2145.8h17.2v7.8h-17.2zM1808.8 2151h68.8v2.6h-68.8zM1705.7 2151h17.2v2.6h-17.2zM1774.5 2151h17.2v2.6h-17.2zM1602.5 2153.6h51.6v2.6h-51.6zM1568.1 2153.6h17.2v2.6h-17.2zM2049.6 2153.6h17.2v2.6h-17.2zM1671.3 2153.6h51.6v2.6h-51.6zM1568.1 2156.2h103.2v2.6h-103.2zM1705.7 2156.2h17.2v2.6h-17.2zM1843.2 2153.6h17.2v7.8h-17.2zM1533.7 2153.6h17.2v7.8h-17.2zM1998 2153.6h17.2v7.8h-17.2zM1602.5 2158.8h51.6v2.6h-51.6zM1671.3 2158.8h34.4v2.6h-34.4zM1568.1 2158.8h17.2v2.6h-17.2zM1671.3 2161.4h17.2v2.6h-17.2zM1774.5 2161.4h103.1v2.6h-103.1zM2032.4 2161.4h34.4v2.6h-34.4zM1619.7 2164h34.4v2.6h-34.4zM1671.3 2164h51.6v2.6h-51.6zM1826 2164h51.6v2.6h-51.6zM1533.7 2164h17.2v5.2h-17.2zM1843.2 2166.6h17.2v2.6h-17.2zM1688.5 2166.6h17.2v2.6h-17.2zM1602.5 2166.6h68.8v2.6h-68.8zM1568.1 2166.6h17.2v5.2h-17.2zM1671.3 2169.2h51.6v2.6h-51.6zM1826 2169.2h34.4v2.6h-34.4zM1774.5 2169.2h17.2v2.6h-17.2zM1619.7 2169.2h17.2v2.6h-17.2zM1533.7 2171.8h51.6v2.7h-51.6zM1602.5 2171.8h17.2v2.7h-17.2zM1636.9 2171.8h68.8v2.7h-68.8zM1998 2171.8h17.2v2.7h-17.2zM2049.6 2174.5h17.2v2.6h-17.2zM1774.5 2174.5h103.1v2.6h-103.1zM1929.2 2174.5h17.2v2.6h-17.2zM1843.2 2177.1h17.2v2.6h-17.2zM1688.5 2177.1h17.2v2.6h-17.2zM1533.7 2177.1h137.6v2.6h-137.6zM1998 2177.1h17.2v2.6h-17.2zM1826 2179.7h51.6v2.6h-51.6zM1774.5 2179.7h34.3v5.2h-34.3zM2032.4 2179.7h34.4v5.2h-34.4zM1671.3 2179.7h51.6v5.2h-51.6zM1619.7 2179.7h17.2v5.2h-17.2zM1843.2 2182.3h17.2v2.6h-17.2zM1568.1 2182.3h17.2v2.6h-17.2zM1533.7 2184.9h86v2.6h-86zM1636.9 2184.9h34.4v2.6h-34.4zM1998 2184.9h17.2v2.6h-17.2zM1568.1 2187.5h17.2v2.6h-17.2zM1843.2 2187.5h34.4v2.6h-34.4zM1826 2190.1h34.4v2.6h-34.4zM1774.5 2187.5h34.3v7.8h-34.3zM2032.4 2187.5h17.2v7.8h-17.2zM1619.7 2187.5h17.2v7.8h-17.2zM1671.3 2187.5h51.6v7.8h-51.6zM1843.2 2192.7h17.2v2.6h-17.2zM1843.2 2195.3h34.4v2.6h-34.4zM1602.5 2195.3h34.4v2.6h-34.4zM1688.5 2195.3h34.4v2.6h-34.4zM1774.5 2195.3h17.2v2.6h-17.2zM2032.4 2197.9h17.2v2.6h-17.2zM1826 2197.9h51.6v2.6h-51.6zM1791.7 2197.9h17.1v5.2h-17.1zM1860.4 2200.5h17.2v2.6h-17.2zM1619.7 2200.5h17.2v2.6h-17.2zM1998 2192.7h17.2v13h-17.2zM1671.3 2197.9h51.6v7.8h-51.6zM1843.2 2203.1h34.4v2.6h-34.4zM1688.5 2205.7h34.4v2.6h-34.4zM1791.7 2208.3h17.1v2.6h-17.1zM1843.2 2208.3h34.4v2.6h-34.4zM1671.3 2208.3h51.6v2.6h-51.6zM1998 2208.3h17.2v2.6h-17.2zM1705.7 2210.9h17.2v2.6h-17.2zM1602.5 2210.9h68.8v2.6h-68.8zM1843.2 2213.5h17.2v2.6h-17.2zM1671.3 2213.5h51.6v2.6h-51.6zM1602.5 2216.1h34.4v2.6h-34.4zM1688.5 2216.1h34.4v2.6h-34.4zM1533.7 2218.7h34.4v2.6h-34.4zM1602.5 2218.7h68.8v2.6h-68.8zM1619.7 2221.3h17.2v2.6h-17.2zM1774.5 2223.9h34.3v2.6h-34.3zM1843.2 2223.9h34.4v2.6h-34.4zM1671.3 2221.3h51.6v7.8h-51.6zM1843.2 2226.5h17.2v2.6h-17.2zM1998 2226.5h17.2v2.6h-17.2zM1619.7 2226.5h17.2v2.6h-17.2zM1602.5 2229.1h34.4v2.6h-34.4zM1688.5 2229.1h34.4v2.6h-34.4zM1654.1 2229.1h17.2v2.6h-17.2zM1619.7 2231.7h34.4v2.6h-34.4zM1671.3 2231.7h51.6v2.6h-51.6zM1602.5 2234.3h68.8v2.6h-68.8zM1619.7 2236.9h51.6v2.6h-51.6zM1705.7 2236.9h17.2v2.6h-17.2zM1688.5 2239.5h34.4v2.6h-34.4zM1619.7 2239.5h17.2v2.6h-17.2zM1568.1 2242.1h17.2v2.6h-17.2zM1533.7 2242.1h17.2v2.6h-17.2zM1602.5 2242.1h68.8v2.6h-68.8zM1619.7 2244.7h34.4v2.6h-34.4zM1602.5 2247.3h68.8v2.6h-68.8zM1550.9 2247.3h17.2v2.6h-17.2zM1705.7 2244.7h17.2v7.9h-17.2zM1619.7 2249.9h34.4v2.7h-34.4zM1568.1 2252.6h103.2v2.6h-103.2zM1533.7 2249.9h17.2v7.9h-17.2zM1568.1 2255.2h17.2v2.6h-17.2zM1602.5 2255.2h68.8v5.2h-68.8zM1688.5 2257.8h17.2v2.6h-17.2zM1843.2 2260.4h17.2v2.6h-17.2zM1619.7 2260.4h17.2v2.6h-17.2zM1671.3 2260.4h51.6v2.6h-51.6zM1791.7 2263h17.1v2.6h-17.1zM1671.3 2263h34.4v2.6h-34.4zM1843.2 2263h34.4v2.6h-34.4zM2032.4 2263h17.2v2.6h-17.2zM1998 2263h17.2v2.6h-17.2zM1688.5 2265.6h34.4v2.6h-34.4zM1619.7 2265.6h17.2v2.6h-17.2zM1791.7 2268.2h17.1v2.6h-17.1zM1671.3 2268.2h34.4v2.6h-34.4zM1998 2270.8h17.2v2.6h-17.2zM1619.7 2270.8h17.2v2.6h-17.2zM1688.5 2270.8h17.2v5.2h-17.2zM1533.7 2273.4h17.2v2.6h-17.2zM1602.5 2273.4h17.2v2.6h-17.2zM1568.1 2273.4h17.2v2.6h-17.2zM1636.9 2273.4h34.4v2.6h-34.4zM1688.5 2276h34.4v5.2h-34.4zM1619.7 2278.6h17.2v2.6h-17.2zM1602.5 2281.2h68.8v2.6h-68.8zM1619.7 2283.8h51.6v2.6h-51.6zM1568.1 2281.2h17.2v7.8h-17.2zM1688.5 2283.8h17.2v5.2h-17.2zM1602.5 2286.4h68.8v2.6h-68.8zM1636.9 2289h17.2v2.6h-17.2zM1585.3 2289h17.2v2.6h-17.2zM1533.7 2289h34.4v2.6h-34.4zM1585.3 2294.2h17.2v2.6h-17.2zM1533.7 2294.2h34.4v2.6h-34.4zM1550.9 2296.8h17.2v5.2h-17.2zM1636.9 2302h17.2v2.6h-17.2zM1585.3 2302h34.4v2.6h-34.4zM1533.7 2302h34.4v5.2h-34.4zM1602.5 2304.6h68.8v2.6h-68.8zM1636.9 2309.8h17.2v2.6h-17.2zM1550.9 2307.2h17.2v7.8h-17.2zM1654.1 2312.4h17.2v5.2h-17.2zM1585.3 2309.8h17.2v10.4h-17.2zM1533.7 2315h34.4v5.2h-34.4zM1636.9 2317.6h17.2v2.6h-17.2zM1550.9 2320.2h17.2v2.6h-17.2zM1533.7 2322.8h34.4v5.2h-34.4zM1585.3 2325.4h34.4v2.6h-34.4zM1636.9 2325.4h34.4v2.6h-34.4zM1585.3 2328h17.2v2.7h-17.2zM1550.9 2328h17.2v2.7h-17.2zM1550.9 2335.9h17.2v2.6h-17.2zM1636.9 2343.7h17.2v2.6h-17.2zM1533.7 2343.7h34.4v2.6h-34.4zM1550.9 2348.9h17.2v5.2h-17.2zM1585.3 2356.7h17.2v2.6h-17.2zM1550.9 2356.7h17.2v2.6h-17.2zM1533.7 2359.3h34.4v2.6h-34.4zM1550.9 2364.5h17.2v2.6h-17.2zM1654.1 2364.5h17.2v2.6h-17.2zM1550.9 2385.3h17.2v2.6h-17.2zM1550.9 2390.5h17.2v2.6h-17.2zM1533.7 2406.1h34.4v2.6h-34.4zM1550.9 2408.7h17.2v2.7h-17.2zM1550.9 2414h17.2v2.6h-17.2zM1533.7 2429.6h34.4v2.6h-34.4zM1740.1 2447.8h34.4v2.6h-34.4zM1998 2447.8h17.2v2.6h-17.2zM1636.9 2450.4h17.2v2.6h-17.2zM1929.2 2450.4h51.6v2.6h-51.6zM1533.7 2450.4h86v2.6h-86zM2015.2 2450.4h17.2v2.6h-17.2zM1671.3 2450.4h17.2v2.6h-17.2zM1808.8 2450.4h86v2.6h-86zM1774.5 2450.4h17.2v2.6h-17.2zM1877.6 2455.6h17.2v2.6h-17.2zM1912 2455.6h17.2v2.6h-17.2zM1963.6 2455.6h17.2v7.8h-17.2zM1912 2460.8h17.2v2.6h-17.2zM1980.8 2463.4h17.2v5.2h-17.2zM2015.2 2468.6h17.2v2.6h-17.2zM1929.2 2468.6h17.2v2.6h-17.2zM1963.6 2468.6h17.2v5.2h-17.2zM1636.9 2473.8h17.2v2.6h-17.2zM1860.4 2473.8h86v2.6h-86zM2015.2 2473.8h17.2v2.6h-17.2zM1774.5 2473.8h17.2v2.6h-17.2zM1963.6 2476.4h17.2v5.2h-17.2zM1877.6 2479h17.2v2.6h-17.2zM1894.8 2481.6h34.4v2.6h-34.4zM1774.5 2481.6h103.1v2.6h-103.1zM1946.4 2481.6h17.2v2.6h-17.2zM2015.2 2481.6h17.2v2.6h-17.2zM1654.1 2481.6h51.6v2.6h-51.6zM1533.7 2481.6h68.8v2.6h-68.8zM1963.6 2484.2h17.2v7.9h-17.2zM1877.6 2492.1h17.2v2.6h-17.2zM1912 2492.1h17.2v2.6h-17.2zM1946.4 2492.1h34.4v2.6h-34.4zM2015.2 2492.1h17.2v5.2h-17.2zM1912 2494.7h68.8v2.6h-68.8zM1533.7 2494.7h51.6v2.6h-51.6zM1860.4 2494.7h34.4v2.6h-34.4zM1826 2494.7h17.2v2.6h-17.2zM1774.5 2494.7h17.2v5.2h-17.2zM1636.9 2497.3h17.2v2.6h-17.2zM1912 2497.3h34.4v2.6h-34.4zM1550.9 2497.3h34.4v2.6h-34.4zM1963.6 2497.3h34.4v2.6h-34.4zM1826 2497.3h68.8v2.6h-68.8zM1688.5 2494.7h17.2v7.8h-17.2zM2049.6 2499.9h17.2v2.6h-17.2zM1843.2 2499.9h17.2v2.6h-17.2zM1740.1 2499.9h17.2v2.6h-17.2zM1533.7 2499.9h51.6v2.6h-51.6zM1654.1 2499.9h17.2v2.6h-17.2zM1912 2502.5h51.6v2.6h-51.6zM1740.1 2502.5h103.1v2.6h-103.1zM1860.4 2502.5h34.4v2.6h-34.4zM1550.9 2502.5h172v2.6h-172zM1980.8 2505.1h17.2v2.6h-17.2zM1791.7 2507.7h17.1v2.6h-17.1zM1894.8 2507.7h34.4v2.6h-34.4zM1843.2 2510.3h17.2v2.6h-17.2zM1568.1 2510.3h103.2v2.6h-103.2zM1688.5 2510.3h17.2v2.6h-17.2zM1533.7 2510.3h17.2v2.6h-17.2zM1774.5 2510.3h17.2v2.6h-17.2zM1912 2512.9h51.6v2.6h-51.6zM1791.7 2512.9h34.3v2.6h-34.3zM1860.4 2512.9h34.4v2.6h-34.4zM1774.5 2515.5h51.5v2.6h-51.5zM1843.2 2515.5h51.6v2.6h-51.6zM1929.2 2515.5h34.4v2.6h-34.4zM1705.7 2515.5h17.2v2.6h-17.2zM1654.1 2515.5h34.4v2.6h-34.4zM1877.6 2518.1h86v2.6h-86zM1791.7 2520.7h51.5v2.6h-51.5zM1912 2520.7h51.6v2.6h-51.6zM1877.6 2520.7h17.2v2.6h-17.2zM1946.4 2523.3h17.2v2.6h-17.2zM1894.8 2523.3h17.2v2.6h-17.2zM1791.7 2525.9h34.3v2.6h-34.3zM1877.6 2525.9h86v2.6h-86zM1912 2528.5h51.6v2.6h-51.6zM1791.7 2528.5h17.1v2.6h-17.1zM1877.6 2528.5h17.2v2.6h-17.2zM1791.7 2531.1h51.5v2.6h-51.5zM1860.4 2531.1h34.4v2.6h-34.4zM1929.2 2531.1h17.2v2.6h-17.2zM1791.7 2533.7h103.1v2.6h-103.1zM1912 2533.7h17.2v2.6h-17.2zM1946.4 2533.7h17.2v2.6h-17.2zM1671.3 2533.7h51.6v2.6h-51.6zM1912 2536.3h34.4v2.6h-34.4zM1705.7 2536.3h17.2v2.6h-17.2zM1774.5 2536.3h68.7v2.6h-68.7zM1877.6 2536.3h17.2v2.6h-17.2zM1791.7 2538.9h34.3v2.6h-34.3zM1877.6 2538.9h86v2.6h-86zM1929.2 2541.5h34.4v2.6h-34.4zM1774.5 2541.5h120.3v2.6h-120.3zM1774.5 2544.1h34.3v2.6h-34.3zM1826 2544.1h68.8v2.6h-68.8zM1619.7 2544.1h17.2v2.6h-17.2zM1808.8 2546.7h17.2v2.6h-17.2zM1877.6 2546.7h34.4v2.6h-34.4zM1929.2 2546.7h17.2v5.2h-17.2zM1774.5 2549.3h120.3v2.6h-120.3zM1860.4 2551.9h17.2v2.6h-17.2zM1774.5 2551.9h68.7v2.6h-68.7zM1774.5 2554.5h103.1v2.6h-103.1zM1705.7 2554.5h17.2v2.6h-17.2zM1929.2 2554.5h17.2v2.6h-17.2zM1877.6 2557.1h17.2v2.6h-17.2zM1774.5 2557.1h85.9v2.6h-85.9zM1998 2549.3h17.2v13h-17.2zM1774.5 2559.7h120.3v2.6h-120.3zM1843.2 2562.3h17.2v2.6h-17.2zM1619.7 2562.3h103.2v2.6h-103.2zM1894.8 2564.9h68.8v5.3h-68.8zM1929.2 2570.2h17.2v2.6h-17.2zM1791.7 2570.2h17.1v2.6h-17.1zM1877.6 2570.2h17.2v2.6h-17.2zM2049.6 2572.8h17.2v2.6h-17.2zM1894.8 2572.8h34.4v5.2h-34.4zM1946.4 2572.8h17.2v5.2h-17.2zM2032.4 2575.4h34.4v5.2h-34.4zM1894.8 2578h68.8v2.6h-68.8zM1791.7 2580.6h85.9v2.6h-85.9zM1929.2 2580.6h17.2v2.6h-17.2zM1877.6 2583.2h86v2.6h-86zM1894.8 2585.8h34.4v2.6h-34.4zM1894.8 2596.2h34.4v2.6h-34.4zM2032.4 2596.2h17.2v2.6h-17.2zM1946.4 2596.2h17.2v2.6h-17.2zM2032.4 2598.8h34.4v2.6h-34.4zM1877.6 2598.8h68.8v2.6h-68.8zM1808.8 2598.8h17.2v2.6h-17.2zM1912 2601.4h17.2v2.6h-17.2zM2032.4 2604h34.4v2.6h-34.4zM1877.6 2604h51.6v2.6h-51.6zM1946.4 2601.4h17.2v7.8h-17.2zM1894.8 2606.6h34.4v2.6h-34.4zM1791.7 2609.2h34.3v2.6h-34.3zM2032.4 2609.2h34.4v2.6h-34.4zM1877.6 2609.2h68.8v2.6h-68.8zM2032.4 2611.8h17.2v2.6h-17.2zM1877.6 2611.8h86v2.6h-86zM1808.8 2614.4h68.8v2.6h-68.8zM1654.1 2614.4h68.8v2.6h-68.8zM1602.5 2614.4h17.2v2.6h-17.2zM1774.5 2614.4h17.2v2.6h-17.2zM1912 2617h34.4v2.6h-34.4zM1791.7 2617h34.3v2.6h-34.3zM1860.4 2617h34.4v2.6h-34.4zM1774.5 2619.6h103.1v2.6h-103.1zM1688.5 2619.6h17.2v5.2h-17.2zM1929.2 2622.2h17.2v2.6h-17.2zM1791.7 2622.2h85.9v2.6h-85.9zM1774.5 2624.8h103.1v2.6h-103.1zM1688.5 2624.8h34.4v2.6h-34.4zM1774.5 2627.4h34.3v2.6h-34.3zM1688.5 2627.4h17.2v2.6h-17.2zM1929.2 2627.4h17.2v2.6h-17.2zM1826 2627.4h51.6v2.6h-51.6zM2049.6 2630h17.2v2.6h-17.2zM1929.2 2630h34.4v2.6h-34.4zM1894.8 2630h17.2v2.6h-17.2zM1998 2614.4h17.2v20.8h-17.2zM1774.5 2630h103.1v5.2h-103.1zM1894.8 2632.6h51.6v2.6h-51.6zM1688.5 2632.6h17.2v2.6h-17.2zM1791.7 2635.2h17.1v5.2h-17.1zM1877.6 2635.2h86v5.2h-86zM2049.6 2637.8h17.2v2.6h-17.2zM1912 2640.4h34.4v2.6h-34.4zM1791.7 2640.4h51.5v5.3h-51.5zM1998 2640.4h17.2v5.3h-17.2zM1894.8 2643h68.8v2.7h-68.8zM2032.4 2645.7h34.4v2.6h-34.4zM1980.8 2645.7h17.2v2.6h-17.2zM1912 2645.7h17.2v2.6h-17.2zM1877.6 2645.7h17.2v5.2h-17.2zM1912 2648.3h51.6v2.6h-51.6zM2049.6 2648.3h17.2v2.6h-17.2zM2032.4 2650.9h34.4v2.6h-34.4zM1946.4 2650.9h17.2v2.6h-17.2zM1877.6 2650.9h51.6v2.6h-51.6zM1980.8 2650.9h17.2v5.2h-17.2zM1791.7 2653.5h17.1v2.6h-17.1zM2049.6 2653.5h17.2v2.6h-17.2zM1877.6 2653.5h17.2v2.6h-17.2zM1912 2653.5h51.6v5.2h-51.6zM1808.8 2656.1h17.2v2.6h-17.2zM1774.5 2656.1h17.2v2.6h-17.2zM1998 2656.1h17.2v5.2h-17.2zM1860.4 2658.7h17.2v2.6h-17.2zM1791.7 2658.7h51.5v2.6h-51.5zM1946.4 2658.7h17.2v2.6h-17.2zM1912 2658.7h17.2v2.6h-17.2zM1894.8 2661.3h68.8v2.6h-68.8zM1791.7 2661.3h34.3v2.6h-34.3zM1877.6 2663.9h86v5.2h-86zM1808.8 2663.9h17.2v5.2h-17.2zM1705.7 2669.1h17.2v2.6h-17.2zM1929.2 2669.1h17.2v2.6h-17.2zM1774.5 2669.1h34.3v2.6h-34.3zM1671.3 2669.1h17.2v2.6h-17.2zM1826 2669.1h51.6v2.6h-51.6zM1912 2671.7h34.4v2.6h-34.4zM1671.3 2671.7h51.6v2.6h-51.6zM1774.5 2671.7h103.1v5.2h-103.1zM1912 2674.3h51.6v2.6h-51.6zM1705.7 2674.3h17.2v2.6h-17.2zM1998 2666.5h17.2v13h-17.2zM1877.6 2676.9h86v2.6h-86zM1808.8 2676.9h17.2v2.6h-17.2zM1688.5 2679.5h17.2v2.6h-17.2zM1533.7 2679.5h51.6v2.6h-51.6zM1602.5 2679.5h51.6v2.6h-51.6zM1774.5 2679.5h17.2v2.6h-17.2zM1791.7 2682.1h51.5v2.6h-51.5zM1912 2682.1h51.6v2.6h-51.6zM1705.7 2682.1h17.2v2.6h-17.2zM1860.4 2682.1h17.2v2.6h-17.2zM1998 2682.1h17.2v2.6h-17.2z"/><path fill="#07C07C" d="M1550.9 1661.6h17.2v2.6h-17.2zM1654.1 1661.6h17.2v2.6h-17.2zM1585.3 1661.6h17.2v2.6h-17.2zM1568.1 1664.2h17.2v2.6h-17.2zM1533.7 1664.2h17.2v2.6h-17.2zM1602.5 1664.2h17.2v2.6h-17.2zM1688.5 1664.2h17.2v5.2h-17.2zM1636.9 1664.2h34.4v5.2h-34.4zM1533.7 1666.8h68.8v2.6h-68.8zM1550.9 1669.4h17.2v5.2h-17.2zM1585.3 1669.4h17.2v7.8h-17.2zM1585.3 1677.2h34.4v2.6h-34.4zM1636.9 1677.2h34.4v2.6h-34.4zM1533.7 1677.2h34.4v5.2h-34.4zM1636.9 1679.8h17.2v2.6h-17.2zM1688.5 1682.4h17.2v2.6h-17.2zM1533.7 1682.4h17.2v2.6h-17.2zM1636.9 1682.4h34.4v2.6h-34.4zM1568.1 1682.4h51.6v2.6h-51.6zM1568.1 1687.6h17.2v2.6h-17.2zM1688.5 1687.6h17.2v2.6h-17.2zM1602.5 1687.6h68.8v2.6h-68.8zM1533.7 1687.6h17.2v5.2h-17.2zM1585.3 1690.2h17.2v2.6h-17.2zM1533.7 1692.8h34.4v2.6h-34.4zM1585.3 1692.8h86v2.6h-86zM1636.9 1695.4h34.4v2.6h-34.4zM1533.7 1695.4h68.8v2.6h-68.8zM1533.7 1698h34.4v2.6h-34.4zM1585.3 1698h17.2v2.6h-17.2zM1654.1 1698h17.2v5.3h-17.2zM1533.7 1700.6h68.8v2.7h-68.8zM1585.3 1703.3h34.4v2.6h-34.4zM1688.5 1703.3h17.2v2.6h-17.2zM1636.9 1703.3h34.4v2.6h-34.4zM1533.7 1703.3h34.4v5.2h-34.4zM1654.1 1705.9h17.2v2.6h-17.2zM1585.3 1705.9h17.2v5.2h-17.2zM1533.7 1708.5h17.2v2.6h-17.2zM1533.7 1711.1h86v2.6h-86zM1654.1 1711.1h17.2v2.6h-17.2zM1533.7 1713.7h17.2v2.6h-17.2zM1654.1 1718.9h17.2v2.6h-17.2zM1585.3 1718.9h34.4v2.6h-34.4zM1533.7 1718.9h17.2v5.2h-17.2zM1585.3 1726.7h17.2v2.6h-17.2zM1533.7 1726.7h17.2v2.6h-17.2zM1533.7 1729.3h34.4v2.6h-34.4zM1533.7 1731.9h17.2v2.6h-17.2zM1585.3 1731.9h17.2v2.6h-17.2zM1533.7 1737.1h86v2.6h-86zM1636.9 1739.7h34.4v2.6h-34.4zM1602.5 1739.7h17.2v2.6h-17.2zM1550.9 1739.7h34.4v2.6h-34.4zM1585.3 1742.3h34.4v2.6h-34.4zM1533.7 1742.3h34.4v2.6h-34.4zM1654.1 1742.3h17.2v5.2h-17.2zM1533.7 1744.9h86v2.6h-86zM1602.5 1747.5h68.8v5.2h-68.8zM1688.5 1750.1h17.2v2.6h-17.2zM1533.7 1752.7h34.4v2.6h-34.4zM1654.1 1752.7h17.2v2.6h-17.2zM1602.5 1752.7h17.2v5.2h-17.2zM1533.7 1755.3h51.6v2.6h-51.6zM1636.9 1755.3h34.4v5.2h-34.4zM1550.9 1757.9h51.6v2.6h-51.6zM1585.3 1760.5h34.4v2.6h-34.4zM1533.7 1760.5h34.4v2.6h-34.4zM1550.9 1763.1h17.2v2.6h-17.2zM1585.3 1765.7h17.2v2.6h-17.2zM1533.7 1765.7h17.2v2.6h-17.2zM1533.7 1768.3h34.4v5.2h-34.4zM1585.3 1770.9h17.2v2.6h-17.2zM1585.3 1786.6h17.2v2.6h-17.2zM1550.9 1791.8h17.2v2.6h-17.2zM1550.9 1846.4h17.2v2.6h-17.2zM1550.9 1851.6h17.2v2.6h-17.2zM1654.1 1856.8h17.2v2.7h-17.2zM1550.9 1856.8h17.2v2.7h-17.2zM1757.3 1979.2h17.2v2.6h-17.2zM1568.1 1981.8h34.4v2.6h-34.4zM1533.7 1981.8h17.2v2.6h-17.2zM1826 1984.4h17.2v2.6h-17.2zM1791.7 1984.4h17.1v2.6h-17.1zM1774.5 1987h17.2v2.6h-17.2zM1826 1987h51.6v2.6h-51.6zM1929.2 1989.6h17.2v2.6h-17.2zM1860.4 1992.2h17.2v2.6h-17.2zM1705.7 1994.8h17.2v2.6h-17.2zM1671.3 1994.8h17.2v5.2h-17.2zM1774.5 1994.8h103.1v5.2h-103.1zM1533.7 2000h86v2.6h-86zM1688.5 2000h17.2v2.6h-17.2zM1636.9 2000h34.4v5.2h-34.4zM1550.9 2002.6h34.4v2.6h-34.4zM1533.7 2005.2h17.2v2.6h-17.2zM1688.5 2005.2h34.4v2.6h-34.4zM1568.1 2005.2h86v2.6h-86zM1791.7 2005.2h85.9v2.6h-85.9zM1774.5 2010.4h85.9v2.6h-85.9zM1533.7 2013h51.6v2.6h-51.6zM1602.5 2013h17.2v2.6h-17.2zM1636.9 2013h34.4v5.3h-34.4zM1533.7 2015.6h68.8v2.7h-68.8zM1791.7 2015.6h17.1v2.7h-17.1zM1826 2015.6h51.6v2.7h-51.6zM2049.6 2015.6h17.2v2.7h-17.2zM1843.2 2018.3h17.2v5.2h-17.2zM1808.8 2020.9h17.2v2.6h-17.2zM1533.7 2020.9h51.6v2.6h-51.6zM1636.9 2020.9h17.2v2.6h-17.2zM2049.6 2020.9h17.2v5.2h-17.2zM1843.2 2049.5h17.2v7.8h-17.2zM1533.7 2054.7h17.2v2.6h-17.2zM1843.2 2057.3h34.4v2.6h-34.4zM1568.1 2065.1h17.2v2.6h-17.2zM1860.4 2065.1h17.2v2.6h-17.2zM1602.5 2065.1h17.2v2.6h-17.2zM1533.7 2065.1h17.2v5.2h-17.2zM1843.2 2067.7h17.2v2.6h-17.2zM1533.7 2070.3h34.4v2.6h-34.4zM1654.1 2070.3h17.2v2.6h-17.2zM1826 2070.3h51.6v2.6h-51.6zM1585.3 2070.3h17.2v2.6h-17.2zM1826 2072.9h34.4v2.6h-34.4zM1774.5 2072.9h17.2v2.6h-17.2zM1636.9 2072.9h17.2v2.6h-17.2zM1585.3 2083.3h17.2v2.6h-17.2zM1550.9 2085.9h17.2v2.6h-17.2zM1585.3 2085.9h34.4v2.6h-34.4zM1533.7 2088.5h34.4v2.6h-34.4zM2049.6 2088.5h17.2v2.6h-17.2zM1585.3 2088.5h17.2v2.6h-17.2zM1533.7 2091.1h17.2v2.6h-17.2zM2032.4 2091.1h34.4v2.6h-34.4zM1998 2091.1h17.2v5.3h-17.2zM2032.4 2093.7h17.2v2.7h-17.2zM1585.3 2096.4h34.4v2.6h-34.4zM1654.1 2096.4h17.2v2.6h-17.2zM1533.7 2096.4h17.2v5.2h-17.2zM1533.7 2101.6h86v2.6h-86zM1636.9 2101.6h34.4v2.6h-34.4zM2015.2 2096.4h17.2v10.4h-17.2zM1533.7 2104.2h51.6v2.6h-51.6zM1533.7 2106.8h86v2.6h-86zM1636.9 2106.8h51.6v2.6h-51.6zM1550.9 2109.4h120.4v2.6h-120.4zM2032.4 2109.4h17.2v5.2h-17.2zM1533.7 2112h137.6v2.6h-137.6zM2032.4 2114.6h34.4v2.6h-34.4zM1533.7 2114.6h172v2.6h-172zM1998 2114.6h17.2v5.2h-17.2zM2049.6 2117.2h17.2v2.6h-17.2zM1636.9 2117.2h51.6v2.6h-51.6zM1533.7 2117.2h86v5.2h-86zM1636.9 2119.8h34.4v2.6h-34.4zM1585.3 2122.4h86v2.6h-86zM1533.7 2122.4h34.4v5.2h-34.4zM1585.3 2125h34.4v2.6h-34.4zM1636.9 2125h68.8v2.6h-68.8zM1688.5 2127.6h17.2v2.6h-17.2zM1636.9 2127.6h34.4v2.6h-34.4zM1568.1 2127.6h51.6v2.6h-51.6zM1533.7 2127.6h17.2v2.6h-17.2zM2049.6 2127.6h17.2v5.2h-17.2zM1602.5 2130.2h86v2.6h-86zM1998 2122.4h17.2v13h-17.2zM1533.7 2130.2h51.6v5.2h-51.6zM1602.5 2132.8h103.2v2.6h-103.2zM1533.7 2135.4h34.4v2.6h-34.4zM1568.1 2138h17.2v2.6h-17.2zM2049.6 2138h17.2v2.6h-17.2zM1602.5 2138h103.2v2.6h-103.2zM1998 2138h17.2v2.6h-17.2zM1533.7 2138h17.2v2.6h-17.2zM1533.7 2140.6h86v2.6h-86zM1636.9 2143.2h34.4v2.6h-34.4zM1533.7 2143.2h68.8v2.6h-68.8zM1533.7 2145.8h17.2v2.6h-17.2zM1636.9 2145.8h17.2v5.2h-17.2zM1585.3 2145.8h34.4v5.2h-34.4zM1533.7 2148.4h34.4v2.6h-34.4zM1998 2145.8h17.2v7.8h-17.2zM1533.7 2151h86v2.6h-86zM1636.9 2151h68.8v2.6h-68.8zM1654.1 2153.6h17.2v2.6h-17.2zM1585.3 2153.6h17.2v2.6h-17.2zM1550.9 2153.6h17.2v7.8h-17.2zM1654.1 2158.8h17.2v2.6h-17.2zM1585.3 2158.8h17.2v2.6h-17.2zM1568.1 2161.4h17.2v2.6h-17.2zM1533.7 2161.4h17.2v2.6h-17.2zM1688.5 2161.4h34.4v2.6h-34.4zM1602.5 2161.4h68.8v2.6h-68.8zM1550.9 2164h68.8v2.6h-68.8zM1654.1 2164h17.2v2.6h-17.2zM1585.3 2166.6h17.2v2.6h-17.2zM1550.9 2166.6h17.2v2.6h-17.2zM1998 2164h17.2v7.8h-17.2zM1585.3 2169.2h34.4v2.6h-34.4zM1636.9 2169.2h34.4v2.6h-34.4zM1533.7 2169.2h34.4v2.6h-34.4zM1585.3 2171.8h17.2v2.7h-17.2zM2032.4 2174.5h17.2v2.6h-17.2zM1533.7 2174.5h51.6v2.6h-51.6zM1654.1 2174.5h68.8v2.6h-68.8zM1602.5 2174.5h34.4v2.6h-34.4zM1533.7 2179.7h51.6v2.6h-51.6zM1602.5 2179.7h17.2v2.6h-17.2zM1636.9 2179.7h34.4v5.2h-34.4zM1998 2179.7h17.2v5.2h-17.2zM1585.3 2182.3h34.4v2.6h-34.4zM1533.7 2182.3h34.4v2.6h-34.4zM1533.7 2187.5h34.4v2.6h-34.4zM1585.3 2187.5h34.4v2.6h-34.4zM1998 2187.5h17.2v5.2h-17.2zM1602.5 2190.1h17.2v5.2h-17.2zM1636.9 2187.5h34.4v10.4h-34.4zM1533.7 2190.1h51.6v7.8h-51.6zM1568.1 2197.9h17.2v2.6h-17.2zM1533.7 2197.9h17.2v2.6h-17.2zM1602.5 2197.9h68.8v2.6h-68.8zM1636.9 2200.5h34.4v2.6h-34.4zM1602.5 2200.5h17.2v2.6h-17.2zM1533.7 2200.5h51.6v5.2h-51.6zM1602.5 2203.1h68.8v2.6h-68.8zM1533.7 2205.7h137.6v2.6h-137.6zM1533.7 2208.3h51.6v2.6h-51.6zM1602.5 2208.3h68.8v2.6h-68.8zM1533.7 2210.9h68.8v2.6h-68.8zM1568.1 2213.5h17.2v2.6h-17.2zM1602.5 2213.5h68.8v2.6h-68.8zM1533.7 2213.5h17.2v2.6h-17.2zM1636.9 2216.1h34.4v2.6h-34.4zM1533.7 2216.1h68.8v2.6h-68.8zM1568.1 2218.7h34.4v2.6h-34.4zM1636.9 2221.3h34.4v2.6h-34.4zM1533.7 2221.3h51.6v2.6h-51.6zM1602.5 2221.3h17.2v2.6h-17.2zM1533.7 2223.9h34.4v2.6h-34.4zM1619.7 2223.9h51.6v2.6h-51.6zM1636.9 2226.5h34.4v2.6h-34.4zM1533.7 2226.5h51.6v2.6h-51.6zM1602.5 2226.5h17.2v2.6h-17.2zM1533.7 2229.1h68.8v2.6h-68.8zM1636.9 2229.1h17.2v2.6h-17.2zM1568.1 2231.7h17.2v2.6h-17.2zM1533.7 2231.7h17.2v2.6h-17.2zM1602.5 2231.7h17.2v2.6h-17.2zM1654.1 2231.7h17.2v2.6h-17.2zM1533.7 2234.3h68.8v2.6h-68.8zM1533.7 2236.9h86v5.2h-86zM1636.9 2239.5h34.4v2.6h-34.4zM1550.9 2242.1h17.2v2.6h-17.2zM1585.3 2242.1h17.2v2.6h-17.2zM1533.7 2244.7h86v2.6h-86zM1654.1 2244.7h17.2v2.6h-17.2zM1568.1 2247.3h34.4v2.6h-34.4zM1533.7 2247.3h17.2v2.6h-17.2zM1550.9 2249.9h68.8v2.7h-68.8zM1654.1 2249.9h17.2v2.7h-17.2zM1550.9 2252.6h17.2v5.2h-17.2zM1585.3 2255.2h17.2v2.6h-17.2zM1533.7 2257.8h68.8v2.6h-68.8zM1568.1 2260.4h17.2v5.2h-17.2zM1705.7 2263h17.2v2.6h-17.2zM1636.9 2260.4h34.4v7.8h-34.4zM1602.5 2260.4h17.2v7.8h-17.2zM1533.7 2265.6h51.6v2.6h-51.6zM1568.1 2268.2h17.2v2.6h-17.2zM1602.5 2268.2h68.8v2.6h-68.8zM1705.7 2268.2h17.2v2.6h-17.2zM1533.7 2270.8h86v2.6h-86zM1636.9 2270.8h34.4v2.6h-34.4zM1585.3 2273.4h17.2v2.6h-17.2zM1550.9 2273.4h17.2v2.6h-17.2zM1533.7 2276h137.6v2.6h-137.6zM1533.7 2278.6h86v2.6h-86zM1636.9 2278.6h34.4v2.6h-34.4zM1585.3 2281.2h17.2v2.6h-17.2zM1585.3 2283.8h34.4v2.6h-34.4zM1533.7 2281.2h34.4v7.8h-34.4zM1585.3 2286.4h17.2v2.6h-17.2zM1585.3 2304.6h17.2v2.6h-17.2zM2049.6 2447.8h17.2v2.6h-17.2zM1980.8 2450.4h17.2v2.6h-17.2zM1998 2453h17.2v2.6h-17.2zM1980.8 2455.6h17.2v7.8h-17.2zM1980.8 2468.6h17.2v5.2h-17.2zM1963.6 2473.8h17.2v2.6h-17.2zM1980.8 2476.4h17.2v5.2h-17.2zM1877.6 2481.6h17.2v2.6h-17.2zM1929.2 2481.6h17.2v2.6h-17.2zM1963.6 2481.6h17.2v2.6h-17.2zM1980.8 2484.2h17.2v13.1h-17.2zM2049.6 2497.3h17.2v2.6h-17.2zM1998 2497.3h17.2v2.6h-17.2zM1757.3 2499.9h17.2v2.6h-17.2zM1533.7 2502.5h17.2v2.6h-17.2zM1843.2 2502.5h17.2v2.6h-17.2zM1774.5 2505.1h189.1v2.6h-189.1zM1619.7 2505.1h103.2v2.6h-103.2zM1808.8 2507.7h86v2.6h-86zM1602.5 2507.7h86v2.6h-86zM1774.5 2507.7h17.2v2.6h-17.2zM1929.2 2507.7h34.4v2.6h-34.4zM1705.7 2507.7h17.2v2.6h-17.2zM1550.9 2510.3h17.2v2.6h-17.2zM1533.7 2512.9h17.2v2.6h-17.2zM1826 2512.9h34.4v2.6h-34.4zM1774.5 2512.9h17.2v2.6h-17.2zM1602.5 2512.9h120.4v2.6h-120.4zM1826 2515.5h17.2v2.6h-17.2zM1688.5 2515.5h17.2v2.6h-17.2zM1533.7 2515.5h120.4v2.6h-120.4zM1774.5 2518.1h103.1v2.6h-103.1zM1585.3 2518.1h137.6v5.2h-137.6zM1533.7 2520.7h17.2v2.6h-17.2zM1843.2 2520.7h34.4v2.6h-34.4zM1774.5 2520.7h17.2v2.6h-17.2zM1791.7 2523.3h103.1v2.6h-103.1zM1912 2523.3h34.4v2.6h-34.4zM1671.3 2523.3h17.2v2.6h-17.2zM1619.7 2523.3h17.2v2.6h-17.2zM1705.7 2523.3h17.2v2.6h-17.2zM1585.3 2525.9h68.8v2.6h-68.8zM1671.3 2525.9h51.6v2.6h-51.6zM1826 2525.9h51.6v2.6h-51.6zM1808.8 2528.5h68.8v2.6h-68.8zM1602.5 2528.5h120.4v2.6h-120.4zM1843.2 2531.1h17.2v2.6h-17.2zM1568.1 2531.1h154.8v2.6h-154.8zM1774.5 2525.9h17.2v10.4h-17.2zM1533.7 2528.5h17.2v7.8h-17.2zM1568.1 2533.7h103.2v2.6h-103.2zM1843.2 2536.3h34.4v2.6h-34.4zM1550.9 2536.3h154.8v2.6h-154.8zM1602.5 2538.9h86v2.6h-86zM1774.5 2538.9h17.2v2.6h-17.2zM1826 2538.9h51.6v2.6h-51.6zM1705.7 2538.9h17.2v2.6h-17.2zM1602.5 2541.5h120.4v2.6h-120.4zM1533.7 2544.1h17.2v2.6h-17.2zM1568.1 2544.1h51.6v2.6h-51.6zM1636.9 2544.1h86v2.6h-86zM1654.1 2546.7h68.8v2.6h-68.8zM1774.5 2546.7h34.3v2.6h-34.3zM1826 2546.7h51.6v2.6h-51.6zM1568.1 2549.3h17.2v2.6h-17.2zM1533.7 2549.3h17.2v2.6h-17.2zM1602.5 2549.3h120.4v5.2h-120.4zM1843.2 2551.9h17.2v2.6h-17.2zM1568.1 2554.5h137.6v2.6h-137.6zM1860.4 2557.1h17.2v2.6h-17.2zM1619.7 2557.1h103.2v2.6h-103.2zM1568.1 2557.1h17.2v5.2h-17.2zM1654.1 2559.7h68.8v2.6h-68.8zM1602.5 2559.7h34.4v2.6h-34.4zM1533.7 2562.3h86v2.6h-86zM1671.3 2564.9h17.2v2.7h-17.2zM1774.5 2564.9h120.3v5.3h-120.3zM1654.1 2567.6h17.2v2.6h-17.2zM1619.7 2567.6h17.2v5.2h-17.2zM1688.5 2570.2h17.2v2.6h-17.2zM1774.5 2570.2h17.2v2.6h-17.2zM1808.8 2570.2h68.8v2.6h-68.8zM1877.6 2572.8h17.2v2.6h-17.2zM1774.5 2572.8h68.7v2.6h-68.7zM1929.2 2572.8h17.2v5.2h-17.2zM1774.5 2575.4h120.3v2.6h-120.3zM1860.4 2578h34.4v2.6h-34.4zM1774.5 2578h68.7v2.6h-68.7zM1998 2564.9h17.2v18.3h-17.2zM1688.5 2580.6h34.4v2.6h-34.4zM1654.1 2580.6h17.2v2.6h-17.2zM1774.5 2580.6h17.2v2.6h-17.2zM1774.5 2583.2h103.1v2.6h-103.1zM2032.4 2583.2h34.4v5.2h-34.4zM1877.6 2585.8h17.2v2.6h-17.2zM1929.2 2585.8h34.4v2.6h-34.4zM1877.6 2588.4h86v2.6h-86zM1877.6 2591h51.6v5.2h-51.6zM1946.4 2591h17.2v5.2h-17.2zM2032.4 2593.6h17.2v2.6h-17.2zM1877.6 2596.2h17.2v2.6h-17.2zM1929.2 2596.2h17.2v2.6h-17.2zM1774.5 2596.2h85.9v2.6h-85.9zM2049.6 2596.2h17.2v2.6h-17.2zM1998 2598.8h17.2v2.6h-17.2zM1774.5 2598.8h34.3v2.6h-34.3zM1826 2598.8h51.6v2.6h-51.6zM1808.8 2601.4h17.2v2.6h-17.2zM1877.6 2601.4h34.4v2.6h-34.4zM2032.4 2601.4h34.4v2.6h-34.4zM1791.7 2604h85.9v2.6h-85.9zM1929.2 2601.4h17.2v7.8h-17.2zM1877.6 2606.6h17.2v2.6h-17.2zM2032.4 2606.6h34.4v2.6h-34.4zM1774.5 2606.6h68.7v2.6h-68.7zM1774.5 2609.2h17.2v2.6h-17.2zM1826 2609.2h51.6v2.6h-51.6zM1705.7 2609.2h17.2v2.6h-17.2zM1998 2609.2h17.2v5.2h-17.2zM1688.5 2611.8h34.4v2.6h-34.4zM1602.5 2611.8h34.4v2.6h-34.4zM1774.5 2611.8h103.1v2.6h-103.1zM1533.7 2614.4h68.8v2.6h-68.8zM1619.7 2614.4h34.4v2.6h-34.4zM1826 2617h34.4v2.6h-34.4zM1619.7 2617h17.2v2.6h-17.2zM1774.5 2617h17.2v2.6h-17.2zM1654.1 2617h68.8v2.6h-68.8zM1602.5 2619.6h86v2.6h-86zM1705.7 2619.6h17.2v5.2h-17.2zM1671.3 2622.2h17.2v2.6h-17.2zM1774.5 2622.2h17.2v2.6h-17.2zM1602.5 2622.2h51.6v2.6h-51.6zM1568.1 2617h17.2v10.4h-17.2zM1602.5 2624.8h86v2.6h-86zM1550.9 2627.4h137.6v2.6h-137.6zM1705.7 2627.4h17.2v2.6h-17.2zM1602.5 2630h120.4v2.6h-120.4zM1602.5 2632.6h86v2.6h-86zM1705.7 2632.6h17.2v2.6h-17.2zM1808.8 2635.2h68.8v5.2h-68.8zM1998 2635.2h17.2v5.2h-17.2zM1619.7 2637.8h17.2v2.6h-17.2zM1568.1 2630h17.2v13h-17.2zM1602.5 2640.4h51.6v2.6h-51.6zM1671.3 2635.2h51.6v10.5h-51.6zM1774.5 2635.2h17.2v10.5h-17.2zM1843.2 2640.4h34.4v5.3h-34.4zM1619.7 2643h34.4v2.7h-34.4zM1550.9 2643h34.4v2.7h-34.4zM1929.2 2645.7h34.4v2.6h-34.4zM1894.8 2645.7h17.2v2.6h-17.2zM1860.4 2645.7h17.2v2.6h-17.2zM1791.7 2645.7h51.5v2.6h-51.5zM1671.3 2648.3h51.6v2.6h-51.6zM1998 2648.3h17.2v2.6h-17.2zM1619.7 2648.3h34.4v2.6h-34.4zM1791.7 2648.3h85.9v2.6h-85.9zM1843.2 2650.9h34.4v2.6h-34.4zM1774.5 2650.9h51.5v2.6h-51.5zM1705.7 2650.9h17.2v2.6h-17.2zM1929.2 2650.9h17.2v2.6h-17.2zM1894.8 2653.5h17.2v2.6h-17.2zM1998 2653.5h17.2v2.6h-17.2zM1688.5 2653.5h34.4v2.6h-34.4zM1808.8 2653.5h68.8v2.6h-68.8zM1774.5 2653.5h17.2v2.6h-17.2zM1619.7 2656.1h17.2v2.6h-17.2zM1826 2656.1h51.6v2.6h-51.6zM1791.7 2656.1h17.1v2.6h-17.1zM1843.2 2658.7h17.2v2.6h-17.2zM1619.7 2658.7h34.4v2.6h-34.4zM1568.1 2656.1h17.2v7.8h-17.2zM1774.5 2658.7h17.2v5.2h-17.2zM1998 2661.3h17.2v5.2h-17.2zM1619.7 2661.3h17.2v5.2h-17.2zM1671.3 2656.1h51.6v13h-51.6zM1826 2661.3h51.6v7.8h-51.6zM1774.5 2663.9h34.3v5.2h-34.3zM1688.5 2669.1h17.2v2.6h-17.2zM1602.5 2669.1h68.8v5.2h-68.8zM1550.9 2669.1h34.4v5.2h-34.4zM1568.1 2674.3h17.2v2.6h-17.2zM1602.5 2674.3h103.2v2.6h-103.2zM1688.5 2676.9h34.4v2.6h-34.4zM1774.5 2676.9h34.3v2.6h-34.3zM1826 2676.9h51.6v2.6h-51.6zM1619.7 2676.9h17.2v2.6h-17.2zM1654.1 2679.5h17.2v2.6h-17.2zM1585.3 2679.5h17.2v2.6h-17.2zM1568.1 2682.1h17.2v2.6h-17.2zM1602.5 2682.1h103.2v2.6h-103.2zM1774.5 2682.1h17.2v2.6h-17.2zM1843.2 2682.1h17.2v2.6h-17.2z"/><path fill="#4AC76E" d="M1550.9 1664.2h17.2v2.6h-17.2zM1585.3 1664.2h17.2v2.6h-17.2zM1550.9 1682.4h17.2v2.6h-17.2zM1585.3 1687.6h17.2v2.6h-17.2zM1550.9 1687.6h17.2v2.6h-17.2zM1533.7 1739.7h17.2v2.6h-17.2zM1585.3 1739.7h17.2v2.6h-17.2zM1533.7 1747.5h34.4v2.6h-34.4zM1550.9 1750.1h17.2v2.6h-17.2zM1585.3 1752.7h17.2v5.2h-17.2zM1533.7 1757.9h17.2v2.6h-17.2zM1602.5 1757.9h17.2v2.6h-17.2zM1722.9 1979.2h17.2v2.6h-17.2zM1894.8 1979.2h68.8v2.6h-68.8zM1550.9 1981.8h17.2v2.6h-17.2zM1791.7 1987h34.3v2.6h-34.3zM1585.3 1989.6h68.8v2.6h-68.8zM1774.5 1989.6h103.1v2.6h-103.1zM1671.3 1989.6h51.6v5.2h-51.6zM1774.5 1992.2h85.9v2.6h-85.9zM1602.5 1992.2h34.4v2.6h-34.4zM1568.1 1994.8h103.2v2.6h-103.2zM1688.5 1994.8h17.2v2.6h-17.2zM1688.5 1997.4h34.4v2.6h-34.4zM1533.7 1997.4h137.6v2.6h-137.6zM1654.1 2005.2h17.2v2.6h-17.2zM1550.9 2005.2h17.2v2.6h-17.2zM2049.6 2013h17.2v2.6h-17.2zM2049.6 2018.3h17.2v2.6h-17.2zM1843.2 2065.1h17.2v2.6h-17.2zM2049.6 2093.7h17.2v2.7h-17.2zM2032.4 2096.4h17.2v2.6h-17.2zM2032.4 2099h34.4v2.6h-34.4zM2032.4 2101.6h17.2v5.2h-17.2zM1998 2104.2h17.2v5.2h-17.2zM2032.4 2106.8h34.4v2.6h-34.4zM1533.7 2109.4h17.2v2.6h-17.2zM2049.6 2109.4h17.2v5.2h-17.2zM1998 2112h17.2v2.6h-17.2zM1550.9 2127.6h17.2v2.6h-17.2zM1585.3 2130.2h17.2v5.2h-17.2zM1550.9 2138h17.2v2.6h-17.2zM1585.3 2138h17.2v2.6h-17.2zM1550.9 2145.8h17.2v2.6h-17.2zM1998 2161.4h17.2v2.6h-17.2zM1585.3 2161.4h17.2v2.6h-17.2zM1550.9 2161.4h17.2v2.6h-17.2zM1998 2174.5h17.2v2.6h-17.2zM1636.9 2174.5h17.2v2.6h-17.2zM1585.3 2174.5h17.2v2.6h-17.2zM1585.3 2179.7h17.2v2.6h-17.2zM1550.9 2197.9h17.2v2.6h-17.2zM1585.3 2190.1h17.2v15.6h-17.2zM1585.3 2208.3h17.2v2.6h-17.2zM1550.9 2213.5h17.2v2.6h-17.2zM1585.3 2213.5h17.2v2.6h-17.2zM1585.3 2221.3h17.2v2.6h-17.2zM1568.1 2223.9h51.6v2.6h-51.6zM1585.3 2226.5h17.2v2.6h-17.2zM1585.3 2231.7h17.2v2.6h-17.2zM1550.9 2231.7h17.2v2.6h-17.2zM1533.7 2260.4h34.4v5.2h-34.4zM1619.7 2263h17.2v2.6h-17.2zM1585.3 2260.4h17.2v10.4h-17.2zM1533.7 2268.2h34.4v2.6h-34.4zM1740.1 2450.4h17.2v5.2h-17.2zM2049.6 2453h17.2v2.6h-17.2zM2049.6 2463.4h17.2v2.6h-17.2zM1998 2455.6h17.2v13h-17.2zM1980.8 2473.8h17.2v2.6h-17.2zM1998 2476.4h17.2v5.2h-17.2zM1980.8 2481.6h17.2v2.6h-17.2zM1998 2484.2h17.2v5.3h-17.2zM1998 2494.7h17.2v2.6h-17.2zM1740.1 2497.3h34.4v2.6h-34.4zM1533.7 2505.1h86v2.6h-86zM1533.7 2507.7h68.8v2.6h-68.8zM1688.5 2507.7h17.2v2.6h-17.2zM1550.9 2512.9h51.6v2.6h-51.6zM1533.7 2518.1h51.6v2.6h-51.6zM1550.9 2520.7h34.4v2.6h-34.4zM1636.9 2523.3h34.4v2.6h-34.4zM1774.5 2523.3h17.2v2.6h-17.2zM1688.5 2523.3h17.2v2.6h-17.2zM1533.7 2523.3h86v2.6h-86zM1654.1 2525.9h17.2v2.6h-17.2zM1533.7 2525.9h51.6v2.6h-51.6zM1550.9 2528.5h51.6v2.6h-51.6zM1550.9 2531.1h17.2v5.2h-17.2zM1533.7 2536.3h17.2v2.6h-17.2zM1688.5 2538.9h17.2v2.6h-17.2zM1533.7 2538.9h68.8v5.2h-68.8zM1550.9 2544.1h17.2v2.6h-17.2zM1533.7 2546.7h120.4v2.6h-120.4zM1585.3 2549.3h17.2v2.6h-17.2zM1550.9 2549.3h17.2v2.6h-17.2zM1533.7 2551.9h68.8v2.6h-68.8zM1585.3 2557.1h34.4v2.6h-34.4zM1533.7 2554.5h34.4v7.8h-34.4zM1636.9 2559.7h17.2v2.6h-17.2zM1585.3 2559.7h17.2v2.6h-17.2zM1533.7 2564.9h17.2v2.7h-17.2zM1688.5 2564.9h34.4v2.7h-34.4zM1568.1 2564.9h103.2v2.7h-103.2zM1671.3 2567.6h51.6v2.6h-51.6zM1636.9 2567.6h17.2v2.6h-17.2zM1568.1 2567.6h51.6v5.2h-51.6zM1636.9 2570.2h51.6v2.6h-51.6zM1705.7 2570.2h17.2v2.6h-17.2zM1533.7 2570.2h17.2v2.6h-17.2zM1843.2 2572.8h34.4v2.6h-34.4zM1654.1 2572.8h68.8v5.2h-68.8zM1568.1 2575.4h17.2v2.6h-17.2zM1619.7 2575.4h17.2v5.2h-17.2zM1843.2 2578h17.2v2.6h-17.2zM1705.7 2578h17.2v2.6h-17.2zM1671.3 2578h17.2v5.2h-17.2zM1568.1 2580.6h86v2.6h-86zM1688.5 2583.2h34.4v2.6h-34.4zM1619.7 2583.2h17.2v2.6h-17.2zM1998 2583.2h17.2v5.2h-17.2zM1774.5 2585.8h103.1v2.6h-103.1zM1791.7 2588.4h51.5v2.6h-51.5zM1860.4 2588.4h17.2v2.6h-17.2zM2032.4 2588.4h34.4v5.2h-34.4zM1774.5 2591h68.7v2.6h-68.7zM1929.2 2591h17.2v5.2h-17.2zM1791.7 2593.6h85.9v2.6h-85.9zM2049.6 2593.6h17.2v2.6h-17.2zM1671.3 2596.2h51.6v2.6h-51.6zM1998 2596.2h17.2v2.6h-17.2zM1860.4 2596.2h17.2v2.6h-17.2zM1533.7 2598.8h17.2v2.6h-17.2zM1602.5 2598.8h120.4v2.6h-120.4zM1568.1 2598.8h17.2v2.6h-17.2zM1688.5 2601.4h34.4v2.6h-34.4zM1826 2601.4h51.6v2.6h-51.6zM1774.5 2601.4h34.3v2.6h-34.3zM1654.1 2604h68.8v2.6h-68.8zM1774.5 2604h17.2v2.6h-17.2zM1602.5 2604h34.4v2.6h-34.4zM1998 2601.4h17.2v7.8h-17.2zM1671.3 2606.6h51.6v2.6h-51.6zM1619.7 2606.6h17.2v2.6h-17.2zM1843.2 2606.6h34.4v2.6h-34.4zM1533.7 2609.2h17.2v2.6h-17.2zM1602.5 2609.2h103.2v2.6h-103.2zM1568.1 2609.2h17.2v5.2h-17.2zM1636.9 2611.8h51.6v2.6h-51.6zM1636.9 2617h17.2v2.6h-17.2zM1585.3 2617h34.4v2.6h-34.4zM1654.1 2622.2h17.2v2.6h-17.2zM1533.7 2617h34.4v10.4h-34.4zM1585.3 2619.6h17.2v7.8h-17.2zM1533.7 2627.4h17.2v2.6h-17.2zM1585.3 2630h17.2v5.2h-17.2zM1533.7 2630h34.4v5.2h-34.4zM1585.3 2635.2h86v2.6h-86zM1550.9 2635.2h17.2v2.6h-17.2zM1636.9 2637.8h34.4v2.6h-34.4zM1585.3 2637.8h34.4v2.6h-34.4zM1533.7 2637.8h34.4v5.2h-34.4zM1585.3 2640.4h17.2v2.6h-17.2zM1654.1 2640.4h17.2v5.3h-17.2zM1533.7 2643h17.2v2.7h-17.2zM1585.3 2643h34.4v2.7h-34.4zM1998 2645.7h17.2v2.6h-17.2zM1671.3 2645.7h51.6v2.6h-51.6zM1843.2 2645.7h17.2v2.6h-17.2zM1619.7 2645.7h34.4v2.6h-34.4zM1568.1 2645.7h17.2v2.6h-17.2zM1774.5 2645.7h17.2v5.2h-17.2zM1654.1 2648.3h17.2v2.6h-17.2zM1533.7 2648.3h86v2.6h-86zM1998 2650.9h17.2v2.6h-17.2zM1826 2650.9h17.2v2.6h-17.2zM1619.7 2650.9h34.4v2.6h-34.4zM1671.3 2650.9h34.4v2.6h-34.4zM1568.1 2650.9h17.2v5.2h-17.2zM1602.5 2653.5h86v2.6h-86zM1636.9 2656.1h34.4v2.6h-34.4zM1585.3 2656.1h34.4v5.2h-34.4zM1533.7 2656.1h34.4v5.2h-34.4zM1654.1 2658.7h17.2v2.6h-17.2zM1550.9 2661.3h17.2v2.6h-17.2zM1602.5 2661.3h17.2v2.6h-17.2zM1636.9 2661.3h34.4v5.2h-34.4zM1533.7 2663.9h86v2.6h-86zM1533.7 2666.5h137.6v2.6h-137.6zM1533.7 2669.1h17.2v5.2h-17.2zM1585.3 2669.1h17.2v7.8h-17.2zM1533.7 2674.3h34.4v2.6h-34.4zM1602.5 2676.9h17.2v2.6h-17.2zM1550.9 2676.9h34.4v2.6h-34.4zM1636.9 2676.9h51.6v2.6h-51.6zM1585.3 2682.1h17.2v2.6h-17.2zM1533.7 2682.1h34.4v2.6h-34.4z"/><path fill="#7ACF58" d="M1568.1 1747.5h34.4v5.2h-34.4zM1533.7 1750.1h17.2v2.6h-17.2zM1774.5 1979.2h34.3v2.6h-34.3zM1585.3 1979.2h17.2v2.6h-17.2zM1533.7 1979.2h17.2v2.6h-17.2zM1860.4 1979.2h34.4v2.6h-34.4zM1533.7 1989.6h51.6v2.6h-51.6zM1654.1 1989.6h17.2v2.6h-17.2zM1636.9 1992.2h34.4v2.6h-34.4zM1533.7 1992.2h68.8v2.6h-68.8zM1533.7 1994.8h34.4v2.6h-34.4zM1636.9 2007.8h17.2v2.6h-17.2zM1585.3 2007.8h17.2v2.6h-17.2zM1533.7 2007.8h17.2v5.2h-17.2zM1688.5 2010.4h17.2v2.6h-17.2zM1740.1 2015.6h17.2v2.7h-17.2zM2049.6 2096.4h17.2v2.6h-17.2zM1998 2096.4h17.2v7.8h-17.2zM2049.6 2101.6h17.2v5.2h-17.2zM1998 2109.4h17.2v2.6h-17.2zM2049.6 2450.4h17.2v2.6h-17.2zM1998 2450.4h17.2v2.6h-17.2zM1757.3 2450.4h17.2v5.2h-17.2zM2049.6 2455.6h17.2v7.8h-17.2zM1740.1 2463.4h17.2v5.2h-17.2zM2049.6 2466h17.2v7.8h-17.2zM1998 2468.6h17.2v7.8h-17.2zM2049.6 2476.4h17.2v5.2h-17.2zM1998 2489.5h17.2v5.2h-17.2zM2049.6 2484.2h17.2v13.1h-17.2zM1740.1 2494.7h17.2v2.6h-17.2zM1550.9 2564.9h17.2v2.7h-17.2zM1533.7 2567.6h34.4v2.6h-34.4zM1550.9 2570.2h17.2v2.6h-17.2zM1568.1 2572.8h86v2.6h-86zM1533.7 2572.8h17.2v2.6h-17.2zM1636.9 2575.4h17.2v2.6h-17.2zM1585.3 2575.4h34.4v2.6h-34.4zM1533.7 2575.4h34.4v2.6h-34.4zM1533.7 2578h86v2.6h-86zM1688.5 2578h17.2v2.6h-17.2zM1636.9 2578h34.4v2.6h-34.4zM1533.7 2580.6h34.4v2.6h-34.4zM1568.1 2583.2h51.6v2.6h-51.6zM1636.9 2583.2h51.6v2.6h-51.6zM1619.7 2585.8h103.2v2.6h-103.2zM1568.1 2585.8h17.2v2.6h-17.2zM1654.1 2588.4h17.2v2.6h-17.2zM1774.5 2588.4h17.2v2.6h-17.2zM1843.2 2588.4h17.2v2.6h-17.2zM1688.5 2588.4h34.4v2.6h-34.4zM1843.2 2591h34.4v2.6h-34.4zM1998 2588.4h17.2v7.8h-17.2zM1774.5 2593.6h17.2v2.6h-17.2zM1671.3 2593.6h51.6v2.6h-51.6zM1533.7 2596.2h137.6v2.6h-137.6zM1585.3 2598.8h17.2v2.6h-17.2zM1550.9 2598.8h17.2v2.6h-17.2zM1654.1 2601.4h34.4v2.6h-34.4zM1568.1 2601.4h17.2v2.6h-17.2zM1619.7 2601.4h17.2v2.6h-17.2zM1636.9 2604h17.2v2.6h-17.2zM1533.7 2604h68.8v2.6h-68.8zM1533.7 2606.6h86v2.6h-86zM1636.9 2606.6h34.4v2.6h-34.4zM1550.9 2609.2h17.2v2.6h-17.2zM1585.3 2609.2h17.2v5.2h-17.2zM1533.7 2611.8h34.4v2.6h-34.4zM1533.7 2635.2h17.2v2.6h-17.2zM1585.3 2645.7h34.4v2.6h-34.4zM1654.1 2645.7h17.2v2.6h-17.2zM1533.7 2645.7h34.4v2.6h-34.4zM1585.3 2650.9h34.4v2.6h-34.4zM1654.1 2650.9h17.2v2.6h-17.2zM1533.7 2650.9h34.4v5.2h-34.4zM1585.3 2653.5h17.2v2.6h-17.2zM1533.7 2661.3h17.2v2.6h-17.2zM1585.3 2661.3h17.2v2.6h-17.2zM1585.3 2676.9h17.2v2.6h-17.2zM1533.7 2676.9h17.2v2.6h-17.2z"/><path fill="#9AD546" d="M1808.8 1979.2h51.6v2.6h-51.6zM1550.9 1979.2h34.4v2.6h-34.4zM1602.5 1979.2h120.4v2.6h-120.4zM1585.3 1984.4h120.4v2.6h-120.4zM1533.7 1984.4h34.4v2.6h-34.4zM1533.7 1987h17.2v2.6h-17.2zM1602.5 1987h17.2v2.6h-17.2zM1636.9 1987h86v2.6h-86zM1602.5 2007.8h34.4v2.6h-34.4zM1654.1 2007.8h68.8v2.6h-68.8zM1550.9 2007.8h34.4v5.2h-34.4zM1705.7 2010.4h17.2v2.6h-17.2zM1602.5 2010.4h86v2.6h-86zM1740.1 2013h34.4v2.6h-34.4zM1740.1 2018.3h34.4v2.6h-34.4zM1740.1 2020.9h17.2v2.6h-17.2zM1740.1 2023.5h34.4v2.6h-34.4zM1740.1 2455.6h17.2v2.6h-17.2zM1740.1 2458.2h34.4v5.2h-34.4zM1757.3 2463.4h17.2v5.2h-17.2zM1740.1 2468.6h17.2v2.6h-17.2zM1740.1 2471.2h34.4v2.6h-34.4zM2049.6 2473.8h17.2v2.6h-17.2zM1740.1 2476.4h34.4v5.2h-34.4zM1998 2481.6h17.2v2.6h-17.2zM1740.1 2484.2h34.4v2.6h-34.4zM1740.1 2486.8h17.2v7.9h-17.2zM1757.3 2494.7h17.2v2.6h-17.2zM1550.9 2572.8h17.2v2.6h-17.2zM1533.7 2583.2h34.4v5.2h-34.4zM1585.3 2585.8h34.4v2.6h-34.4zM1533.7 2588.4h120.4v2.6h-120.4zM1671.3 2588.4h17.2v2.6h-17.2zM1568.1 2591h154.8v2.6h-154.8zM1533.7 2591h17.2v5.2h-17.2zM1602.5 2593.6h68.8v2.6h-68.8zM1568.1 2593.6h17.2v2.6h-17.2zM1533.7 2601.4h34.4v2.6h-34.4zM1636.9 2601.4h17.2v2.6h-17.2zM1585.3 2601.4h34.4v2.6h-34.4z"/><path fill="#BCDB33" d="M1705.7 1984.4h17.2v2.6h-17.2zM1568.1 1984.4h17.2v2.6h-17.2zM1550.9 1987h51.6v2.6h-51.6zM1619.7 1987h17.2v2.6h-17.2zM1585.3 2010.4h17.2v2.6h-17.2zM1757.3 2015.6h17.2v2.7h-17.2zM1757.3 2020.9h17.2v2.6h-17.2zM1757.3 2455.6h17.2v2.6h-17.2zM1757.3 2468.6h17.2v2.6h-17.2zM1740.1 2473.8h34.4v2.6h-34.4zM1740.1 2481.6h17.2v2.6h-17.2zM2049.6 2481.6h17.2v2.6h-17.2zM1757.3 2486.8h17.2v7.9h-17.2zM1550.9 2591h17.2v5.2h-17.2zM1585.3 2593.6h17.2v2.6h-17.2z"/><path fill="#DCDC26" d="M1757.3 2481.6h17.2v2.6h-17.2z"/></g><path d="M1576.7 1661.6V1648.3H1593.9V1661.6M1559.5 1661.6V1646.3H1585.3V1648.3M1542.3 1661.6V1643.4H1572.4V1646.3M1645.5 1661.6V1646.7H1662.7V1661.6M1628.3 1661.6V1644.6H1654.1V1646.7M1611.1 1661.6V1642.2H1641.2V1644.6M1557.3 1643.4V1633.1H1626.1V1642.2M1697.1 1661.6V1642.2H1714.3V1661.6M1679.9 1661.6V1633.1H1705.7V1642.2M1591.7 1633.1V1619.5H1692.8V1633.1M1748.7 1661.6V1637.2H1765.9V1661.6M1731.5 1661.6V1622.8H1757.3V1637.2M1783.1 1661.6V1650.8H1800.2V1661.6M1817.4 1661.6V1646.3H1834.6V1661.6M1851.8 1661.6V1644.6H1869.0V1661.6M1826.0 1646.3V1641.3H1860.4V1644.6M1791.7 1650.8V1631.1H1843.2V1641.3M1903.4 1661.6V1640.5H1920.6V1661.6M1886.2 1661.6V1637.2H1912.0V1640.5M1937.8 1661.6V1636.4H1955.0V1661.6M1899.1 1637.2V1629.8H1946.4V1636.4M1817.4 1631.1V1614.6H1922.8V1629.8M1972.2 1661.6V1639.3H1989.4V1661.6M2041.0 1661.6V1629.8H2058.2V1661.6M2023.8 1661.6V1626.9H2049.6V1629.8M2006.6 1661.6V1621.6H2036.7V1626.9M1980.8 1639.3V1611.3H2021.7V1621.6M1870.1 1614.6V1585.8H2001.2V1611.3M1744.4 1622.8V1576.3H1935.7V1585.8M1642.3 1619.5V1541.4H1840.0V1576.3" fill="none" stroke="#2e2e2e" stroke-width="1.75" stroke-linejoin="miter"/><g shape-rendering="crispEdges"><rect x="2079.2" y="1661.50" width="21.3" height="17.40" fill="#440F57"/><rect x="2079.2" y="1678.60" width="21.3" height="17.40" fill="#46196A"/><rect x="2079.2" y="1695.69" width="21.3" height="17.40" fill="#432D74"/><rect x="2079.2" y="1712.79" width="21.3" height="17.40" fill="#3C4282"/><rect x="2079.2" y="1729.88" width="21.3" height="17.40" fill="#2D5690"/><rect x="2079.2" y="1746.97" width="21.3" height="17.40" fill="#0A6295"/><rect x="2079.2" y="1764.07" width="21.3" height="17.40" fill="#0F7098"/><rect x="2079.2" y="1781.16" width="21.3" height="17.40" fill="#0C7D96"/><rect x="2079.2" y="1798.26" width="21.3" height="17.40" fill="#0A8A94"/><rect x="2079.2" y="1815.36" width="21.3" height="17.40" fill="#0F9690"/><rect x="2079.2" y="1832.45" width="21.3" height="17.40" fill="#129D8C"/><rect x="2079.2" y="1849.55" width="21.3" height="17.40" fill="#10A888"/><rect x="2079.2" y="1866.64" width="21.3" height="17.40" fill="#06B583"/><rect x="2079.2" y="1883.74" width="21.3" height="17.40" fill="#07C07C"/><rect x="2079.2" y="1900.83" width="21.3" height="17.40" fill="#4AC76E"/><rect x="2079.2" y="1917.93" width="21.3" height="17.40" fill="#7ACF58"/><rect x="2079.2" y="1935.02" width="21.3" height="17.40" fill="#9AD546"/><rect x="2079.2" y="1952.12" width="21.3" height="17.40" fill="#BCDB33"/><rect x="2079.2" y="1969.21" width="21.3" height="17.40" fill="#DCDC26"/><rect x="2079.2" y="1986.31" width="21.3" height="17.40" fill="#FFDD33"/></g><g font-size="19.4" fill="#222"><text x="2110.3" y="1677.8">15</text><text x="2110.3" y="1777.0">10</text><text x="2110.3" y="1876.2">5</text><text x="2110.3" y="1975.4">0</text></g><g font-size="22.80" fill="#1a1a1a" stroke="#1a1a1a" stroke-width="0.35"><text transform="translate(1534.5 2694.5) rotate(90)">Extraction_14</text><text transform="translate(1551.7 2694.5) rotate(90)">Extraction_16</text><text transform="translate(1568.8 2694.5) rotate(90)">Extraction_12</text><text transform="translate(1586.0 2694.5) rotate(90)">Extraction_13</text><text transform="translate(1603.2 2694.5) rotate(90)">Extraction_9</text><text transform="translate(1620.4 2694.5) rotate(90)">Extraction_1</text><text transform="translate(1637.6 2694.5) rotate(90)">Extraction_3</text><text transform="translate(1654.8 2694.5) rotate(90)">Extraction_17</text><text transform="translate(1672.0 2694.5) rotate(90)">Extraction_6</text><text transform="translate(1689.2 2694.5) rotate(90)">Extraction_19</text><text transform="translate(1706.4 2694.5) rotate(90)">MSC Treatment_7</text><text transform="translate(1723.6 2694.5) rotate(90)">Extraction_5</text><text transform="translate(1740.8 2694.5) rotate(90)">MSC Treatment_9</text><text transform="translate(1758.0 2694.5) rotate(90)">MSC Treatment_10</text><text transform="translate(1775.2 2694.5) rotate(90)">Extraction_11</text><text transform="translate(1792.4 2694.5) rotate(90)">Extraction_15</text><text transform="translate(1809.6 2694.5) rotate(90)">MSC Treatment_2</text><text transform="translate(1826.8 2694.5) rotate(90)">MSC Treatment_8</text><text transform="translate(1844.0 2694.5) rotate(90)">Extraction_7</text><text transform="translate(1861.2 2694.5) rotate(90)">MSC Treatment_6</text><text transform="translate(1878.4 2694.5) rotate(90)">MSC Treatment_5</text><text transform="translate(1895.6 2694.5) rotate(90)">Extraction_18</text><text transform="translate(1912.8 2694.5) rotate(90)">MSC Treatment_3</text><text transform="translate(1930.0 2694.5) rotate(90)">MSC Treatment_11</text><text transform="translate(1947.2 2694.5) rotate(90)">MSC Treatment_12</text><text transform="translate(1964.4 2694.5) rotate(90)">MSC Treatment_1</text><text transform="translate(1981.6 2694.5) rotate(90)">MSC Treatment_4</text><text transform="translate(1998.8 2694.5) rotate(90)">Extraction_2</text><text transform="translate(2016.0 2694.5) rotate(90)">Extraction_10</text><text transform="translate(2033.2 2694.5) rotate(90)">Extraction_4</text><text transform="translate(2050.4 2694.5) rotate(90)">Extraction_8</text></g></svg></body></html>
